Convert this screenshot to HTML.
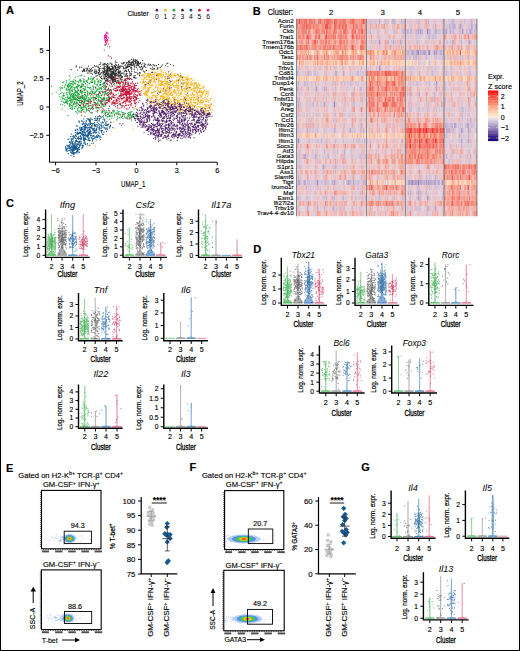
<!DOCTYPE html>
<html><head><meta charset="utf-8"><style>
html,body{margin:0;padding:0;background:#fff;}
svg{display:block;}
text{font-family:"Liberation Sans", sans-serif;stroke:#000;stroke-width:0.14px;}
</style></head><body>
<svg width="520" height="651" viewBox="0 0 520 651">
<rect x="0" y="0" width="520" height="651" fill="#fff"/>
<text x="6.00" y="13.90" font-size="11" text-anchor="start" font-weight="bold" font-style="normal" fill="#000" >A</text>
<text x="252.80" y="14.90" font-size="11" text-anchor="start" font-weight="bold" font-style="normal" fill="#000" >B</text>
<text x="6.00" y="206.90" font-size="11" text-anchor="start" font-weight="bold" font-style="normal" fill="#000" >C</text>
<text x="253.30" y="252.60" font-size="11" text-anchor="start" font-weight="bold" font-style="normal" fill="#000" >D</text>
<text x="6.00" y="471.90" font-size="11" text-anchor="start" font-weight="bold" font-style="normal" fill="#000" >E</text>
<text x="189.60" y="471.20" font-size="11" text-anchor="start" font-weight="bold" font-style="normal" fill="#000" >F</text>
<text x="361.20" y="471.10" font-size="11" text-anchor="start" font-weight="bold" font-style="normal" fill="#000" >G</text>
<g stroke-linecap="round" fill="none">
<path d="M83 97h0M91 97.8h0M103 104.8h0M67.6 97h0M73.8 81.9h0M85.5 83.4h0M78.5 98.3h0M90.5 100.2h0M75.5 90.6h0M77.7 86.7h0M75.1 99.3h0M86.4 109h0M79.4 94.4h0M78.4 93.7h0M100.2 84.4h0M108.3 99.5h0M104.3 103.4h0M109.2 97.6h0M101.5 104h0M81.5 110.5h0M86.6 81.6h0M98.1 86.3h0M79.9 102.3h0M97.3 96.7h0M89.7 88.6h0M71.9 90.1h0M77.4 108.6h0M78.4 107.1h0M88.8 108.7h0M68.8 89.2h0M84.5 96.8h0M103.3 98.9h0M92.8 109.2h0M103.8 85.6h0M100.1 95.8h0M80.2 92.2h0M93.4 97.8h0M72.7 97.8h0M100.6 80.8h0M85 92.8h0M66.7 80.7h0M77.7 85h0M94.9 91.9h0M90.9 79h0M88.1 87.6h0M67.8 86.7h0M84.9 76.2h0M69.6 104.7h0M88.4 110.2h0M87.6 103.5h0M83.8 85.2h0M69.4 93.8h0M105.8 84.8h0M88.7 79.5h0M89.8 105.6h0M71.8 105.7h0M73 80.8h0M105.4 87.8h0M93 93.3h0M95.7 107.4h0M104.7 98.4h0M100.6 97.6h0M82.2 84.3h0M85.1 98.2h0M97.7 105.8h0M68.9 84.5h0M90.9 81.8h0M78.9 97.8h0M94.1 102.3h0M78.6 104.1h0M101 106.5h0M85.5 94.4h0M96.8 95.5h0M89.3 98.1h0M103.1 92.6h0M97.8 107.5h0M95.5 102.6h0M98.4 81.9h0M104 84.9h0M92.9 93.2h0M67.6 103.7h0M84.5 98.7h0M98.4 100.5h0M94.5 82.2h0M106.9 99.5h0M91.4 108.4h0M81.1 97.7h0M71.2 96.6h0M108.2 89.2h0M91.4 91h0M77.2 95.3h0M82 109.3h0M81.9 92.8h0M108.5 96.9h0M76.6 103.7h0M75.7 83.9h0M93.4 97.5h0M79.7 105.4h0M62 100.1h0M70.3 85.2h0M100.5 101.4h0M107.2 100.2h0M105.3 105.8h0M72.6 109h0M71.2 86.4h0M82.9 109.5h0M62.8 95.9h0M88.5 77.9h0M103.4 78.1h0M99.7 97h0M91.3 82.7h0M95.2 99.3h0M79.1 107.7h0M73.6 94.4h0M83.3 78.3h0M68.2 87.3h0M92.6 91.6h0M106.9 102.3h0M91.9 88h0M79.4 101h0M90.3 102.2h0M90.5 109.5h0M60.7 90.1h0M95.2 81h0M76.6 87.4h0M74.9 106.3h0M66.3 92.5h0M98.9 96.6h0M95 87h0M69.8 105.4h0M80.1 75.4h0M84.5 102.4h0M92.9 85.6h0M81.7 103.9h0M97.3 85.2h0M99.3 88.9h0M96.4 98.2h0M66.3 99.3h0M84.1 103.6h0M88.5 100.7h0M93.1 79.4h0M87.9 104.2h0M106.5 98.2h0M96.6 94.7h0M95.3 98.8h0M96.7 103.7h0M79.5 85.3h0M89.1 94.3h0M99.7 101.6h0M80.8 96.7h0M68 90h0M73.6 93.3h0M73.8 104.1h0M76.5 103.8h0M76.4 106.1h0M66.9 101h0M91.3 94.2h0M90.3 99.4h0M73.4 95.8h0M94.4 93.7h0M74.9 88.5h0M81.4 108.6h0M62.4 82.3h0M91.2 76.6h0M100.7 88.2h0M68 101.5h0M80.2 87.7h0M93.7 100.1h0M82 100.9h0M88.3 99.1h0M71.8 87.1h0M74 93.3h0M104.6 102h0M70.8 94h0M70.2 91.8h0M76.7 86.4h0M77.3 113.5h0M80.6 98.3h0M83.5 102.8h0M93.2 98.9h0M76.8 91.3h0M89.1 93.3h0M88.8 97.6h0M98.6 89h0M86.3 105.9h0M103.2 89.8h0M86.6 108h0M75.5 97.1h0M97 105.5h0M70 100h0M105 106.2h0M79.7 111.7h0M72.6 105.2h0M103.9 85.2h0M97.3 96.2h0M71.6 90.5h0M71.1 101.1h0M97.9 101.9h0M93.3 98.4h0M67.6 99.8h0M66.4 82.1h0M74.2 102.6h0M69.4 103.6h0M100.4 88.2h0M83.7 97.7h0M71.2 81.6h0M74.1 89.3h0M105.8 103.7h0M91.5 82.3h0M105.7 92.6h0M100.3 97.5h0M73 100h0M71.7 87.3h0M96.4 90.9h0M103.3 99.6h0M63.7 98.8h0M72.6 106.8h0M73.7 99.5h0M95.3 103.4h0M72 88h0M84.7 100.4h0M84.3 102.2h0M103.1 93h0M84 106.3h0M84.9 99.5h0M81.3 95.1h0M64.2 86.8h0M80.9 100.4h0M98 83.8h0M105.6 86.6h0M70.5 81.3h0M102.8 84.2h0M97.8 102.6h0M101.9 103.3h0M84.9 81h0M84 92.4h0M93.1 86.7h0M103.8 104h0M94.4 97.5h0M81.8 107.3h0M70.5 100.8h0M87 97.6h0M73.2 84.3h0M97.5 79.6h0M101.3 89.4h0M101.3 87h0M91.1 105.5h0M83 86.3h0M80.2 81.9h0M89.2 108.1h0M70.8 85.8h0M74.9 82.9h0M104.9 99.9h0M64.8 103h0M105 93.2h0M96.1 88.9h0M84.2 79.6h0M77.9 100.4h0M95.1 84.1h0M80.4 91.4h0M110.2 93.6h0M81.7 84.9h0M74.9 102.4h0M73.1 96.8h0M99 93.4h0M61.8 97.3h0M82.2 93.5h0M77.4 95.2h0M98.4 97.9h0M86.1 96.6h0M81.6 81.2h0M97.4 110.3h0M75.1 108h0M73 85.3h0M105.3 88.4h0M91.6 98.2h0M62.9 95.5h0M69.4 82.9h0M75.2 80.9h0M88.9 101.4h0M91 93.2h0M98 82h0M81.5 108.7h0M97.6 89.4h0M80.5 86.3h0M96.6 84.9h0M98.2 89.1h0M89.8 93.4h0M99.8 100.2h0M87 84.9h0M73.6 104.5h0M93.2 89.6h0M67.9 90h0M94.9 82.7h0M82.2 91.9h0M80.8 110.8h0M90.6 112.5h0M98.4 94.4h0M79.9 104.5h0M100.8 85.1h0M108 98.2h0M106.4 87.5h0M84.9 102.6h0M71.4 94.4h0M103 92h0M87.7 95.6h0M85.3 86.7h0M80.4 86.4h0M85.9 98.2h0M108.2 97.6h0M82.7 84h0M77.6 88.6h0M96.2 91.3h0M104.3 86.3h0M77.2 88.3h0M90.8 97.8h0M96.5 94.9h0M93.1 95.7h0M72.2 89.7h0M94.8 102.4h0M71.3 99h0M92.3 92.2h0M66.3 94.8h0M85.9 96.1h0M69.4 85.9h0M104 100h0M104.6 92h0M65.6 102.2h0M102.8 86.5h0M92.9 78.8h0M88.7 103h0M108.5 97.6h0M90.9 112.8h0M82.5 95.3h0M69.6 98.3h0M97.8 81.4h0M106.3 110.3h0M78.2 81.6h0M108.8 92.9h0M83.5 80.2h0M70.7 108.6h0M79.7 102.4h0M86.4 80.7h0M65.6 101.2h0M109.1 97.2h0M76.6 112h0M90.4 81.9h0M69.2 79.9h0M78.6 104.6h0M81 91.9h0M103.2 106.4h0M72.3 91.6h0M79.3 80.5h0M84.9 89.6h0M79.3 100.9h0M97 107.8h0M80.1 92.8h0M67.2 102.5h0M66.6 89.8h0M91.8 107.2h0M67.2 85.2h0M95.9 106.8h0M97.7 110.8h0M62.5 88.2h0M72.4 96.9h0M76.9 101.7h0M85.7 89.1h0M109.2 96.2h0M68.2 83.8h0M104.3 91.3h0M70.7 104h0M88.8 79.1h0M82 98.1h0M68.6 87.2h0M69 100.3h0M81.8 93.4h0M83.8 102.2h0M62.5 85h0M80.3 97.8h0M62.8 98.1h0M106.2 100.3h0M70.1 108.2h0M82.7 96.5h0M107.1 94.1h0M74.5 108.4h0M71.4 102.9h0M96 108.2h0M72 99.6h0M84 109.2h0M81.2 91.2h0M78.5 85.8h0M100.7 85.2h0M93.7 92.8h0M102.4 108.1h0M75.6 80.4h0M70.8 93.9h0M74.9 101.7h0M107.7 98.2h0M74.6 87.6h0M71.5 99.3h0M80.4 80.3h0M95.8 88.5h0M104.2 94.8h0M81.5 107.8h0M81.9 96.2h0M72.6 81.8h0M100.6 82.4h0M95.4 98.2h0M85.2 107.1h0M92.5 82.4h0M60.2 99.1h0M90.8 91h0M83.4 81.9h0M65.9 101.7h0M75.4 80.8h0M75.4 106.5h0M84.9 101.8h0M102.2 108.2h0M91.5 101.3h0M84.7 81.3h0M96.9 78.8h0M79.9 79.2h0M81.7 111.8h0M99.4 82.1h0M81.9 83.7h0M80.3 79.7h0M98.4 104.1h0M97.5 112h0M71.8 83.8h0M70.1 90.5h0M79.7 100.7h0M103 101.8h0M84.6 88.9h0M101.2 87.9h0M90.4 87.4h0M90.9 89.4h0M92.9 81.7h0M109.2 90.8h0M102.6 94.8h0M87.9 92.2h0M92.8 106.4h0M86.7 110.7h0M94.8 82.7h0M103.7 98.1h0M91.8 107.3h0M94.6 83.8h0M66.1 89.8h0M67.2 86.4h0M97.4 89.2h0M77.8 108.8h0M99.1 87.5h0M99.2 108.8h0M87.4 94.1h0M63.7 102.6h0M102 101.5h0M94.7 80.5h0M73.5 103.6h0M102.1 99.7h0M101.9 105.1h0M79.8 97.9h0M98.2 99.4h0M87.9 106.4h0M72.1 109.4h0M70.7 87.8h0M72.5 101.3h0M61.8 92.4h0M96.8 107.3h0M107.9 92.6h0M75.1 91.4h0M74.1 101.9h0M80.5 80.2h0M93 106.1h0M104.8 83.3h0M83 107.5h0M104.4 95.8h0M78.1 76.5h0M64.1 93.1h0M90.1 92.5h0M77.5 110.2h0M84 101.1h0M85.3 95h0M88.2 106.4h0M74.4 97h0M69.6 92.5h0M87.5 80h0M87.8 92.1h0M87.5 87.1h0M60.8 88.6h0M73.4 97.3h0M72.1 108.1h0M105 92.8h0M87.2 109.3h0M89.7 93h0M71.1 83.7h0M63.5 82.2h0M92.2 79.9h0M81.2 87.4h0M106.2 93.8h0M83.6 85.4h0M84.4 90.4h0M75.8 87.1h0M80.5 108h0M69.1 98h0M80.5 102.7h0M89 83.2h0M106.3 90.8h0M101 84.5h0M80.3 105.3h0M90.8 95.9h0M72.3 86.7h0M67 90h0M70.5 102h0M70.7 105.9h0M68.3 98.6h0M68.2 98.5h0M76.6 98.7h0M59.8 96.7h0M72.5 97.4h0M90.1 103.6h0M83.3 88.3h0M90.4 78.7h0M91.7 101.3h0M96.6 100.6h0M69.7 97.3h0M99.4 105.1h0M95.3 97.3h0M85.9 107.9h0M65.1 85.2h0M69.1 106.4h0M85.3 89h0M79.5 98.2h0M80.7 87.7h0M72.4 90.8h0M85 86.5h0M101.7 99.2h0M63.5 93.9h0M66.5 88.5h0M101.9 104.5h0M74 79.7h0M72.5 96.6h0M104.2 83.6h0M88.1 99h0M95.8 86.9h0M74.3 89.1h0M64.4 95.6h0M77.4 87.8h0M76.1 91.9h0M74.3 104h0M93.1 86.3h0M68.8 86.4h0M80.7 106.7h0M84.8 105.8h0M86 104.8h0M96.5 98.4h0M84.9 100.4h0M100.5 103.6h0M78.1 85.4h0M74.8 92.8h0M75.6 80.7h0M95.6 104.1h0M92.3 78.2h0M92.8 79.2h0M82.1 101.2h0M69.9 94.3h0M69.4 75.9h0M87 110.1h0M72.9 82.3h0M83.1 98.5h0M74.2 93h0M64.8 87.3h0M103.5 100.1h0M87.5 86.8h0M98.3 91.6h0M82.2 98.1h0M103.4 105.7h0M61.6 87.5h0M101.8 81h0M84.3 82.2h0M77.8 86.5h0M73.7 98.4h0M96.1 111.2h0M95.7 92.6h0M76.9 81.7h0M98 102.2h0M72.9 83.9h0M85.3 99.5h0M96.9 90.7h0M101.4 98.4h0M66.3 93.1h0M91.8 80.7h0M79 100.3h0M69.3 100.1h0M76.9 96h0M83.3 88.9h0M60.6 93.3h0M81.9 108.3h0M69.6 92.7h0M104.1 97.5h0M97.1 79.3h0M69 91.2h0M99.4 105.7h0M101.5 103h0M88.5 79h0M101.4 91.7h0M83.6 84.6h0M74.1 96.8h0M66.1 89.7h0M81.1 99.5h0M92 113.3h0M96.1 95.8h0M66.5 101.8h0M72.2 93.6h0M81.7 102.5h0M73.8 98.8h0M107.1 89.3h0M107.1 95.1h0M100.9 91h0M71.8 94h0M88.4 104.9h0M81.8 86.8h0M86.4 111.1h0M91.9 80.7h0M70.9 83.8h0M77 93.2h0M68 88.1h0M99.9 85.4h0M89.1 87.4h0M89.8 83.8h0M82.9 97.7h0M107.7 92.7h0M90.7 108.7h0M92.3 104.3h0M100.4 80.3h0M75.4 77.3h0M89.1 99.5h0M70.3 83.5h0M72.6 95.4h0M98.8 80.5h0M104.6 98.9h0M93.9 104.9h0M90.2 103.1h0M64.5 102.9h0M86.8 91h0M68.8 84.8h0M82.8 91.2h0M93.7 78.4h0M109.2 97.3h0M92.5 107.7h0M98.7 95.4h0M89.6 111.7h0M66.6 102.9h0M79 94.2h0M84.9 90h0M62.5 98.5h0M76.7 92.6h0M70.6 98.2h0M83 88.6h0M64.8 99.7h0M67.4 103.9h0M87.3 91h0M94.5 93.2h0M75.3 94.3h0M79.6 100.8h0M78.8 90.2h0M73.5 84.2h0M67.9 96.2h0M76 91.1h0M77.8 89.8h0M75.7 95.4h0M83.9 102.1h0M68 92.3h0M62 108.9h0M59.1 94.5h0M63.6 95.3h0M77.6 99.2h0M71 99.8h0M70.4 88.3h0M69.5 89.5h0M89.3 101.1h0M80.9 80.9h0M75.2 99.4h0M61.8 101.7h0M67.3 94.8h0M77.9 94.1h0M75.7 98.2h0M85.2 105.6h0M86.8 95.9h0M59.9 87.2h0M72.1 99.4h0M85.4 92.3h0M70.6 95.6h0M77.6 99.8h0M82.1 93.5h0M56.2 92h0M52.2 93.8h0M97.4 103.6h0M78.9 110.5h0M67.6 97.8h0M80.3 90.2h0M71.4 99.9h0M78 91h0M75 99.7h0M74.4 89.9h0M79.1 94.1h0M77 86.8h0M75.6 92.4h0M64.4 105.8h0M77.2 96.8h0M83 104.8h0M84.2 90.3h0M77.8 90.9h0M74.2 97.8h0M85.6 87.6h0M82.2 97.8h0M67.9 115.4h0M75.2 103.5h0M75.7 97.7h0M83.2 95.5h0M76.2 103.9h0M85 112.4h0M78.6 82.7h0M64.7 98.9h0M68.1 85.1h0M85.4 83.7h0M63.1 96.3h0M85.8 100.8h0M67 100.5h0M68 97.3h0M51.5 86.2h0M79 94h0M79.3 67.8h0M87.2 101.2h0M92.9 91.2h0M83.6 99.4h0M74.5 98.7h0M76.9 100h0M74.7 95.7h0M70.1 92.2h0M77.9 97.4h0M79.3 101.5h0M70.2 89.8h0M62.7 104.3h0M91.8 97.8h0M81.3 89.8h0M77.3 105.2h0M78.8 85.2h0M78.6 95.2h0M83.3 106.9h0M76.7 98.8h0M84.3 89.2h0M74.6 83.6h0M78.4 100.4h0M79.2 98.5h0M70.3 89.5h0M86.8 100h0M73.5 99.6h0M70.3 88.4h0M79.2 94.7h0M78.8 112.1h0M79.8 96.6h0M93 89.8h0M75.3 92h0M75.7 111.5h0M60.8 104.4h0M65.7 84.1h0M75.2 94.7h0M73.9 87.5h0M81.8 86.3h0M81.5 115.4h0M65.9 97.3h0M77.5 84.5h0M76.6 102.4h0M84.1 100.3h0M71.9 94.6h0M69.4 103.8h0M70.6 87.8h0M71.8 107.5h0M63.6 101.8h0M82.8 91.6h0M78.3 85h0M79.7 98.8h0M70.4 96.8h0M76.9 99.6h0M82.3 103.2h0M75.8 99.8h0M83.9 107.4h0M77.6 92.3h0M71.4 94.9h0M62.7 88h0M82.2 110h0M87.9 91.3h0M86.7 98.2h0M72.6 105.1h0M84.2 102.1h0M81.5 102.7h0M74.5 93.6h0M72.1 102.2h0M80.8 102.7h0M74.3 93.8h0M76.8 95.9h0M114.2 111.5h0M131.6 115.8h0M126.1 117.6h0M133.7 113.2h0M118.3 113.8h0M111.1 113.4h0M133.4 116.4h0M107.9 113.9h0M119.3 117.5h0M108.6 110.7h0M129 116.6h0M112.6 110.7h0M117.3 110.6h0M127.9 117h0M121.3 117.4h0M135.7 114.4h0M110 115.7h0M107 116.2h0M102.4 111.3h0M132.7 115.2h0M111.7 115.8h0M123.6 114.1h0M129.7 112.7h0M107.9 116.7h0M127.3 116h0M101.7 112.7h0M123 118.4h0M127.3 116.6h0M118.9 113.7h0M110.4 116.1h0M132.2 117h0M128.5 115.8h0M109.5 116.4h0M113.2 111.9h0M116.9 114h0M119.9 118.1h0M125.5 113.4h0M109.2 116.2h0M104.2 119.2h0M107.6 114.4h0M108.4 113h0M102.1 111.3h0M109.7 112.9h0M102.9 113h0M130.5 115.3h0M114.4 115.6h0M101 110h0M118.1 114.7h0M137.1 118.1h0M130.9 111.7h0M112.6 115.8h0M136.1 115.9h0M103.7 111.3h0M115.4 113.2h0M105.8 111.5h0M123 114h0M130.2 118.6h0M117.8 112.4h0M123.9 112.6h0M120.3 114.3h0M108.5 114.4h0M119.3 114h0M122.4 116.4h0M134.8 114.7h0M130.6 114.1h0M129.9 115.4h0M127 118.3h0M118.1 113.9h0M124.1 115.2h0M119.3 111.5h0M130.7 114.2h0M121.2 116.5h0M130.5 112.7h0M130.9 116.6h0M135.4 114.3h0M116.4 112.8h0M104.9 114.4h0M118.7 111.7h0M121.2 111.9h0M112.9 113.3h0M131.8 115.9h0M103.3 115.5h0M102.4 111.7h0M128.4 112.5h0M102.7 116.5h0M107.3 112h0M131.6 119.1h0M114.5 114.4h0M131.8 111.7h0M121.4 117.4h0M106.3 112.3h0M131.9 117.3h0M124.6 116.6h0M104.5 110.5h0M109.5 115.3h0M130.9 117.8h0M117.8 116.5h0M130.5 113.1h0M124.4 113.8h0M129.7 117.9h0M134.8 116.5h0M129.1 114h0M107 118h0M127.6 115.9h0M127.5 113.6h0M112 115.9h0M105.5 113.6h0M116.8 119.4h0M105 112.6h0M122.4 115.7h0M101.9 88.5h0M119.2 96.4h0M103.3 97.5h0M120 82.8h0M117 83.8h0M101.3 101.8h0M121.1 80.6h0M90.9 100.1h0M107 93.6h0M101.3 94.9h0M120.6 91.3h0M118.4 93h0M119.7 84.5h0M107.3 70.2h0M108.3 86.8h0M102.7 100h0M109.7 119.7h0M116.6 81.6h0M111.8 97.2h0M120.5 104.9h0M108.2 99.9h0M111.5 99.4h0M110.9 89.5h0M114.6 83.4h0M111.9 93.8h0M97.3 84.7h0M108.1 100h0M113.1 89.7h0M106 94.3h0M109.5 99.6h0M109.7 89.5h0M116.7 94.5h0M99.5 91.9h0M111.5 71.3h0M102.1 99.4h0M114.7 85.2h0M119.4 72.5h0M122.9 84.2h0M123.9 85.9h0M107.8 92.9h0M109.9 100.2h0M118.4 86.5h0M110.5 90h0M125.8 89.6h0M120.2 89.6h0M105.3 73.6h0M113.8 94.8h0M113.9 102.8h0M117.8 108.3h0M117 80.9h0M121 79.4h0M110.9 77h0M119.3 104.2h0M101 80.9h0M106.2 70.8h0M110.8 86.9h0M100.5 66.6h0M99.6 91.9h0M99.2 89.2h0M113.2 96.2h0M133.9 109.1h0M137.8 110.7h0M104 75.3h0M131.4 120.8h0M104.9 63.8h0M138.8 98.6h0M112 116.1h0M121.7 105.9h0M134.5 103.5h0M106.9 65h0M118 65.2h0M116.9 120h0M120.7 73.8h0M112.9 102.7h0M110.3 124.5h0M130.9 96.5h0M111.8 118h0M109.8 112.8h0M118.4 65h0M126.9 84.3h0M104.8 45.2h0M105.2 45.5h0M107.8 46h0M104.3 50.2h0" stroke="#1fa83e" stroke-width="1.25"/>
<path d="M109.2 80.5h0M120.3 75.5h0M125.7 75.6h0M107.5 70.2h0M142.9 63.1h0M137.4 73h0M136.1 78.1h0M135.2 75.6h0M128.6 70h0M107.2 65.3h0M134.9 77.1h0M124.5 71.2h0M104.2 66.8h0M103.4 72.6h0M127.2 62.5h0M107.3 80.2h0M117.6 74.9h0M119.4 68.5h0M142.1 69.4h0M105.7 74.5h0M124.3 80.5h0M110.4 68.5h0M130 73.4h0M110.6 78.4h0M115.6 64.7h0M121.6 77.3h0M125.6 79.8h0M108.4 81h0M114.9 80.2h0M136.3 62.7h0M100.6 77.4h0M129.1 64.4h0M108.4 76h0M118.3 69.8h0M112.8 81.9h0M125.7 80.7h0M120.9 73.2h0M144.1 71.6h0M94.8 71h0M131.6 59.3h0M110.3 62.9h0M131.7 69.7h0M125.9 68.7h0M134.1 69.6h0M132.4 65.3h0M130.8 68.1h0M113.6 74.2h0M121.5 63h0M112 79.4h0M133.9 75.8h0M114.2 65.4h0M103.8 76.8h0M131.8 79.4h0M119.7 68.1h0M131 75.6h0M135.8 60.9h0M116.9 62.5h0M131.6 65.3h0M122.6 63.8h0M106.4 76h0M111.3 74.4h0M117.8 78.3h0M109.9 82h0M115.5 81.4h0M116.7 73.4h0M104.8 68.5h0M107.8 71h0M142.7 60.5h0M121.4 76.7h0M142.1 75.6h0M127.8 81.8h0M94.4 72.2h0M89.2 70.4h0M113.7 70.7h0M129 64.3h0M128.8 78.3h0M125.5 70.4h0M107.4 69.3h0M118.7 73.5h0M89.7 68.8h0M131.8 71.3h0M102.3 78.9h0M133.8 60.4h0M121.3 81.7h0M104.8 78.4h0M106.4 64.7h0M127.7 67.3h0M113.1 80.3h0M126.7 67.7h0M103.3 68.5h0M112.6 66h0M95.9 76.1h0M144.3 65.5h0M94.9 69.7h0M115.6 61.2h0M112 72.9h0M135.9 72.4h0M115.2 62.8h0M96.2 70h0M105 79.1h0M112.6 80.2h0M129.5 66.4h0M121.1 82.4h0M134.1 69.5h0M129.5 61.8h0M138 64.4h0M98.9 69.8h0M105.3 81.1h0M115.5 66.3h0M98 66.2h0M129.7 75.9h0M125.8 74.1h0M129.6 71.5h0M118.3 76.3h0M133.8 77.1h0M125.6 64.8h0M92.9 67.3h0M107.5 63.5h0M105 66.4h0M114.2 77.4h0M145.8 67.3h0M126.5 71.6h0M125.3 83.3h0M99.5 71.9h0M128.7 64.2h0M121.9 82h0M119.7 75.2h0M144.6 63.9h0M120.5 71.3h0M92.4 74.1h0M122.8 79.9h0M126.3 67.1h0M139.6 75.7h0M127.8 65.5h0M136.5 67.7h0M124.7 62.7h0M120.6 78.8h0M111.3 70.1h0M124.8 76.2h0M106.6 78.3h0M128.1 71.1h0M91 69.4h0M117.7 69.4h0M98.6 73.5h0M96.6 66h0M111.7 68.4h0M119 66.8h0M107.9 73.2h0M129.9 62.5h0M94.6 65.6h0M141.7 69.9h0M107.9 72h0M125.8 68.5h0M121.6 73.1h0M125.7 82.4h0M131.1 64.5h0M123.4 63.7h0M139.6 75h0M104.3 64.3h0M116.5 83h0M131.3 74.2h0M113.2 67.4h0M130.8 78.6h0M112.9 78.7h0M129.7 79.1h0M134.4 71.9h0M126.9 73.4h0M104.6 74.6h0M107 79.2h0M115.7 67.1h0M142.9 67.8h0M125 78.9h0M132.7 64.8h0M134 61h0M104.3 69.2h0M115.7 77h0M88.2 71.1h0M139.6 72.7h0M109.2 77.6h0M112.5 68.2h0M121.2 75h0M117.6 67.3h0M100.4 64.1h0M105.8 80.7h0M107.5 84.3h0M124.2 68.6h0M107.3 68.4h0M98.7 74.3h0M122.5 73.1h0M94.2 72.2h0M119.3 72.9h0M104.6 70.8h0M140.5 63.2h0M107.8 70.2h0M98.8 67.9h0M134.7 64.2h0M142.9 67.3h0M138.6 61.7h0M115.9 70.8h0M140.5 72.8h0M89.9 71.9h0M95.2 71.4h0M130.3 75.2h0M131.4 73.3h0M113.5 71.6h0M111.1 83.5h0M107.3 68h0M129.7 72h0M127.2 78.4h0M96.4 76h0M131.3 62.3h0M108.1 71.4h0M121.1 79.6h0M120.9 82.6h0M125.7 70.8h0M134.9 78.2h0M133.2 64h0M107.9 74.1h0M103.4 83.1h0M106.5 71.3h0M95.2 66.6h0M103.1 63.9h0M108.1 65.7h0M98 67.1h0M116.1 67.4h0M133.8 77.4h0M124 74.2h0M99.2 69.2h0M143.5 71h0M112.5 68.9h0M111 75h0M92.5 70.3h0M92 70.7h0M116.6 82.7h0M129.9 75.1h0M126.3 70.9h0M142.3 68.5h0M129.7 62.1h0M107.4 72.1h0M112.9 72h0M114.3 76h0M127.1 66.5h0M106.9 67.3h0M120.2 67.2h0M128.4 66.5h0M95.8 73.7h0M100.8 62.6h0M137.8 69.8h0M99.2 64.3h0M89.5 70.9h0M141.1 66.8h0M96.7 73.1h0M116.6 65h0M120.5 75h0M112.9 82.6h0M107.4 75.4h0M97.8 75.3h0M120.4 83.1h0M113.1 69.5h0M144.6 72h0M118.8 73.2h0M108 66.8h0M108.7 68.6h0M118.1 67.9h0M108.8 74.2h0M121.6 66h0M111.2 77.3h0M101.6 76.2h0M98 72.6h0M105.8 71h0M114.3 79.8h0M106.7 80.2h0M122.9 66.5h0M112.4 75.7h0M121.8 76.3h0M109.4 70.9h0M116.8 69.6h0M113.8 73.3h0M106.7 83.4h0M113.1 82.7h0M119.1 77.8h0M108 70.6h0M112.6 72.5h0M104.2 83.1h0M127.4 75.7h0M113.2 71.8h0M105.3 74.9h0M111.8 75.7h0M118.3 82.7h0M111.8 74.1h0M110.4 74.5h0M105.5 80.3h0M115.5 67.2h0M112.1 78.4h0M116.3 70.3h0M116.2 74.5h0M108.1 74.5h0M104.5 71.3h0M103.9 77.3h0M118.7 71h0M113.2 79.6h0M101.9 72.7h0M115.6 75.6h0M109 64.1h0M107.4 77.6h0M108 73.9h0M110.8 77h0M107.7 74.5h0M113.5 68.2h0M114 77.3h0M114.4 69.9h0M107.9 67h0M104.6 63.6h0M114.1 73h0M111.6 84.1h0M112.2 76.3h0M103.4 71.3h0M107.7 73.6h0M104.8 69.8h0M107.3 74h0M103.6 73.6h0M115 73.4h0M119.4 73.2h0M113.1 73.9h0M117.7 75h0M112.1 76h0M106.8 76.6h0M104.2 78.9h0M108 71.9h0M110.3 75.2h0M99.5 70.9h0M116.1 74.5h0M104.3 78.5h0M124 69h0M109.1 67.4h0M107.8 72h0M125.5 67h0M123.9 72.8h0M109.5 70.7h0M115.8 71.2h0M110.5 72.1h0M112.1 74.1h0M110 69.3h0M116 73.5h0M112.1 64.1h0M111.3 69.4h0M105.1 70.7h0M105.7 64.1h0M103.8 76.8h0M110.4 69h0M111.4 63.9h0M121 77.7h0M110.8 74.3h0M107.4 70.6h0M110 70.4h0M115.1 67.6h0M115.1 68.5h0M112.6 78.4h0M123 66.3h0M115.8 79.3h0M111.9 79h0M106.5 72.9h0M126.4 76.2h0M117.9 72.2h0M110.5 76.9h0M112.4 80.3h0M106.9 68.9h0M114.7 66.4h0M115.8 79.3h0M123.6 67.5h0M109.4 76.6h0M109.1 75h0M101.3 72.5h0M115.8 70h0M114.9 73.3h0M109.9 68.7h0M110.6 74.4h0M110.4 75.9h0M115 67.8h0M112.2 77.6h0M115.8 71.6h0M103.3 73.5h0M113.3 78.1h0M111.4 73.1h0M114.2 79h0M118.2 81.6h0M108.8 77.6h0M113.5 79.7h0M109 76.3h0M116.4 69.1h0M112.1 72.1h0M109 69.9h0M103 74.8h0M112.5 73.6h0M111.2 74.4h0M107.8 68.8h0M114.5 74.5h0M115.3 74.8h0M104.2 67.8h0M107.4 81.1h0M115.8 68.1h0M118.3 76.3h0M109 76h0M113.1 73h0M113.8 78.2h0M116.3 65.3h0M108.1 79.1h0M126.1 68.2h0M119.4 66.5h0M120 72h0M119.4 75.7h0M107 68.7h0M104.1 65h0M91.3 68.3h0M112.6 71.4h0M115.3 71h0M116.1 75h0M109.3 67.7h0M99.7 76h0M111.8 64.8h0M106.9 71.3h0M122.1 77.7h0M110.7 76h0M102.3 70.9h0M109.4 66.9h0M119.9 71.3h0M120.3 65.9h0M118 76.6h0M105.2 74.4h0M113.7 76h0M109.3 69h0M105.4 73.8h0M108.1 72.9h0M96.5 71.8h0M100.6 73.7h0M120.6 74.5h0M110.1 77h0M98.8 70.6h0M118.8 70.7h0M99.9 68.4h0M115.2 75.4h0M113.1 77.2h0M112.8 74.1h0M118.6 64.9h0M129.9 74.8h0M126.7 74h0M120.6 75.6h0M115.1 73.7h0M111.1 79.8h0M117.8 80.7h0M102.9 64.9h0M115.6 80.6h0M104.9 68.4h0M106.4 72.5h0M119.1 72.7h0M114.1 66h0M99.9 74.4h0M114.3 70h0M113.7 73.8h0M116.3 70.5h0M112.2 81h0M106.8 71.3h0M108.6 76.5h0M106.3 67.1h0M107.2 66.6h0M113.9 81.4h0M116.4 75.6h0M115.1 71.6h0M102 68.4h0M117.9 66.7h0M123.2 68h0M109.4 69.1h0M104.2 70.9h0M110.7 71.8h0M114.7 73.7h0M120.5 71.2h0M106.2 70h0M111.3 78.2h0M113.1 71.3h0M113.2 67.6h0M109.4 70h0M105.3 75.7h0M106.6 70.1h0M104.7 74.3h0M105 82.3h0M105.4 76.9h0M115.5 77h0M113.1 68.5h0M126.1 74h0M105 78.8h0M111.7 69.9h0M116.3 73.4h0M116.1 73h0M118.8 75h0M109.8 73.2h0M119.1 73.1h0M107.6 73.8h0M115.8 75.2h0M103.6 68.1h0M110.3 76.8h0M113.5 80h0M122.3 76.7h0M113.3 72.4h0M106.6 74h0M105 77h0M101.4 78.4h0M110.9 69.9h0M113 73.7h0M112.5 67.4h0M94.1 77.4h0M112.3 76.3h0M96.7 71.4h0M105.8 73.6h0M118.4 67.9h0M115.2 75.3h0M98.7 72.6h0M112 71.7h0M115.2 78.6h0M116.8 78.3h0M117.9 72.6h0M108.1 67.7h0M99.8 70.3h0M114 72.4h0M111.6 76.7h0M118 72h0M111.3 66.4h0M119.1 72.2h0M95.1 73h0M110.7 76.3h0M112.1 75.1h0M108.4 76.8h0M104.8 72.4h0M113.3 71.6h0M117.7 74.7h0M113.6 73.9h0M115.1 75.6h0M106 72.9h0M110.3 71.6h0M112.5 73.1h0M103.7 71.9h0M138 65.6h0M126.6 62.5h0M135.5 60.7h0M134.6 67.8h0M135.8 61.7h0M135.4 59.6h0M133.6 59.1h0M131.8 59.3h0M131.1 62.9h0M138 64.9h0M141.1 67.2h0M134.3 65.6h0M130.1 64h0M132.1 61.5h0M137.9 62.4h0M135.4 63.2h0M137.7 65.1h0M127.8 64.8h0M144.5 65.8h0M138.4 65.4h0M140.3 62.6h0M131.5 63h0M128.6 61.6h0M138.6 62.4h0M131.2 67.2h0M136.2 62.8h0M131.4 63.5h0M134.4 66.6h0M135.5 61.8h0M133.3 60.7h0M131.8 68.1h0M128.8 62.8h0M137.3 64.6h0M132.9 62.2h0M130.7 65.8h0M133.6 64.8h0M136.6 60.4h0M127.2 65.1h0M137.8 64h0M137.2 60.2h0M132.7 62.7h0M131.9 65.2h0M123.5 62.7h0M138 63.1h0M129.5 64.7h0M128.7 66.1h0M131 67.3h0M135.3 61h0M133.4 63.6h0M136.2 60.5h0M137.4 61.6h0M126.7 63.4h0M130.8 64.1h0M140 63.6h0M140.5 69h0M141.8 64.5h0M139.3 67.3h0M139.1 64h0M139.2 66.5h0M135.2 61.8h0M136.5 65.1h0M128.5 61.2h0M138.9 63.4h0M137.2 63.3h0M128.9 62.3h0M124.9 65.3h0M128.3 69.3h0M130.7 64.4h0M129.9 60.3h0M133.7 62.2h0M173.5 65.5h0M136 66h0M147.8 65h0M148.5 64.1h0M141.6 66.4h0M154.9 65.8h0M152.1 69.2h0M149.2 65h0M167.9 66.6h0M150.5 64.3h0M151 65.4h0M154.1 68.9h0M143.9 66.2h0M160.2 67.4h0M153 64.5h0M157.8 67.3h0M154 65.2h0M165.7 65.5h0M154.1 68.7h0M155 66h0M153.1 69.1h0M154.6 68.8h0M161.3 66.1h0M162.8 64.9h0M170.6 64.5h0M157.8 67.9h0M157.7 68.5h0M166.7 63.8h0M152.6 67.1h0M156.5 65.6h0M158.5 64.4h0M150.7 68.4h0M157.5 68.9h0M137.7 63.7h0M144.8 66.5h0M167.8 63.2h0M154.1 68.7h0M146.4 70.4h0M145.6 64.3h0M140.7 67h0M77.5 70.1h0M86.1 68.5h0M83.7 68.9h0M87.8 68.1h0M81.7 67.1h0M91.1 73.4h0M88.6 66h0M86.1 71.2h0M90.7 69.9h0M81.8 75.2h0M86 68h0M88 72.8h0M84.2 71.3h0M87.1 69.5h0M84.4 70.7h0M71.2 69.7h0M79.8 67.2h0M87.7 69h0M84.4 69.7h0M76.2 65.9h0M93.1 67.4h0M83.8 71.2h0M84.4 69.6h0M76.1 66.9h0M87 70.3h0M91.1 71.6h0M83.4 70.2h0M82.5 71.5h0M82.2 71.1h0M87.9 73.4h0M108.3 55.8h0M111.5 58.2h0" stroke="#2e2e2e" stroke-width="1.25"/>
<path d="M118 86.2h0M108.2 101.4h0M139.8 95.1h0M123.2 91.3h0M130.7 99.4h0M135.8 88.3h0M125.5 80.9h0M132.5 81.6h0M113.3 94.1h0M111.4 98.4h0M118.8 82.2h0M119.7 95.3h0M113.7 103.2h0M129.2 98.5h0M103.8 87.4h0M132 92.1h0M125.4 105.4h0M105.6 91.2h0M122.6 87h0M124.7 85.6h0M117.3 82.5h0M115.8 101.7h0M115.6 90.6h0M109.1 101.8h0M121.6 91.6h0M122.6 90.7h0M134.1 92.2h0M135.6 91.1h0M109.4 93.6h0M111.9 104.5h0M107.7 80.9h0M130.1 87.5h0M134.5 100.7h0M134.4 90.1h0M118.2 80.7h0M136.5 91h0M108.6 100.3h0M127.8 101.1h0M116.1 99.9h0M123.1 82.3h0M133.4 100.6h0M140.9 95.2h0M120 95.6h0M122.3 102.3h0M113.4 82.5h0M132.8 90h0M109.1 102h0M120.3 104.7h0M134 89.5h0M118 80.6h0M109.7 90.9h0M124.7 93.6h0M129.7 85.4h0M119.9 108h0M129 92.4h0M128.6 84.7h0M133.6 83.9h0M139.4 91.7h0M134.6 103.1h0M128.1 97.4h0M109.1 97.9h0M111.5 92.2h0M123.6 83.5h0M120 90.4h0M102.7 91.7h0M123.6 82.1h0M122.4 89.6h0M110.1 97.8h0M124.1 84h0M126.8 95.7h0M112.1 85h0M131.4 98.4h0M140.1 95h0M134.8 86.5h0M123.5 102.3h0M128.4 92.3h0M116.1 94.7h0M137.3 98.8h0M118.9 98.5h0M116.2 100.5h0M110.5 89.7h0M135.8 90.5h0M109.9 98.4h0M115.1 104.2h0M109.2 77.9h0M134.9 86.2h0M116.9 103.2h0M133.7 94.9h0M133.5 98.5h0M138.2 92.5h0M124.1 97.1h0M137.6 95.2h0M120.3 82.9h0M107 102.5h0M108.2 99.6h0M120.3 103.1h0M126.4 93.8h0M135.5 97.8h0M118.7 87.1h0M130.7 94.1h0M127 105.2h0M123.6 87.6h0M117.9 102.9h0M111 97.9h0M109.4 85h0M115.8 97.8h0M130.9 83.7h0M116.4 90.4h0M106.2 81.8h0M136.5 99.3h0M126.8 100.8h0M123.8 101.6h0M114.6 103.7h0M122.1 82h0M120.3 97.2h0M124.4 89h0M110.1 82.6h0M123.8 105.8h0M114.8 88h0M120.1 86.4h0M118.5 83.5h0M132.3 83.2h0M129.4 77.9h0M129.4 101.1h0M136 91.4h0M129.4 100.3h0M126.1 78.6h0M128.9 88.3h0M126.2 80.1h0M112.1 86.3h0M114 100.4h0M125.9 94.4h0M115.8 103.6h0M109.6 97.9h0M135.5 83.3h0M120.6 78.8h0M121.7 107.5h0M135.8 100.2h0M113 94.7h0M129.6 97.6h0M120.6 104.2h0M121.8 89.9h0M121.9 94.8h0M137.5 89.5h0M128.6 94.3h0M126.5 98.1h0M126.1 89h0M122.1 98.6h0M113.8 84.3h0M123.7 95.2h0M120.1 82.6h0M127 97.9h0M126 98.9h0M118 97h0M122.6 85.1h0M111.6 83.1h0M120.6 95.6h0M123.7 91.5h0M122.4 98.4h0M119 78.9h0M123.7 96.8h0M107.2 90.3h0M114.5 81.7h0M106.6 86.4h0M108.6 95.8h0M137.3 95.9h0M124.7 107.2h0M135.8 91.8h0M116.4 87.8h0M121.8 95.1h0M111.3 90.3h0M116.2 86h0M113 93.2h0M131.5 100.5h0M129.8 93.3h0M135.4 96.9h0M105.4 91.3h0M125.8 82.4h0M129 89.7h0M118 100.7h0M111.3 93.2h0M126.6 92.1h0M127.4 94.2h0M111.2 103h0M112.8 97h0M130.2 104.4h0M123.4 86.3h0M136.7 85.4h0M131.4 92.2h0M108.4 89.9h0M131 82.9h0M133.4 97.9h0M128.4 85.5h0M110.2 92.3h0M135.6 96.7h0M130.3 93.9h0M119.6 99.2h0M137.5 83.2h0M135.2 85.3h0M129.6 107.6h0M122.9 93.7h0M136.5 98.3h0M108.7 100.8h0M129.3 91.4h0M110.7 98.2h0M124.2 101.4h0M120.6 78.9h0M121.6 96.2h0M131.4 86.7h0M117 100.8h0M139.8 100.7h0M106.7 100.4h0M110.4 94.4h0M122.1 88.9h0M128.8 101.8h0M110.5 80.9h0M119.3 87h0M104.5 88.9h0M121 86.8h0M114.8 102.6h0M122.1 94.8h0M114 95.8h0M136.5 97.3h0M114.6 97.7h0M109.4 99.3h0M130.3 85.5h0M122.1 82.1h0M127.9 78.2h0M129.5 79.5h0M137.9 91.5h0M114.8 88.2h0M119.5 87.4h0M117.5 89.3h0M128 88h0M124.9 92.5h0M131.6 103.9h0M122 99.8h0M126.5 108.8h0M123.9 97.8h0M112.7 103.2h0M122.3 103h0M134.6 88h0M134.8 97.4h0M131.2 103h0M121.1 82.2h0M128.1 90h0M119.2 81h0M113.6 100.3h0M128.6 105.2h0M111.9 96.2h0M125.2 91.9h0M129.4 96.7h0M108.5 94.5h0M122.8 87.5h0M129 87.7h0M135.3 103.3h0M121.9 90.7h0M120 103.7h0M123.1 90.8h0M126.8 91h0M134.9 87.9h0M117.8 87.1h0M132.9 86.4h0M127.7 94.1h0M117.8 107h0M138.2 88.7h0M134 88.1h0M113.2 101.8h0M108.5 88.5h0M132.7 89.6h0M123.4 92.1h0M125.7 93.7h0M120.6 94.2h0M121.2 93.3h0M123.9 94.5h0M116.1 88.3h0M117.2 98.1h0M117.3 87h0M114.2 78.1h0M132.7 86.1h0M109.3 98.8h0M124.1 100.9h0M114.9 77.4h0M124.5 80.1h0M114.8 95.5h0M117.9 89.2h0M123.1 88.8h0M114.7 102.6h0M139.2 94.2h0M140.1 93.5h0M135.4 106h0M116.8 101h0M125.3 92.5h0M124.1 88.9h0M130.1 87.2h0M126.6 95h0M114.3 90.7h0M116.2 88.2h0M113.1 78.8h0M117.6 90.4h0M130.1 90.2h0M131.7 89.1h0M122.4 95.2h0M129.9 97.1h0M141.7 90.5h0M132.2 89.8h0M127.5 93h0M135.8 91.8h0M119.8 76.4h0M134.4 93.8h0M133.6 91.2h0M122.3 88.3h0M133.6 88.1h0M130.7 99.7h0M119.5 101.4h0M129.5 94.6h0M128.3 98.8h0M126 98.5h0M129.1 96.2h0M125.7 100.7h0M131.5 89.4h0M128.5 91.6h0M130.2 98h0M119.4 96h0M133.3 96h0M127.7 97.7h0M123.6 89.9h0M124.8 86.7h0M129.7 94.8h0M130.1 98.3h0M126.1 93.3h0M122.3 87.2h0M121.1 98.7h0M129.7 87h0M125.9 86.5h0M118.2 98.8h0M129.8 102.2h0M127.6 92.4h0M125 88.8h0M125.6 88.3h0M126.2 94.5h0M125.3 103.5h0M126.4 99.7h0M136.6 90.4h0M134.3 96.3h0M123.1 90.9h0M113.9 88.9h0M129.7 89.1h0M127.7 91.1h0M126 92.2h0M126 91h0M131.1 105.7h0M125 93.1h0M126.4 89.8h0M129.9 93.8h0M134.8 99.7h0M125.4 84.4h0M129.5 98.2h0M131.2 93.7h0M127.8 92.8h0M126.9 94h0M130.5 91.1h0M121.7 95.1h0M124.7 94.3h0M126 83h0M126.9 92.7h0M131.8 96.4h0M129.6 94.9h0M133.9 87.4h0M136.2 102.5h0M129.3 88.8h0M135.2 91.5h0M129.2 93.2h0M129.5 91h0M130.7 94.6h0M126.7 97.6h0M130.7 90.9h0M126.7 97.1h0M121.3 94.8h0M129.1 85.6h0M126 101.9h0M131.7 87.9h0M127.1 91.2h0M125.1 89h0M127.7 91h0M135.9 104h0M129.3 92.2h0M121.4 89.5h0M125.1 94.5h0M136.9 90.9h0M135.5 94.6h0M130 93.1h0M116 88.8h0M127 96.4h0M123.8 91.1h0M122.7 91.7h0M124.5 97.8h0M124 87.5h0M127.6 99.9h0M128.2 92.8h0M131.2 93.5h0M131.9 97.7h0M128.4 83.5h0M129.7 97h0M133.7 89h0M124 94.7h0M128 93.9h0M125.5 92.8h0M127.9 79.4h0M133.2 90.3h0M119.4 83.4h0M127.7 83.3h0M126 86.4h0M125.9 89.9h0M136.6 95h0M134.4 85.2h0M126.6 86.6h0M130.6 101.7h0M128.3 82.9h0M127 98.9h0M135.2 90.6h0M127.6 86.5h0M119.5 90.2h0M134 88.3h0M130.2 94.2h0M125.5 88.6h0M119.7 90.9h0M130.2 97h0M128.5 93.3h0M120.1 85.2h0M124.5 90.1h0M120.8 88.8h0M126.3 93.4h0M127.8 84.9h0M123.3 98.2h0M123 94.2h0M134.9 101.7h0M120.9 92.3h0M125.5 88.1h0M131.9 93.6h0M134.1 85.3h0M116 91.5h0M127.6 100.3h0M125.9 95.6h0M133.7 77.5h0M127 89.4h0M122.2 89.3h0M126.6 105h0M122.8 90.2h0M132.8 107.4h0M83.6 105.2h0M89.3 110.9h0M102.2 103.8h0M105.7 102.9h0M95.1 104.4h0M81.6 101.5h0M105.1 85.7h0M79.9 105.5h0M101 102h0M101.1 100.6h0M107.5 95.3h0M109.6 101.1h0M88.7 106h0M92.1 112.4h0M91.8 94.4h0M77.5 103h0M115.6 106.5h0M95.5 87.6h0M83.4 104.4h0M90.9 101.6h0M95.5 105.3h0M90.1 105.6h0M105.7 101h0M100.9 100.7h0M90.8 103.1h0M93 97.2h0M94 100.2h0M103.8 109.2h0M80.5 90.6h0M88.7 108.3h0M84.5 94.7h0M78 96.7h0M92.9 107.6h0M112.2 102h0M99.5 105.2h0M96.9 104.5h0M80.6 105.3h0M102.9 92.4h0M86.8 103.3h0M99.4 105.3h0M109.4 106.2h0M116.8 99.6h0M87.4 93.5h0M102.8 110h0M88.8 101.9h0M83.9 111.5h0M97.8 107.7h0M87.8 103.5h0M106.9 103.5h0M81.7 97h0M92.9 105.2h0M99 107.7h0M95 94.3h0M105.4 104.4h0M81.6 101.2h0M85 116.3h0M94 102.2h0M104.9 94.3h0M102.2 101.3h0M99.9 93.4h0M100.5 93h0M96.8 104.4h0M101.1 107.5h0M81.1 112.6h0M94.5 102.7h0M105.2 113h0M88.8 102.2h0M97.9 110.4h0M99.6 115.5h0M103.2 98.7h0M90.7 101.3h0M96.1 98.2h0M98.6 107.8h0M93.3 108.4h0M102.6 104.6h0M109.6 110.9h0M85.9 103.8h0M101.4 95.6h0M82.5 101.4h0M87.6 100.9h0M127.6 76.9h0M143.5 106.1h0M125.2 101.8h0M122.9 114.3h0M132.5 91.9h0M137.8 74.3h0M149 116.4h0M124.3 90.6h0M149 73.8h0M122.4 106.1h0M147.9 99.4h0M129.2 118.9h0M140.1 91.8h0M120.6 114.8h0M127.9 108.9h0M109.6 46.8h0" stroke="#c8143c" stroke-width="1.25"/>
<path d="M70.7 152.6h0M94.5 118.6h0M81.6 134.5h0M69.1 146.6h0M77.8 138.1h0M99.6 127h0M90.9 118.2h0M87.5 135.8h0M106.6 131.4h0M82.3 131.3h0M79.5 146.6h0M67 149.6h0M88.9 138.7h0M100 125.8h0M101.6 130.3h0M93.8 129.8h0M77.2 132.4h0M96.3 130.3h0M99.4 118.8h0M94.8 132.4h0M93 123.4h0M69.8 141.7h0M84.7 129.4h0M75.2 145.4h0M104.1 132.1h0M108 125.2h0M77.6 144h0M84.6 135.1h0M104.5 120.7h0M76 152.6h0M99.3 137.9h0M90.9 131.8h0M87.9 119.6h0M82.2 132.3h0M72.6 149.3h0M103.2 119.1h0M98.1 125.4h0M88.5 132.2h0M83.2 135.9h0M92.1 119.4h0M78 133h0M85.9 123.6h0M77.2 146.4h0M83.3 134.7h0M78.9 139h0M105.5 125.4h0M101.4 130.7h0M68.2 146.1h0M76.4 139.9h0M78.4 133.4h0M75.1 144.9h0M102.3 127.1h0M90.8 131.9h0M89.7 127.8h0M72.3 150.7h0M89 118.6h0M100.1 130.3h0M78 150.1h0M97 124.7h0M79.7 138.3h0M107 127.7h0M98.6 132.1h0M102.3 130.7h0M110.5 125h0M89.7 145.4h0M85.4 128.5h0M75.5 142.8h0M72.9 139.2h0M101.6 132.7h0M99.3 129h0M92 135.4h0M75.6 148.6h0M88 140.6h0M82.9 146.8h0M84.6 139.8h0M94.9 120.3h0M91.7 143.3h0M74.4 146.5h0M79.3 142.9h0M87.4 137h0M95.8 118.9h0M93.7 135.5h0M84.8 129h0M95.1 137.7h0M87.1 127.1h0M102.5 134.2h0M81 127.6h0M75.4 141.1h0M81.7 128.4h0M83.6 145.7h0M93.7 128.7h0M66.3 150.9h0M88.1 124h0M88.6 133.7h0M93 130.4h0M103.6 122.8h0M86.4 121h0M85.4 129.8h0M100.3 116.4h0M71.4 138.8h0M83.7 123.4h0M79.9 142.4h0M99.7 124.7h0M98.8 135.8h0M79.9 144.8h0M92.5 139.9h0M90.8 127.7h0M79 122.1h0M71.1 139h0M89.9 122.5h0M73.4 135.8h0M94.9 126.3h0M92.4 140.9h0M83.4 139.5h0M93 132.5h0M85.5 132.6h0M78.6 139.2h0M78.8 138.4h0M80.7 129.2h0M85.5 134.6h0M95.5 131.2h0M91.5 125.8h0M107.7 129.6h0M108.7 124h0M85.2 144.2h0M83 126.3h0M84.9 142.9h0M87.1 118.6h0M75.9 140.3h0M107.6 125.3h0M81.9 148.7h0M69.5 148.1h0M89.9 121.1h0M73.4 137.9h0M77.2 129.9h0M94.7 129.9h0M85.8 124.1h0M98.3 135.9h0M73.9 136.8h0M89 133.2h0M80.7 132.6h0M98.3 135.4h0M89.9 129.2h0M91.5 133.3h0M83.1 135.7h0M96.5 132.2h0M84.7 141h0M76.7 125.7h0M88.6 119.8h0M96.3 137.2h0M76.5 136.2h0M84 132.5h0M80.5 132.7h0M88.3 134.9h0M90.7 119.6h0M97.2 126.7h0M74.1 135.9h0M88.4 127.5h0M100.8 137.2h0M84.5 140.7h0M72 153.2h0M77.8 152.9h0M92 128h0M92 126.4h0M110.9 122.4h0M90.6 123.6h0M96 137.6h0M84.6 123.8h0M82.2 133.2h0M83.2 122.9h0M79.9 146.1h0M83.6 137h0M77.2 134.4h0M91.4 137.9h0M75 137.8h0M89.7 129.9h0M101.3 131.4h0M79.7 145.5h0M101 122.8h0M90.6 122.3h0M97.3 122.2h0M88.2 138h0M92 138.6h0M95.8 133.2h0M82.1 121.4h0M104.9 128.2h0M72.7 151.3h0M95.8 126.1h0M83.8 118.9h0M69.4 142.4h0M81.2 139.5h0M85.9 122.1h0M78.3 148.8h0M93.9 130.1h0M84.3 126.3h0M74.9 148.5h0M99.1 121h0M91.9 125.6h0M81.4 143.1h0M96 120.3h0M86.3 120.9h0M83.9 121.5h0M82.7 124.4h0M80.2 140.9h0M76.1 148.1h0M100.1 136h0M74.3 136.9h0M102.5 121.9h0M80.5 139.1h0M110.4 125.9h0M77 126.3h0M77.1 148h0M96.5 128.2h0M103.8 132.1h0M75 142.1h0M79.5 149.5h0M95 136.7h0M77.9 144.5h0M74.4 146h0M94.8 124h0M88.8 139.5h0M98 118.4h0M79.3 152.4h0M68 139.6h0M76.9 150.3h0M95.5 116.9h0M101.3 117.2h0M105.8 122.3h0M76.1 152.9h0M93.3 133.1h0M77.5 141.7h0M78.9 149.2h0M75.8 147.5h0M75.7 130.2h0M72.3 142.5h0M84.9 142.3h0M87.8 145.1h0M89.4 125h0M80.3 138.6h0M97.2 120.3h0M98.9 128.8h0M91.7 123.5h0M86.9 139.6h0M100.9 128.2h0M94.1 125.7h0M106.5 125.4h0M98 134.5h0M89.4 130.1h0M72 149.7h0M77.1 129h0M90.5 124.4h0M72.2 136.4h0M105 128.2h0M96.2 139.9h0M98.4 123.6h0M87.4 143.7h0M84.1 128.7h0M82.3 145h0M87.3 131.5h0M92.6 129h0M79.5 149h0M93.8 135.8h0M81.8 120.7h0M73.9 144.2h0M72 141.4h0M106.9 124.1h0M89.6 132.3h0M77.1 141h0M83.8 143.2h0M96.8 129.8h0M83 145.6h0M100.3 125.1h0M83.1 131.4h0M73.3 150.9h0M78.7 133.8h0M82.2 123.9h0M77.9 141.7h0M89.1 123.5h0M99.2 133h0M104 127.7h0M79.1 138.8h0M78.9 132.7h0M78.8 144.7h0M106.3 128.8h0M94.8 125.5h0M96.5 135.6h0M101.7 124.1h0M75.9 141.3h0M89.6 121.6h0M75.1 147.3h0M95.9 120.3h0M88.1 130.5h0M106.9 121.3h0M89.4 121.1h0M69.5 146.7h0M92.8 136.9h0M89.5 120.2h0M72 141.1h0M92.7 124.6h0M101.7 125.5h0M89.6 127.1h0M85.7 144.4h0M97.6 136.7h0M105.7 129.5h0M86.8 134.8h0M104.8 121.1h0M93.3 128.4h0M74.1 136.8h0M83.6 145.7h0M73.2 141.1h0M97.5 137.4h0M80.4 135.7h0M83.9 131h0M95.5 125.3h0M77.3 150.4h0M97.5 118.7h0M93.6 132h0M91.2 137.6h0M90.3 120.1h0M86.2 120.7h0M105 124.4h0M103.6 134.6h0M92.9 138.8h0M99.7 136.2h0M88.1 125.5h0M84.1 137.6h0M80.2 136.5h0M82.1 145.7h0M74.7 144h0M80.9 136.7h0M79.3 141.5h0M110.7 122.2h0M91.7 127.5h0M94.6 130.5h0M75.3 130.1h0M103.3 117.1h0M99.6 129.8h0M77.2 143.8h0M73.2 138.8h0M77.8 150.5h0M89.2 134.6h0M90.8 131.1h0M71.8 149.6h0M79.6 128.8h0M75.6 146.5h0M104.7 128.1h0M77.1 146.3h0M110.8 122.1h0M78.5 136.3h0M93.5 138.7h0M74.1 147.8h0M77.4 138.4h0M77 151h0M100.1 118.2h0M76.9 141.2h0M79.1 152.1h0M73.8 149.5h0M72.9 138.5h0M99.3 119.8h0M89.2 140.2h0M96.3 132.5h0M72 139h0M82.1 147.6h0M90.4 120.9h0M84.2 130.2h0M79 120.9h0M82.5 135.1h0M85.5 138.9h0M76.3 140.3h0M75.4 132.6h0M97.2 117.9h0M71.5 140.3h0M91.3 127.5h0M72.3 148.1h0M82.2 128.6h0M103.5 125.9h0M107.7 124.3h0M73.1 154.3h0M90.5 126.9h0M78.8 139.1h0M101.5 126.9h0M100.5 139.7h0M77.2 126.2h0M89.3 137.8h0M109.4 128.1h0M78.2 143.9h0M73.9 148.1h0M81.8 134.6h0M97 136.1h0M107.1 128.2h0M77.1 151.5h0M90.2 140.6h0M98.1 127.7h0M109.5 126.8h0M88.7 119.2h0M68.9 138.9h0M85.7 138.7h0M75.8 138.3h0M105.8 123.2h0M93.4 123.3h0M101 128.4h0M85.2 127h0M68.8 145.7h0M96.9 136.1h0M97.2 119.5h0M99 120.3h0M97.8 116.5h0M102.6 122.6h0M94.5 122.7h0M89.6 119.5h0M79.6 141.8h0M94.6 131.9h0M67 145.2h0M77.6 132.5h0M85.3 136h0M87.1 130.2h0M65.9 150.2h0M85.7 126.7h0M88.2 132.6h0M81.2 137.2h0M73.3 153.6h0M73.4 148.3h0M76.8 149.3h0M75.2 144.1h0M70.9 151.2h0M71.7 146.9h0M79.4 147.1h0M76.8 148.8h0M73 149h0M72.5 144.8h0M76.2 147.9h0M77.8 148.8h0M71.9 141.1h0M72.6 150.4h0M72.1 148.5h0M66.6 149.5h0M72.3 143.8h0M77.5 149.6h0M73 147.5h0M71.8 147.4h0M74.6 147.4h0M74.1 152.5h0M74 150h0M76.6 148h0M74.8 149h0M71.5 146.1h0M82.5 147.6h0M75.4 146.8h0M70.5 142h0M72.9 153.6h0M73.8 145.2h0M75.4 149.5h0M73.6 144h0M72.6 151.7h0M72.9 153.3h0M74.3 147.3h0M73.3 152.4h0M67.7 146.1h0M69.2 148.6h0M75.2 148.3h0M70.4 149.1h0M67.4 151.1h0M71.4 152.9h0M71.2 152.8h0M76.8 149h0M65.8 147.5h0M75 145.7h0M76.6 145.7h0M71.2 155.3h0M73 145.7h0M72.4 151.2h0M69.2 147.6h0M74.2 147.7h0M74.7 144.5h0M77.4 150.3h0M77.9 151.4h0M76.7 147.1h0M75.1 145.6h0M74.7 145h0M76.5 151.7h0M70.5 147h0M71.4 142.8h0M72.7 142.9h0M69.6 144.9h0M73.8 150.3h0M74.9 145.9h0M75.1 152.7h0M68.3 153.7h0M75.5 147.6h0M72.8 146.3h0M73.8 156.5h0M67.2 148.1h0M72.4 143.5h0M73 147.3h0M78.5 147.6h0M76.1 147.1h0M71.1 150.1h0M70.4 148h0M73.4 146.7h0M73.3 154.7h0M70.7 144.8h0M77.6 144.8h0M68.3 145.4h0M74.3 150.4h0M71.5 149.1h0M68.8 150.7h0M74.3 147.3h0M72.5 151.9h0M73.1 146.3h0M76.4 144.2h0M69.9 150.6h0M70.5 143.5h0M68.1 148h0M72.4 144.8h0M73.8 143.8h0M66.8 148h0M65.7 146.6h0M74.6 143.2h0M65.7 148.8h0M74.4 153.8h0M82.1 132h0M78.2 137.7h0M90.4 131h0M85.2 139.6h0M83.9 140.9h0M90.6 132.2h0M81.4 129.7h0M78.7 142.3h0M82.1 129h0M77.9 129.8h0M87.6 134.8h0M71.6 134.2h0M86.7 136.4h0M90.4 135.3h0M96.2 129.4h0M89.8 129h0M81.3 141.8h0M88.8 129.6h0M86.6 124.2h0M80.1 129.1h0M75.5 135.8h0M77.2 132.2h0M90.8 135.9h0M80.2 130.7h0M85.8 126h0M86.5 135.4h0M91 133.6h0M84.6 124.1h0M85.2 137.9h0M84.6 132.2h0M81.5 129.6h0M84.4 125.8h0M87.4 131.5h0M86.4 131.6h0M83.7 126.8h0M94.1 138.3h0M84.9 127.7h0M93.8 135.5h0M83 129.6h0M83.4 139.6h0M79.7 132.4h0M83.7 135.9h0M89.6 133.4h0M85.9 134.8h0M80.2 132.7h0M77.8 134h0M84 133.8h0M80.7 144.9h0M89.5 131.6h0M79.5 132.8h0M82.7 132.9h0M85.8 127.3h0M80.1 133.2h0M74.2 144.7h0M88.4 134.5h0M88.8 133.9h0M83.7 135.2h0M84.6 138.5h0M84 138.8h0M92.8 136.4h0M84.7 126.9h0M81.1 127.5h0M83.4 137.9h0M75.6 134.9h0M75.2 130.7h0M87.5 130.2h0M90.6 133.9h0M82.8 132.9h0M83.4 134.6h0M77.5 132.3h0M80.2 133.5h0M80.1 133.4h0M93.5 143.1h0M82.3 133.5h0M87.7 130.5h0M84.3 130h0M87.8 128.3h0M94.6 128.1h0M84 140.5h0M86.3 121.3h0M87.9 133.4h0M86.8 124.3h0M96 124.9h0M90.7 127h0M78 137.5h0M80.7 143.7h0M91.6 135.5h0M81.6 131h0M86.4 135h0M81.8 133.4h0M85.2 138.3h0M80.6 132.9h0M88.6 136h0M70.4 136.6h0M81.5 138.6h0M82.1 127.7h0M99.4 128.1h0M76.9 133.4h0M88.4 135.7h0M85 127.6h0M94.7 124.4h0M85.5 125.3h0M85.3 133.1h0M86.5 127.8h0M79.7 122.1h0M79.7 127.3h0M82 127.6h0M85.4 133.2h0M88.1 137.8h0M81.7 137.8h0M87.3 125.1h0M91.2 128.2h0M83.6 140.2h0M81.6 138.2h0M80.9 130.2h0M90 131.6h0M89.6 140.8h0M87.6 136.1h0M81 129.9h0M84.9 135.7h0M108.8 108.7h0M96.5 120.6h0M81.9 86h0M134.9 96.1h0M139 73.7h0M87.5 82.2h0M112.8 127.6h0M138.5 102h0M122.7 112.6h0M110.1 126.7h0M104.6 119.5h0M93.5 87.9h0M111.2 91.3h0M99.4 92.2h0M95.6 73h0M101.1 101.8h0M144.1 132.4h0M148.6 90.9h0M105.6 89.6h0M100.3 84.4h0" stroke="#135891" stroke-width="1.25"/>
<path d="M199.7 92.9h0M184.3 99.8h0M159.7 75h0M199.6 90.7h0M187.8 106.7h0M175.1 108h0M180.2 102.7h0M157.7 93.8h0M149 84.5h0M158.3 94.3h0M142.9 83h0M188.4 100.2h0M179.9 100.9h0M177.5 102.4h0M182.7 83.7h0M200.3 95.1h0M147.3 92.4h0M202.6 91.5h0M180.4 108h0M176.4 93.5h0M183 78h0M185.1 96.7h0M180 95.1h0M150.4 74.6h0M192.9 88.7h0M148.5 74.9h0M147.3 92.6h0M178.4 74.4h0M208.5 107.9h0M200.6 88.4h0M187.8 84.3h0M169.3 82.5h0M176 81.1h0M153 95.7h0M182.5 77.5h0M147.6 95.4h0M202 104h0M177.7 102.3h0M192.4 94.1h0M199.9 88.9h0M197 85.6h0M197.5 87.3h0M145 92.9h0M159.9 84.8h0M186.3 82.2h0M166.2 90.9h0M163.2 84.4h0M192.3 92.7h0M150.7 99.6h0M174.7 97.7h0M198.3 101.7h0M204.8 90.4h0M197.3 98.6h0M196.5 85h0M148.1 81.7h0M182.9 90.5h0M182.8 80.8h0M195 102.5h0M155.3 102.8h0M163.7 94.3h0M147.9 91.2h0M146.8 75.7h0M142.6 74.5h0M194.7 94.7h0M143.3 81.4h0M166.2 91.7h0M161.5 82.6h0M155.5 83.7h0M181.7 79.4h0M149.5 84.6h0M180.4 77.1h0M178.2 93.4h0M166.4 87.9h0M163.7 102.8h0M189.9 98.7h0M151.6 92.8h0M208.4 102.6h0M174.3 91.8h0M165.8 94h0M154.8 81.9h0M177.9 101.4h0M198.9 100.9h0M159.1 73.6h0M184.9 89.1h0M197.9 94.4h0M199.7 102.5h0M183 77.6h0M185.7 102h0M173.4 75.7h0M196.8 96.6h0M165.4 94.8h0M150 80.7h0M211.2 98.4h0M170.2 104h0M179.4 101.1h0M144.6 82.3h0M169.2 97.7h0M152.3 95.1h0M152.1 98.4h0M186.1 77.1h0M191.4 102.4h0M192.6 93.1h0M185 91.4h0M186.4 102.3h0M160.5 91.2h0M169.2 92.9h0M186 91.6h0M149.9 79.7h0M163.8 93.2h0M152.7 72h0M147.6 88.2h0M171.7 104.8h0M181.8 105.7h0M171.4 101h0M144.7 88.9h0M144.3 78.8h0M196.9 99.2h0M166.1 82.8h0M209 106.6h0M164.6 76.7h0M170.6 76.4h0M191.5 99.3h0M207.4 96.5h0M208.1 95.5h0M169.5 94.1h0M146.3 94.3h0M181.5 86.7h0M187.2 77.9h0M186.9 98.7h0M163.6 100.5h0M195.4 87.9h0M145.7 77.1h0M207.6 104.8h0M185 89.7h0M196 87.8h0M198.8 98.5h0M194.8 88.7h0M175.6 104.5h0M202.6 107.4h0M142.8 82.9h0M144.3 84.6h0M173.4 100.1h0M171.1 92.7h0M169.8 80.2h0M186.1 94.7h0M187 98.7h0M186.5 83.8h0M169.7 70.9h0M168.6 95.9h0M145.9 91.8h0M191.2 78.5h0M200.9 100.4h0M168.3 78.6h0M164.8 87.3h0M177.4 100.2h0M156.7 69.4h0M193.4 96.8h0M160.7 92.5h0M190.1 103.5h0M206.6 111.1h0M169.2 76.1h0M194.5 97.6h0M174.5 90.5h0M153 74.6h0M148.2 91.2h0M204.1 85.5h0M165.2 76.6h0M182.2 91.2h0M149.4 77.7h0M190.6 101.9h0M181.4 89.4h0M163.2 85.4h0M171.1 85.6h0M170.7 100.2h0M165.2 96.5h0M176.1 91.2h0M161.1 83.3h0M169.5 89.2h0M152.2 97.6h0M196.7 83.5h0M146.5 94h0M194.9 105.8h0M160.4 92.3h0M167.2 79.7h0M203.6 87h0M192.2 83.8h0M160 92h0M157.9 75.9h0M180.1 91.2h0M150.5 83.1h0M160 100.1h0M191.9 83.8h0M143.6 82.6h0M168.2 76.5h0M157.5 87.5h0M200.8 102.4h0M156.4 76h0M186.5 79.3h0M160.2 96.2h0M186.3 77.9h0M155.3 78.9h0M167.9 97.9h0M174.8 85.7h0M180 99h0M178.7 96h0M178.6 83h0M204.9 108.2h0M166.5 84.2h0M170 103.1h0M197.4 99.7h0M143.3 79.7h0M175 93h0M153.1 89.4h0M174.1 83.9h0M205.7 108.7h0M171.2 77.5h0M189.7 90.6h0M155.6 86.7h0M183.8 96h0M162.4 96.8h0M152 85.8h0M164 99.1h0M146.2 95.9h0M184.8 90h0M143.7 87.5h0M169.3 102.2h0M166.1 81.4h0M145.6 73.5h0M197.5 100.4h0M150.2 87.9h0M190.1 94.4h0M202.8 98.4h0M178.2 81.5h0M188.9 83.3h0M161.4 95.9h0M210.9 106.1h0M158.1 78.9h0M201 88.8h0M189.4 80h0M175.5 75.5h0M165.2 97.2h0M148.5 88.6h0M198.2 88.1h0M156.4 74h0M161.9 71.9h0M193.8 91.1h0M194.8 84h0M183.2 99.7h0M157.8 73.9h0M207.9 111h0M201.1 110.1h0M194 100.6h0M166 90.3h0M158.5 84.6h0M197.2 93.6h0M190.8 100.3h0M198.6 101.2h0M147 97.5h0M160.2 97.3h0M151 85.8h0M169.2 98.8h0M153 85.6h0M205.7 97.4h0M182.7 83h0M155.9 97.2h0M153.8 79.1h0M184.8 105.9h0M206 105.2h0M208.9 93h0M164.5 83.8h0M178.1 100.6h0M161.6 71.4h0M160.6 90.1h0M154.5 81.2h0M167.6 86.6h0M145.1 84.4h0M186.2 83.7h0M180.7 75.9h0M161.5 74.5h0M204 91h0M184.4 80.5h0M174 81.3h0M181.9 76.3h0M164.5 86.2h0M194.5 84.6h0M202.5 93.9h0M148.3 76.8h0M146.3 92.4h0M203.4 101.8h0M186 77.7h0M171.5 104.8h0M167.8 88.5h0M182.8 84.6h0M184.3 87.9h0M202.3 92.8h0M163 90.9h0M144.5 77.6h0M155.6 72.7h0M170.4 104.3h0M168.3 83.1h0M198.9 85.7h0M190.5 84.6h0M160.8 81.5h0M179.1 85.2h0M167.4 86h0M157.4 90h0M195.4 88h0M195.2 91.6h0M144.4 78.8h0M207.5 93.2h0M208.8 104.9h0M175.8 76.7h0M173.5 85.6h0M164.3 100h0M146.1 84.7h0M160 99.3h0M172.6 84.5h0M160.2 73.9h0M147.5 95.8h0M188.5 82.5h0M162 83.3h0M144.6 85.7h0M174.1 103.4h0M144.1 77.5h0M198.9 91.6h0M193.7 102.7h0M198.5 110.9h0M187 98.8h0M162.2 78.1h0M193.1 83.5h0M182.7 79.9h0M187.2 103.4h0M196 102.1h0M161.1 88h0M207.5 100.9h0M148.5 82.7h0M162.5 76.5h0M188.1 104h0M209.6 105.2h0M180.2 82.1h0M180 93.8h0M142 75.8h0M151.3 77.6h0M180.5 81.1h0M189.7 97.5h0M182.2 98.8h0M193.6 90.5h0M188 91.6h0M164.1 96.9h0M144.3 93.7h0M187.5 84h0M200.7 96.4h0M144.4 77.7h0M147 101h0M160.1 88h0M196.3 99.7h0M186.4 107.3h0M174.9 87.2h0M186.8 97.9h0M147.7 75.6h0M192.5 104.9h0M166.3 94.3h0M151.9 98.8h0M166.8 81.7h0M202.9 93.4h0M193 94.4h0M167.6 98.3h0M199.9 104.1h0M183.4 85.9h0M166.3 89.1h0M148.8 88.6h0M161 85.4h0M158 101.2h0M187.6 87h0M162.6 82.4h0M185.5 88h0M193.5 87.2h0M160.2 76.6h0M170.3 94.4h0M178 77.2h0M155.7 102.5h0M197.1 108.6h0M151.2 97.6h0M199.8 88.4h0M149.2 79.9h0M168.3 82.9h0M169.8 84.4h0M187.1 96.5h0M159.9 103.3h0M194.4 102.5h0M148.4 76.6h0M197.2 95.5h0M179.7 107.8h0M193 104.9h0M149.6 74.9h0M148.2 90.5h0M170 98h0M208.7 105.9h0M178.8 88.7h0M185.8 85.7h0M204.8 99.5h0M186.2 86.2h0M185.5 105.4h0M191.4 82.2h0M156 88.1h0M176.7 99.5h0M163.2 81.8h0M172.6 95.7h0M176.4 81.7h0M182.2 76.5h0M143.6 82h0M173.4 91.5h0M188.1 104.8h0M157.7 89.5h0M192 92.3h0M175.2 75.6h0M186.3 84.5h0M189.7 97.3h0M171.4 91.1h0M200.2 107.8h0M167.5 81.3h0M168.2 100.4h0M202.1 102.5h0M161.2 80.2h0M198.7 95.9h0M199.9 91.3h0M207.2 108.3h0M166.1 83.8h0M206.9 91.3h0M158.5 86h0M170.7 103.9h0M158.8 74.1h0M182.8 99.4h0M160.6 69.5h0M190.5 101.6h0M172.2 93.9h0M161.4 77.5h0M176.7 86h0M179.8 103.3h0M162.9 96.5h0M181.1 94.3h0M154.5 79.9h0M171.6 92.8h0M180.1 93.7h0M195.2 97.2h0M173.4 86.4h0M147.8 89.7h0M167.3 86.6h0M195.7 82.9h0M191.1 108h0M198.9 84.2h0M164 97.9h0M167.3 78.9h0M155.3 95.5h0M165.3 103.9h0M185.2 101.4h0M187.9 89.6h0M178.9 75h0M203.4 91.9h0M144.5 75.8h0M177 103.5h0M140.9 77h0M205.4 104.9h0M174 90.7h0M208.8 102.7h0M199.5 92.3h0M169.9 104.6h0M175.4 99.8h0M149.3 82.4h0M156.4 97h0M177.9 75.4h0M196.6 82.9h0M158.5 80.3h0M186.3 77.9h0M192.2 106h0M178.3 104.8h0M163.7 88.1h0M177.4 97h0M202.8 95.1h0M192 95.2h0M198.6 95.8h0M162.9 98.4h0M206.5 98.9h0M192.4 92.5h0M194.4 83.5h0M193 90.2h0M191.2 81.6h0M187.9 95.5h0M181.9 92.8h0M172.6 97.5h0M174.8 102h0M154 76.3h0M206.1 91.3h0M197.8 103.2h0M166.6 83.9h0M164.4 93.1h0M157.6 95.6h0M187.6 90h0M163.4 89.1h0M177.8 101h0M149.7 97.9h0M156.5 73.6h0M177.1 88.1h0M196.4 106.8h0M200.9 92.7h0M154.4 90.7h0M193.6 98.5h0M202.4 88.1h0M186.6 95.3h0M173.5 103.8h0M169.9 80.6h0M148.4 81.9h0M151.7 91.8h0M191.2 85.5h0M187.2 86h0M167.8 95.1h0M152 72.9h0M158.7 90.3h0M171.9 75.7h0M167.2 96.9h0M183.9 101.7h0M171.1 74.9h0M149.5 90h0M155.1 96.7h0M196.2 102.7h0M168.1 89.6h0M155.4 91.3h0M172 73.6h0M147.5 79.5h0M160.1 80.9h0M191.6 89.6h0M163.9 97.1h0M191.8 79.3h0M159.4 91.8h0M158.8 92.2h0M214 101h0M165 92.8h0M201.4 91h0M171.8 72.6h0M200 90.6h0M160.3 76.2h0M145.5 84.5h0M164.6 103h0M165 83.9h0M191.2 98.4h0M168.1 95.8h0M162.4 98.5h0M198.1 106.7h0M165.2 92.7h0M210.7 100.1h0M177.5 89.5h0M165.1 72.4h0M151 75.6h0M206.6 99.3h0M145.2 86.8h0M160.6 74.1h0M165.3 83.8h0M151.9 96h0M178.7 98.2h0M155.2 72.2h0M150.9 82.4h0M166.4 82.7h0M156.1 97.2h0M202.8 87.9h0M196.8 92.2h0M206 106h0M175.3 97.1h0M199.7 85.1h0M199.6 106.5h0M176.7 83.3h0M163.1 103h0M187.3 80.5h0M197.5 87.8h0M174.1 97.6h0M159.7 84.5h0M181.3 99.4h0M156.6 85.6h0M158 74.6h0M185.7 82.7h0M157.1 97.3h0M163.8 96.2h0M194.4 83.4h0M187 88.5h0M182.5 80.1h0M158 76.7h0M203 107.6h0M174.2 89.4h0M185.9 92.2h0M173.9 96.9h0M180.7 107.5h0M193.9 95.3h0M206.4 94.2h0M146.2 94.8h0M188.3 106h0M143.8 77.8h0M160.5 98.7h0M190.1 98.8h0M188.6 85.1h0M198.3 100.3h0M190.9 85.6h0M201.2 95.2h0M177.4 105.2h0M166.2 89.4h0M154.9 75.7h0M183.6 100.6h0M208.8 100.7h0M156.3 97.7h0M180.6 73.5h0M156.7 74h0M187.2 100.1h0M161.7 82.2h0M167.3 99.8h0M191.4 89.7h0M189.6 107h0M146.6 84.1h0M180.7 75.6h0M184.3 102.4h0M166.4 84.3h0M166.9 88.3h0M184.7 101.3h0M178.7 102.7h0M192.2 97.3h0M153.9 78.6h0M143.9 74.9h0M171.8 101.8h0M203.4 109.5h0M195 97.8h0M154.8 77.7h0M195.6 91.3h0M145.8 90.6h0M168.8 99.5h0M180.8 84.3h0M175.9 100.2h0M173.5 106.1h0M187 87.4h0M196.3 86.7h0M207.1 106.3h0M176.7 85.1h0M167.3 105.1h0M203.7 107.4h0M143.9 86.8h0M197.1 85h0M144.7 77.5h0M162 75.9h0M205 106.1h0M162.9 81.4h0M146.6 82.5h0M151.9 97.5h0M170.2 81.5h0M201.7 100.1h0M158.2 103.9h0M151.5 86.2h0M167.3 105.3h0M173.3 92.4h0M151.8 81.9h0M172.6 83.3h0M203.1 100.8h0M187.8 81.7h0M151.8 69.5h0M177.8 77.2h0M158.2 78.4h0M155.2 96.5h0M161.8 90.1h0M188.1 75.7h0M156.5 98.1h0M164.1 81.3h0M198.1 87.5h0M184.8 94h0M144.9 94.8h0M145.8 87.8h0M157.4 70.9h0M197.7 86.3h0M170.5 85.5h0M161.2 81.4h0M180 80.6h0M202.4 108.6h0M144.4 78.6h0M180.6 99.5h0M172.1 84.8h0M159.9 102.8h0M173.2 86.2h0M149 87.5h0M156.9 74.6h0M165.2 78.8h0M194.4 95.3h0M159.2 78.2h0M163.5 74.6h0M166 73.4h0M212.2 109.3h0M196.4 92.5h0M164.6 99.5h0M206.6 93.6h0M191.3 97.2h0M187.2 78.2h0M148.7 83.4h0M169.5 97.9h0M179.5 76.4h0M177.4 85.4h0M173.9 101h0M162.5 104.3h0M159.8 88.1h0M144.4 86.9h0M194.7 90.7h0M159.2 94.2h0M144.2 94.8h0M168.6 84.3h0M151.2 78.2h0M173 77.2h0M161.2 84.9h0M180.8 94.2h0M168 94.3h0M152.5 84h0M176.2 80.2h0M190.3 82.9h0M178.2 92.1h0M149.9 85.3h0M202.4 88.2h0M163.7 102.4h0M188.2 103.4h0M188.5 79.5h0M154.7 72.6h0M178.8 79.6h0M147.4 73.7h0M145.8 84.6h0M210.1 106.9h0M165.6 82.8h0M158.6 75.2h0M172.8 95.5h0M205.2 95.3h0M179.7 102.6h0M169.8 91.1h0M193.7 108.9h0M191.3 104.1h0M175.9 99.6h0M205.7 100.8h0M142.9 74.8h0M143 89h0M200.8 100.3h0M175.8 87.3h0M186.6 107.7h0M167.4 87.1h0M164.8 85.9h0M166.9 92.8h0M159.7 99.7h0M146 93.4h0M187.7 84.6h0M164 93.3h0M182.1 99.1h0M153.5 91.9h0M161.2 75h0M153.9 97.1h0M160.3 98.8h0M172.8 94.8h0M165.8 76.8h0M203.9 86.3h0M179.5 78.4h0M163 94.2h0M153.8 81.8h0M193.4 99.6h0M185.3 79.6h0M191 106.1h0M194.6 107h0M183.5 80h0M144.3 73.2h0M175.6 92.3h0M153.2 81.6h0M191.2 95.3h0M188.6 105.1h0M162 82.6h0M194.4 85.5h0M177 80.3h0M158.2 100.1h0M150.2 82.4h0M202.9 94.5h0M147.4 76.3h0M154.8 81.3h0M195.7 103.1h0M151.5 92.6h0M168.4 92.1h0M150.2 73.6h0M147.1 94.6h0M196.7 93.2h0M154.2 80.3h0M206.6 99.8h0M147.8 75h0M163 91.5h0M182.9 76.4h0M178.1 87.3h0M182 90.5h0M205.9 101.4h0M169.9 90.5h0M158.2 84.3h0M188.6 96.1h0M171.5 104.4h0M179.9 94.1h0M202 102.4h0M151.7 79.4h0M160.5 85.5h0M178.4 82.3h0M186.2 100.6h0M167.8 83.2h0M197 108.8h0M206 93.7h0M205.8 112.5h0M145.9 85.7h0M201.2 97.3h0M181.2 77.6h0M162.5 96.1h0M194.3 85.8h0M158.7 81.3h0M154.1 95.3h0M165.5 92.3h0M171.9 78.5h0M185.6 99.5h0M168.2 87.5h0M202.8 102.5h0M167.9 98.5h0M177.3 74.4h0M200.9 102.9h0M188.4 102.8h0M179.1 90.2h0M168.9 89.9h0M163.2 89.6h0M177.7 105.6h0M170.2 83.7h0M151.9 74.8h0M190.1 105.9h0M142.7 81.9h0M151.8 76.5h0M181 93.6h0M174.2 75.4h0M187.3 79.7h0M154.1 78.1h0M158.5 104.1h0M167.3 92.8h0M161.2 85.6h0M195.1 87.7h0M177.1 89.3h0M151.3 79.6h0M202.2 100.8h0M178.7 93.3h0M183.5 84.2h0M168.4 98.6h0M200.2 102h0M184.3 77.3h0M149.5 90.2h0M204.2 97.4h0M182.3 101.6h0M161 73.3h0M145.9 73.8h0M159 80.5h0M177.2 89h0M157.5 99.2h0M198.9 91.8h0M179 102.3h0M172.6 80.3h0M171 89.1h0M160.1 85.1h0M178.7 106.5h0M160 83.9h0M162.4 99.9h0M177.8 90.5h0M187.9 79.3h0M164.2 97.7h0M167 74.6h0M203.8 107.5h0M180.4 86.8h0M169.7 86h0M172.8 95h0M149.3 96.8h0M166.9 94.1h0M154.8 81.1h0M190.8 104.6h0M195.2 83h0M197.2 104.5h0M205.2 109.9h0M167.1 82.4h0M186.9 95.1h0M210.2 98.8h0M177.5 80.1h0M189.3 88.3h0M144.9 92.8h0M202.9 87.4h0M169.2 87.2h0M180.5 103.8h0M185.5 106.2h0M185.9 97.9h0M173.7 102.8h0M201.6 91.9h0M175.2 89.8h0M183.8 97.1h0M177.4 101.8h0M188.6 87.2h0M143.7 88.6h0M168.9 75.2h0M193.9 88.7h0M195.3 103h0M208.3 92.9h0M195.3 99h0M191 88.2h0M161.7 95.5h0M208.9 112h0M172 81.6h0M204.7 104.4h0M188.9 88.4h0M141.8 86.8h0M192.7 80.6h0M152.4 92.9h0M156.2 74.6h0M168.6 103.4h0M193.2 102.2h0M156.9 95.2h0M147 77.6h0M145 77.5h0M174.1 98.7h0M198.9 100.1h0M197.5 89.7h0M184.4 104.3h0M141.6 79.2h0M158.3 77.1h0M154.1 73.7h0M151.2 93.3h0M144 93.1h0M175.4 99.6h0M165.6 77.9h0M164.7 81h0M162.8 91.4h0M159.3 79.1h0M158 88.2h0M185.9 98h0M153 101.7h0M206.2 93.1h0M178.1 85.8h0M193.4 105.2h0M156.4 78.6h0M159 92.2h0M176.3 95.3h0M196.5 85.9h0M193.2 102.7h0M171.5 92.7h0M168.9 85h0M147.7 89.8h0M189.7 78.2h0M163.4 104.1h0M201 99h0M153.6 95.3h0M174.9 82.6h0M146.4 79.4h0M151.1 85h0M210.9 110.6h0M189.9 103.4h0M163.7 102.2h0M190.8 100.8h0M167.3 90.7h0M149.2 87.7h0M174.1 98.6h0M187.6 105.7h0M163.6 90.2h0M198.6 87.8h0M207 108h0M157.1 75.3h0M168.2 99.8h0M177.6 101.1h0M199.6 90.4h0M197.4 104.4h0M170.9 74.4h0M175.8 106.2h0M193.8 78.5h0M179.9 79.8h0M140.9 90.9h0M174.8 73.7h0M167.4 101.3h0M214 105.5h0M169.6 75.4h0M154.3 100.2h0M148.2 74.3h0M196 88.5h0M187 99.3h0M203.4 101h0M178.6 81h0M172.8 83.7h0M161.9 84.7h0M182.8 109.1h0M182.6 104.4h0M178.1 95.5h0M189.2 87.1h0M178.3 86.7h0M189.9 87.1h0M177.1 87.3h0M196.6 91.1h0M158 87.7h0M167.7 84.8h0M163.8 100.8h0M204.8 108h0M183.1 106.8h0M180.2 93.6h0M192.3 106h0M205.8 92.5h0M161 70.3h0M164.8 100.8h0M186.5 109.1h0M166 74.1h0M141.9 92.2h0M181.2 96.2h0M181.8 86.2h0M149.6 87.7h0M182 86.7h0M195.9 107h0M175.3 102h0M192.6 85h0M145.2 81.6h0M181 92.5h0M165.1 79.6h0M168.9 73.9h0M148.2 88.3h0M194.1 86.1h0M162.3 84.5h0M157.9 73.3h0M170.1 88.8h0M151.5 80.6h0M200.3 84.9h0M157.4 90.1h0M148.7 93.1h0M166.4 98.6h0M174 100.3h0M164.4 86.1h0M198.4 92.5h0M165.9 81h0M161.1 96.7h0M188 78.2h0M170.9 95.5h0M161.5 83.4h0M157 74.8h0M170.2 90.9h0M159.5 75h0M187.1 82.9h0M161.1 70.2h0M188.9 100.8h0M150.5 87.6h0M158.7 100.3h0M200.5 100.9h0M171.4 95.5h0M152.9 93.1h0M163.4 72.6h0M187.7 81.1h0M152.4 71.3h0M154.5 92.1h0M201 106.6h0M158.8 91.8h0M189.8 106.1h0M201.4 96.8h0M174.8 97.6h0M167.8 76.1h0M195.3 105.4h0M190.8 99.5h0M149.4 76.2h0M140.3 82.4h0M187.7 106h0M185.2 98.7h0M174.6 103.5h0M181.5 88.3h0M165 89.6h0M176.4 84.6h0M145.5 81.5h0M153.1 77.4h0M210.6 109.3h0M197.9 97.2h0M181.2 75.6h0M157.1 95.4h0M145.2 87.3h0M155.2 96h0M146.6 91.2h0M188.1 90h0M158.4 82.7h0M183.3 104.4h0M143.5 80h0M192.5 107.9h0M191.1 90.2h0M209.6 107.6h0M179.3 79.2h0M152.5 78h0M180.3 94.1h0M208.1 90.6h0M211.4 112.4h0M182.6 90.2h0M183.4 88.9h0M174.7 81.5h0M194.3 82.1h0M171 102h0M198.5 83h0M149.5 77.7h0M191.1 84.4h0M166.7 73.8h0M170.4 93.5h0M155.6 87.3h0M178.4 75.2h0M175.3 85.5h0M163.6 75.5h0M173.6 98.7h0M173.9 74.3h0M167.4 106.9h0M152.3 102.1h0M149.2 103.7h0M200.4 114.2h0M180.6 109.4h0M162.5 105.7h0M151.2 100.9h0M209.2 116.6h0M197.8 109.6h0M195.3 113.2h0M173.3 107.1h0M159.9 107.4h0M170.3 109.7h0M189.2 110h0M187.1 103.6h0M154 100.1h0M202 110.7h0M184.8 107.9h0M183.3 110.3h0M188.2 114.9h0M182.2 110.9h0M208.3 113.6h0M161.3 108.9h0M191.4 110.6h0M186.5 112.1h0M209.8 115h0M190.3 106.6h0M161.5 108.1h0M171 111.5h0M204.6 112.6h0M152.6 106.1h0M196.2 113h0M179.9 108.5h0M149.4 103h0M199.9 114.7h0M159.1 104.1h0M167.9 105.8h0M180 111h0M167.6 109h0M201.1 116.2h0M209 112.8h0M206.1 110.6h0M178.4 111.2h0M197.2 108.6h0M167.4 106h0M177.2 108.2h0M179.8 112.9h0M174.7 108.3h0M159.4 102.9h0M204.8 113.3h0M188.7 113.6h0M169.5 103.3h0M166.6 103.9h0M154.4 107h0M177.2 108.9h0M168.4 104.9h0M204.5 112.9h0M154.5 104.9h0M160.3 103.2h0M188.7 109.3h0M164.9 109.7h0M168.8 107.9h0M207.2 116.3h0M161.7 105.9h0M157.2 103.9h0M168.2 107.8h0M171.7 105.7h0M178.7 109.7h0M193.1 110.7h0M156.2 104.4h0M159 104.9h0M205.4 111.4h0M190.6 114h0M153.5 101.2h0M184.6 110.4h0M200.5 109.8h0M162.4 108.1h0M178.2 108.3h0M197.7 112.6h0M164.7 107.5h0M192.5 112.1h0M173.2 108.4h0M184.6 110.7h0M186.9 111.1h0M151.5 103.2h0M189.3 110.1h0M197.8 111.6h0M159 103.9h0M152 103.1h0M180.5 112.1h0M81.9 114.8h0M113.7 121.8h0M76.5 137.9h0M136 108.3h0M127.8 116.4h0M90.1 119.1h0M89.7 73.1h0M95.4 146h0M114.2 128.2h0M103.7 77.5h0M99.5 79h0M120.1 101.7h0M83 85.7h0M90.1 82h0M144.3 122.9h0M93.4 125.2h0M135.2 107.8h0M145.4 70.8h0M70.4 77.9h0M110.6 124.4h0M74.4 143.9h0M133.2 129h0M87.4 145.2h0M107 134.7h0M121.2 82.3h0M107.5 40.2h0M107.2 42.3h0M110.3 40.3h0" stroke="#f6b31b" stroke-width="1.25"/>
<path d="M194 137.7h0M151.5 133h0M155.2 117h0M201.5 126h0M194.2 125.4h0M194.5 119.5h0M168.8 136h0M156.3 120.2h0M155.3 133.1h0M152.6 124.6h0M166.8 118.1h0M171.3 140h0M175.7 111.3h0M180 133.3h0M149.9 125.9h0M179.4 117.7h0M172.8 134.3h0M169.7 121.1h0M203.3 124.3h0M172.5 104.2h0M169.7 109.2h0M152.9 129h0M133.2 116.4h0M146.3 110.7h0M161.1 135.7h0M195.6 113.1h0M152.8 113.6h0M171.1 114.6h0M181.8 119.8h0M190 137.4h0M140.6 116.5h0M175.8 133h0M171.7 112.1h0M199.7 120.6h0M159.2 124.7h0M179.3 123.1h0M165 128.9h0M158.6 115.7h0M195.3 129.4h0M161 125.4h0M179.8 123.2h0M179.6 135.6h0M181.2 112.7h0M185.3 137.8h0M141.6 107.1h0M168.8 126.3h0M164.5 107.8h0M208.6 114.7h0M149.9 107.2h0M184.9 119.9h0M158.6 130h0M199.5 113h0M183.8 137h0M198.2 112.7h0M206.7 116.1h0M203.2 117.1h0M177.8 113h0M150 111.9h0M205.1 114h0M177 128.6h0M147.3 117.1h0M199 129.7h0M182.1 119.2h0M180.1 113.6h0M162.1 111.2h0M166 113.7h0M134.4 118.8h0M201.4 114.7h0M171.3 112h0M175.5 135.4h0M157.6 128.9h0M190.1 128.4h0M161.1 112.9h0M181.9 113.4h0M166.7 127.6h0M172.2 111.7h0M199 119.1h0M157.6 129.8h0M177.5 137.5h0M185.4 115.5h0M161.7 111.1h0M172.7 107.3h0M194.7 129.4h0M205.2 115.8h0M165.8 131.1h0M183.1 106.9h0M194.2 117.4h0M174.3 124.7h0M188.9 136.3h0M152.4 130.1h0M147.2 107.6h0M161.7 119.7h0M148.8 131.7h0M157.5 123.6h0M177.2 140.4h0M154 133.1h0M207 124.5h0M165.5 115h0M172.4 111.8h0M176.4 125.1h0M200.9 130.1h0M189.5 133.3h0M177.9 137.5h0M164.3 112.2h0M198.3 117.3h0M166.5 109h0M202.1 123.3h0M167.7 132h0M173.4 120.3h0M152.9 132.9h0M187.7 131h0M186.9 113.7h0M179.6 117.8h0M160.2 134.6h0M165.3 115.3h0M149.2 117.3h0M202.5 112.2h0M196.1 130.8h0M179.3 120.6h0M170.8 116.9h0M181.3 114.8h0M185 130.1h0M159 120.7h0M171.4 127.5h0M163.6 114.3h0M191.8 111.9h0M203.2 125.8h0M195.1 117h0M200.4 130.7h0M172.9 126.9h0M202.4 112.9h0M136.9 122.3h0M153.7 124.8h0M153.1 130.9h0M147.3 109.6h0M177.4 125.5h0M146.9 119.3h0M185.9 132h0M158.8 107.3h0M205.9 117.4h0M175.8 118.3h0M194.3 120.8h0M183.4 134.4h0M180.8 127h0M145 113.1h0M177.8 128.9h0M136.6 116.1h0M195.5 124.3h0M201 124.7h0M135.4 120.3h0M159.5 125.7h0M157.3 123.3h0M140.9 125.1h0M180.9 128.5h0M156.3 130.5h0M202.3 126.3h0M196.4 128.9h0M140.3 118.6h0M176.2 136.5h0M180.9 122.6h0M178 134.3h0M185.5 124.2h0M179.5 135.5h0M195.9 132.4h0M159.3 108h0M188.3 120.3h0M197.5 122.3h0M202.5 125.3h0M144.7 122.2h0M183.4 131.3h0M150.7 109h0M176.6 115.5h0M162.7 130.6h0M151 106.1h0M168.6 127.1h0M181.9 109.7h0M143.7 122.5h0M182.2 133h0M197 121.3h0M161.4 134.9h0M174.1 106.7h0M148.8 126.8h0M153.5 133.6h0M159.4 112.7h0M167.8 128.5h0M141 112h0M192.7 109.4h0M177.5 116.9h0M157.1 113h0M190.3 113.5h0M141.5 119.7h0M142.7 121.1h0M146.2 130.3h0M204 123.8h0M154.3 134.3h0M156.6 110.5h0M195 127.7h0M181 109.2h0M168.9 123.3h0M162 134h0M185 120.6h0M139.3 122.1h0M197.9 122.9h0M185.3 131.5h0M161.9 106.1h0M174.6 119h0M194.4 123.8h0M148.9 124.6h0M153.7 131.4h0M175.6 134.8h0M190.4 108.9h0M142.2 108.8h0M193.9 114.9h0M181.4 115.9h0M187.8 132.4h0M208.2 114.5h0M196.7 131.5h0M165.1 125.9h0M183 126h0M192.3 112.7h0M189.7 106.3h0M164.9 108.1h0M162.4 131.7h0M168.3 111.6h0M137.2 115.3h0M198.9 122.7h0M172.7 108.8h0M162.7 120.6h0M177 115.6h0M161.7 125.5h0M197.9 119.3h0M162.8 132.5h0M144.3 120h0M144.8 117.2h0M194.3 115.3h0M203.5 112.6h0M139.8 113.6h0M141.6 108.1h0M146.2 126.5h0M179.8 110.2h0M167.2 105.1h0M191.8 109.3h0M147.5 114h0M153.1 125.1h0M189.7 135.9h0M173 119.3h0M161.9 131.7h0M158.5 125.5h0M188.1 130.5h0M166.7 114.5h0M203 128.4h0M204.1 130.4h0M151.2 106.5h0M163.3 132.6h0M150.6 105.4h0M141.3 117.3h0M170.7 133.1h0M148.5 129.6h0M199.8 117.4h0M170.5 107h0M147.4 116.2h0M184.3 126.5h0M156.1 105.4h0M173.7 133h0M156.2 108h0M172.4 108.7h0M182.3 116.4h0M172.1 106h0M163.4 133.4h0M147.8 111.6h0M142.1 114.5h0M207.5 113.3h0M151.5 105.7h0M174 117h0M168.4 134.2h0M203.7 118.2h0M157.5 118.2h0M179.5 106.7h0M149.9 106.6h0M170.6 117.6h0M199.6 114.4h0M191.6 116.1h0M192.5 131.6h0M188.6 125.9h0M200.5 110.5h0M184.7 129.4h0M190.7 129.5h0M156.8 123.3h0M146.6 112.3h0M188.7 108.2h0M142.7 118.7h0M203.5 113.5h0M179.3 134.7h0M157.1 118.3h0M202.6 129.4h0M173.9 124h0M139.7 110.3h0M209.5 114.4h0M177.6 137.9h0M152.4 110.8h0M194.7 124.7h0M190 135.1h0M182.9 131.5h0M167.6 129.5h0M164.3 116.5h0M195.4 126.2h0M160 107.9h0M185.4 133.1h0M148.3 108h0M190.7 125h0M163.5 128.8h0M189.6 134.5h0M173.5 113.7h0M176.6 132.7h0M205 121.6h0M168.4 124.5h0M181.9 124.4h0M176.7 111.2h0M140.2 115h0M147.8 118.2h0M201.3 131.7h0M148.5 128.4h0M168.8 113.8h0M187.9 110.7h0M187.9 131.8h0M174.9 136.6h0M170.5 115.7h0M196.2 115.8h0M165.3 114.8h0M174.5 135.1h0M162.9 111.9h0M165 122.3h0M167.5 132.6h0M190.9 124h0M169.2 131.9h0M160.1 106.9h0M161.8 116.8h0M168.3 127.5h0M187.5 124.2h0M164 136.9h0M197.5 126.3h0M180 124.3h0M176.2 132.6h0M185.9 112.2h0M184.6 124.1h0M177.6 129h0M166.3 128.7h0M149.3 107h0M154.1 129.7h0M154.7 134.8h0M165.3 125.9h0M159.5 133.9h0M168.2 106.9h0M163.2 112.8h0M178.6 134.2h0M207.7 124.2h0M200.1 116.2h0M158.4 131.6h0M153.9 126.1h0M172.7 113.1h0M186 131.8h0M158.6 121.4h0M170.5 130h0M149.1 118.1h0M165.1 103.7h0M197.7 120.3h0M169.3 131.7h0M194.5 110.6h0M167.6 131.9h0M162.5 128.3h0M175.9 112.5h0M147.5 111.5h0M155.2 108.4h0M185.3 117.9h0M192.9 117.4h0M137.3 113.1h0M189.4 135.4h0M195.5 130.7h0M166.9 120.5h0M185.6 126.1h0M184 130.8h0M162.6 124.4h0M184.1 129.4h0M151.8 130.5h0M168.2 130.4h0M174 138h0M179.8 117.6h0M147.9 117.1h0M208.3 113.4h0M155.8 136h0M156.6 135.8h0M154.3 117.5h0M137.5 116.4h0M164.3 107.6h0M189.1 130.4h0M145.4 124.5h0M157.9 120.5h0M192.8 131.9h0M171.4 136.2h0M183.3 113.5h0M178.2 121.6h0M191.5 123.4h0M159 132.2h0M153.1 123.8h0M166.6 131.7h0M172.1 106.9h0M167.5 105.5h0M182.3 117h0M140.8 116.5h0M154.2 109.5h0M147.6 116.9h0M171.9 130.3h0M169.3 118.7h0M145.7 115.2h0M153.5 113.6h0M191.5 114.7h0M146.1 118.8h0M181 120.9h0M163.8 120.8h0M165.9 128.8h0M196.5 131h0M206 126.1h0M203.3 112.4h0M185.2 124.1h0M137.7 119.4h0M185.8 113.1h0M180.1 117.9h0M191.5 113.8h0M149.6 120.9h0M201.9 122.7h0M144.1 117.8h0M157.3 104.5h0M133 114.3h0M202.1 126.2h0M182.3 124.2h0M182.2 128.9h0M185.5 109.7h0M176.5 116.5h0M179.6 121.8h0M161.2 131.8h0M171.6 112.3h0M187.1 108.3h0M186.3 124.9h0M165.1 108.1h0M199.1 120.6h0M190.6 133.3h0M158.1 130.9h0M147.2 119.8h0M156.2 112.3h0M166.3 122.5h0M153.2 111h0M185.4 134.5h0M165.1 132.9h0M193.7 115.8h0M193.6 119.1h0M184.9 130.1h0M148.5 116.9h0M153 134.6h0M208 113.8h0M154.4 111.4h0M186.7 109.7h0M141.3 127.2h0M196.1 122.2h0M174.9 110.3h0M176.9 135.1h0M197.8 129.4h0M155 111.2h0M177.3 115.7h0M156.9 131.9h0M181.4 107.4h0M167.8 118.3h0M154.5 127.8h0M181.3 132.1h0M188 128.5h0M163.8 111.6h0M187.1 125.6h0M185.6 115.9h0M165.8 124.1h0M206.4 115.1h0M189.6 118.6h0M150.4 132h0M188.4 132.7h0M154.3 135h0M167.3 121.7h0M168.2 105.3h0M158.9 105h0M150.9 134.2h0M151.9 116.3h0M171.8 109.4h0M149.3 127h0M205.4 129h0M154.2 105.7h0M177 127.8h0M140.5 118.3h0M203.5 113.6h0M170.2 140.3h0M196.7 120.9h0M137 109.4h0M178.6 137.2h0M199.4 122.9h0M172.2 137.6h0M162.5 121.6h0M191 109.2h0M137.9 126.2h0M153.5 113.8h0M194.8 113.4h0M166.7 115.1h0M167.5 113h0M155.5 130.9h0M165 121.5h0M145.7 114.7h0M177.4 126.3h0M206.4 121.1h0M176.7 131.6h0M184.3 123.8h0M157.7 136h0M178.1 122.3h0M191 133.8h0M179 135.6h0M195.2 130.5h0M174.1 115h0M146.9 121.1h0M178 106.5h0M169.2 129.3h0M145.2 127.4h0M180.3 134.2h0M143.7 106h0M174.7 124.7h0M190.8 131.5h0M164 107.2h0M151.9 102.1h0M160.9 115h0M172.7 116h0M176.5 108.3h0M143.3 112.2h0M151.7 117.1h0M147.2 128.8h0M200.2 128.4h0M202.8 124.3h0M141.5 121.5h0M159.9 113h0M149.1 106h0M170.1 109.3h0M147.1 121.9h0M171.1 126.2h0M171.3 132.6h0M188.9 134.2h0M166 112.9h0M159.4 130h0M210 116.2h0M191.9 115h0M142.2 109.7h0M196.1 123.4h0M193 129.8h0M145.1 114.7h0M167.5 110.2h0M183.8 107.6h0M170.9 128.7h0M145.4 114.7h0M145.2 122.4h0M152.2 116h0M149.1 124.6h0M146.4 110.9h0M169.6 132.5h0M160.6 115.5h0M177.4 119h0M154 116.2h0M160.6 114h0M192.7 115h0M154.2 109.1h0M165.5 137.5h0M190.8 111.3h0M164.6 113.2h0M199.5 120.7h0M156.4 109.6h0M186.7 114.6h0M151.7 126.3h0M141.6 122.4h0M164.3 118.4h0M179.9 128.2h0M146.1 115.5h0M189.3 111.7h0M167.9 124.5h0M140.8 120.9h0M142.7 123.2h0M203.1 119h0M140.2 113.1h0M159 111.4h0M177.6 109.4h0M175.8 106.4h0M168.7 115.4h0M178 134.9h0M190 127h0M185.3 110.4h0M195.3 127.5h0M163.8 102.2h0M193.3 126.2h0M208.7 113.5h0M153.1 107.8h0M205.4 120.5h0M203.6 127.7h0M162.5 110h0M207.3 117.8h0M166.3 125.1h0M164.1 130.3h0M188.6 136.8h0M168.9 111.4h0M167.3 109.9h0M163.6 117.9h0M166 116.7h0M137.8 116.2h0M189.8 117h0M177.9 120.9h0M183.4 125h0M194.9 116.4h0M153.6 102.7h0M151.3 127.4h0M154.1 108.9h0M158 132.3h0M192.7 113.7h0M161.7 116.3h0M157.9 121.6h0M182.6 133.3h0M149.5 118.7h0M140.7 121.7h0M187.5 121.2h0M155.1 112.4h0M179.3 135.7h0M162.1 112.7h0M178.1 135.7h0M151.3 106.2h0M159.6 129.5h0M179.7 117.2h0M143.7 121.8h0M187.2 117.9h0M207.4 115.6h0M147 104.1h0M152.5 107.9h0M149.2 128h0M153.1 107.2h0M179.1 112.5h0M206.6 117.7h0M173.9 125.7h0M179.7 118.9h0M190 123.3h0M159.2 128.9h0M176.5 118.3h0M138.4 120.3h0M136.1 115.8h0M205.5 119.6h0M166.7 104.1h0M148.4 112.6h0M189.2 133.3h0M151.3 132.8h0M201.1 125.2h0M182.3 132.7h0M140.9 122h0M157.4 126h0M149.1 116.6h0M203.1 119.9h0M158.3 121.6h0M158.1 118.4h0M139.3 119h0M192.3 111.1h0M184 133.2h0M173.7 134.3h0M181.5 121.4h0M153.8 115.4h0M175.8 133.6h0M194.7 129.3h0M182.2 138.4h0M175.3 129h0M201.7 121.2h0M142.6 110.1h0M187.5 134.4h0M195.7 110h0M193.1 127.6h0M165.7 110.1h0M147.8 130.5h0M198 125.7h0M152.1 130.3h0M202.1 119.6h0M164.5 135.3h0M157.1 109h0M170.6 113.1h0M168.1 135.3h0M187 122.9h0M172.4 129h0M202.4 127.7h0M158.6 105.6h0M154.7 107.1h0M169.3 106.9h0M134.6 118.2h0M179 133.8h0M137.1 118h0M172.1 109.9h0M172.3 135.3h0M165.5 135.5h0M143.7 124.2h0M146.6 125.8h0M166.2 121.2h0M196.4 111.2h0M181.7 136.1h0M191.9 122.9h0M149.6 115.4h0M198.2 130.6h0M187.4 129.1h0M148.5 110.8h0M169.8 120.4h0M207.1 114.6h0M175.7 108.7h0M165.6 114.6h0M183 128.7h0M153.8 114.1h0M173 122.4h0M160.7 108h0M173.4 136.2h0M153.9 108.9h0M183.9 128.8h0M201.7 112.9h0M170.7 133.1h0M169.2 124.7h0M198.2 127.2h0M153.2 108.8h0M192.6 114.7h0M155.6 135.8h0M188.8 127.1h0M157.3 130.5h0M179.6 121h0M194.4 114.9h0M173.8 109.4h0M161.9 126.5h0M160.2 106.8h0M153.4 129.1h0M181.6 119.2h0M139.5 124.2h0M184 121.9h0M201.7 116h0M144.2 112.6h0M206.8 115.8h0M150 126.1h0M202.4 124.3h0M181.8 130.9h0M174.2 130.1h0M148.7 127.4h0M172.4 128.4h0M153.5 114.1h0M144.6 122.8h0M194.9 112.2h0M204.6 126.6h0M142.7 127.1h0M155.7 119.1h0M147.6 128.6h0M177.6 125h0M165.5 105.5h0M168.8 111.9h0M184 119.5h0M155.3 125.9h0M165 107.3h0M169.7 125.4h0M203.5 125.1h0M152 128.5h0M156.7 120.4h0M203 115.2h0M162.9 108.5h0M171.9 115.9h0M202.1 119.6h0M139.6 121.8h0M142.9 127.3h0M153.4 110.1h0M205.3 123.5h0M145.4 109.5h0M150.9 129h0M170.8 109.4h0M177.7 110.1h0M155.7 132.1h0M141.1 121.1h0M195.2 112.3h0M194.6 129.1h0M179.6 129.2h0M174.9 106.2h0M181.9 129.4h0M166.3 120.6h0M199 113h0M162.6 120.7h0M143.8 109.1h0M176 106.8h0M192.3 129h0M190.4 130.7h0M153.4 111.1h0M212 116.3h0M189.5 132.8h0M163.7 117.1h0M164.3 117.7h0M145 122.7h0M184.2 123.7h0M187.9 127.8h0M198.6 118.6h0M168.8 132.3h0M168.5 125.7h0M155.2 133.5h0M204.5 114.5h0M158.6 120.1h0M185.7 112.7h0M166.1 107.9h0M179.7 119.2h0M169.5 130.1h0M176.1 125.9h0M146.5 122.6h0M160.1 113.8h0M153.5 120.2h0M177.8 128.3h0M159.9 104.7h0M179.4 127.4h0M161.4 126.8h0M183.7 117.9h0M153.4 109.7h0M192.9 126.7h0M154.3 130.1h0M200.5 130.9h0M138.8 116.6h0M140.7 124.9h0M189.8 109.1h0M167.6 136.5h0M156.9 124.1h0M174 128.4h0M187.1 110.7h0M180.3 130.7h0M169.4 117.9h0M193 132.6h0M198 127.6h0M179.3 120.6h0M201.7 117.2h0M193.1 120.3h0M198.8 113.9h0M188.3 126.9h0M147.9 119.8h0M154.2 107.3h0M158.8 119.7h0M182.7 135.6h0M133.7 117.2h0M149.8 119.8h0M159.6 120.9h0M175.4 112.4h0M171.6 123.2h0M190.7 130.1h0M183.1 128.2h0M157.3 128h0M198.2 111.3h0M177.9 114.2h0M136.4 112.4h0M166.9 116.6h0M160.2 117.3h0M179 114.1h0M165.2 126.1h0M179.7 113.9h0M200.3 119.2h0M186.1 136.5h0M171 124.1h0M197.3 125.6h0M169.2 127.2h0M157 126.2h0M143.8 105.1h0M197.1 122.4h0M155.8 132.8h0M172.4 106.8h0M195.3 110.2h0M198.3 129.3h0M157.5 122.4h0M143.6 115.8h0M201.3 132.5h0M169 113.7h0M142.8 117h0M170.4 118.6h0M151.7 125.9h0M162.4 131h0M182.2 120.4h0M200.7 124.9h0M194.6 114.6h0M143.8 125.5h0M169.4 132.9h0M170.7 120.7h0M140.4 122.9h0M171.4 121.6h0M201.9 124.6h0M163.2 108.3h0M154.1 112.1h0M176.8 110.3h0M159 122.9h0M205.6 128.1h0M149.9 111.2h0M137.8 113.8h0M190.4 109.6h0M156.1 126.7h0M201.7 122.5h0M200.4 113.5h0M207.1 113.8h0M190.2 110.6h0M186.7 135.3h0M189.2 123h0M161.1 120.8h0M190.2 108.8h0M139.7 120.6h0M163.2 118.8h0M177.8 120.4h0M173.3 129h0M155.3 120.3h0M160.4 127.9h0M158.5 110.9h0M143.6 125.1h0M202.4 123.5h0M147.4 129.9h0M179.2 122.4h0M184.1 115.9h0M188.5 111.8h0M174 134.9h0M171.9 123.5h0M188.3 136.9h0M183.8 125.9h0M181 127.9h0M152.1 129.7h0M203.6 131.4h0M174 118.6h0M206.9 115.6h0M147.6 121.3h0M165.6 136.2h0M174.9 136.4h0M190.6 137.9h0M189.1 134h0M159.4 132.7h0M187.2 110.7h0M192.9 130.5h0M148 129.4h0M168.9 123.9h0M172.7 125.2h0M181.6 129.4h0M185.2 127.3h0M162.7 110.9h0M188.4 124.3h0M168.6 124.2h0M164 126.2h0M160.1 114.5h0M170.7 109.4h0M154.5 124.9h0M151.1 110.7h0M166.7 111.1h0M155.1 130.8h0M197.9 117.1h0M162.4 111.9h0M180.4 108.7h0M200.8 125.5h0M161.5 128.7h0M177.5 117.4h0M166.8 119h0M183.1 127.2h0M208.4 113.4h0M143.2 117.5h0M207 123h0M182 112.5h0M181 135.5h0M188.8 136.6h0M155.6 120.2h0M174.6 134h0M147.8 126.7h0M136.3 115.8h0M193.6 116.4h0M157 135.2h0M183.5 112.4h0M177.7 122.7h0M179 135.3h0M166.4 133.2h0M150.9 107.8h0M189.5 114.1h0M169.4 120.3h0M188.7 128.2h0M161.3 104.3h0M176.2 131.3h0M180.7 138h0M200.1 111.8h0M191.9 120.6h0M154.6 110.8h0M163.5 111.1h0M156.6 126.5h0M169.6 128.6h0M174.2 114h0M188.1 137.2h0M183.9 120.6h0M182.2 121.3h0M162.4 118.2h0M184.5 118h0M159.8 114.6h0M182.1 131.4h0M168.7 120.8h0M175.3 112.1h0M173.5 136h0M151.3 126.8h0M163 108.6h0M138.4 118.4h0M184.8 120.7h0M181.4 106h0M142.8 124.9h0M202.8 115.4h0M141.8 110.6h0M161.5 115.5h0M171.2 107.6h0M157.2 118.4h0M152.9 128.8h0M186.6 133.4h0M161.7 114.8h0M142.9 126.2h0M175.7 126.4h0M165.2 132.4h0M157 108.3h0M190.1 135.1h0M142.7 124.9h0M156.6 107.6h0M196 128.1h0M182 125.3h0M200.3 122.1h0M181.9 135.9h0M180.5 131.5h0M204.4 113.1h0M160.5 126.8h0M185.9 129.1h0M167.2 110.3h0M195.2 133.5h0M151 125.5h0M184.6 113.2h0M184.2 119.6h0M168 109.4h0M145.4 116.7h0M193.1 119.3h0M149.1 115.7h0M168.9 107.5h0M151.2 108.6h0M193.5 129.9h0M204.3 125h0M198.2 131.6h0M182.5 123.2h0M147.4 108h0M196.7 111.8h0M187.2 122.5h0M187.8 125.8h0M196.4 127.1h0M157.7 124.3h0M183.8 116.2h0M174.3 125.9h0M160.3 104.6h0M158 117.9h0M170.2 110.4h0M161.9 126.6h0M165.6 130h0M185.4 132.3h0M184.4 111.1h0M147.3 116.2h0M170.6 123.8h0M161.9 133.8h0M205.8 122.3h0M139.5 110.2h0M192.1 126.3h0M199.8 123.2h0M171.6 104.7h0M194.1 117.5h0M168.9 138.1h0M161.1 123.6h0M172.2 113.9h0M150 130h0M157.2 120.4h0M157.9 136.2h0M159.2 103.6h0M151.8 109.8h0M208.4 116.3h0M196.4 116.9h0M167.5 109.6h0M146.9 125.4h0M159.6 107.4h0M166.6 121.8h0M203.3 110.5h0M174.8 131.1h0M189.6 111.7h0M143 113.8h0M173.7 111.1h0M146 126.3h0M133.6 114.4h0M205.9 117.6h0M159.8 116.2h0M148.1 115h0M140.6 113h0M182.2 116.8h0M168.3 127.4h0M188 127h0M153.4 115.8h0M171.1 107.8h0M175.2 135.3h0M168.2 104.7h0M185.2 111.4h0M141.8 110.5h0M171.2 112.8h0M150.4 133.8h0M140.2 107.5h0M150.3 107h0M205.4 126.1h0M188.6 129.7h0M198.9 125.4h0M184.6 119.7h0M157.4 119.7h0M161.3 110.5h0M154.3 119.1h0M165.4 127.3h0M192.2 124.3h0M155.1 112.4h0M170.2 108.2h0M184.3 136.1h0M182.4 120.8h0M189.7 127.1h0M141.1 124.9h0M148.1 134.6h0M155.7 131.3h0M153.6 127.3h0M154.2 102.5h0M195.9 132.2h0M206.1 127.3h0M159.2 131.8h0M159.5 123.8h0M180.2 109.8h0M160.5 124.1h0M147.2 120.2h0M143.8 112.2h0M181.1 135.7h0M159.2 110.9h0M191.9 134.8h0M185.7 119.2h0M165.3 127.8h0M183.3 115.7h0M185.7 119h0M166.7 125.1h0M147.4 109.2h0M167.7 132.4h0M188.6 111h0M173.9 108.7h0M138.6 118.8h0M151.5 129h0M137.5 122.4h0M146.4 115.9h0M147.3 130.4h0M164.8 113.7h0M157.3 128h0M161.8 129.7h0M141.2 121.8h0M174.5 114.4h0M165.1 121.8h0M174.4 108.3h0M197.3 114.6h0M195.7 114h0M135.5 118.7h0M200.5 110.5h0M155.4 109.8h0M183.7 128.5h0M198.5 126.3h0M195.8 114.5h0M198.7 122.2h0M170.3 112.6h0M199.5 133.8h0M168.6 116.9h0M153 124.1h0M172.3 137.1h0M159.1 113.6h0M198.7 120.7h0M144.6 125.9h0M146.4 113.1h0M165.7 127.8h0M169.3 129.9h0M206.1 125.9h0M207.3 119.9h0M185.1 134.9h0M155.3 124.6h0M162.9 123.7h0M154.6 113h0M157.4 128.3h0M158.2 133.6h0M190.1 128.4h0M153.1 113.2h0M199.2 117.7h0M180.2 110h0M174.5 111.7h0M148.9 112h0M193.9 127.1h0M170.9 122.3h0M161.7 111.9h0M158.6 134.9h0M163.2 120.7h0M167.7 135.9h0M151.5 123.4h0M163.2 105.4h0M159 107h0M163.4 113.5h0M183.1 128.6h0M168.8 124.9h0M150.7 127.5h0M173.8 112.3h0M156.7 134.1h0M166 137.3h0M161.7 136.2h0M155.3 139.6h0M157.9 137.3h0M153.5 138.3h0M163.7 137.3h0M158.9 136.1h0M166.8 137h0M159 140.5h0M158.7 135.6h0M155.2 137.4h0M168.7 138.3h0M158.7 139.2h0M166.4 136.8h0M167 139.2h0M162.1 134.4h0M160.8 140.1h0M158.5 141.4h0M160.2 136.4h0M162.8 138.4h0M164 137.6h0M166.4 137.1h0M160.5 136.1h0M155.8 138.3h0M169.9 108.7h0M210.4 114h0M167 103.6h0M173.4 108.2h0M195.1 113.3h0M174.1 106.6h0M156.7 103.2h0M161.1 102.3h0M180 106.9h0M171.1 105.5h0M183.9 110.1h0M162.4 101.5h0M209.6 108.1h0M168.4 103.5h0M171.1 105.9h0M186.5 103.3h0M201 109.7h0M202.2 108.6h0M182 104.5h0M201.8 110.6h0M189.2 110.7h0M168.9 101.7h0M178.1 106.7h0M168 104.1h0M197.5 111h0M184.4 107.3h0M180.6 105.3h0M168.6 106.5h0M194.1 109.9h0M163.9 101.5h0M166.9 99.9h0M147.3 99.4h0M154 102.5h0M167.9 106.2h0M167.8 103.2h0M174.3 104.7h0M188.7 104.1h0M164.1 102.8h0M157.8 103h0M187 106.5h0M192.8 108.5h0M205.3 108.8h0M179 104.4h0M150.8 102.1h0M168.7 101.2h0M190.6 108.4h0M172.6 107.9h0M156.1 101.2h0M208.1 110.3h0M201.2 108.4h0M163.5 100.9h0M155.1 101h0M177.6 103.3h0M162.8 103.1h0M179.5 105.2h0M194.2 106.5h0M165.2 104h0M170.9 107.1h0M186.6 109.4h0M181 106.1h0M147.9 100.9h0M168.1 102.2h0M155.5 101.7h0M202 111.7h0M176.7 107.6h0M197.7 112.5h0M164.1 100.4h0M150.8 104.9h0M203.9 111.4h0M203.5 113.9h0M183.7 107.1h0M155.3 104.9h0M151.3 101.5h0M189.7 105.8h0M180.8 107.3h0M168.9 103.5h0M183.8 107h0M150.4 102.5h0M160.3 104.8h0M209.5 112.9h0M175.6 107.8h0M175 102.2h0M209.8 114.1h0M175.7 103.9h0M150 101.5h0M190 107.3h0M179.6 103.9h0M163.4 105.5h0M180.4 104.3h0M165.6 102.8h0M155.9 99.4h0M165.1 90.8h0M157.4 93.1h0M190.5 107.4h0M211.1 104.1h0M145.3 84.7h0M152.8 72.5h0M163.4 88.3h0M178.3 80.2h0M184 82.9h0M148 83.4h0M165.8 99.5h0M184.4 103.1h0M156.8 75.3h0M181.7 83h0M169.4 88.1h0M182.2 77.5h0M151.7 72.3h0M160 92.2h0M171.2 87.7h0M167.9 78.4h0M169.8 80.7h0M169.6 78.1h0M168.4 71.8h0M198.7 97.6h0M174.5 99.8h0M181.6 87h0M180.7 75.8h0M170.3 74h0M211.2 104h0M156.5 79.6h0M167.9 76.8h0M184.5 97.9h0M187.4 93.1h0M186.5 88.8h0M150.1 80.9h0M185.4 99.7h0M170.9 81.8h0M188.9 107.6h0M189.8 87.5h0M142.6 103.9h0M97.9 94.4h0M121.5 125h0M142.9 103.1h0M128.5 114.5h0M104.9 105h0M113.4 97.5h0M144.4 110.5h0M113.9 110.4h0M117.5 105.3h0M146.1 102.3h0M98.9 116.5h0M98.8 100.1h0M105.6 115.7h0M125.8 118.1h0M119.9 123.7h0M113.9 105.6h0M146.9 100.4h0M122.9 123.6h0M136.9 114.5h0M127.7 118.8h0M117.7 118.1h0M111.6 112.5h0M122.1 105.3h0M95.6 98.7h0" stroke="#54266e" stroke-width="1.25"/>
<path d="M105 37.1h0M106.4 40.6h0M106.2 35.6h0M106.4 36h0M105.7 39.3h0M108.5 43.9h0M105.1 44.6h0M104.9 37h0M105.7 41.7h0M105.9 40.8h0M105.9 37.8h0M105.7 37.7h0M105.7 44h0M107.8 41.2h0M108.6 37.9h0M105.6 36.1h0M104.9 37.4h0M106.6 35.5h0M106.5 38.6h0M105.7 35.1h0M106.5 37.8h0M105.5 34h0M107.8 40.5h0M105.9 36.2h0M107 36.8h0M106.6 32.2h0M106.5 40.5h0M107.4 39.5h0M107.1 39.1h0M106.4 37.5h0M104.6 35.5h0M106.6 33h0M107.4 40.5h0M105.2 40.5h0M106 42.5h0M105.7 41.3h0M105.1 35.2h0M104.3 38.7h0M105.2 42h0M104.8 40.1h0M106.9 36.2h0M106.2 44.2h0M105.9 40.9h0M107.1 39.1h0M104.5 36.8h0M106.5 43.5h0M107 33.5h0M108 33h0M110.2 56.5h0" stroke="#e8138f" stroke-width="1.25"/>
</g>
<g stroke="#000" stroke-width="1" fill="none">
<path d="M49.5 26V162.2H216.9"/>
<path d="M46.3 50.40H49.5"/>
<path d="M46.3 78.70H49.5"/>
<path d="M46.3 107.00H49.5"/>
<path d="M46.3 135.30H49.5"/>
<path d="M55.58 162.2V165.3"/>
<path d="M95.99 162.2V165.3"/>
<path d="M136.40 162.2V165.3"/>
<path d="M176.81 162.2V165.3"/>
<path d="M217.22 162.2V165.3"/>
</g>
<text x="43.60" y="53.00" font-size="7.2" text-anchor="end" font-weight="normal" font-style="normal" fill="#000" >5</text>
<text x="43.60" y="81.30" font-size="7.2" text-anchor="end" font-weight="normal" font-style="normal" fill="#000" >2.5</text>
<text x="43.60" y="109.60" font-size="7.2" text-anchor="end" font-weight="normal" font-style="normal" fill="#000" >0</text>
<text x="43.60" y="137.90" font-size="7.2" text-anchor="end" font-weight="normal" font-style="normal" fill="#000" >−2.5</text>
<text x="55.58" y="173.40" font-size="7.2" text-anchor="middle" font-weight="normal" font-style="normal" fill="#000" >−6</text>
<text x="95.99" y="173.40" font-size="7.2" text-anchor="middle" font-weight="normal" font-style="normal" fill="#000" >−3</text>
<text x="136.40" y="173.40" font-size="7.2" text-anchor="middle" font-weight="normal" font-style="normal" fill="#000" >0</text>
<text x="176.81" y="173.40" font-size="7.2" text-anchor="middle" font-weight="normal" font-style="normal" fill="#000" >3</text>
<text x="217.22" y="173.40" font-size="7.2" text-anchor="middle" font-weight="normal" font-style="normal" fill="#000" >6</text>
<text transform="translate(133.20,186.70) scale(0.68,1)" font-size="9" text-anchor="middle" font-weight="normal" font-style="normal" fill="#000" >UMAP_1</text>
<text transform="translate(23.10,93.60) rotate(-90) scale(0.68,1)" font-size="9" text-anchor="middle" font-weight="normal" font-style="normal" fill="#000" >UMAP_2</text>
<text x="127.50" y="15.90" font-size="6.7" text-anchor="start" font-weight="normal" font-style="normal" fill="#000" >Cluster</text>
<circle cx="156.90" cy="10.2" r="1.35" fill="#54266e"/>
<text x="156.90" y="19.20" font-size="6.8" text-anchor="middle" font-weight="normal" font-style="normal" fill="#000" style="stroke:none">0</text>
<circle cx="165.42" cy="10.2" r="1.35" fill="#f6b31b"/>
<text x="165.42" y="19.20" font-size="6.8" text-anchor="middle" font-weight="normal" font-style="normal" fill="#000" style="stroke:none">1</text>
<circle cx="173.94" cy="10.2" r="1.35" fill="#1fa83e"/>
<text x="173.94" y="19.20" font-size="6.8" text-anchor="middle" font-weight="normal" font-style="normal" fill="#000" style="stroke:none">2</text>
<circle cx="182.46" cy="10.2" r="1.35" fill="#2e2e2e"/>
<text x="182.46" y="19.20" font-size="6.8" text-anchor="middle" font-weight="normal" font-style="normal" fill="#000" style="stroke:none">3</text>
<circle cx="190.98" cy="10.2" r="1.35" fill="#135891"/>
<text x="190.98" y="19.20" font-size="6.8" text-anchor="middle" font-weight="normal" font-style="normal" fill="#000" style="stroke:none">4</text>
<circle cx="199.50" cy="10.2" r="1.35" fill="#c8143c"/>
<text x="199.50" y="19.20" font-size="6.8" text-anchor="middle" font-weight="normal" font-style="normal" fill="#000" style="stroke:none">5</text>
<circle cx="208.02" cy="10.2" r="1.35" fill="#e8138f"/>
<text x="208.02" y="19.20" font-size="6.8" text-anchor="middle" font-weight="normal" font-style="normal" fill="#000" style="stroke:none">6</text>
<g transform="translate(296.8,18.7) scale(1.1242,5.2)" fill="none" stroke-width="1.02">
<path stroke="#f28070" d="M0.5 0v1M22.5 0v1M40.5 0v1M58.5 0v1M4.5 1v1M7.5 1v1M10.5 1v1M11.5 1v1M19.5 1v1M21.5 1v1M36.5 1v1M41.5 1v1M55.5 1v1M10.5 2v1M23.5 2v1M28.5 2v1M32.5 2v1M35.5 2v1M54.5 2v1M2.5 3v1M16.5 3v1M17.5 3v1M25.5 3v1M31.5 3v1M36.5 3v1M5.5 4v1M13.5 4v1M23.5 4v1M25.5 4v1M30.5 4v1M58.5 4v1M60.5 4v1M0.5 5v1M6.5 5v1M7.5 5v1M11.5 5v1M15.5 5v1M24.5 5v1M25.5 5v1M38.5 5v1M39.5 5v1M43.5 5v1M48.5 5v1M52.5 5v1M11.5 7v1M37.5 7v1M9.5 24v1M43.5 24v1M4.5 29v1M30.5 29v1M30.5 35v1"/>
<path stroke="#f38876" d="M1.5 0v1M14.5 0v1M52.5 0v1M57.5 0v1M15.5 1v1M16.5 1v1M18.5 1v1M22.5 1v1M42.5 1v1M46.5 1v1M54.5 1v1M14.5 2v1M16.5 2v1M18.5 2v1M19.5 2v1M20.5 2v1M30.5 2v1M34.5 2v1M45.5 2v1M50.5 2v1M33.5 3v1M40.5 3v1M52.5 3v1M57.5 3v1M0.5 4v1M8.5 4v1M18.5 4v1M34.5 4v1M42.5 4v1M57.5 4v1M28.5 5v1M33.5 5v1M36.5 5v1M42.5 5v1M54.5 5v1M61.5 5v1M2.5 7v1M27.5 7v1M28.5 7v1M55.5 7v1M4.5 13v1M57.5 17v1M27.5 29v1M60.5 29v1M43.5 30v1M33.5 33v1M10.5 35v1M25.5 35v1M29.5 35v1M10.5 37v1"/>
<path stroke="#f0413a" d="M2.5 0v1M26.5 3v1"/>
<path stroke="#f38f7d" d="M3.5 0v1M23.5 0v1M25.5 0v1M17.5 1v1M20.5 1v1M39.5 1v1M51.5 1v1M60.5 1v1M61.5 1v1M46.5 2v1M48.5 2v1M1.5 3v1M22.5 3v1M27.5 3v1M44.5 3v1M58.5 3v1M29.5 4v1M33.5 4v1M36.5 4v1M41.5 4v1M45.5 4v1M48.5 4v1M1.5 5v1M2.5 5v1M35.5 5v1M60.5 5v1M7.5 7v1M50.5 7v1M57.5 7v1M59.5 7v1M27.5 19v1M37.5 19v1M27.5 24v1M33.5 24v1M5.5 35v1M57.5 35v1M5.5 37v1M26.5 37v1"/>
<path stroke="#f05046" d="M4.5 0v1M13.5 0v1M19.5 0v1M38.5 0v1M12.5 1v1M44.5 1v1M9.5 3v1M38.5 3v1M49.5 3v1M60.5 3v1M21.5 4v1M28.5 4v1"/>
<path stroke="#f16457" d="M5.5 0v1M33.5 0v1M35.5 0v1M45.5 0v1M55.5 0v1M14.5 1v1M30.5 1v1M37.5 1v1M38.5 1v1M43.5 1v1M50.5 1v1M6.5 2v1M26.5 2v1M43.5 2v1M58.5 2v1M5.5 3v1M19.5 3v1M20.5 3v1M28.5 3v1M30.5 3v1M44.5 4v1M30.5 5v1M18.5 7v1M38.5 7v1"/>
<path stroke="#f27262" d="M6.5 0v1M7.5 0v1M24.5 0v1M34.5 0v1M41.5 0v1M43.5 0v1M48.5 0v1M0.5 1v1M35.5 1v1M52.5 1v1M7.5 2v1M11.5 2v1M29.5 2v1M33.5 2v1M38.5 2v1M44.5 2v1M49.5 2v1M51.5 2v1M52.5 2v1M57.5 2v1M60.5 2v1M8.5 3v1M10.5 3v1M12.5 3v1M29.5 3v1M34.5 3v1M37.5 3v1M10.5 4v1M53.5 4v1M59.5 4v1M5.5 5v1M13.5 5v1M21.5 5v1M23.5 5v1M27.5 5v1M37.5 5v1M58.5 5v1M15.5 7v1"/>
<path stroke="#f0574c" d="M8.5 0v1M12.5 0v1M15.5 0v1M30.5 0v1M5.5 1v1M25.5 1v1M26.5 1v1M27.5 1v1M29.5 1v1M40.5 1v1M53.5 1v1M5.5 2v1M55.5 2v1M6.5 3v1M3.5 5v1M29.5 5v1M49.5 5v1M44.5 7v1"/>
<path stroke="#f39684" d="M9.5 0v1M44.5 0v1M54.5 0v1M47.5 1v1M48.5 1v1M56.5 1v1M1.5 2v1M2.5 2v1M15.5 2v1M21.5 2v1M31.5 2v1M56.5 2v1M4.5 3v1M13.5 3v1M21.5 3v1M24.5 3v1M41.5 3v1M45.5 3v1M48.5 3v1M51.5 3v1M54.5 3v1M59.5 3v1M20.5 4v1M24.5 4v1M40.5 4v1M49.5 4v1M54.5 4v1M17.5 5v1M22.5 5v1M34.5 5v1M40.5 5v1M3.5 7v1M13.5 7v1M16.5 7v1M20.5 7v1M22.5 7v1M26.5 7v1M33.5 7v1M41.5 7v1M42.5 7v1M58.5 7v1M37.5 15v1M14.5 19v1M26.5 24v1M48.5 24v1M51.5 24v1M39.5 29v1M52.5 29v1M21.5 33v1M30.5 33v1M58.5 33v1M35.5 35v1M39.5 37v1M53.5 37v1"/>
<path stroke="#f1a296" d="M10.5 0v1M32.5 0v1M46.5 0v1M56.5 0v1M1.5 1v1M49.5 1v1M12.5 2v1M0.5 3v1M15.5 3v1M18.5 3v1M61.5 3v1M7.5 4v1M17.5 4v1M32.5 4v1M47.5 4v1M51.5 4v1M56.5 4v1M12.5 5v1M26.5 5v1M31.5 5v1M46.5 5v1M51.5 5v1M8.5 7v1M17.5 7v1M19.5 7v1M35.5 7v1M48.5 7v1M49.5 7v1M51.5 7v1M52.5 7v1M5.5 9v1M47.5 9v1M16.5 12v1M36.5 12v1M10.5 13v1M19.5 14v1M51.5 14v1M60.5 14v1M2.5 15v1M16.5 15v1M43.5 15v1M48.5 15v1M50.5 15v1M4.5 17v1M23.5 18v1M27.5 18v1M40.5 18v1M30.5 19v1M32.5 19v1M49.5 19v1M30.5 20v1M49.5 20v1M0.5 24v1M3.5 24v1M20.5 24v1M50.5 24v1M13.5 25v1M5.5 26v1M8.5 27v1M40.5 27v1M43.5 27v1M16.5 28v1M47.5 28v1M8.5 29v1M12.5 29v1M29.5 29v1M32.5 29v1M36.5 29v1M42.5 29v1M49.5 29v1M50.5 29v1M51.5 29v1M59.5 29v1M39.5 30v1M60.5 30v1M4.5 32v1M8.5 32v1M51.5 32v1M60.5 32v1M27.5 33v1M45.5 33v1M60.5 33v1M21.5 35v1M27.5 35v1M29.5 36v1M53.5 36v1M9.5 37v1M18.5 37v1M19.5 37v1M30.5 37v1M38.5 37v1M44.5 37v1M47.5 37v1M49.5 37v1M50.5 37v1"/>
<path stroke="#f15e51" d="M11.5 0v1M29.5 0v1M47.5 0v1M60.5 0v1M8.5 1v1M23.5 1v1M43.5 3v1M15.5 4v1M16.5 4v1M39.5 4v1M32.5 5v1M56.5 5v1"/>
<path stroke="#f29c8d" d="M16.5 0v1M2.5 1v1M24.5 1v1M31.5 1v1M45.5 1v1M58.5 1v1M0.5 2v1M3.5 2v1M59.5 2v1M42.5 3v1M56.5 3v1M2.5 4v1M3.5 4v1M9.5 4v1M37.5 4v1M43.5 4v1M50.5 4v1M41.5 5v1M45.5 5v1M47.5 5v1M6.5 7v1M21.5 7v1M30.5 7v1M43.5 7v1M26.5 13v1M51.5 13v1M28.5 14v1M32.5 14v1M53.5 14v1M12.5 15v1M23.5 15v1M50.5 17v1M51.5 17v1M26.5 19v1M35.5 19v1M5.5 20v1M6.5 24v1M8.5 24v1M30.5 24v1M32.5 24v1M60.5 24v1M9.5 27v1M34.5 27v1M36.5 27v1M52.5 27v1M7.5 29v1M13.5 29v1M16.5 29v1M43.5 29v1M54.5 29v1M58.5 29v1M61.5 30v1M25.5 33v1M34.5 33v1M35.5 33v1M38.5 33v1M30.5 34v1M6.5 35v1M15.5 35v1M39.5 35v1M51.5 35v1M2.5 37v1M20.5 37v1M43.5 37v1"/>
<path stroke="#efaea7" d="M17.5 0v1M25.5 2v1M7.5 3v1M11.5 4v1M27.5 4v1M52.5 4v1M53.5 5v1M1.5 7v1M4.5 7v1M53.5 7v1M4.5 9v1M15.5 9v1M22.5 9v1M26.5 9v1M29.5 9v1M30.5 9v1M38.5 9v1M40.5 9v1M34.5 12v1M31.5 13v1M13.5 14v1M16.5 14v1M21.5 14v1M34.5 14v1M37.5 14v1M39.5 14v1M55.5 14v1M20.5 15v1M33.5 15v1M45.5 15v1M19.5 17v1M22.5 17v1M49.5 17v1M56.5 17v1M58.5 17v1M60.5 17v1M37.5 18v1M38.5 18v1M39.5 18v1M52.5 18v1M5.5 19v1M22.5 19v1M51.5 19v1M52.5 19v1M6.5 20v1M11.5 20v1M22.5 20v1M28.5 20v1M33.5 20v1M56.5 20v1M41.5 21v1M4.5 24v1M17.5 24v1M37.5 24v1M39.5 24v1M3.5 25v1M28.5 25v1M4.5 26v1M38.5 26v1M40.5 26v1M25.5 27v1M49.5 27v1M51.5 28v1M54.5 28v1M23.5 29v1M24.5 29v1M26.5 29v1M28.5 29v1M34.5 29v1M16.5 30v1M42.5 30v1M19.5 32v1M27.5 32v1M37.5 32v1M48.5 32v1M50.5 32v1M4.5 33v1M36.5 33v1M41.5 33v1M42.5 33v1M43.5 33v1M54.5 33v1M26.5 34v1M44.5 34v1M16.5 35v1M37.5 35v1M38.5 35v1M43.5 35v1M44.5 35v1M50.5 35v1M61.5 35v1M38.5 36v1M39.5 36v1M24.5 37v1M29.5 37v1M35.5 37v1M46.5 37v1M52.5 37v1"/>
<path stroke="#ecb8b7" d="M18.5 0v1M9.5 2v1M23.5 3v1M55.5 4v1M55.5 5v1M14.5 7v1M24.5 9v1M33.5 9v1M41.5 9v1M53.5 9v1M40.5 12v1M3.5 13v1M40.5 13v1M55.5 13v1M24.5 14v1M26.5 14v1M33.5 14v1M35.5 14v1M43.5 14v1M52.5 14v1M19.5 15v1M32.5 15v1M39.5 15v1M8.5 16v1M17.5 16v1M23.5 16v1M37.5 16v1M46.5 16v1M48.5 16v1M21.5 17v1M24.5 17v1M4.5 18v1M9.5 18v1M29.5 18v1M49.5 18v1M3.5 19v1M19.5 19v1M21.5 19v1M42.5 19v1M47.5 19v1M50.5 19v1M57.5 19v1M61.5 19v1M0.5 20v1M1.5 20v1M7.5 20v1M25.5 20v1M36.5 20v1M44.5 20v1M48.5 20v1M51.5 20v1M21.5 21v1M23.5 21v1M28.5 23v1M14.5 24v1M19.5 24v1M44.5 24v1M45.5 24v1M49.5 24v1M57.5 24v1M58.5 24v1M2.5 25v1M30.5 25v1M58.5 25v1M60.5 25v1M59.5 26v1M10.5 27v1M14.5 27v1M19.5 27v1M20.5 27v1M21.5 27v1M23.5 27v1M26.5 27v1M32.5 27v1M35.5 27v1M44.5 27v1M60.5 27v1M0.5 28v1M12.5 28v1M17.5 28v1M37.5 28v1M53.5 28v1M57.5 28v1M19.5 29v1M38.5 29v1M40.5 29v1M44.5 29v1M53.5 29v1M6.5 30v1M37.5 30v1M49.5 30v1M23.5 32v1M53.5 32v1M11.5 33v1M16.5 33v1M44.5 33v1M49.5 33v1M32.5 34v1M35.5 34v1M47.5 35v1M52.5 35v1M53.5 35v1M56.5 35v1M61.5 36v1M27.5 37v1M31.5 37v1M51.5 37v1M54.5 37v1M56.5 37v1M57.5 37v1"/>
<path stroke="#f26b5c" d="M20.5 0v1M21.5 0v1M26.5 0v1M27.5 0v1M37.5 0v1M39.5 0v1M49.5 0v1M50.5 0v1M28.5 1v1M33.5 1v1M34.5 1v1M4.5 2v1M17.5 2v1M22.5 2v1M24.5 2v1M39.5 2v1M42.5 2v1M32.5 3v1M39.5 3v1M55.5 3v1M14.5 4v1M4.5 5v1M8.5 5v1M20.5 5v1M5.5 7v1M12.5 7v1M24.5 7v1M39.5 7v1M54.5 7v1M56.5 7v1"/>
<path stroke="#f04840" d="M28.5 0v1M59.5 0v1M6.5 1v1M53.5 3v1M38.5 4v1"/>
<path stroke="#f27969" d="M31.5 0v1M36.5 0v1M42.5 0v1M51.5 0v1M53.5 0v1M61.5 0v1M3.5 1v1M9.5 1v1M13.5 1v1M57.5 1v1M8.5 2v1M27.5 2v1M37.5 2v1M41.5 2v1M61.5 2v1M3.5 3v1M11.5 3v1M50.5 3v1M4.5 4v1M22.5 4v1M26.5 4v1M61.5 4v1M9.5 5v1M14.5 5v1M16.5 5v1M44.5 5v1M50.5 5v1M57.5 5v1M59.5 5v1M0.5 7v1M9.5 7v1M36.5 7v1M40.5 7v1M45.5 7v1M47.5 7v1M38.5 30v1"/>
<path stroke="#f0a89e" d="M32.5 1v1M59.5 1v1M13.5 2v1M36.5 2v1M40.5 2v1M53.5 2v1M47.5 3v1M6.5 4v1M12.5 4v1M31.5 4v1M35.5 4v1M46.5 4v1M10.5 5v1M18.5 5v1M19.5 5v1M23.5 7v1M29.5 7v1M31.5 7v1M32.5 7v1M2.5 9v1M27.5 9v1M46.5 9v1M54.5 9v1M38.5 13v1M7.5 14v1M48.5 14v1M50.5 14v1M56.5 14v1M15.5 15v1M28.5 15v1M51.5 15v1M53.5 15v1M2.5 17v1M37.5 17v1M28.5 19v1M55.5 19v1M60.5 19v1M8.5 20v1M10.5 20v1M23.5 20v1M27.5 20v1M38.5 20v1M12.5 21v1M29.5 23v1M10.5 24v1M29.5 24v1M36.5 24v1M42.5 24v1M52.5 24v1M55.5 24v1M10.5 25v1M39.5 26v1M12.5 27v1M29.5 27v1M30.5 27v1M41.5 27v1M2.5 28v1M44.5 28v1M50.5 28v1M9.5 29v1M15.5 29v1M46.5 29v1M48.5 29v1M55.5 29v1M9.5 30v1M12.5 30v1M20.5 30v1M25.5 30v1M26.5 30v1M50.5 30v1M59.5 30v1M28.5 32v1M32.5 32v1M58.5 32v1M20.5 33v1M37.5 33v1M48.5 34v1M2.5 35v1M3.5 35v1M11.5 35v1M12.5 35v1M18.5 35v1M26.5 35v1M32.5 35v1M40.5 35v1M42.5 35v1M58.5 35v1M60.5 35v1M21.5 36v1M37.5 36v1M21.5 37v1M37.5 37v1M40.5 37v1"/>
<path stroke="#eeb4b0" d="M47.5 2v1M14.5 3v1M35.5 3v1M46.5 3v1M1.5 4v1M19.5 4v1M10.5 7v1M25.5 7v1M34.5 7v1M16.5 9v1M9.5 10v1M24.5 10v1M29.5 10v1M36.5 10v1M8.5 13v1M30.5 13v1M2.5 14v1M23.5 14v1M38.5 14v1M42.5 14v1M44.5 14v1M8.5 15v1M26.5 15v1M40.5 15v1M42.5 15v1M54.5 15v1M56.5 15v1M57.5 15v1M43.5 16v1M12.5 17v1M33.5 17v1M36.5 17v1M46.5 17v1M12.5 18v1M19.5 18v1M28.5 18v1M31.5 18v1M47.5 18v1M57.5 18v1M10.5 19v1M12.5 19v1M13.5 19v1M23.5 19v1M38.5 19v1M40.5 19v1M13.5 20v1M14.5 20v1M15.5 20v1M34.5 20v1M39.5 20v1M38.5 23v1M22.5 24v1M35.5 24v1M41.5 24v1M46.5 24v1M56.5 24v1M7.5 25v1M16.5 25v1M22.5 25v1M8.5 26v1M42.5 27v1M48.5 27v1M57.5 27v1M24.5 28v1M32.5 28v1M3.5 29v1M5.5 29v1M17.5 29v1M45.5 29v1M57.5 29v1M4.5 30v1M10.5 30v1M24.5 30v1M27.5 30v1M36.5 30v1M0.5 32v1M38.5 32v1M46.5 32v1M49.5 32v1M5.5 33v1M15.5 33v1M22.5 33v1M24.5 33v1M29.5 33v1M39.5 33v1M40.5 33v1M48.5 33v1M38.5 34v1M49.5 34v1M4.5 35v1M8.5 35v1M9.5 35v1M14.5 35v1M20.5 35v1M23.5 35v1M34.5 35v1M55.5 35v1M59.5 35v1M19.5 36v1M49.5 36v1M7.5 37v1M13.5 37v1M33.5 37v1M55.5 37v1"/>
<path stroke="#faad8c" d="M0.5 6v1M5.5 6v1M8.5 6v1M12.5 6v1M17.5 6v1M37.5 6v1M49.5 6v1M61.5 6v1M23.5 8v1M26.5 8v1M32.5 8v1M38.5 8v1M45.5 8v1M58.5 8v1M8.5 11v1M17.5 11v1M20.5 11v1M29.5 11v1M37.5 11v1M48.5 11v1M57.5 11v1M40.5 22v1"/>
<path stroke="#fbc1a2" d="M1.5 6v1M28.5 6v1M33.5 6v1M38.5 6v1M42.5 6v1M44.5 6v1M51.5 6v1M58.5 6v1M59.5 6v1M3.5 8v1M6.5 8v1M20.5 8v1M25.5 8v1M31.5 8v1M37.5 8v1M53.5 8v1M56.5 8v1M21.5 11v1M24.5 11v1M30.5 11v1M36.5 11v1M43.5 11v1M52.5 11v1M8.5 22v1M51.5 22v1"/>
<path stroke="#fbc8a9" d="M2.5 6v1M22.5 6v1M54.5 6v1M9.5 8v1M10.5 8v1M24.5 8v1M28.5 8v1M33.5 8v1M46.5 8v1M48.5 8v1M57.5 8v1M10.5 11v1M34.5 11v1M38.5 11v1M56.5 11v1M2.5 22v1M7.5 22v1M10.5 22v1M32.5 22v1M57.5 22v1"/>
<path stroke="#f99f80" d="M3.5 6v1M23.5 6v1M57.5 6v1M22.5 8v1M27.5 8v1M58.5 11v1"/>
<path stroke="#f9987a" d="M4.5 6v1M10.5 6v1M18.5 6v1M5.5 8v1M21.5 8v1M55.5 8v1M59.5 8v1M6.5 11v1M49.5 11v1"/>
<path stroke="#f89074" d="M6.5 6v1M30.5 6v1M35.5 6v1M50.5 6v1M18.5 8v1M39.5 8v1M43.5 8v1M16.5 22v1"/>
<path stroke="#faa686" d="M7.5 6v1M19.5 6v1M34.5 6v1M41.5 6v1M4.5 8v1M12.5 8v1M16.5 8v1M29.5 8v1M23.5 11v1M26.5 11v1M32.5 11v1M35.5 11v1"/>
<path stroke="#fcd5b7" d="M9.5 6v1M21.5 6v1M17.5 8v1M36.5 8v1M41.5 8v1M54.5 8v1M61.5 8v1M3.5 11v1M5.5 11v1M9.5 11v1M13.5 11v1M22.5 11v1M28.5 11v1M33.5 11v1M40.5 11v1M51.5 11v1M60.5 11v1M5.5 22v1M18.5 22v1M19.5 22v1M20.5 22v1M28.5 22v1M29.5 22v1M34.5 22v1M38.5 22v1M48.5 22v1M61.5 22v1"/>
<path stroke="#fcdabe" d="M11.5 6v1M13.5 6v1M29.5 6v1M39.5 6v1M55.5 6v1M47.5 8v1M52.5 8v1M0.5 11v1M7.5 11v1M11.5 11v1M16.5 11v1M61.5 11v1M12.5 22v1M14.5 22v1M37.5 22v1M43.5 31v1"/>
<path stroke="#fbdfc6" d="M14.5 6v1M31.5 6v1M47.5 6v1M1.5 8v1M60.5 8v1M50.5 22v1M58.5 22v1M60.5 22v1"/>
<path stroke="#fab494" d="M15.5 6v1M27.5 6v1M32.5 6v1M45.5 6v1M19.5 8v1M34.5 8v1M35.5 8v1M44.5 8v1M50.5 8v1M19.5 11v1M27.5 11v1M44.5 11v1M47.5 11v1M50.5 11v1M55.5 11v1M9.5 22v1M53.5 22v1M54.5 22v1M59.5 22v1"/>
<path stroke="#e4c6ce" d="M16.5 6v1M10.5 9v1M17.5 9v1M31.5 9v1M44.5 9v1M48.5 9v1M49.5 9v1M58.5 9v1M23.5 10v1M32.5 10v1M48.5 10v1M50.5 10v1M31.5 11v1M45.5 11v1M2.5 12v1M10.5 12v1M14.5 12v1M28.5 12v1M29.5 12v1M49.5 12v1M50.5 12v1M61.5 12v1M7.5 13v1M11.5 13v1M19.5 13v1M29.5 13v1M33.5 13v1M36.5 13v1M48.5 13v1M52.5 13v1M5.5 14v1M8.5 14v1M36.5 15v1M55.5 15v1M40.5 16v1M41.5 16v1M44.5 16v1M59.5 16v1M7.5 17v1M10.5 17v1M11.5 17v1M13.5 17v1M15.5 17v1M18.5 17v1M25.5 17v1M35.5 17v1M39.5 17v1M40.5 17v1M52.5 17v1M61.5 17v1M10.5 18v1M15.5 18v1M50.5 18v1M54.5 18v1M61.5 18v1M4.5 19v1M7.5 19v1M16.5 19v1M18.5 19v1M20.5 19v1M24.5 19v1M58.5 19v1M50.5 20v1M2.5 21v1M40.5 21v1M44.5 21v1M1.5 22v1M23.5 22v1M24.5 22v1M33.5 22v1M55.5 22v1M8.5 23v1M9.5 23v1M30.5 23v1M2.5 24v1M28.5 24v1M61.5 24v1M9.5 25v1M12.5 25v1M23.5 25v1M25.5 25v1M34.5 25v1M38.5 25v1M44.5 25v1M50.5 25v1M56.5 25v1M12.5 26v1M31.5 26v1M32.5 26v1M37.5 26v1M52.5 26v1M1.5 27v1M11.5 27v1M5.5 28v1M7.5 28v1M10.5 28v1M27.5 28v1M28.5 28v1M30.5 28v1M42.5 28v1M46.5 28v1M14.5 29v1M35.5 29v1M5.5 30v1M8.5 30v1M14.5 30v1M19.5 30v1M21.5 30v1M32.5 30v1M34.5 30v1M47.5 30v1M48.5 30v1M12.5 31v1M14.5 31v1M30.5 31v1M40.5 31v1M56.5 31v1M9.5 32v1M24.5 32v1M26.5 32v1M29.5 32v1M30.5 32v1M36.5 32v1M40.5 32v1M47.5 32v1M7.5 33v1M18.5 33v1M23.5 33v1M28.5 34v1M0.5 35v1M17.5 35v1M45.5 35v1M48.5 35v1M2.5 36v1M7.5 36v1M8.5 36v1M25.5 36v1M30.5 36v1M43.5 36v1M47.5 36v1M50.5 36v1M58.5 36v1M60.5 36v1M11.5 37v1M23.5 37v1M58.5 37v1M59.5 37v1"/>
<path stroke="#fbba9b" d="M20.5 6v1M24.5 6v1M25.5 6v1M48.5 6v1M53.5 6v1M56.5 6v1M60.5 6v1M14.5 8v1M15.5 8v1M30.5 8v1M42.5 8v1M49.5 8v1M2.5 11v1M4.5 11v1M14.5 11v1M18.5 11v1M25.5 11v1M41.5 11v1M46.5 11v1M4.5 22v1M11.5 22v1M13.5 22v1M22.5 22v1M30.5 22v1M49.5 22v1M56.5 22v1"/>
<path stroke="#f8896e" d="M26.5 6v1M36.5 6v1M43.5 6v1M52.5 6v1M2.5 8v1M40.5 8v1"/>
<path stroke="#f77a62" d="M40.5 6v1"/>
<path stroke="#fcceb0" d="M46.5 6v1M7.5 8v1M11.5 8v1M13.5 8v1M1.5 11v1M12.5 11v1M15.5 11v1M39.5 11v1M42.5 11v1M53.5 11v1M6.5 22v1M25.5 22v1M26.5 22v1M35.5 22v1M42.5 22v1M43.5 22v1M45.5 22v1M46.5 22v1M52.5 22v1"/>
<path stroke="#e7c1c6" d="M46.5 7v1M8.5 8v1M3.5 9v1M8.5 9v1M12.5 9v1M14.5 9v1M37.5 9v1M43.5 9v1M50.5 9v1M51.5 9v1M52.5 9v1M33.5 10v1M44.5 10v1M54.5 11v1M5.5 12v1M8.5 12v1M33.5 12v1M2.5 13v1M9.5 13v1M15.5 13v1M23.5 13v1M35.5 13v1M43.5 13v1M44.5 13v1M45.5 13v1M60.5 13v1M11.5 14v1M29.5 14v1M36.5 14v1M45.5 14v1M5.5 15v1M9.5 15v1M10.5 15v1M11.5 15v1M38.5 15v1M46.5 15v1M47.5 15v1M4.5 16v1M10.5 16v1M11.5 16v1M19.5 16v1M30.5 16v1M39.5 16v1M54.5 16v1M57.5 16v1M0.5 17v1M16.5 17v1M23.5 17v1M26.5 17v1M30.5 17v1M32.5 17v1M38.5 17v1M13.5 18v1M22.5 18v1M26.5 18v1M30.5 18v1M32.5 18v1M35.5 18v1M2.5 19v1M29.5 19v1M36.5 19v1M41.5 19v1M21.5 20v1M24.5 20v1M26.5 20v1M29.5 20v1M37.5 20v1M43.5 20v1M59.5 20v1M4.5 21v1M10.5 21v1M32.5 21v1M38.5 21v1M50.5 21v1M55.5 21v1M58.5 21v1M60.5 21v1M0.5 22v1M3.5 22v1M17.5 22v1M21.5 22v1M41.5 22v1M44.5 22v1M32.5 23v1M51.5 23v1M16.5 24v1M24.5 24v1M54.5 24v1M59.5 24v1M19.5 25v1M35.5 25v1M53.5 25v1M19.5 26v1M44.5 26v1M47.5 26v1M6.5 27v1M7.5 27v1M28.5 27v1M50.5 27v1M54.5 27v1M8.5 28v1M11.5 28v1M20.5 28v1M26.5 28v1M49.5 28v1M60.5 28v1M0.5 29v1M1.5 29v1M10.5 29v1M20.5 29v1M37.5 29v1M47.5 29v1M61.5 29v1M28.5 30v1M30.5 30v1M31.5 30v1M35.5 30v1M40.5 30v1M41.5 30v1M53.5 30v1M58.5 30v1M3.5 32v1M16.5 32v1M34.5 32v1M44.5 32v1M56.5 32v1M57.5 32v1M59.5 32v1M0.5 33v1M3.5 33v1M6.5 33v1M8.5 33v1M14.5 33v1M26.5 33v1M57.5 33v1M2.5 34v1M6.5 34v1M15.5 34v1M18.5 34v1M19.5 34v1M37.5 34v1M55.5 34v1M56.5 34v1M22.5 35v1M49.5 35v1M0.5 36v1M17.5 36v1M46.5 36v1M1.5 37v1M4.5 37v1M8.5 37v1M12.5 37v1M25.5 37v1M28.5 37v1M32.5 37v1M48.5 37v1M61.5 37v1"/>
<path stroke="#e2cad5" d="M60.5 7v1M0.5 8v1M6.5 9v1M11.5 9v1M18.5 9v1M23.5 9v1M45.5 9v1M59.5 9v1M13.5 10v1M19.5 10v1M30.5 10v1M39.5 10v1M43.5 10v1M46.5 10v1M55.5 10v1M57.5 10v1M17.5 12v1M18.5 12v1M21.5 12v1M23.5 12v1M26.5 12v1M41.5 12v1M56.5 12v1M20.5 13v1M37.5 13v1M41.5 13v1M42.5 13v1M58.5 13v1M15.5 14v1M17.5 14v1M47.5 14v1M4.5 15v1M7.5 15v1M13.5 15v1M17.5 15v1M24.5 15v1M27.5 15v1M35.5 15v1M41.5 15v1M52.5 15v1M16.5 16v1M20.5 16v1M36.5 16v1M38.5 16v1M47.5 16v1M52.5 16v1M56.5 16v1M60.5 16v1M17.5 17v1M20.5 17v1M29.5 17v1M34.5 17v1M54.5 17v1M59.5 17v1M16.5 18v1M53.5 18v1M56.5 18v1M60.5 18v1M1.5 19v1M6.5 19v1M9.5 19v1M15.5 19v1M31.5 19v1M53.5 19v1M54.5 19v1M59.5 19v1M4.5 20v1M17.5 20v1M31.5 20v1M32.5 20v1M60.5 20v1M61.5 20v1M20.5 21v1M35.5 21v1M39.5 22v1M47.5 22v1M4.5 23v1M7.5 23v1M33.5 23v1M35.5 23v1M42.5 23v1M49.5 23v1M61.5 23v1M13.5 24v1M40.5 24v1M53.5 24v1M0.5 25v1M4.5 25v1M6.5 25v1M11.5 25v1M37.5 25v1M46.5 25v1M11.5 26v1M26.5 26v1M30.5 26v1M35.5 26v1M50.5 26v1M5.5 27v1M15.5 27v1M24.5 27v1M47.5 27v1M51.5 27v1M58.5 27v1M13.5 28v1M15.5 28v1M40.5 28v1M52.5 28v1M6.5 29v1M18.5 29v1M11.5 30v1M29.5 30v1M52.5 30v1M17.5 32v1M25.5 32v1M31.5 32v1M39.5 32v1M41.5 32v1M43.5 32v1M1.5 33v1M10.5 33v1M19.5 33v1M47.5 33v1M50.5 33v1M51.5 33v1M13.5 34v1M17.5 34v1M34.5 34v1M50.5 34v1M53.5 34v1M1.5 35v1M19.5 35v1M3.5 36v1M5.5 36v1M11.5 36v1M13.5 36v1M23.5 36v1M34.5 36v1M44.5 36v1M45.5 36v1M59.5 36v1M0.5 37v1M6.5 37v1M41.5 37v1M45.5 37v1M60.5 37v1"/>
<path stroke="#e9bdbf" d="M61.5 7v1M9.5 9v1M13.5 9v1M19.5 9v1M20.5 9v1M21.5 9v1M32.5 9v1M35.5 9v1M56.5 9v1M61.5 9v1M6.5 10v1M26.5 10v1M31.5 10v1M42.5 10v1M45.5 10v1M60.5 10v1M15.5 12v1M24.5 12v1M30.5 12v1M35.5 12v1M38.5 12v1M53.5 12v1M59.5 12v1M16.5 13v1M39.5 13v1M59.5 13v1M6.5 14v1M9.5 14v1M12.5 14v1M20.5 14v1M30.5 14v1M41.5 14v1M54.5 14v1M57.5 14v1M59.5 14v1M6.5 15v1M18.5 15v1M22.5 15v1M31.5 15v1M49.5 15v1M60.5 15v1M5.5 16v1M25.5 16v1M42.5 16v1M3.5 17v1M6.5 17v1M8.5 17v1M27.5 17v1M41.5 17v1M42.5 17v1M44.5 17v1M53.5 17v1M0.5 18v1M8.5 18v1M25.5 18v1M55.5 18v1M59.5 18v1M8.5 19v1M17.5 19v1M25.5 19v1M43.5 19v1M44.5 19v1M48.5 19v1M3.5 20v1M16.5 20v1M18.5 20v1M19.5 20v1M41.5 20v1M52.5 20v1M58.5 20v1M6.5 21v1M13.5 21v1M37.5 21v1M43.5 21v1M48.5 21v1M10.5 23v1M16.5 23v1M25.5 23v1M11.5 24v1M12.5 24v1M15.5 24v1M18.5 24v1M23.5 24v1M25.5 24v1M31.5 24v1M38.5 24v1M47.5 24v1M8.5 25v1M29.5 25v1M39.5 25v1M57.5 25v1M49.5 26v1M57.5 26v1M13.5 27v1M17.5 27v1M22.5 27v1M31.5 27v1M39.5 27v1M46.5 27v1M56.5 27v1M59.5 27v1M6.5 28v1M36.5 28v1M43.5 28v1M48.5 28v1M58.5 28v1M59.5 28v1M25.5 29v1M41.5 29v1M56.5 29v1M17.5 30v1M33.5 30v1M2.5 32v1M5.5 32v1M6.5 32v1M42.5 32v1M45.5 32v1M9.5 33v1M28.5 33v1M46.5 33v1M55.5 33v1M20.5 34v1M46.5 34v1M58.5 34v1M13.5 35v1M28.5 35v1M31.5 35v1M36.5 35v1M46.5 35v1M54.5 35v1M15.5 36v1M16.5 36v1M28.5 36v1M48.5 36v1M16.5 37v1M17.5 37v1M22.5 37v1M42.5 37v1"/>
<path stroke="#d9c4d4" d="M51.5 8v1M36.5 9v1M39.5 9v1M55.5 9v1M60.5 9v1M2.5 10v1M11.5 10v1M14.5 10v1M17.5 10v1M25.5 10v1M27.5 10v1M49.5 10v1M59.5 11v1M0.5 12v1M3.5 12v1M20.5 12v1M25.5 12v1M44.5 12v1M45.5 12v1M46.5 12v1M58.5 12v1M18.5 13v1M27.5 13v1M32.5 13v1M49.5 13v1M1.5 14v1M14.5 14v1M18.5 14v1M22.5 14v1M40.5 14v1M29.5 15v1M34.5 15v1M2.5 16v1M6.5 16v1M34.5 16v1M35.5 16v1M9.5 17v1M43.5 17v1M2.5 18v1M41.5 18v1M44.5 18v1M48.5 18v1M51.5 18v1M33.5 19v1M46.5 19v1M20.5 20v1M45.5 20v1M47.5 20v1M54.5 20v1M55.5 20v1M15.5 21v1M19.5 21v1M26.5 21v1M29.5 21v1M36.5 21v1M49.5 21v1M61.5 21v1M15.5 22v1M27.5 22v1M31.5 22v1M36.5 22v1M2.5 23v1M13.5 23v1M14.5 23v1M24.5 23v1M37.5 23v1M40.5 23v1M46.5 23v1M59.5 23v1M5.5 24v1M34.5 24v1M5.5 25v1M18.5 25v1M21.5 25v1M27.5 25v1M31.5 25v1M33.5 25v1M40.5 25v1M43.5 25v1M52.5 25v1M0.5 26v1M1.5 26v1M10.5 26v1M18.5 26v1M22.5 26v1M25.5 26v1M34.5 26v1M36.5 26v1M58.5 26v1M45.5 27v1M53.5 27v1M55.5 27v1M9.5 28v1M19.5 28v1M22.5 28v1M61.5 28v1M2.5 29v1M31.5 29v1M33.5 29v1M0.5 30v1M2.5 30v1M3.5 30v1M13.5 30v1M18.5 30v1M44.5 30v1M54.5 30v1M23.5 31v1M37.5 31v1M39.5 31v1M49.5 31v1M57.5 31v1M58.5 31v1M10.5 32v1M13.5 32v1M20.5 32v1M21.5 32v1M35.5 32v1M55.5 32v1M13.5 33v1M17.5 33v1M53.5 33v1M61.5 33v1M5.5 34v1M10.5 34v1M21.5 34v1M39.5 34v1M43.5 34v1M47.5 34v1M33.5 35v1M52.5 36v1M54.5 36v1M3.5 37v1M34.5 37v1"/>
<path stroke="#dec7d5" d="M0.5 9v1M1.5 9v1M28.5 9v1M42.5 9v1M3.5 10v1M20.5 10v1M22.5 10v1M37.5 10v1M38.5 10v1M40.5 10v1M51.5 10v1M52.5 10v1M4.5 12v1M11.5 12v1M27.5 12v1M37.5 12v1M51.5 12v1M55.5 12v1M57.5 12v1M12.5 13v1M21.5 13v1M47.5 13v1M50.5 13v1M53.5 13v1M54.5 13v1M0.5 14v1M10.5 14v1M25.5 14v1M46.5 14v1M61.5 14v1M3.5 15v1M25.5 15v1M59.5 15v1M0.5 16v1M7.5 16v1M9.5 16v1M15.5 16v1M26.5 16v1M27.5 16v1M29.5 16v1M58.5 16v1M5.5 17v1M28.5 17v1M31.5 17v1M45.5 17v1M47.5 17v1M7.5 18v1M18.5 18v1M21.5 18v1M36.5 18v1M42.5 18v1M43.5 18v1M58.5 18v1M0.5 19v1M39.5 19v1M45.5 19v1M2.5 20v1M35.5 20v1M53.5 20v1M1.5 21v1M7.5 21v1M17.5 21v1M22.5 21v1M25.5 21v1M27.5 21v1M39.5 21v1M42.5 21v1M53.5 21v1M15.5 23v1M17.5 23v1M20.5 23v1M31.5 23v1M39.5 23v1M43.5 23v1M44.5 23v1M48.5 23v1M57.5 23v1M1.5 24v1M7.5 24v1M21.5 24v1M1.5 25v1M15.5 25v1M17.5 25v1M20.5 25v1M26.5 25v1M41.5 25v1M45.5 25v1M49.5 25v1M51.5 25v1M55.5 25v1M61.5 25v1M14.5 26v1M15.5 26v1M21.5 26v1M24.5 26v1M29.5 26v1M33.5 26v1M43.5 26v1M46.5 26v1M0.5 27v1M3.5 27v1M27.5 27v1M33.5 27v1M37.5 27v1M38.5 27v1M18.5 28v1M21.5 28v1M39.5 28v1M55.5 28v1M56.5 28v1M11.5 29v1M7.5 30v1M22.5 30v1M45.5 30v1M55.5 30v1M8.5 31v1M29.5 31v1M38.5 31v1M42.5 31v1M53.5 31v1M1.5 32v1M11.5 32v1M14.5 32v1M15.5 32v1M22.5 32v1M33.5 32v1M52.5 32v1M31.5 33v1M32.5 33v1M59.5 33v1M4.5 34v1M7.5 34v1M12.5 34v1M29.5 34v1M42.5 34v1M51.5 34v1M24.5 35v1M41.5 35v1M4.5 36v1M6.5 36v1M12.5 36v1M20.5 36v1M22.5 36v1M26.5 36v1M27.5 36v1M51.5 36v1M57.5 36v1M14.5 37v1M15.5 37v1M36.5 37v1"/>
<path stroke="#d5c0d4" d="M7.5 9v1M25.5 9v1M34.5 9v1M4.5 10v1M7.5 10v1M8.5 10v1M18.5 10v1M21.5 10v1M28.5 10v1M58.5 10v1M59.5 10v1M12.5 12v1M43.5 12v1M6.5 13v1M25.5 13v1M61.5 13v1M3.5 14v1M27.5 14v1M31.5 14v1M58.5 14v1M30.5 15v1M61.5 15v1M22.5 16v1M32.5 16v1M50.5 16v1M53.5 16v1M48.5 17v1M55.5 17v1M3.5 18v1M11.5 18v1M24.5 18v1M33.5 18v1M45.5 18v1M9.5 20v1M40.5 20v1M46.5 20v1M16.5 21v1M28.5 21v1M31.5 21v1M46.5 21v1M52.5 21v1M54.5 21v1M3.5 23v1M5.5 23v1M12.5 23v1M23.5 23v1M36.5 23v1M47.5 23v1M52.5 23v1M53.5 23v1M47.5 25v1M3.5 26v1M9.5 26v1M45.5 26v1M51.5 26v1M54.5 26v1M4.5 27v1M18.5 27v1M61.5 27v1M1.5 28v1M14.5 28v1M25.5 28v1M33.5 28v1M22.5 29v1M15.5 30v1M51.5 30v1M56.5 30v1M0.5 31v1M20.5 31v1M35.5 31v1M7.5 32v1M61.5 32v1M2.5 33v1M9.5 34v1M11.5 34v1M14.5 34v1M16.5 34v1M25.5 34v1M36.5 34v1M45.5 34v1M57.5 34v1M60.5 34v1M7.5 35v1M1.5 36v1M10.5 36v1M14.5 36v1M33.5 36v1M40.5 36v1M41.5 36v1M55.5 36v1M56.5 36v1"/>
<path stroke="#ccbad3" d="M57.5 9v1M56.5 10v1M9.5 12v1M32.5 12v1M1.5 13v1M13.5 13v1M14.5 15v1M58.5 15v1M13.5 16v1M18.5 16v1M34.5 18v1M46.5 18v1M11.5 19v1M56.5 19v1M0.5 21v1M11.5 21v1M18.5 21v1M30.5 21v1M0.5 23v1M19.5 23v1M27.5 23v1M34.5 23v1M48.5 25v1M59.5 25v1M2.5 26v1M17.5 26v1M23.5 26v1M41.5 26v1M48.5 26v1M53.5 26v1M55.5 26v1M60.5 26v1M61.5 26v1M29.5 28v1M31.5 28v1M35.5 28v1M41.5 28v1M45.5 28v1M46.5 30v1M57.5 30v1M4.5 31v1M9.5 31v1M15.5 31v1M19.5 31v1M24.5 31v1M26.5 31v1M36.5 31v1M41.5 31v1M51.5 31v1M52.5 33v1M0.5 34v1M1.5 34v1M3.5 34v1M8.5 34v1M22.5 34v1M24.5 34v1M59.5 34v1M35.5 36v1"/>
<path stroke="#c2afcf" d="M0.5 10v1M10.5 10v1M34.5 10v1M35.5 10v1M47.5 10v1M1.5 12v1M54.5 12v1M51.5 16v1M6.5 18v1M9.5 21v1M33.5 21v1M56.5 21v1M24.5 25v1M36.5 25v1M42.5 25v1M22.5 31v1M28.5 31v1M60.5 31v1M54.5 32v1M56.5 33v1M31.5 34v1M33.5 34v1M41.5 34v1M9.5 36v1"/>
<path stroke="#d0bdd3" d="M1.5 10v1M16.5 10v1M19.5 12v1M22.5 12v1M42.5 12v1M47.5 12v1M48.5 12v1M60.5 12v1M5.5 13v1M14.5 13v1M28.5 13v1M46.5 13v1M57.5 13v1M4.5 14v1M0.5 15v1M1.5 15v1M21.5 15v1M44.5 15v1M12.5 16v1M28.5 16v1M31.5 16v1M49.5 16v1M55.5 16v1M61.5 16v1M1.5 17v1M14.5 17v1M1.5 18v1M5.5 18v1M17.5 18v1M20.5 18v1M34.5 19v1M42.5 20v1M3.5 21v1M5.5 21v1M8.5 21v1M24.5 21v1M34.5 21v1M45.5 21v1M57.5 21v1M6.5 23v1M18.5 23v1M26.5 23v1M41.5 23v1M45.5 23v1M50.5 23v1M55.5 23v1M56.5 23v1M58.5 23v1M14.5 25v1M32.5 25v1M54.5 25v1M20.5 26v1M2.5 27v1M16.5 27v1M4.5 28v1M21.5 29v1M23.5 30v1M3.5 31v1M5.5 31v1M10.5 31v1M11.5 31v1M16.5 31v1M17.5 31v1M27.5 31v1M34.5 31v1M48.5 31v1M55.5 31v1M18.5 32v1M12.5 33v1M27.5 34v1M40.5 34v1M36.5 36v1M42.5 36v1"/>
<path stroke="#c7b4d1" d="M5.5 10v1M15.5 10v1M53.5 10v1M6.5 12v1M7.5 12v1M13.5 12v1M31.5 12v1M39.5 12v1M52.5 12v1M22.5 13v1M34.5 13v1M49.5 14v1M3.5 16v1M21.5 16v1M45.5 16v1M14.5 18v1M57.5 20v1M51.5 21v1M11.5 23v1M21.5 23v1M22.5 23v1M13.5 26v1M27.5 26v1M28.5 26v1M42.5 26v1M56.5 26v1M3.5 28v1M34.5 28v1M38.5 28v1M1.5 30v1M21.5 31v1M25.5 31v1M32.5 31v1M52.5 31v1M12.5 32v1M23.5 34v1M54.5 34v1M18.5 36v1M31.5 36v1"/>
<path stroke="#bca9cc" d="M12.5 10v1M41.5 10v1M0.5 13v1M56.5 13v1M1.5 16v1M14.5 21v1M59.5 21v1M54.5 23v1M16.5 26v1M1.5 31v1M13.5 31v1M44.5 31v1M47.5 31v1M52.5 34v1M24.5 36v1M32.5 36v1"/>
<path stroke="#b29ec8" d="M54.5 10v1M24.5 16v1M2.5 31v1M31.5 31v1M33.5 31v1M45.5 31v1M46.5 31v1M54.5 31v1M61.5 34v1"/>
<path stroke="#b7a4ca" d="M61.5 10v1M24.5 13v1M14.5 16v1M12.5 20v1M60.5 23v1M6.5 31v1M7.5 31v1M50.5 31v1M59.5 31v1"/>
<path stroke="#ac97c5" d="M17.5 13v1M47.5 21v1M6.5 26v1"/>
<path stroke="#9a83bb" d="M33.5 16v1"/>
<path stroke="#a08abe" d="M1.5 23v1M23.5 28v1M18.5 31v1"/>
<path stroke="#a690c2" d="M7.5 26v1M61.5 31v1"/>
</g>
<g transform="translate(366.5,18.7) scale(1.1441,5.2)" fill="none" stroke-width="1.02">
<path stroke="#e7c1c6" d="M0.5 0v1M5.5 0v1M2.5 1v1M9.5 1v1M17.5 1v1M15.5 2v1M20.5 2v1M27.5 2v1M3.5 3v1M15.5 3v1M22.5 4v1M15.5 5v1M17.5 5v1M2.5 7v1M7.5 7v1M12.5 7v1M13.5 7v1M14.5 7v1M11.5 8v1M10.5 9v1M14.5 9v1M18.5 9v1M0.5 18v1M12.5 19v1M22.5 19v1M24.5 19v1M2.5 20v1M10.5 20v1M5.5 22v1M21.5 22v1M24.5 22v1M5.5 23v1M9.5 23v1M10.5 23v1M20.5 23v1M21.5 23v1M32.5 23v1M0.5 24v1M2.5 24v1M7.5 24v1M9.5 24v1M23.5 24v1M31.5 24v1M4.5 25v1M5.5 25v1M10.5 25v1M12.5 25v1M25.5 25v1M32.5 26v1M7.5 27v1M13.5 28v1M15.5 28v1M21.5 28v1M26.5 28v1M12.5 29v1M14.5 29v1M18.5 29v1M25.5 29v1M28.5 29v1M14.5 30v1M25.5 30v1M16.5 31v1M19.5 31v1M16.5 33v1M23.5 34v1M28.5 34v1M4.5 36v1M5.5 36v1M7.5 36v1M10.5 36v1M22.5 36v1M28.5 36v1M29.5 36v1M1.5 37v1M10.5 37v1M17.5 37v1M19.5 37v1M29.5 37v1M32.5 37v1"/>
<path stroke="#ccbad3" d="M1.5 0v1M25.5 0v1M32.5 0v1M1.5 2v1M21.5 2v1M24.5 2v1M31.5 2v1M32.5 2v1M12.5 5v1M1.5 9v1M12.5 34v1"/>
<path stroke="#d9c4d4" d="M2.5 0v1M18.5 0v1M21.5 0v1M0.5 1v1M25.5 1v1M19.5 2v1M12.5 3v1M25.5 3v1M30.5 3v1M24.5 4v1M1.5 5v1M8.5 5v1M13.5 5v1M22.5 5v1M32.5 5v1M10.5 7v1M0.5 9v1M21.5 9v1M24.5 9v1M2.5 19v1M12.5 20v1M15.5 20v1M30.5 20v1M15.5 21v1M12.5 24v1M17.5 25v1M24.5 25v1M0.5 26v1M9.5 26v1M12.5 26v1M8.5 27v1M8.5 30v1M19.5 30v1M4.5 33v1M9.5 34v1M30.5 34v1M32.5 36v1M3.5 37v1M11.5 37v1M13.5 37v1M18.5 37v1"/>
<path stroke="#d5c0d4" d="M3.5 0v1M7.5 0v1M8.5 0v1M12.5 0v1M17.5 0v1M31.5 0v1M11.5 1v1M0.5 2v1M6.5 2v1M10.5 2v1M25.5 2v1M30.5 2v1M11.5 3v1M31.5 4v1M3.5 5v1M29.5 9v1M0.5 19v1M24.5 20v1M29.5 20v1M31.5 20v1M1.5 21v1M10.5 21v1M14.5 23v1M33.5 25v1M2.5 34v1M7.5 34v1M8.5 34v1M19.5 34v1M29.5 34v1M24.5 36v1"/>
<path stroke="#d0bdd3" d="M4.5 0v1M15.5 0v1M5.5 2v1M7.5 2v1M12.5 2v1M23.5 2v1M13.5 3v1M5.5 4v1M7.5 4v1M8.5 4v1M10.5 4v1M30.5 4v1M23.5 5v1M33.5 9v1M14.5 20v1M21.5 20v1M8.5 23v1M25.5 23v1M30.5 23v1M33.5 24v1M30.5 25v1M12.5 27v1M18.5 31v1M10.5 34v1"/>
<path stroke="#c2afcf" d="M6.5 0v1M23.5 0v1M12.5 4v1M18.5 4v1M19.5 4v1M21.5 4v1"/>
<path stroke="#e9bdbf" d="M9.5 0v1M27.5 0v1M1.5 1v1M20.5 1v1M23.5 1v1M24.5 1v1M29.5 1v1M8.5 2v1M18.5 2v1M2.5 3v1M7.5 3v1M14.5 3v1M18.5 3v1M22.5 3v1M31.5 3v1M2.5 4v1M9.5 4v1M13.5 4v1M15.5 4v1M26.5 4v1M7.5 5v1M27.5 5v1M13.5 9v1M17.5 9v1M25.5 9v1M11.5 13v1M11.5 16v1M4.5 18v1M11.5 18v1M1.5 19v1M6.5 19v1M7.5 19v1M8.5 19v1M10.5 19v1M19.5 19v1M25.5 19v1M32.5 19v1M33.5 19v1M16.5 20v1M25.5 20v1M14.5 21v1M26.5 21v1M2.5 23v1M13.5 23v1M18.5 23v1M28.5 23v1M5.5 24v1M15.5 24v1M19.5 24v1M22.5 24v1M25.5 24v1M30.5 24v1M1.5 25v1M6.5 25v1M19.5 25v1M6.5 26v1M20.5 26v1M25.5 26v1M22.5 28v1M27.5 28v1M33.5 28v1M0.5 30v1M6.5 30v1M10.5 30v1M12.5 30v1M16.5 30v1M21.5 30v1M26.5 30v1M29.5 30v1M1.5 32v1M18.5 33v1M25.5 33v1M15.5 34v1M26.5 36v1M30.5 36v1M28.5 37v1"/>
<path stroke="#dec7d5" d="M10.5 0v1M14.5 0v1M26.5 0v1M12.5 1v1M16.5 1v1M2.5 2v1M11.5 2v1M14.5 2v1M17.5 2v1M29.5 2v1M1.5 3v1M21.5 3v1M0.5 4v1M20.5 4v1M2.5 5v1M4.5 5v1M24.5 5v1M18.5 7v1M7.5 8v1M4.5 9v1M6.5 9v1M15.5 9v1M30.5 9v1M3.5 20v1M4.5 20v1M11.5 20v1M0.5 21v1M8.5 21v1M21.5 21v1M11.5 22v1M16.5 23v1M29.5 23v1M1.5 24v1M9.5 25v1M15.5 25v1M23.5 25v1M31.5 25v1M32.5 25v1M28.5 26v1M3.5 28v1M4.5 28v1M25.5 28v1M5.5 30v1M11.5 30v1M1.5 31v1M33.5 31v1M0.5 36v1M12.5 36v1M15.5 36v1M16.5 36v1M9.5 37v1"/>
<path stroke="#b7a4ca" d="M11.5 0v1M22.5 0v1M33.5 0v1M33.5 2v1M8.5 9v1"/>
<path stroke="#e4c6ce" d="M13.5 0v1M29.5 0v1M19.5 1v1M13.5 2v1M0.5 3v1M5.5 3v1M8.5 3v1M9.5 3v1M16.5 3v1M26.5 3v1M33.5 3v1M28.5 4v1M29.5 5v1M33.5 5v1M9.5 9v1M16.5 9v1M23.5 9v1M8.5 18v1M22.5 18v1M11.5 19v1M6.5 21v1M25.5 21v1M1.5 23v1M7.5 23v1M19.5 23v1M24.5 23v1M33.5 23v1M8.5 24v1M13.5 24v1M28.5 24v1M7.5 25v1M13.5 26v1M26.5 27v1M5.5 28v1M20.5 28v1M23.5 28v1M3.5 29v1M27.5 29v1M7.5 30v1M4.5 31v1M8.5 31v1M11.5 31v1M8.5 33v1M6.5 34v1M21.5 34v1M27.5 34v1M1.5 36v1M2.5 36v1M17.5 36v1M25.5 36v1M27.5 36v1M15.5 37v1M31.5 37v1"/>
<path stroke="#c7b4d1" d="M16.5 0v1M24.5 0v1M30.5 0v1M3.5 2v1M4.5 4v1M25.5 4v1M12.5 9v1M19.5 9v1M31.5 19v1M19.5 20v1M0.5 23v1M3.5 23v1M8.5 25v1M25.5 31v1M11.5 34v1M22.5 34v1M31.5 34v1"/>
<path stroke="#f0a89e" d="M19.5 0v1M14.5 1v1M22.5 1v1M6.5 5v1M30.5 5v1M5.5 7v1M19.5 7v1M22.5 7v1M25.5 7v1M29.5 10v1M8.5 13v1M28.5 15v1M8.5 16v1M0.5 17v1M4.5 17v1M12.5 18v1M18.5 18v1M29.5 18v1M16.5 19v1M20.5 19v1M6.5 20v1M9.5 20v1M18.5 20v1M9.5 21v1M18.5 21v1M31.5 21v1M6.5 23v1M12.5 23v1M18.5 24v1M2.5 26v1M3.5 26v1M4.5 26v1M7.5 26v1M8.5 26v1M24.5 26v1M16.5 27v1M25.5 27v1M6.5 28v1M29.5 28v1M30.5 28v1M31.5 28v1M15.5 29v1M17.5 29v1M22.5 29v1M30.5 30v1M32.5 30v1M6.5 32v1M30.5 32v1M32.5 32v1M7.5 33v1M17.5 33v1M5.5 34v1M13.5 36v1M18.5 36v1M4.5 37v1M14.5 37v1M16.5 37v1M26.5 37v1M27.5 37v1"/>
<path stroke="#e2cad5" d="M20.5 0v1M21.5 1v1M30.5 1v1M4.5 2v1M22.5 2v1M17.5 3v1M28.5 3v1M29.5 3v1M1.5 4v1M3.5 4v1M32.5 4v1M0.5 5v1M10.5 5v1M1.5 7v1M11.5 7v1M2.5 9v1M7.5 9v1M22.5 9v1M32.5 9v1M0.5 15v1M25.5 18v1M7.5 20v1M3.5 21v1M12.5 21v1M20.5 21v1M28.5 21v1M4.5 23v1M11.5 23v1M4.5 24v1M6.5 24v1M0.5 25v1M3.5 25v1M11.5 25v1M18.5 25v1M20.5 25v1M18.5 26v1M20.5 27v1M0.5 28v1M8.5 28v1M12.5 28v1M20.5 29v1M31.5 30v1M12.5 31v1M15.5 31v1M1.5 33v1M0.5 34v1M3.5 34v1M17.5 34v1M20.5 34v1M25.5 34v1M6.5 36v1M8.5 36v1M11.5 36v1M14.5 36v1M33.5 36v1M8.5 37v1M33.5 37v1"/>
<path stroke="#ecb8b7" d="M28.5 0v1M4.5 1v1M5.5 1v1M7.5 1v1M31.5 1v1M28.5 2v1M6.5 3v1M19.5 3v1M23.5 3v1M27.5 3v1M14.5 4v1M33.5 4v1M5.5 5v1M9.5 5v1M14.5 5v1M19.5 5v1M25.5 5v1M31.5 5v1M0.5 7v1M9.5 7v1M17.5 7v1M23.5 7v1M3.5 9v1M20.5 9v1M27.5 9v1M31.5 9v1M1.5 17v1M14.5 17v1M19.5 17v1M1.5 18v1M2.5 18v1M5.5 18v1M17.5 18v1M14.5 19v1M17.5 19v1M18.5 19v1M21.5 19v1M29.5 19v1M30.5 19v1M0.5 20v1M8.5 20v1M13.5 20v1M22.5 20v1M23.5 20v1M26.5 20v1M27.5 20v1M33.5 20v1M7.5 21v1M19.5 21v1M23.5 21v1M24.5 21v1M30.5 21v1M23.5 23v1M26.5 23v1M11.5 24v1M16.5 24v1M21.5 24v1M27.5 24v1M32.5 24v1M13.5 25v1M14.5 25v1M26.5 25v1M11.5 26v1M15.5 26v1M3.5 27v1M6.5 27v1M27.5 27v1M1.5 28v1M7.5 28v1M9.5 28v1M10.5 28v1M14.5 28v1M24.5 28v1M22.5 30v1M8.5 32v1M0.5 33v1M2.5 33v1M9.5 33v1M15.5 33v1M23.5 33v1M27.5 33v1M29.5 33v1M4.5 34v1M14.5 34v1M16.5 34v1M32.5 35v1M33.5 35v1M19.5 36v1M24.5 37v1M30.5 37v1"/>
<path stroke="#efaea7" d="M3.5 1v1M6.5 1v1M16.5 2v1M10.5 3v1M32.5 3v1M6.5 4v1M16.5 7v1M28.5 7v1M1.5 12v1M18.5 14v1M19.5 14v1M23.5 14v1M21.5 15v1M33.5 16v1M12.5 17v1M17.5 17v1M3.5 18v1M19.5 18v1M21.5 18v1M23.5 18v1M31.5 18v1M23.5 19v1M28.5 19v1M5.5 20v1M4.5 21v1M11.5 21v1M16.5 21v1M22.5 21v1M29.5 21v1M32.5 21v1M15.5 23v1M27.5 23v1M26.5 24v1M29.5 24v1M16.5 25v1M21.5 25v1M22.5 25v1M28.5 25v1M23.5 26v1M26.5 26v1M29.5 26v1M1.5 27v1M21.5 27v1M32.5 27v1M17.5 28v1M32.5 28v1M0.5 29v1M1.5 29v1M32.5 29v1M15.5 30v1M17.5 30v1M3.5 33v1M12.5 33v1M22.5 33v1M18.5 34v1M24.5 34v1M26.5 34v1M32.5 34v1M31.5 35v1M20.5 36v1M6.5 37v1M7.5 37v1"/>
<path stroke="#f38f7d" d="M8.5 1v1M33.5 1v1M20.5 3v1M28.5 5v1M3.5 7v1M27.5 7v1M2.5 10v1M11.5 12v1M13.5 12v1M15.5 12v1M27.5 12v1M28.5 12v1M29.5 12v1M0.5 13v1M12.5 14v1M13.5 14v1M20.5 14v1M21.5 14v1M27.5 14v1M7.5 15v1M10.5 15v1M11.5 15v1M17.5 15v1M24.5 15v1M19.5 16v1M11.5 17v1M18.5 17v1M21.5 17v1M24.5 17v1M25.5 17v1M14.5 18v1M20.5 18v1M3.5 19v1M5.5 19v1M13.5 19v1M27.5 19v1M3.5 24v1M14.5 24v1M30.5 26v1M4.5 27v1M10.5 27v1M31.5 27v1M21.5 29v1M33.5 29v1M15.5 32v1M16.5 32v1M18.5 32v1M23.5 32v1M28.5 32v1M11.5 33v1M13.5 33v1M33.5 33v1M2.5 35v1M26.5 35v1"/>
<path stroke="#eeb4b0" d="M10.5 1v1M18.5 1v1M26.5 1v1M32.5 1v1M9.5 2v1M24.5 3v1M17.5 4v1M11.5 5v1M18.5 5v1M8.5 7v1M21.5 7v1M31.5 7v1M33.5 7v1M5.5 9v1M26.5 9v1M21.5 13v1M8.5 15v1M14.5 15v1M25.5 15v1M32.5 15v1M23.5 17v1M9.5 18v1M16.5 18v1M33.5 18v1M1.5 20v1M17.5 20v1M28.5 20v1M32.5 20v1M2.5 21v1M13.5 21v1M22.5 23v1M20.5 24v1M24.5 24v1M2.5 25v1M5.5 26v1M14.5 26v1M17.5 26v1M19.5 26v1M0.5 27v1M2.5 27v1M5.5 27v1M13.5 27v1M19.5 27v1M2.5 28v1M18.5 28v1M1.5 30v1M3.5 30v1M4.5 30v1M9.5 30v1M13.5 30v1M20.5 30v1M33.5 30v1M12.5 32v1M24.5 32v1M29.5 32v1M10.5 33v1M28.5 33v1M1.5 34v1M13.5 34v1M33.5 34v1M24.5 35v1M25.5 35v1M9.5 36v1M21.5 36v1M0.5 37v1M5.5 37v1M25.5 37v1"/>
<path stroke="#f39684" d="M13.5 1v1M20.5 7v1M10.5 12v1M14.5 12v1M30.5 12v1M31.5 12v1M1.5 13v1M7.5 13v1M12.5 13v1M23.5 13v1M24.5 13v1M10.5 14v1M15.5 14v1M16.5 14v1M28.5 14v1M1.5 15v1M3.5 15v1M26.5 15v1M1.5 16v1M13.5 16v1M30.5 16v1M10.5 17v1M33.5 17v1M15.5 18v1M26.5 19v1M31.5 26v1M11.5 27v1M18.5 27v1M6.5 29v1M16.5 29v1M23.5 29v1M31.5 29v1M3.5 32v1M10.5 32v1M25.5 32v1M31.5 32v1M26.5 33v1M30.5 33v1M3.5 35v1M6.5 35v1M8.5 35v1M9.5 35v1M16.5 35v1M18.5 35v1M21.5 37v1M22.5 37v1"/>
<path stroke="#f38876" d="M15.5 1v1M6.5 7v1M8.5 10v1M25.5 10v1M30.5 10v1M33.5 10v1M2.5 12v1M4.5 12v1M6.5 12v1M25.5 12v1M32.5 12v1M6.5 13v1M18.5 13v1M28.5 13v1M30.5 13v1M0.5 14v1M2.5 14v1M3.5 14v1M7.5 14v1M4.5 15v1M9.5 15v1M13.5 15v1M18.5 15v1M33.5 15v1M3.5 16v1M31.5 16v1M13.5 17v1M15.5 17v1M10.5 18v1M27.5 18v1M30.5 18v1M15.5 19v1M27.5 25v1M17.5 27v1M19.5 29v1M33.5 32v1M6.5 33v1M14.5 33v1M10.5 35v1M19.5 35v1M20.5 35v1M23.5 37v1"/>
<path stroke="#f28070" d="M27.5 1v1M4.5 10v1M10.5 10v1M11.5 10v1M15.5 10v1M23.5 10v1M7.5 12v1M12.5 12v1M20.5 12v1M4.5 13v1M15.5 13v1M19.5 13v1M33.5 13v1M5.5 14v1M24.5 14v1M30.5 14v1M31.5 14v1M6.5 15v1M12.5 15v1M30.5 15v1M31.5 15v1M0.5 16v1M28.5 16v1M22.5 17v1M24.5 18v1M28.5 27v1M2.5 29v1M4.5 29v1M5.5 29v1M27.5 30v1M20.5 32v1M22.5 32v1M27.5 32v1M4.5 35v1M21.5 35v1"/>
<path stroke="#f1a296" d="M28.5 1v1M20.5 5v1M21.5 5v1M26.5 5v1M4.5 7v1M15.5 7v1M24.5 7v1M26.5 7v1M30.5 7v1M28.5 9v1M32.5 10v1M0.5 12v1M8.5 12v1M16.5 12v1M26.5 12v1M33.5 12v1M7.5 16v1M12.5 16v1M20.5 16v1M32.5 16v1M8.5 17v1M30.5 17v1M7.5 18v1M26.5 18v1M32.5 18v1M5.5 21v1M27.5 21v1M33.5 21v1M10.5 24v1M1.5 26v1M10.5 26v1M16.5 26v1M21.5 26v1M22.5 26v1M33.5 26v1M9.5 27v1M24.5 27v1M29.5 27v1M11.5 28v1M16.5 28v1M19.5 28v1M8.5 29v1M10.5 29v1M26.5 29v1M29.5 29v1M18.5 30v1M23.5 30v1M28.5 30v1M9.5 32v1M13.5 32v1M20.5 33v1M21.5 33v1M24.5 33v1M32.5 33v1M1.5 35v1M7.5 35v1M13.5 35v1M28.5 35v1M30.5 35v1M3.5 36v1M23.5 36v1M31.5 36v1M2.5 37v1M12.5 37v1M20.5 37v1"/>
<path stroke="#f29c8d" d="M26.5 2v1M4.5 3v1M16.5 4v1M27.5 4v1M16.5 5v1M29.5 7v1M32.5 7v1M12.5 10v1M9.5 13v1M29.5 13v1M8.5 14v1M25.5 14v1M15.5 15v1M10.5 16v1M27.5 16v1M7.5 17v1M26.5 17v1M29.5 17v1M13.5 18v1M9.5 19v1M20.5 20v1M17.5 21v1M17.5 23v1M31.5 23v1M17.5 24v1M29.5 25v1M14.5 27v1M15.5 27v1M22.5 27v1M23.5 27v1M30.5 27v1M33.5 27v1M28.5 28v1M9.5 29v1M11.5 29v1M24.5 29v1M2.5 30v1M24.5 30v1M7.5 32v1M11.5 32v1M19.5 32v1M19.5 33v1M0.5 35v1M11.5 35v1M12.5 35v1M14.5 35v1M15.5 35v1M23.5 35v1M29.5 35v1"/>
<path stroke="#ac97c5" d="M11.5 4v1M29.5 4v1"/>
<path stroke="#bca9cc" d="M23.5 4v1"/>
<path stroke="#faa686" d="M0.5 6v1M1.5 6v1M2.5 6v1M4.5 6v1M1.5 11v1M25.5 11v1M29.5 11v1M7.5 22v1M5.5 31v1"/>
<path stroke="#f78268" d="M3.5 6v1M17.5 6v1M25.5 6v1M6.5 8v1M4.5 11v1M9.5 11v1M24.5 11v1M31.5 11v1"/>
<path stroke="#f9987a" d="M5.5 6v1M6.5 6v1M24.5 6v1M27.5 6v1M29.5 6v1M9.5 8v1M10.5 11v1M11.5 11v1M32.5 11v1M3.5 31v1M9.5 31v1"/>
<path stroke="#fbba9b" d="M7.5 6v1M21.5 6v1M23.5 6v1M26.5 6v1M28.5 6v1M32.5 6v1M4.5 8v1M16.5 8v1M22.5 8v1M22.5 11v1M2.5 22v1M15.5 22v1M18.5 22v1M20.5 22v1M22.5 22v1M27.5 22v1M33.5 22v1M30.5 31v1"/>
<path stroke="#fbdfc6" d="M8.5 6v1M30.5 6v1M33.5 8v1M29.5 31v1"/>
<path stroke="#faad8c" d="M9.5 6v1M18.5 6v1M33.5 6v1M15.5 8v1M18.5 8v1M19.5 8v1M26.5 8v1M6.5 22v1M14.5 31v1"/>
<path stroke="#fab494" d="M10.5 6v1M13.5 6v1M16.5 6v1M3.5 8v1M5.5 8v1M12.5 8v1M20.5 8v1M0.5 11v1M14.5 11v1M16.5 11v1M9.5 22v1M12.5 22v1M17.5 22v1M28.5 22v1M13.5 31v1M22.5 31v1"/>
<path stroke="#fbc8a9" d="M11.5 6v1M20.5 6v1M0.5 8v1M1.5 8v1M23.5 8v1M30.5 8v1M3.5 11v1M19.5 11v1M3.5 22v1M4.5 22v1M13.5 22v1M26.5 22v1M7.5 31v1"/>
<path stroke="#fbc1a2" d="M12.5 6v1M2.5 8v1M14.5 8v1M25.5 8v1M20.5 11v1M23.5 11v1M2.5 31v1M6.5 31v1M21.5 31v1M24.5 31v1M28.5 31v1"/>
<path stroke="#f89074" d="M14.5 6v1M15.5 6v1M31.5 6v1M13.5 11v1"/>
<path stroke="#fcd5b7" d="M19.5 6v1M10.5 8v1M21.5 8v1M31.5 8v1M8.5 11v1M19.5 22v1M25.5 22v1M30.5 22v1M10.5 31v1M23.5 31v1M26.5 31v1M27.5 31v1M31.5 31v1M32.5 31v1"/>
<path stroke="#f99f80" d="M22.5 6v1M28.5 8v1M7.5 11v1M12.5 11v1M15.5 11v1M18.5 11v1M26.5 11v1"/>
<path stroke="#fcdabe" d="M8.5 8v1M0.5 22v1M8.5 22v1M10.5 22v1M14.5 22v1M16.5 22v1M0.5 31v1M17.5 31v1M20.5 31v1"/>
<path stroke="#f8896e" d="M13.5 8v1M17.5 11v1M21.5 11v1M27.5 11v1M33.5 11v1"/>
<path stroke="#fcceb0" d="M17.5 8v1M24.5 8v1M27.5 8v1M29.5 8v1M32.5 8v1M1.5 22v1M23.5 22v1M29.5 22v1M31.5 22v1M32.5 22v1"/>
<path stroke="#a08abe" d="M11.5 9v1"/>
<path stroke="#f27969" d="M0.5 10v1M1.5 10v1M22.5 10v1M5.5 12v1M18.5 12v1M21.5 12v1M14.5 13v1M1.5 14v1M11.5 14v1M22.5 14v1M26.5 14v1M2.5 16v1M4.5 16v1M21.5 16v1M23.5 16v1M25.5 16v1M6.5 17v1M31.5 17v1M28.5 18v1M4.5 19v1M27.5 26v1M7.5 29v1M0.5 32v1M14.5 32v1M21.5 32v1M5.5 33v1M31.5 33v1"/>
<path stroke="#f26b5c" d="M3.5 10v1M6.5 10v1M18.5 10v1M19.5 10v1M20.5 10v1M21.5 10v1M9.5 12v1M10.5 13v1M16.5 13v1M31.5 13v1M32.5 13v1M5.5 15v1M19.5 15v1M5.5 16v1M18.5 16v1M24.5 16v1M2.5 17v1M3.5 17v1"/>
<path stroke="#f27262" d="M5.5 10v1M14.5 10v1M24.5 10v1M28.5 10v1M31.5 10v1M23.5 12v1M2.5 13v1M13.5 13v1M22.5 13v1M25.5 13v1M27.5 13v1M4.5 14v1M14.5 14v1M17.5 14v1M23.5 15v1M9.5 16v1M26.5 16v1M29.5 16v1M5.5 17v1M16.5 17v1M20.5 17v1M6.5 18v1M13.5 29v1M30.5 29v1M5.5 32v1M5.5 35v1M17.5 35v1M27.5 35v1"/>
<path stroke="#f0574c" d="M7.5 10v1M16.5 10v1M27.5 15v1M29.5 15v1M22.5 16v1M28.5 17v1M32.5 17v1M17.5 32v1M26.5 32v1"/>
<path stroke="#f15e51" d="M9.5 10v1M17.5 10v1M17.5 12v1M17.5 13v1M22.5 15v1M17.5 16v1M9.5 17v1M4.5 32v1"/>
<path stroke="#f05046" d="M13.5 10v1M5.5 13v1M32.5 14v1M6.5 16v1"/>
<path stroke="#f0413a" d="M26.5 10v1M9.5 14v1M20.5 15v1"/>
<path stroke="#f16457" d="M27.5 10v1M3.5 12v1M19.5 12v1M22.5 12v1M24.5 12v1M3.5 13v1M20.5 13v1M26.5 13v1M6.5 14v1M33.5 14v1M2.5 15v1M16.5 15v1M14.5 16v1M15.5 16v1M16.5 16v1M27.5 17v1M2.5 32v1M22.5 35v1"/>
<path stroke="#f77a62" d="M2.5 11v1M30.5 11v1"/>
<path stroke="#f7735c" d="M5.5 11v1"/>
<path stroke="#f66b56" d="M6.5 11v1M28.5 11v1"/>
<path stroke="#f04840" d="M29.5 14v1"/>
</g>
<g transform="translate(405.4,18.7) scale(1.1353,5.2)" fill="none" stroke-width="1.02">
<path stroke="#ecb8b7" d="M0.5 0v1M13.5 0v1M24.5 0v1M6.5 1v1M19.5 1v1M25.5 1v1M6.5 3v1M6.5 4v1M8.5 4v1M4.5 5v1M9.5 5v1M13.5 5v1M24.5 5v1M25.5 5v1M29.5 5v1M30.5 5v1M32.5 5v1M4.5 7v1M2.5 9v1M32.5 9v1M32.5 10v1M3.5 12v1M30.5 12v1M2.5 13v1M12.5 13v1M14.5 13v1M29.5 13v1M30.5 13v1M6.5 14v1M22.5 14v1M7.5 15v1M21.5 15v1M26.5 15v1M27.5 15v1M28.5 15v1M29.5 15v1M22.5 17v1M3.5 18v1M13.5 18v1M16.5 18v1M17.5 18v1M25.5 18v1M5.5 19v1M14.5 19v1M23.5 19v1M13.5 27v1M5.5 28v1M7.5 28v1M16.5 28v1M31.5 28v1M33.5 28v1M3.5 29v1M4.5 29v1M16.5 29v1M0.5 30v1M15.5 30v1M12.5 32v1M5.5 33v1M7.5 33v1M12.5 34v1M24.5 34v1M0.5 35v1M5.5 35v1M12.5 35v1M18.5 35v1M23.5 35v1M27.5 35v1M27.5 36v1M31.5 36v1M7.5 37v1M10.5 37v1M14.5 37v1M21.5 37v1M23.5 37v1M24.5 37v1M25.5 37v1"/>
<path stroke="#d5c0d4" d="M1.5 0v1M10.5 0v1M13.5 1v1M27.5 1v1M0.5 2v1M24.5 2v1M28.5 2v1M30.5 2v1M31.5 2v1M22.5 3v1M27.5 3v1M17.5 4v1M18.5 4v1M29.5 4v1M32.5 4v1M3.5 6v1M1.5 7v1M2.5 7v1M10.5 7v1M15.5 7v1M21.5 7v1M33.5 7v1M26.5 8v1M31.5 8v1M0.5 9v1M10.5 9v1M26.5 9v1M1.5 10v1M6.5 10v1M8.5 10v1M10.5 10v1M13.5 10v1M0.5 12v1M2.5 12v1M4.5 12v1M6.5 12v1M5.5 13v1M14.5 15v1M33.5 15v1M16.5 17v1M20.5 17v1M31.5 17v1M14.5 18v1M15.5 28v1M22.5 29v1M27.5 31v1M9.5 32v1M25.5 32v1M28.5 32v1M23.5 33v1M32.5 33v1M8.5 34v1M1.5 36v1M2.5 36v1M4.5 36v1M6.5 36v1M9.5 36v1M10.5 36v1M11.5 36v1M12.5 36v1M16.5 36v1M21.5 36v1M23.5 36v1M25.5 36v1M6.5 37v1"/>
<path stroke="#ccbad3" d="M2.5 0v1M12.5 0v1M22.5 0v1M7.5 2v1M17.5 2v1M2.5 3v1M26.5 3v1M0.5 4v1M9.5 4v1M8.5 6v1M14.5 6v1M23.5 6v1M26.5 6v1M3.5 7v1M11.5 7v1M25.5 7v1M27.5 7v1M20.5 9v1M23.5 9v1M5.5 10v1M24.5 10v1M10.5 12v1M25.5 12v1M20.5 15v1M5.5 16v1M9.5 16v1M18.5 16v1M3.5 17v1M5.5 17v1M7.5 17v1M12.5 17v1M19.5 17v1M21.5 17v1M25.5 17v1M19.5 31v1M31.5 31v1M10.5 32v1M11.5 32v1M29.5 32v1M6.5 33v1M0.5 34v1M13.5 36v1"/>
<path stroke="#e2cad5" d="M3.5 0v1M6.5 0v1M19.5 0v1M27.5 0v1M1.5 1v1M7.5 1v1M9.5 1v1M22.5 1v1M31.5 1v1M3.5 2v1M3.5 3v1M29.5 3v1M31.5 3v1M33.5 3v1M13.5 4v1M14.5 4v1M27.5 4v1M33.5 4v1M21.5 5v1M22.5 6v1M5.5 7v1M19.5 7v1M22.5 7v1M23.5 7v1M25.5 8v1M27.5 8v1M11.5 9v1M18.5 9v1M31.5 9v1M9.5 10v1M11.5 10v1M21.5 10v1M22.5 10v1M30.5 10v1M20.5 11v1M19.5 12v1M23.5 12v1M26.5 12v1M9.5 13v1M2.5 14v1M14.5 14v1M28.5 14v1M29.5 14v1M6.5 15v1M9.5 15v1M19.5 15v1M11.5 16v1M19.5 16v1M21.5 16v1M25.5 16v1M5.5 18v1M8.5 18v1M22.5 18v1M30.5 18v1M32.5 19v1M9.5 28v1M10.5 28v1M13.5 28v1M22.5 28v1M24.5 28v1M8.5 29v1M17.5 29v1M7.5 30v1M20.5 30v1M24.5 30v1M1.5 31v1M1.5 32v1M13.5 32v1M2.5 34v1M14.5 34v1M27.5 34v1M31.5 34v1M7.5 35v1M10.5 35v1M8.5 37v1M13.5 37v1M20.5 37v1M30.5 37v1"/>
<path stroke="#e4c6ce" d="M4.5 0v1M26.5 0v1M29.5 0v1M30.5 0v1M2.5 1v1M23.5 1v1M33.5 1v1M18.5 2v1M14.5 3v1M17.5 3v1M5.5 4v1M26.5 4v1M28.5 4v1M6.5 5v1M11.5 5v1M18.5 5v1M6.5 7v1M0.5 8v1M13.5 8v1M15.5 8v1M17.5 8v1M20.5 8v1M29.5 8v1M12.5 9v1M14.5 9v1M27.5 9v1M0.5 10v1M16.5 10v1M18.5 10v1M26.5 10v1M24.5 12v1M32.5 12v1M6.5 13v1M8.5 13v1M11.5 13v1M13.5 13v1M19.5 13v1M21.5 13v1M16.5 14v1M23.5 14v1M24.5 14v1M33.5 14v1M32.5 15v1M13.5 16v1M16.5 16v1M17.5 16v1M0.5 17v1M8.5 17v1M13.5 17v1M17.5 17v1M18.5 17v1M26.5 17v1M15.5 18v1M32.5 18v1M25.5 19v1M12.5 28v1M32.5 28v1M9.5 29v1M25.5 29v1M32.5 29v1M6.5 30v1M10.5 30v1M11.5 30v1M19.5 30v1M31.5 32v1M1.5 33v1M19.5 33v1M29.5 33v1M5.5 34v1M18.5 34v1M22.5 34v1M15.5 35v1M3.5 36v1M15.5 36v1M9.5 37v1"/>
<path stroke="#d0bdd3" d="M5.5 0v1M11.5 0v1M16.5 0v1M25.5 0v1M11.5 1v1M15.5 1v1M6.5 2v1M10.5 2v1M25.5 2v1M32.5 2v1M1.5 3v1M9.5 3v1M10.5 3v1M13.5 3v1M15.5 3v1M18.5 3v1M25.5 3v1M7.5 4v1M0.5 6v1M18.5 6v1M32.5 6v1M13.5 7v1M17.5 7v1M29.5 7v1M6.5 8v1M9.5 8v1M11.5 8v1M16.5 8v1M1.5 9v1M5.5 9v1M24.5 9v1M29.5 9v1M15.5 10v1M16.5 12v1M26.5 13v1M10.5 14v1M11.5 14v1M15.5 14v1M0.5 15v1M3.5 15v1M7.5 16v1M4.5 17v1M9.5 17v1M11.5 17v1M27.5 17v1M5.5 29v1M1.5 30v1M9.5 30v1M17.5 31v1M14.5 32v1M30.5 32v1M9.5 33v1M10.5 33v1M20.5 33v1M3.5 34v1M6.5 34v1M23.5 34v1M1.5 35v1M0.5 36v1M5.5 36v1M29.5 36v1M19.5 37v1M22.5 37v1"/>
<path stroke="#e7c1c6" d="M7.5 0v1M8.5 0v1M14.5 0v1M15.5 0v1M28.5 0v1M29.5 1v1M30.5 1v1M2.5 4v1M3.5 4v1M15.5 4v1M19.5 4v1M20.5 4v1M14.5 5v1M23.5 5v1M26.5 7v1M12.5 8v1M14.5 8v1M32.5 8v1M15.5 9v1M16.5 9v1M3.5 10v1M14.5 10v1M17.5 10v1M5.5 12v1M8.5 12v1M12.5 12v1M23.5 13v1M25.5 13v1M33.5 13v1M7.5 14v1M32.5 14v1M2.5 15v1M5.5 15v1M8.5 15v1M10.5 15v1M11.5 15v1M16.5 15v1M1.5 16v1M6.5 16v1M14.5 16v1M23.5 16v1M14.5 17v1M23.5 17v1M28.5 17v1M33.5 17v1M6.5 18v1M9.5 18v1M21.5 18v1M23.5 18v1M28.5 18v1M31.5 18v1M1.5 19v1M22.5 19v1M1.5 28v1M4.5 28v1M8.5 28v1M14.5 28v1M17.5 28v1M23.5 28v1M25.5 28v1M26.5 28v1M1.5 29v1M6.5 29v1M15.5 29v1M23.5 29v1M4.5 30v1M29.5 30v1M7.5 32v1M17.5 32v1M18.5 32v1M24.5 32v1M0.5 33v1M30.5 33v1M7.5 34v1M16.5 34v1M25.5 34v1M28.5 34v1M33.5 34v1M11.5 35v1M25.5 35v1M28.5 36v1M1.5 37v1M2.5 37v1M5.5 37v1M12.5 37v1M17.5 37v1M27.5 37v1M31.5 37v1"/>
<path stroke="#efaea7" d="M9.5 0v1M0.5 1v1M32.5 1v1M22.5 5v1M26.5 5v1M31.5 5v1M14.5 7v1M0.5 13v1M3.5 13v1M32.5 13v1M10.5 18v1M11.5 18v1M33.5 18v1M10.5 19v1M27.5 19v1M29.5 19v1M31.5 19v1M25.5 25v1M30.5 28v1M0.5 29v1M30.5 29v1M33.5 29v1M12.5 30v1M31.5 30v1M12.5 33v1M21.5 34v1M16.5 35v1M19.5 35v1M26.5 35v1M22.5 36v1M0.5 37v1M3.5 37v1M26.5 37v1"/>
<path stroke="#f0a89e" d="M17.5 0v1M8.5 1v1M18.5 1v1M8.5 2v1M24.5 4v1M0.5 5v1M3.5 5v1M12.5 5v1M12.5 10v1M10.5 13v1M4.5 14v1M30.5 14v1M15.5 15v1M18.5 15v1M20.5 16v1M19.5 18v1M15.5 19v1M20.5 19v1M3.5 20v1M14.5 20v1M20.5 20v1M22.5 20v1M29.5 20v1M29.5 24v1M11.5 25v1M13.5 25v1M27.5 27v1M14.5 29v1M21.5 29v1M27.5 29v1M30.5 30v1M28.5 35v1M33.5 37v1"/>
<path stroke="#f29c8d" d="M18.5 0v1M19.5 5v1M1.5 13v1M12.5 14v1M18.5 14v1M22.5 15v1M17.5 19v1M18.5 19v1M19.5 19v1M21.5 19v1M26.5 19v1M9.5 20v1M11.5 23v1M5.5 24v1M9.5 25v1M10.5 25v1M24.5 25v1M29.5 25v1M7.5 26v1M9.5 26v1M12.5 26v1M22.5 26v1M26.5 26v1M31.5 26v1M16.5 27v1M20.5 27v1M24.5 27v1M19.5 28v1M28.5 29v1M3.5 35v1M13.5 35v1M17.5 35v1M33.5 35v1M28.5 37v1"/>
<path stroke="#b7a4ca" d="M20.5 0v1M9.5 2v1M15.5 2v1M21.5 3v1M1.5 6v1M7.5 6v1M29.5 6v1M21.5 12v1M24.5 31v1M26.5 31v1M11.5 33v1M26.5 36v1"/>
<path stroke="#dec7d5" d="M21.5 0v1M5.5 3v1M11.5 3v1M12.5 3v1M16.5 3v1M4.5 4v1M31.5 4v1M17.5 5v1M19.5 6v1M24.5 7v1M22.5 8v1M8.5 9v1M25.5 9v1M30.5 9v1M2.5 10v1M20.5 10v1M25.5 10v1M27.5 10v1M1.5 12v1M11.5 12v1M14.5 12v1M29.5 12v1M33.5 12v1M16.5 13v1M18.5 13v1M24.5 13v1M13.5 14v1M20.5 14v1M27.5 14v1M12.5 15v1M12.5 16v1M15.5 16v1M1.5 17v1M6.5 17v1M12.5 18v1M0.5 28v1M2.5 28v1M3.5 30v1M17.5 30v1M22.5 30v1M23.5 30v1M32.5 30v1M0.5 32v1M4.5 32v1M15.5 32v1M32.5 32v1M3.5 33v1M8.5 33v1M16.5 33v1M21.5 33v1M22.5 33v1M25.5 33v1M26.5 33v1M27.5 33v1M28.5 33v1M31.5 33v1M1.5 34v1M20.5 35v1M22.5 35v1M14.5 36v1M30.5 36v1M32.5 36v1M11.5 37v1"/>
<path stroke="#d9c4d4" d="M23.5 0v1M31.5 0v1M32.5 0v1M3.5 1v1M5.5 1v1M12.5 2v1M16.5 2v1M23.5 2v1M0.5 3v1M4.5 3v1M7.5 3v1M19.5 3v1M28.5 3v1M32.5 3v1M11.5 4v1M22.5 4v1M23.5 4v1M2.5 5v1M4.5 6v1M12.5 6v1M24.5 6v1M28.5 6v1M20.5 7v1M28.5 7v1M31.5 7v1M3.5 9v1M4.5 9v1M6.5 9v1M13.5 9v1M17.5 9v1M28.5 9v1M33.5 9v1M29.5 10v1M31.5 10v1M15.5 12v1M18.5 12v1M20.5 12v1M22.5 12v1M28.5 12v1M28.5 13v1M31.5 13v1M0.5 14v1M21.5 14v1M26.5 14v1M0.5 16v1M10.5 17v1M29.5 17v1M30.5 17v1M32.5 17v1M0.5 18v1M27.5 18v1M11.5 28v1M26.5 29v1M5.5 30v1M27.5 30v1M28.5 30v1M30.5 31v1M33.5 31v1M2.5 32v1M3.5 32v1M5.5 32v1M20.5 32v1M22.5 32v1M23.5 32v1M26.5 32v1M27.5 32v1M33.5 32v1M14.5 33v1M15.5 33v1M9.5 34v1M10.5 34v1M15.5 34v1M26.5 34v1M30.5 34v1M6.5 35v1M7.5 36v1M17.5 36v1M18.5 37v1"/>
<path stroke="#c2afcf" d="M33.5 0v1M1.5 2v1M2.5 2v1M4.5 2v1M27.5 2v1M33.5 2v1M23.5 3v1M21.5 8v1M22.5 9v1M9.5 12v1M25.5 14v1M31.5 14v1M15.5 17v1M26.5 30v1M0.5 31v1M10.5 31v1M12.5 31v1M28.5 31v1M21.5 32v1M4.5 33v1M13.5 33v1M33.5 33v1M20.5 34v1M32.5 34v1"/>
<path stroke="#e9bdbf" d="M4.5 1v1M10.5 1v1M14.5 1v1M16.5 1v1M17.5 1v1M20.5 1v1M21.5 1v1M28.5 1v1M1.5 4v1M12.5 4v1M16.5 4v1M21.5 4v1M25.5 4v1M1.5 5v1M20.5 5v1M12.5 7v1M16.5 7v1M9.5 9v1M19.5 9v1M4.5 10v1M19.5 10v1M33.5 10v1M17.5 12v1M7.5 13v1M15.5 13v1M9.5 14v1M1.5 15v1M4.5 15v1M17.5 15v1M4.5 16v1M10.5 16v1M24.5 16v1M26.5 16v1M27.5 16v1M30.5 16v1M33.5 16v1M18.5 18v1M26.5 18v1M29.5 18v1M6.5 19v1M7.5 19v1M8.5 19v1M12.5 19v1M3.5 28v1M6.5 28v1M18.5 28v1M27.5 28v1M2.5 29v1M7.5 29v1M10.5 29v1M13.5 29v1M18.5 29v1M19.5 29v1M20.5 29v1M31.5 29v1M16.5 30v1M25.5 30v1M6.5 32v1M8.5 32v1M17.5 34v1M9.5 35v1M32.5 35v1M18.5 36v1M33.5 36v1M16.5 37v1M29.5 37v1M32.5 37v1"/>
<path stroke="#eeb4b0" d="M12.5 1v1M8.5 3v1M30.5 3v1M5.5 5v1M7.5 5v1M16.5 5v1M21.5 9v1M7.5 10v1M28.5 10v1M13.5 12v1M31.5 12v1M17.5 13v1M20.5 13v1M22.5 13v1M8.5 14v1M17.5 14v1M19.5 14v1M24.5 15v1M31.5 15v1M2.5 16v1M3.5 16v1M8.5 16v1M29.5 16v1M2.5 17v1M24.5 17v1M2.5 18v1M4.5 18v1M20.5 18v1M24.5 18v1M4.5 19v1M16.5 19v1M10.5 20v1M21.5 20v1M29.5 26v1M32.5 26v1M30.5 27v1M28.5 28v1M29.5 28v1M29.5 29v1M2.5 30v1M14.5 30v1M16.5 32v1M19.5 32v1M17.5 33v1M24.5 33v1M4.5 34v1M29.5 34v1M21.5 35v1M24.5 35v1M24.5 36v1M15.5 37v1"/>
<path stroke="#c7b4d1" d="M24.5 1v1M5.5 2v1M20.5 2v1M22.5 2v1M20.5 3v1M10.5 4v1M0.5 7v1M8.5 7v1M18.5 7v1M30.5 7v1M32.5 7v1M7.5 9v1M7.5 12v1M5.5 14v1M22.5 16v1M31.5 16v1M32.5 16v1M9.5 19v1M21.5 28v1M11.5 29v1M13.5 30v1M18.5 30v1M15.5 31v1M18.5 33v1M19.5 36v1"/>
<path stroke="#f1a296" d="M26.5 1v1M10.5 5v1M15.5 5v1M4.5 13v1M3.5 14v1M30.5 15v1M28.5 16v1M7.5 18v1M13.5 19v1M30.5 19v1M33.5 19v1M13.5 20v1M19.5 20v1M25.5 20v1M32.5 20v1M3.5 25v1M31.5 25v1M18.5 26v1M7.5 27v1M26.5 27v1M28.5 27v1M29.5 27v1M32.5 27v1M24.5 29v1M8.5 30v1M33.5 30v1M2.5 35v1M14.5 35v1M29.5 35v1M8.5 36v1"/>
<path stroke="#b29ec8" d="M11.5 2v1M21.5 2v1M2.5 6v1M17.5 6v1M33.5 6v1M7.5 7v1M9.5 7v1M23.5 10v1M13.5 31v1M14.5 31v1M21.5 31v1M23.5 31v1M25.5 31v1M11.5 34v1"/>
<path stroke="#a08abe" d="M13.5 2v1M25.5 6v1M9.5 31v1"/>
<path stroke="#bca9cc" d="M14.5 2v1M26.5 2v1M29.5 2v1M24.5 3v1M5.5 6v1M30.5 6v1M1.5 14v1M25.5 15v1M21.5 30v1M4.5 31v1M7.5 31v1M2.5 33v1M13.5 34v1M20.5 36v1"/>
<path stroke="#9a83bb" d="M19.5 2v1M11.5 6v1M16.5 6v1M8.5 31v1M29.5 31v1M32.5 31v1"/>
<path stroke="#f28070" d="M30.5 4v1M2.5 20v1M8.5 20v1M23.5 20v1M33.5 20v1M29.5 21v1M6.5 23v1M9.5 24v1M25.5 24v1M1.5 25v1M17.5 25v1M21.5 25v1M26.5 25v1M0.5 26v1M4.5 26v1M16.5 26v1M33.5 26v1M6.5 27v1M9.5 27v1M12.5 27v1"/>
<path stroke="#f38f7d" d="M8.5 5v1M33.5 5v1M27.5 13v1M23.5 15v1M24.5 19v1M28.5 19v1M0.5 20v1M4.5 20v1M5.5 20v1M11.5 20v1M5.5 23v1M25.5 23v1M29.5 23v1M4.5 25v1M5.5 25v1M23.5 25v1M33.5 25v1M5.5 26v1M6.5 26v1M21.5 26v1M0.5 27v1M1.5 27v1M5.5 27v1M19.5 27v1M21.5 27v1M25.5 27v1M31.5 27v1M12.5 29v1M30.5 35v1M4.5 37v1"/>
<path stroke="#f39684" d="M27.5 5v1M28.5 5v1M13.5 15v1M0.5 19v1M11.5 19v1M6.5 20v1M15.5 20v1M16.5 23v1M2.5 24v1M10.5 24v1M18.5 25v1M2.5 26v1M10.5 26v1M28.5 26v1M3.5 27v1M8.5 27v1M11.5 27v1M18.5 27v1"/>
<path stroke="#a690c2" d="M6.5 6v1M10.5 6v1M13.5 6v1M15.5 6v1M20.5 6v1M27.5 6v1M2.5 31v1M16.5 31v1M18.5 31v1M20.5 31v1M22.5 31v1"/>
<path stroke="#ac97c5" d="M9.5 6v1M31.5 6v1M27.5 12v1M3.5 31v1M5.5 31v1M19.5 34v1"/>
<path stroke="#8971b2" d="M21.5 6v1M6.5 31v1"/>
<path stroke="#fbdfc6" d="M1.5 8v1M4.5 8v1M19.5 8v1"/>
<path stroke="#fbc8a9" d="M2.5 8v1M23.5 8v1M30.5 8v1M3.5 11v1M9.5 11v1M15.5 11v1"/>
<path stroke="#fcd5b7" d="M3.5 8v1M5.5 8v1M7.5 8v1M18.5 8v1M27.5 11v1M31.5 11v1"/>
<path stroke="#fab494" d="M8.5 8v1M12.5 11v1M21.5 11v1M24.5 11v1"/>
<path stroke="#fcdabe" d="M10.5 8v1M33.5 8v1M11.5 11v1M18.5 11v1"/>
<path stroke="#fbc1a2" d="M24.5 8v1M10.5 11v1M23.5 11v1M25.5 11v1M29.5 11v1"/>
<path stroke="#fcceb0" d="M28.5 8v1M5.5 11v1M19.5 11v1"/>
<path stroke="#f78268" d="M0.5 11v1M11.5 22v1M15.5 22v1M24.5 22v1M25.5 22v1M26.5 22v1"/>
<path stroke="#faa686" d="M1.5 11v1M8.5 11v1M14.5 11v1M6.5 22v1M9.5 22v1M18.5 22v1M21.5 22v1"/>
<path stroke="#f9987a" d="M2.5 11v1M4.5 11v1M14.5 22v1M29.5 22v1M33.5 22v1"/>
<path stroke="#fbba9b" d="M6.5 11v1M7.5 11v1M17.5 11v1M22.5 11v1M28.5 11v1M32.5 11v1"/>
<path stroke="#f99f80" d="M13.5 11v1M4.5 22v1M28.5 22v1"/>
<path stroke="#f89074" d="M16.5 11v1M26.5 11v1M0.5 22v1M10.5 22v1M27.5 22v1"/>
<path stroke="#f8896e" d="M30.5 11v1M19.5 22v1M23.5 22v1M32.5 22v1"/>
<path stroke="#faad8c" d="M33.5 11v1M20.5 22v1"/>
<path stroke="#f38876" d="M1.5 18v1M2.5 19v1M3.5 19v1M18.5 20v1M24.5 20v1M26.5 20v1M27.5 20v1M28.5 23v1M11.5 24v1M26.5 24v1M28.5 24v1M31.5 24v1M32.5 24v1M2.5 25v1M14.5 25v1M20.5 25v1M22.5 25v1M27.5 25v1M28.5 25v1M1.5 26v1M25.5 26v1M27.5 26v1M4.5 27v1M15.5 27v1M23.5 27v1M20.5 28v1M4.5 35v1M8.5 35v1"/>
<path stroke="#f27969" d="M1.5 20v1M7.5 20v1M0.5 23v1M7.5 23v1M9.5 23v1M22.5 23v1M32.5 23v1M14.5 24v1M17.5 24v1M18.5 24v1M16.5 25v1M32.5 25v1M13.5 26v1M15.5 26v1M17.5 26v1M20.5 26v1M23.5 26v1M2.5 27v1M17.5 27v1M31.5 35v1"/>
<path stroke="#f26b5c" d="M12.5 20v1M6.5 21v1M10.5 23v1M15.5 23v1M6.5 24v1M7.5 25v1M19.5 26v1M30.5 26v1"/>
<path stroke="#f16457" d="M16.5 20v1M28.5 20v1M10.5 21v1M11.5 21v1M19.5 21v1M3.5 23v1M13.5 23v1M14.5 23v1M19.5 23v1M23.5 23v1M19.5 24v1M22.5 24v1M33.5 24v1M0.5 25v1M10.5 27v1"/>
<path stroke="#f15e51" d="M17.5 20v1M0.5 21v1M3.5 21v1M9.5 21v1M14.5 21v1M20.5 21v1M21.5 23v1M31.5 23v1M7.5 24v1M15.5 24v1M8.5 25v1M11.5 26v1M24.5 26v1M22.5 27v1"/>
<path stroke="#f0574c" d="M30.5 20v1M5.5 21v1M7.5 21v1M21.5 21v1M27.5 21v1M32.5 21v1M1.5 23v1M17.5 23v1M1.5 24v1M13.5 24v1M16.5 24v1M30.5 24v1"/>
<path stroke="#f27262" d="M31.5 20v1M25.5 21v1M26.5 21v1M2.5 23v1M20.5 23v1M3.5 24v1M20.5 24v1M23.5 24v1M27.5 24v1M6.5 25v1M12.5 25v1M15.5 25v1M19.5 25v1M3.5 26v1M14.5 27v1M33.5 27v1"/>
<path stroke="#f0322f" d="M1.5 21v1M4.5 21v1M13.5 21v1M17.5 21v1M8.5 23v1M4.5 24v1"/>
<path stroke="#f04840" d="M2.5 21v1M4.5 23v1M12.5 23v1M30.5 23v1M8.5 24v1M12.5 24v1M21.5 24v1"/>
<path stroke="#f02a29" d="M8.5 21v1"/>
<path stroke="#f03a35" d="M12.5 21v1M23.5 21v1M24.5 21v1M33.5 21v1M24.5 23v1M26.5 23v1M8.5 26v1"/>
<path stroke="#f0413a" d="M15.5 21v1M16.5 21v1M22.5 21v1M28.5 21v1M18.5 23v1M33.5 23v1M24.5 24v1"/>
<path stroke="#f02323" d="M18.5 21v1"/>
<path stroke="#f05046" d="M30.5 21v1M31.5 21v1M27.5 23v1M0.5 24v1M30.5 25v1M14.5 26v1"/>
<path stroke="#f66b56" d="M1.5 22v1M7.5 22v1M31.5 22v1"/>
<path stroke="#f77a62" d="M2.5 22v1M17.5 22v1"/>
<path stroke="#f7382e" d="M3.5 22v1"/>
<path stroke="#f66350" d="M5.5 22v1M8.5 22v1"/>
<path stroke="#f55444" d="M12.5 22v1"/>
<path stroke="#f7735c" d="M13.5 22v1"/>
<path stroke="#f54b3d" d="M16.5 22v1"/>
<path stroke="#f65c4a" d="M22.5 22v1M30.5 22v1"/>
<path stroke="#947cb8" d="M11.5 31v1"/>
</g>
<g transform="translate(444.0,18.7) scale(1.1379,5.2)" fill="none" stroke-width="1.02">
<path stroke="#e2cad5" d="M0.5 0v1M3.5 0v1M6.5 0v1M10.5 0v1M0.5 1v1M1.5 1v1M5.5 3v1M12.5 3v1M14.5 3v1M16.5 3v1M1.5 4v1M11.5 4v1M16.5 4v1M3.5 5v1M11.5 5v1M28.5 5v1M7.5 7v1M3.5 9v1M16.5 9v1M20.5 9v1M26.5 9v1M0.5 10v1M10.5 10v1M12.5 10v1M13.5 10v1M28.5 10v1M6.5 12v1M7.5 12v1M7.5 13v1M15.5 13v1M19.5 13v1M7.5 14v1M9.5 14v1M10.5 14v1M12.5 14v1M22.5 14v1M8.5 15v1M27.5 15v1M13.5 16v1M14.5 16v1M12.5 17v1M27.5 17v1M12.5 18v1M19.5 18v1M23.5 18v1M14.5 19v1M0.5 20v1M13.5 20v1M27.5 20v1M14.5 21v1M19.5 21v1M26.5 21v1M3.5 22v1M4.5 22v1M14.5 22v1M18.5 22v1M28.5 22v1M6.5 23v1M24.5 23v1M27.5 23v1M22.5 24v1M28.5 24v1M5.5 25v1M22.5 26v1M20.5 27v1"/>
<path stroke="#e4c6ce" d="M1.5 0v1M2.5 0v1M21.5 0v1M27.5 0v1M18.5 1v1M26.5 1v1M4.5 2v1M3.5 3v1M13.5 4v1M17.5 4v1M14.5 5v1M16.5 5v1M18.5 5v1M15.5 7v1M22.5 7v1M1.5 9v1M4.5 9v1M17.5 9v1M7.5 10v1M15.5 10v1M3.5 12v1M9.5 12v1M23.5 12v1M25.5 12v1M2.5 13v1M14.5 13v1M17.5 13v1M26.5 13v1M5.5 14v1M8.5 14v1M15.5 14v1M9.5 15v1M4.5 16v1M5.5 16v1M25.5 16v1M5.5 17v1M6.5 17v1M7.5 17v1M8.5 18v1M17.5 18v1M7.5 19v1M8.5 19v1M22.5 19v1M1.5 21v1M24.5 21v1M1.5 22v1M1.5 23v1M12.5 23v1M14.5 24v1M19.5 24v1M0.5 25v1M2.5 25v1M24.5 25v1M3.5 26v1M8.5 26v1M0.5 27v1M2.5 27v1M15.5 27v1M25.5 27v1M23.5 37v1"/>
<path stroke="#c2afcf" d="M4.5 0v1M7.5 0v1M28.5 0v1M4.5 1v1M5.5 1v1M22.5 2v1M7.5 4v1M15.5 4v1M26.5 4v1M9.5 7v1M16.5 7v1M2.5 10v1M23.5 14v1M1.5 15v1M28.5 15v1M2.5 17v1M16.5 18v1M16.5 19v1M26.5 19v1M7.5 20v1M12.5 20v1M8.5 21v1M15.5 24v1M27.5 25v1"/>
<path stroke="#ccbad3" d="M5.5 0v1M9.5 0v1M11.5 0v1M17.5 0v1M18.5 0v1M23.5 0v1M3.5 1v1M7.5 1v1M15.5 1v1M25.5 1v1M10.5 2v1M18.5 4v1M24.5 4v1M0.5 7v1M6.5 9v1M23.5 9v1M3.5 10v1M1.5 12v1M5.5 13v1M23.5 13v1M8.5 16v1M0.5 17v1M13.5 17v1M15.5 17v1M16.5 17v1M17.5 17v1M23.5 17v1M0.5 18v1M3.5 19v1M5.5 19v1M6.5 20v1M14.5 20v1M13.5 21v1M18.5 21v1M22.5 21v1M23.5 21v1M9.5 22v1M4.5 23v1M10.5 23v1M13.5 23v1M16.5 23v1M16.5 24v1M18.5 24v1M23.5 27v1"/>
<path stroke="#c7b4d1" d="M8.5 0v1M2.5 1v1M16.5 1v1M19.5 2v1M20.5 2v1M26.5 2v1M27.5 2v1M5.5 4v1M2.5 9v1M23.5 10v1M1.5 13v1M23.5 15v1M22.5 16v1M4.5 17v1M18.5 18v1M20.5 19v1M16.5 20v1M5.5 21v1M9.5 21v1M28.5 21v1M17.5 22v1M21.5 22v1M25.5 22v1M19.5 23v1M2.5 24v1M5.5 26v1M18.5 26v1"/>
<path stroke="#e9bdbf" d="M12.5 0v1M25.5 0v1M17.5 1v1M7.5 3v1M12.5 4v1M17.5 5v1M25.5 5v1M6.5 7v1M17.5 7v1M24.5 7v1M26.5 7v1M22.5 9v1M25.5 9v1M6.5 10v1M19.5 10v1M25.5 10v1M19.5 12v1M22.5 12v1M28.5 12v1M16.5 13v1M25.5 13v1M11.5 14v1M16.5 14v1M27.5 14v1M4.5 15v1M5.5 15v1M17.5 15v1M1.5 16v1M10.5 16v1M18.5 16v1M23.5 16v1M9.5 17v1M24.5 17v1M2.5 18v1M13.5 18v1M26.5 18v1M4.5 24v1M8.5 24v1M4.5 25v1M19.5 26v1M26.5 26v1M10.5 27v1M27.5 27v1M19.5 33v1M22.5 36v1M8.5 37v1"/>
<path stroke="#dec7d5" d="M13.5 0v1M20.5 0v1M22.5 0v1M20.5 1v1M6.5 2v1M21.5 2v1M25.5 2v1M11.5 3v1M23.5 3v1M4.5 4v1M6.5 4v1M19.5 4v1M20.5 4v1M27.5 4v1M0.5 5v1M8.5 5v1M23.5 5v1M20.5 7v1M9.5 9v1M12.5 9v1M19.5 9v1M16.5 10v1M21.5 10v1M24.5 10v1M0.5 12v1M2.5 12v1M13.5 12v1M15.5 12v1M4.5 13v1M28.5 13v1M3.5 14v1M4.5 14v1M19.5 14v1M2.5 15v1M14.5 15v1M20.5 15v1M24.5 15v1M2.5 16v1M6.5 16v1M20.5 16v1M24.5 16v1M1.5 17v1M14.5 17v1M20.5 17v1M5.5 18v1M10.5 18v1M24.5 18v1M0.5 19v1M6.5 19v1M17.5 19v1M4.5 20v1M8.5 20v1M11.5 20v1M12.5 21v1M7.5 22v1M20.5 22v1M23.5 22v1M8.5 23v1M7.5 24v1M12.5 24v1M13.5 24v1M21.5 24v1M25.5 24v1M19.5 25v1M20.5 25v1M21.5 25v1M23.5 25v1M0.5 26v1M7.5 26v1M10.5 26v1M11.5 26v1M15.5 26v1M1.5 27v1M6.5 27v1"/>
<path stroke="#e7c1c6" d="M14.5 0v1M17.5 2v1M2.5 3v1M5.5 5v1M1.5 7v1M4.5 7v1M8.5 8v1M7.5 9v1M14.5 9v1M15.5 9v1M24.5 9v1M17.5 10v1M18.5 10v1M13.5 11v1M10.5 12v1M17.5 12v1M21.5 12v1M26.5 12v1M6.5 13v1M9.5 13v1M24.5 13v1M0.5 14v1M13.5 14v1M18.5 14v1M21.5 14v1M15.5 15v1M16.5 15v1M19.5 15v1M17.5 16v1M8.5 17v1M25.5 17v1M26.5 17v1M1.5 18v1M6.5 18v1M7.5 18v1M11.5 18v1M21.5 18v1M27.5 18v1M4.5 19v1M10.5 19v1M19.5 19v1M8.5 22v1M12.5 22v1M24.5 22v1M7.5 23v1M0.5 24v1M13.5 25v1M18.5 25v1M28.5 25v1M4.5 26v1M12.5 26v1M21.5 26v1M24.5 26v1M13.5 27v1M16.5 27v1M24.5 27v1M15.5 32v1M16.5 32v1M23.5 32v1M23.5 33v1M1.5 36v1M5.5 36v1M0.5 37v1M15.5 37v1"/>
<path stroke="#d0bdd3" d="M15.5 0v1M26.5 0v1M10.5 1v1M19.5 1v1M3.5 2v1M7.5 2v1M11.5 2v1M13.5 2v1M14.5 2v1M28.5 2v1M2.5 4v1M3.5 4v1M23.5 4v1M2.5 7v1M13.5 7v1M19.5 7v1M25.5 7v1M1.5 10v1M5.5 10v1M14.5 10v1M22.5 10v1M27.5 10v1M5.5 12v1M3.5 13v1M11.5 13v1M11.5 15v1M3.5 17v1M14.5 18v1M22.5 18v1M25.5 18v1M11.5 19v1M18.5 19v1M24.5 19v1M18.5 20v1M19.5 20v1M23.5 20v1M24.5 20v1M26.5 20v1M7.5 21v1M10.5 21v1M20.5 21v1M25.5 21v1M27.5 21v1M5.5 22v1M15.5 22v1M0.5 23v1M2.5 23v1M11.5 23v1M18.5 23v1M20.5 23v1M7.5 25v1M22.5 25v1M16.5 26v1M17.5 27v1M26.5 27v1"/>
<path stroke="#d9c4d4" d="M16.5 0v1M11.5 1v1M22.5 1v1M0.5 2v1M9.5 2v1M15.5 2v1M14.5 4v1M25.5 4v1M14.5 7v1M8.5 9v1M8.5 10v1M11.5 12v1M14.5 12v1M24.5 12v1M0.5 13v1M13.5 15v1M15.5 16v1M16.5 16v1M28.5 16v1M18.5 17v1M19.5 17v1M22.5 17v1M15.5 19v1M21.5 19v1M15.5 20v1M17.5 20v1M22.5 20v1M11.5 21v1M10.5 22v1M16.5 22v1M26.5 22v1M5.5 23v1M9.5 23v1M14.5 23v1M17.5 23v1M26.5 23v1M1.5 24v1M20.5 24v1M23.5 24v1M24.5 24v1M27.5 24v1M12.5 25v1M1.5 26v1M9.5 26v1M13.5 26v1M25.5 26v1M18.5 27v1M21.5 27v1M22.5 27v1"/>
<path stroke="#d5c0d4" d="M19.5 0v1M6.5 1v1M21.5 1v1M23.5 1v1M18.5 2v1M28.5 4v1M23.5 7v1M5.5 9v1M13.5 9v1M21.5 9v1M4.5 10v1M26.5 10v1M16.5 12v1M13.5 13v1M10.5 15v1M25.5 15v1M19.5 16v1M10.5 17v1M28.5 17v1M9.5 18v1M1.5 19v1M2.5 19v1M27.5 19v1M28.5 20v1M17.5 21v1M19.5 22v1M22.5 22v1M3.5 23v1M3.5 24v1M6.5 24v1M9.5 24v1M17.5 24v1M6.5 25v1M10.5 25v1M25.5 25v1M17.5 26v1M27.5 26v1M3.5 27v1M4.5 27v1M5.5 27v1M24.5 37v1"/>
<path stroke="#ac97c5" d="M24.5 0v1M9.5 1v1M5.5 2v1M23.5 2v1"/>
<path stroke="#bca9cc" d="M8.5 1v1M13.5 1v1M27.5 1v1M1.5 2v1M2.5 2v1M8.5 2v1M2.5 20v1M5.5 20v1M25.5 20v1M3.5 21v1M16.5 21v1M21.5 21v1M2.5 22v1M13.5 22v1M21.5 23v1M23.5 23v1M23.5 26v1"/>
<path stroke="#ecb8b7" d="M12.5 1v1M12.5 2v1M6.5 3v1M22.5 3v1M0.5 4v1M2.5 5v1M24.5 5v1M12.5 7v1M27.5 7v1M0.5 9v1M10.5 9v1M27.5 9v1M28.5 9v1M9.5 10v1M8.5 12v1M12.5 12v1M18.5 12v1M20.5 13v1M1.5 14v1M2.5 14v1M20.5 14v1M28.5 14v1M0.5 15v1M6.5 15v1M7.5 15v1M18.5 15v1M26.5 15v1M3.5 16v1M11.5 16v1M11.5 17v1M21.5 17v1M3.5 18v1M20.5 18v1M28.5 18v1M6.5 21v1M22.5 23v1M25.5 23v1M28.5 23v1M26.5 24v1M1.5 25v1M17.5 25v1M6.5 26v1M8.5 27v1M14.5 27v1M19.5 29v1M13.5 30v1M22.5 32v1M26.5 33v1M2.5 34v1M2.5 36v1M16.5 36v1M23.5 36v1M10.5 37v1M22.5 37v1"/>
<path stroke="#b7a4ca" d="M14.5 1v1M8.5 4v1M23.5 19v1M1.5 20v1M10.5 20v1M20.5 20v1M21.5 20v1M0.5 21v1M0.5 22v1M15.5 23v1"/>
<path stroke="#a08abe" d="M24.5 1v1"/>
<path stroke="#b29ec8" d="M28.5 1v1M24.5 2v1M22.5 4v1M3.5 20v1M2.5 26v1"/>
<path stroke="#9a83bb" d="M16.5 2v1M9.5 20v1"/>
<path stroke="#f1a296" d="M0.5 3v1M10.5 5v1M26.5 5v1M5.5 7v1M10.5 7v1M21.5 7v1M11.5 10v1M4.5 12v1M27.5 12v1M21.5 13v1M22.5 13v1M24.5 14v1M0.5 16v1M5.5 24v1M8.5 25v1M15.5 25v1M26.5 25v1M11.5 27v1M15.5 30v1M20.5 30v1M10.5 32v1M9.5 33v1M12.5 33v1M10.5 34v1M16.5 34v1M28.5 34v1M14.5 35v1M3.5 36v1M6.5 36v1M19.5 36v1M20.5 36v1M25.5 36v1M2.5 37v1M18.5 37v1"/>
<path stroke="#f38876" d="M1.5 3v1M27.5 3v1M12.5 5v1M5.5 28v1M7.5 28v1M8.5 28v1M23.5 28v1M25.5 28v1M0.5 29v1M27.5 29v1M28.5 29v1M2.5 30v1M3.5 30v1M6.5 30v1M24.5 30v1M26.5 30v1M0.5 32v1M4.5 32v1M7.5 32v1M20.5 32v1M25.5 32v1M28.5 32v1M7.5 33v1M1.5 34v1M4.5 34v1M8.5 34v1M27.5 34v1M0.5 35v1M2.5 35v1M4.5 35v1M23.5 35v1M26.5 35v1M4.5 36v1M10.5 36v1M5.5 37v1"/>
<path stroke="#eeb4b0" d="M4.5 3v1M17.5 3v1M20.5 3v1M10.5 4v1M9.5 5v1M19.5 5v1M20.5 5v1M22.5 5v1M8.5 7v1M18.5 7v1M11.5 9v1M20.5 10v1M18.5 13v1M14.5 14v1M25.5 14v1M22.5 15v1M7.5 16v1M12.5 16v1M21.5 16v1M26.5 16v1M15.5 18v1M9.5 19v1M12.5 19v1M25.5 19v1M10.5 24v1M11.5 24v1M3.5 25v1M14.5 25v1M14.5 26v1M7.5 27v1M9.5 27v1M28.5 27v1M2.5 32v1M17.5 32v1M0.5 33v1M6.5 33v1M16.5 33v1M21.5 34v1M9.5 36v1M27.5 36v1M28.5 36v1M3.5 37v1M4.5 37v1M17.5 37v1M21.5 37v1"/>
<path stroke="#efaea7" d="M8.5 3v1M19.5 3v1M1.5 5v1M6.5 5v1M13.5 5v1M21.5 5v1M27.5 5v1M10.5 13v1M17.5 14v1M3.5 15v1M28.5 19v1M9.5 25v1M16.5 25v1M12.5 27v1M15.5 28v1M28.5 28v1M5.5 29v1M23.5 29v1M10.5 30v1M25.5 30v1M19.5 32v1M14.5 33v1M14.5 34v1M23.5 34v1M17.5 35v1M7.5 36v1M11.5 36v1M14.5 36v1M18.5 36v1M6.5 37v1M9.5 37v1M12.5 37v1M13.5 37v1"/>
<path stroke="#f29c8d" d="M9.5 3v1M10.5 3v1M13.5 3v1M26.5 3v1M9.5 4v1M4.5 5v1M7.5 5v1M15.5 5v1M27.5 13v1M9.5 16v1M27.5 16v1M11.5 25v1M28.5 26v1M13.5 28v1M8.5 29v1M8.5 30v1M23.5 30v1M3.5 32v1M5.5 32v1M1.5 33v1M5.5 33v1M25.5 33v1M5.5 34v1M15.5 34v1M24.5 34v1M25.5 34v1M22.5 35v1M0.5 36v1M12.5 36v1M13.5 36v1M26.5 36v1M1.5 37v1M19.5 37v1M20.5 37v1M25.5 37v1"/>
<path stroke="#f0a89e" d="M15.5 3v1M24.5 3v1M21.5 4v1M3.5 7v1M11.5 7v1M28.5 7v1M18.5 9v1M8.5 13v1M12.5 13v1M6.5 14v1M12.5 15v1M13.5 19v1M20.5 26v1M19.5 27v1M1.5 30v1M1.5 32v1M27.5 32v1M2.5 33v1M3.5 33v1M15.5 33v1M22.5 33v1M19.5 34v1M1.5 35v1M5.5 35v1M8.5 36v1M15.5 36v1M21.5 36v1M24.5 36v1M11.5 37v1M14.5 37v1"/>
<path stroke="#f27262" d="M18.5 3v1M9.5 28v1M10.5 28v1M16.5 28v1M9.5 29v1M14.5 30v1M28.5 33v1M7.5 34v1M3.5 35v1M12.5 35v1M19.5 35v1M21.5 35v1M17.5 36v1"/>
<path stroke="#f28070" d="M21.5 3v1M26.5 14v1M21.5 28v1M1.5 29v1M11.5 29v1M13.5 29v1M24.5 29v1M9.5 30v1M12.5 30v1M17.5 30v1M21.5 30v1M9.5 32v1M12.5 32v1M14.5 32v1M8.5 33v1M3.5 34v1M18.5 34v1M6.5 35v1M10.5 35v1M26.5 37v1M28.5 37v1"/>
<path stroke="#f39684" d="M25.5 3v1M28.5 3v1M20.5 12v1M21.5 15v1M4.5 18v1M6.5 28v1M15.5 29v1M20.5 29v1M21.5 29v1M28.5 30v1M8.5 32v1M24.5 32v1M10.5 33v1M18.5 33v1M20.5 33v1M21.5 33v1M24.5 33v1M6.5 34v1M8.5 35v1M27.5 35v1"/>
<path stroke="#fbc1a2" d="M0.5 6v1M16.5 6v1M19.5 6v1M25.5 6v1M4.5 8v1M13.5 8v1M15.5 8v1M19.5 8v1M9.5 11v1M14.5 11v1M18.5 11v1M11.5 22v1M0.5 31v1M19.5 31v1M21.5 31v1M27.5 31v1"/>
<path stroke="#fcceb0" d="M1.5 6v1M18.5 8v1M0.5 11v1M19.5 11v1M2.5 31v1M5.5 31v1M13.5 31v1"/>
<path stroke="#fbba9b" d="M2.5 6v1M21.5 6v1M22.5 6v1M24.5 6v1M20.5 8v1M21.5 8v1M26.5 8v1M28.5 8v1M4.5 11v1M10.5 11v1M16.5 11v1M20.5 11v1M1.5 31v1M9.5 31v1M20.5 31v1M22.5 31v1"/>
<path stroke="#f9987a" d="M3.5 6v1M27.5 6v1M27.5 8v1"/>
<path stroke="#fab494" d="M4.5 6v1M10.5 6v1M11.5 6v1M12.5 6v1M5.5 8v1M10.5 8v1M16.5 8v1M22.5 8v1M7.5 11v1M21.5 11v1"/>
<path stroke="#f99f80" d="M5.5 6v1M8.5 6v1M9.5 8v1M25.5 8v1M3.5 11v1M22.5 11v1M26.5 11v1M26.5 31v1"/>
<path stroke="#fcd5b7" d="M6.5 6v1M3.5 8v1M24.5 8v1M11.5 11v1M23.5 11v1M11.5 31v1"/>
<path stroke="#faad8c" d="M7.5 6v1M18.5 6v1M20.5 6v1M26.5 6v1M0.5 8v1M2.5 8v1M11.5 8v1M6.5 11v1M8.5 11v1M12.5 11v1M15.5 11v1M7.5 31v1M17.5 31v1M25.5 31v1"/>
<path stroke="#fbc8a9" d="M9.5 6v1M13.5 6v1M17.5 6v1M7.5 8v1M1.5 11v1M4.5 31v1M6.5 31v1M10.5 31v1M15.5 31v1M16.5 31v1"/>
<path stroke="#f55444" d="M14.5 6v1"/>
<path stroke="#fbdfc6" d="M15.5 6v1M1.5 8v1M5.5 11v1M17.5 11v1M25.5 11v1M28.5 11v1M27.5 22v1M23.5 31v1"/>
<path stroke="#fcdabe" d="M23.5 6v1M23.5 8v1M2.5 11v1M6.5 22v1M3.5 31v1M14.5 31v1M18.5 31v1"/>
<path stroke="#faa686" d="M28.5 6v1M6.5 8v1M12.5 8v1M17.5 8v1M24.5 11v1M27.5 11v1M8.5 31v1M28.5 31v1"/>
<path stroke="#f89074" d="M14.5 8v1M12.5 31v1M24.5 31v1"/>
<path stroke="#a690c2" d="M2.5 21v1M4.5 21v1M15.5 21v1"/>
<path stroke="#f05046" d="M0.5 28v1"/>
<path stroke="#f15e51" d="M1.5 28v1M12.5 28v1M17.5 28v1M24.5 28v1M4.5 29v1M0.5 30v1M21.5 32v1"/>
<path stroke="#f16457" d="M2.5 28v1M18.5 28v1M26.5 28v1M18.5 29v1M13.5 34v1M7.5 35v1M25.5 35v1"/>
<path stroke="#f27969" d="M3.5 28v1M4.5 28v1M2.5 29v1M7.5 29v1M4.5 30v1M19.5 30v1M6.5 32v1M11.5 32v1M4.5 33v1M11.5 33v1M13.5 33v1M9.5 34v1M12.5 34v1M17.5 34v1M22.5 34v1M15.5 35v1"/>
<path stroke="#f0574c" d="M11.5 28v1M10.5 29v1M26.5 29v1M22.5 30v1M18.5 35v1M28.5 35v1"/>
<path stroke="#f38f7d" d="M14.5 28v1M19.5 28v1M20.5 28v1M3.5 29v1M12.5 29v1M14.5 29v1M22.5 29v1M5.5 30v1M16.5 30v1M18.5 30v1M27.5 30v1M13.5 32v1M17.5 33v1M27.5 33v1M0.5 34v1M20.5 34v1M26.5 34v1M9.5 35v1M13.5 35v1M16.5 35v1M7.5 37v1M16.5 37v1M27.5 37v1"/>
<path stroke="#f26b5c" d="M22.5 28v1M6.5 29v1M16.5 29v1M17.5 29v1M25.5 29v1M7.5 30v1M11.5 30v1M18.5 32v1M26.5 32v1M11.5 34v1M11.5 35v1M20.5 35v1M24.5 35v1"/>
<path stroke="#f04840" d="M27.5 28v1"/>
</g>
<g stroke="#7a7a7a" stroke-width="0.9">
<path d="M296.5 18.7V216.3"/>
<path d="M366.5 18.7V216.3"/>
<path d="M405.4 18.7V216.3"/>
<path d="M444.0 18.7V216.3"/>
<path d="M477.0 18.7V216.3"/>
</g>
<text x="293.60" y="23.05" font-size="6.2" text-anchor="end" font-weight="normal" font-style="normal" fill="#000" >Actn2</text>
<text x="293.60" y="28.25" font-size="6.2" text-anchor="end" font-weight="normal" font-style="normal" fill="#000" >Furin</text>
<text x="293.60" y="33.45" font-size="6.2" text-anchor="end" font-weight="normal" font-style="normal" fill="#000" >Ckb</text>
<text x="293.60" y="38.65" font-size="6.2" text-anchor="end" font-weight="normal" font-style="normal" fill="#000" >Trat1</text>
<text x="293.60" y="43.85" font-size="6.2" text-anchor="end" font-weight="normal" font-style="normal" fill="#000" >Tmem176a</text>
<text x="293.60" y="49.05" font-size="6.2" text-anchor="end" font-weight="normal" font-style="normal" fill="#000" >Tmem176b</text>
<text x="293.60" y="54.25" font-size="6.2" text-anchor="end" font-weight="normal" font-style="normal" fill="#000" >Odc1</text>
<text x="293.60" y="59.45" font-size="6.2" text-anchor="end" font-weight="normal" font-style="normal" fill="#000" >Tesc</text>
<text x="293.60" y="64.65" font-size="6.2" text-anchor="end" font-weight="normal" font-style="normal" fill="#000" >Icos</text>
<text x="293.60" y="69.85" font-size="6.2" text-anchor="end" font-weight="normal" font-style="normal" fill="#000" >Trbv1</text>
<text x="293.60" y="75.05" font-size="6.2" text-anchor="end" font-weight="normal" font-style="normal" fill="#000" >Cd81</text>
<text x="293.60" y="80.25" font-size="6.2" text-anchor="end" font-weight="normal" font-style="normal" fill="#000" >Tnfrsf4</text>
<text x="293.60" y="85.45" font-size="6.2" text-anchor="end" font-weight="normal" font-style="normal" fill="#000" >Dusp14</text>
<text x="293.60" y="90.65" font-size="6.2" text-anchor="end" font-weight="normal" font-style="normal" fill="#000" >Penk</text>
<text x="293.60" y="95.85" font-size="6.2" text-anchor="end" font-weight="normal" font-style="normal" fill="#000" >Ccr8</text>
<text x="293.60" y="101.05" font-size="6.2" text-anchor="end" font-weight="normal" font-style="normal" fill="#000" >Tnfsf11</text>
<text x="293.60" y="106.25" font-size="6.2" text-anchor="end" font-weight="normal" font-style="normal" fill="#000" >Nrgn</text>
<text x="293.60" y="111.45" font-size="6.2" text-anchor="end" font-weight="normal" font-style="normal" fill="#000" >Areg</text>
<text x="293.60" y="116.65" font-size="6.2" text-anchor="end" font-weight="normal" font-style="normal" fill="#000" >Csf2</text>
<text x="293.60" y="121.85" font-size="6.2" text-anchor="end" font-weight="normal" font-style="normal" fill="#000" >Ccl1</text>
<text x="293.60" y="127.05" font-size="6.2" text-anchor="end" font-weight="normal" font-style="normal" fill="#000" >Trbv26</text>
<text x="293.60" y="132.25" font-size="6.2" text-anchor="end" font-weight="normal" font-style="normal" fill="#000" >Ifitm2</text>
<text x="293.60" y="137.45" font-size="6.2" text-anchor="end" font-weight="normal" font-style="normal" fill="#000" >Ifitm3</text>
<text x="293.60" y="142.65" font-size="6.2" text-anchor="end" font-weight="normal" font-style="normal" fill="#000" >Ifitm1</text>
<text x="293.60" y="147.85" font-size="6.2" text-anchor="end" font-weight="normal" font-style="normal" fill="#000" >Socs2</text>
<text x="293.60" y="153.05" font-size="6.2" text-anchor="end" font-weight="normal" font-style="normal" fill="#000" >Atf3</text>
<text x="293.60" y="158.25" font-size="6.2" text-anchor="end" font-weight="normal" font-style="normal" fill="#000" >Gata3</text>
<text x="293.60" y="163.45" font-size="6.2" text-anchor="end" font-weight="normal" font-style="normal" fill="#000" >Hilpda</text>
<text x="293.60" y="168.65" font-size="6.2" text-anchor="end" font-weight="normal" font-style="normal" fill="#000" >S1pr1</text>
<text x="293.60" y="173.85" font-size="6.2" text-anchor="end" font-weight="normal" font-style="normal" fill="#000" >Ass1</text>
<text x="293.60" y="179.05" font-size="6.2" text-anchor="end" font-weight="normal" font-style="normal" fill="#000" >Slamf6</text>
<text x="293.60" y="184.25" font-size="6.2" text-anchor="end" font-weight="normal" font-style="normal" fill="#000" >Tigit</text>
<text x="293.60" y="189.45" font-size="6.2" text-anchor="end" font-weight="normal" font-style="normal" fill="#000" >Izumo1r</text>
<text x="293.60" y="194.65" font-size="6.2" text-anchor="end" font-weight="normal" font-style="normal" fill="#000" >Maf</text>
<text x="293.60" y="199.85" font-size="6.2" text-anchor="end" font-weight="normal" font-style="normal" fill="#000" >Esm1</text>
<text x="293.60" y="205.05" font-size="6.2" text-anchor="end" font-weight="normal" font-style="normal" fill="#000" >Ifi27l2a</text>
<text x="293.60" y="210.25" font-size="6.2" text-anchor="end" font-weight="normal" font-style="normal" fill="#000" >Trbv19</text>
<text x="293.60" y="215.45" font-size="6.2" text-anchor="end" font-weight="normal" font-style="normal" fill="#000" >Trav4-4-dv10</text>
<text transform="translate(267.70,15.30) scale(0.89,1)" font-size="8.3" text-anchor="start" font-weight="normal" font-style="normal" fill="#000" >Cluster:</text>
<text x="331.20" y="15.30" font-size="7.8" text-anchor="middle" font-weight="normal" font-style="normal" fill="#000" >2</text>
<text x="382.70" y="15.30" font-size="7.8" text-anchor="middle" font-weight="normal" font-style="normal" fill="#000" >3</text>
<text x="419.80" y="15.30" font-size="7.8" text-anchor="middle" font-weight="normal" font-style="normal" fill="#000" >4</text>
<text x="457.90" y="15.30" font-size="7.8" text-anchor="middle" font-weight="normal" font-style="normal" fill="#000" >5</text>
<text x="488.00" y="79.10" font-size="7" text-anchor="start" font-weight="normal" font-style="normal" fill="#000" >Expr.</text>
<text x="488.00" y="88.60" font-size="7.2" text-anchor="start" font-weight="normal" font-style="normal" fill="#000" >Z score</text>
<rect x="488" y="90.40" width="10.3" height="2.82" fill="#f91815"/>
<rect x="488" y="92.92" width="10.3" height="2.82" fill="#f7352b"/>
<rect x="488" y="95.44" width="10.3" height="2.82" fill="#f55142"/>
<rect x="488" y="97.96" width="10.3" height="2.82" fill="#f66753"/>
<rect x="488" y="100.48" width="10.3" height="2.82" fill="#f77d64"/>
<rect x="488" y="103.00" width="10.3" height="2.82" fill="#f89275"/>
<rect x="488" y="105.52" width="10.3" height="2.82" fill="#faa786"/>
<rect x="488" y="108.04" width="10.3" height="2.82" fill="#fbba9a"/>
<rect x="488" y="110.56" width="10.3" height="2.82" fill="#fccdae"/>
<rect x="488" y="113.08" width="10.3" height="2.82" fill="#fbdec3"/>
<rect x="488" y="115.60" width="10.3" height="2.82" fill="#faecd8"/>
<rect x="488" y="118.12" width="10.3" height="2.82" fill="#e0d7e2"/>
<rect x="488" y="120.64" width="10.3" height="2.82" fill="#cbc1d9"/>
<rect x="488" y="123.16" width="10.3" height="2.82" fill="#b6a9ce"/>
<rect x="488" y="125.68" width="10.3" height="2.82" fill="#a191c1"/>
<rect x="488" y="128.20" width="10.3" height="2.82" fill="#8a76b4"/>
<rect x="488" y="130.72" width="10.3" height="2.82" fill="#715aa5"/>
<rect x="488" y="133.24" width="10.3" height="2.82" fill="#563d96"/>
<rect x="488" y="135.76" width="10.3" height="2.82" fill="#381f88"/>
<rect x="488" y="138.28" width="10.3" height="2.82" fill="#190a7b"/>
<path d="M488 96.61h2M496.3 96.61h2" stroke="#fff" stroke-width="0.5"/>
<text x="500.80" y="99.11" font-size="7" text-anchor="start" font-weight="normal" font-style="normal" fill="#000" >2</text>
<path d="M488 106.96h2M496.3 106.96h2" stroke="#fff" stroke-width="0.5"/>
<text x="500.80" y="109.46" font-size="7" text-anchor="start" font-weight="normal" font-style="normal" fill="#000" >1</text>
<path d="M488 117.31h2M496.3 117.31h2" stroke="#fff" stroke-width="0.5"/>
<text x="500.80" y="119.81" font-size="7" text-anchor="start" font-weight="normal" font-style="normal" fill="#000" >0</text>
<path d="M488 127.66h2M496.3 127.66h2" stroke="#fff" stroke-width="0.5"/>
<text x="500.80" y="130.16" font-size="7" text-anchor="start" font-weight="normal" font-style="normal" fill="#000" >−1</text>
<path d="M488 138.01h2M496.3 138.01h2" stroke="#fff" stroke-width="0.5"/>
<text x="500.80" y="140.51" font-size="7" text-anchor="start" font-weight="normal" font-style="normal" fill="#000" >−2</text>
<path d="M46.8 255.3 47.3 254.5 48.5 253.6 49.8 252.8 50.7 252.0 51.2 251.1 51.1 250.3 51.1 249.5 51.0 248.6 50.9 247.8 50.8 246.9 50.8 246.1 50.7 245.3 50.6 244.4 50.6 243.6 50.6 242.8 50.6 241.9 50.6 241.1 50.6 240.3 50.7 239.4 50.8 238.6 50.9 237.8 51.0 236.9 51.1 236.1 51.2 235.2 51.2 234.4 51.3 233.6 51.4 232.7 51.4 231.9 51.4 231.1 51.5 230.2 51.5 229.4 51.5 228.6 51.5 227.7 51.5 226.9 51.5 226.1 51.5 225.2 51.5 224.4 51.5 223.6 51.5 222.7 51.5 221.9 51.5 221.0 51.5 220.2 51.5 219.4 51.5 218.5 51.5 217.7 51.5 216.9 51.5 216.0 51.5 215.2 51.5 214.4 51.5 214.4 51.5 215.2 51.5 216.0 51.5 216.9 51.5 217.7 51.5 218.5 51.5 219.4 51.5 220.2 51.5 221.0 51.5 221.9 51.5 222.7 51.5 223.6 51.5 224.4 51.5 225.2 51.5 226.1 51.5 226.9 51.5 227.7 51.5 228.6 51.5 229.4 51.5 230.2 51.6 231.1 51.6 231.9 51.6 232.7 51.7 233.6 51.8 234.4 51.8 235.2 51.9 236.1 52.0 236.9 52.1 237.8 52.2 238.6 52.3 239.4 52.4 240.3 52.4 241.1 52.4 241.9 52.4 242.8 52.4 243.6 52.4 244.4 52.3 245.3 52.2 246.1 52.2 246.9 52.1 247.8 52.0 248.6 51.9 249.5 51.9 250.3 51.8 251.1 52.3 252.0 53.2 252.8 54.5 253.6 55.7 254.5 56.2 255.3Z" fill="#86cf92" stroke="#5cbf6a" stroke-width="0.45"/>
<path d="M46.80 255.30H56.20" stroke="#5cbf6a" stroke-width="0.8"/>
<path d="M50.5 245.8h0M55.7 242.6h0M49.9 242.3h0M47.6 239.9h0M51.6 244.3h0M48.0 251.9h0M48.5 240.8h0M48.4 235.2h0M55.5 248.8h0M50.1 251.2h0M50.0 241.0h0M54.7 248.2h0M47.6 242.0h0M52.9 241.2h0M50.5 246.0h0M55.6 247.8h0M50.1 242.3h0M48.1 245.9h0M51.3 241.1h0M50.7 241.5h0M52.2 238.3h0M49.5 240.3h0M49.9 240.1h0M55.6 251.9h0M55.5 246.0h0M54.5 232.6h0M54.5 240.7h0M50.9 246.0h0M55.4 244.3h0M48.1 234.6h0M51.2 240.1h0M51.1 241.7h0M48.0 244.0h0M54.6 243.4h0M50.7 234.1h0M50.3 248.6h0M49.1 241.3h0M53.0 251.7h0M51.4 236.8h0M55.5 240.6h0M52.7 239.8h0M54.9 247.7h0M50.8 247.1h0M50.8 240.5h0M47.5 242.7h0M47.7 241.6h0M48.8 244.4h0M50.7 244.5h0M52.4 245.6h0M53.1 248.5h0M49.1 245.4h0M53.6 251.7h0M52.5 239.7h0M50.8 242.5h0M49.9 239.5h0M47.8 242.9h0M49.4 252.6h0M49.3 239.4h0M49.6 237.6h0M49.2 247.9h0M48.1 248.8h0M49.1 236.6h0M48.9 246.0h0M50.9 242.9h0M51.5 248.1h0M47.4 241.8h0M48.0 244.9h0M48.1 236.5h0M53.5 241.3h0M49.1 254.0h0M47.9 248.7h0M53.1 241.6h0M48.1 241.9h0M49.7 249.4h0M52.3 243.3h0M53.6 238.4h0M55.5 240.6h0M47.4 248.3h0M54.9 240.8h0M51.8 238.1h0M48.8 245.5h0M53.8 249.0h0M55.0 237.8h0M52.3 239.0h0M49.4 244.2h0M52.7 245.7h0M50.2 238.8h0M48.3 241.4h0M55.6 238.5h0M53.4 243.0h0M50.9 247.5h0M51.9 244.4h0M54.1 238.9h0M55.1 242.8h0M50.1 245.4h0M53.2 245.1h0M47.8 237.1h0M54.8 239.6h0M51.3 241.1h0M47.8 245.0h0M50.6 251.5h0M51.7 240.7h0M52.0 252.8h0M49.1 237.7h0M51.0 236.1h0M50.9 239.0h0M48.1 245.2h0M53.1 240.8h0M53.3 245.8h0M47.7 246.7h0M54.9 244.0h0M48.6 241.0h0M54.8 229.8h0M51.1 241.5h0M50.4 240.4h0M55.5 247.8h0M50.7 241.3h0M55.5 238.8h0M52.6 238.6h0M52.2 241.0h0M55.4 245.9h0M53.5 234.7h0M53.0 240.5h0M54.9 234.6h0M50.4 239.8h0M48.5 236.9h0M47.5 249.7h0M55.4 246.4h0M55.1 240.8h0M48.4 238.9h0M54.6 246.2h0M48.9 250.4h0M53.2 236.0h0M53.8 246.7h0M54.2 237.8h0M50.7 233.4h0M52.6 244.5h0M54.2 247.5h0M51.8 243.3h0M54.3 237.6h0M54.1 249.1h0M51.0 241.2h0M48.1 248.0h0M48.7 249.1h0M48.1 248.2h0M55.5 244.2h0M48.8 248.8h0M54.4 242.4h0M51.8 248.1h0M49.6 247.8h0M53.8 250.0h0M51.2 240.6h0M53.0 246.4h0M54.0 242.7h0M54.3 239.5h0M53.5 242.3h0M48.1 243.8h0M51.6 245.2h0M49.2 248.3h0M49.0 240.2h0M52.2 243.1h0M47.6 251.6h0M52.8 246.2h0M55.7 237.4h0M53.1 241.0h0M51.3 241.4h0M52.6 238.4h0M52.4 250.9h0M51.7 244.7h0M55.2 244.8h0M48.4 243.2h0M50.6 239.2h0M55.0 244.4h0M53.4 249.0h0M50.5 245.0h0M51.1 245.4h0M54.8 232.6h0M49.8 237.9h0M48.9 237.3h0M50.2 235.2h0M51.7 241.6h0M52.5 238.0h0M48.1 239.3h0M52.2 240.7h0M55.2 247.4h0M48.3 234.0h0M53.2 241.9h0M55.4 243.0h0M50.8 238.8h0M53.6 240.5h0M48.1 237.0h0M49.8 245.2h0M55.0 252.6h0M52.5 249.3h0M50.4 242.9h0M48.7 240.5h0M47.9 234.4h0M47.8 245.3h0M49.5 242.2h0M49.6 246.8h0M51.6 240.2h0M47.7 237.2h0M48.7 237.7h0M47.9 245.6h0M49.9 247.3h0M55.4 247.1h0M54.4 241.5h0M55.1 250.2h0M52.0 235.9h0M49.5 238.3h0M50.3 238.3h0M50.4 244.8h0M51.0 240.7h0M50.8 234.8h0M53.3 241.6h0M48.2 238.3h0M53.6 240.5h0M51.3 234.4h0M55.4 243.8h0M48.8 254.2h0M53.3 240.3h0M47.4 244.5h0M55.6 249.1h0M52.1 245.1h0M54.6 246.4h0M50.5 241.1h0M54.0 240.2h0M52.9 247.2h0M55.4 247.1h0M54.9 237.7h0M55.8 247.6h0M51.5 239.1h0M49.6 244.0h0M47.3 247.2h0M48.3 241.4h0M55.3 244.0h0M53.7 254.9h0M47.3 242.9h0M54.8 249.0h0M52.4 247.5h0M52.8 254.9h0M51.0 236.8h0M52.5 242.2h0M48.8 246.5h0M49.9 240.3h0M48.0 242.4h0M54.5 244.2h0M51.5 246.6h0M49.8 243.7h0M50.5 241.3h0M55.7 239.0h0M49.6 244.4h0M55.8 242.7h0M52.4 240.1h0M55.1 238.8h0M48.6 240.6h0M53.3 244.7h0M52.9 241.6h0M52.7 242.8h0M52.6 237.3h0M53.9 246.6h0M52.4 240.1h0M52.5 241.6h0M51.3 243.4h0M55.4 241.4h0M55.7 245.1h0M53.1 248.5h0M53.9 235.0h0M52.3 237.2h0M49.5 243.2h0M51.0 235.6h0M48.5 238.3h0M49.7 246.2h0M48.3 240.1h0M53.4 242.6h0M50.9 244.9h0M49.7 244.0h0M54.7 241.4h0M52.1 239.9h0M50.3 241.4h0" stroke="#34a846" stroke-width="1.2" stroke-linecap="round" fill="none" opacity="0.65"/>
<path d="M57.4 255.3 57.5 254.5 57.7 253.8 58.0 253.0 58.4 252.2 58.8 251.5 59.3 250.7 59.8 250.0 60.3 249.2 60.7 248.4 61.0 247.7 61.3 246.9 61.5 246.1 61.7 245.4 61.6 244.6 61.5 243.9 61.5 243.1 61.4 242.3 61.3 241.6 61.3 240.8 61.2 240.0 61.2 239.3 61.2 238.5 61.2 237.8 61.2 237.0 61.2 236.2 61.2 235.5 61.2 234.7 61.3 233.9 61.3 233.2 61.4 232.4 61.5 231.7 61.5 230.9 61.6 230.1 61.7 229.4 61.7 228.6 61.8 227.8 61.8 227.1 61.9 226.3 61.9 225.5 62.0 224.8 62.0 224.0 62.0 223.3 62.0 222.5 62.0 221.7 62.0 221.0 62.0 220.2 62.0 219.4 62.1 218.7 62.1 217.9 62.1 217.9 62.1 218.7 62.2 219.4 62.2 220.2 62.2 221.0 62.2 221.7 62.2 222.5 62.2 223.3 62.2 224.0 62.2 224.8 62.3 225.5 62.3 226.3 62.4 227.1 62.4 227.8 62.5 228.6 62.5 229.4 62.6 230.1 62.7 230.9 62.7 231.7 62.8 232.4 62.9 233.2 62.9 233.9 63.0 234.7 63.0 235.5 63.0 236.2 63.0 237.0 63.0 237.8 63.0 238.5 63.0 239.3 63.0 240.0 62.9 240.8 62.9 241.6 62.8 242.3 62.7 243.1 62.7 243.9 62.6 244.6 62.5 245.4 62.7 246.1 62.9 246.9 63.2 247.7 63.5 248.4 63.9 249.2 64.4 250.0 64.9 250.7 65.4 251.5 65.8 252.2 66.2 253.0 66.5 253.8 66.7 254.5 66.8 255.3Z" fill="#ababab" stroke="#959595" stroke-width="0.45"/>
<path d="M57.40 255.30H66.80" stroke="#959595" stroke-width="0.8"/>
<path d="M59.4 239.3h0M64.8 232.0h0M57.8 220.6h0M64.8 227.0h0M64.5 234.5h0M59.1 246.1h0M64.6 252.2h0M63.0 239.6h0M64.0 232.8h0M60.4 239.0h0M62.5 234.1h0M65.9 232.9h0M65.7 230.5h0M59.5 228.0h0M65.5 233.9h0M61.3 238.6h0M64.7 237.9h0M60.5 241.3h0M57.9 218.4h0M65.5 230.3h0M61.0 231.4h0M64.3 244.7h0M65.2 244.0h0M66.4 234.8h0M62.0 232.2h0M66.3 232.0h0M63.2 226.9h0M58.5 232.5h0M66.2 237.5h0M65.3 236.9h0M64.8 231.2h0M64.0 228.6h0M64.3 227.6h0M60.2 232.0h0M61.4 222.7h0M63.5 239.2h0M64.9 233.8h0M59.0 240.9h0M63.4 237.7h0M59.6 225.0h0M66.1 243.8h0M65.4 236.9h0M64.6 237.4h0M66.1 235.1h0M58.8 232.3h0M63.9 241.3h0M59.6 239.7h0M58.7 240.5h0M63.4 243.0h0M66.3 237.2h0M61.6 240.3h0M65.9 239.7h0M64.7 243.0h0M65.8 245.1h0M62.4 244.1h0M58.4 244.1h0M63.0 242.7h0M59.7 245.5h0M58.4 243.7h0M59.9 226.1h0M65.7 244.4h0M64.4 233.1h0M64.5 218.8h0M64.7 228.8h0M59.9 232.8h0M58.6 238.4h0M63.6 223.2h0M62.9 237.0h0M64.6 235.8h0M61.8 247.0h0M58.5 235.0h0M64.5 233.4h0M59.1 247.4h0M59.9 235.0h0M63.7 233.7h0M66.3 234.5h0M63.4 244.5h0M62.8 239.2h0M62.7 228.5h0M60.6 232.4h0M63.8 244.8h0M59.9 234.9h0M62.5 248.1h0M60.2 233.1h0M59.2 228.7h0M61.5 222.4h0M61.0 239.7h0M62.0 237.0h0M62.8 237.5h0M60.4 242.2h0M59.4 242.4h0M62.4 233.5h0M60.5 240.5h0M59.4 237.4h0M59.3 240.1h0M65.7 240.5h0M63.6 243.2h0M64.2 239.6h0M63.9 230.7h0M58.5 228.3h0M65.6 224.4h0M59.8 246.9h0M65.2 244.6h0M58.9 231.6h0M64.1 233.1h0M61.6 241.1h0M65.0 232.7h0M64.4 236.4h0M61.4 246.2h0M59.7 233.8h0M59.4 235.3h0M65.7 236.5h0M63.1 234.9h0M61.5 247.2h0M63.4 231.3h0M59.7 236.5h0M60.8 228.5h0M58.2 235.1h0M66.1 234.8h0M66.1 241.4h0M62.0 244.4h0M63.8 234.6h0M64.3 242.7h0M63.0 234.4h0M64.8 237.7h0M59.2 250.1h0M58.7 234.4h0M58.2 231.3h0M62.5 242.1h0M61.0 243.1h0M65.8 235.5h0M62.8 240.1h0M65.1 237.4h0M66.0 244.8h0M65.2 240.5h0M61.7 239.4h0M62.9 239.7h0M58.1 228.8h0M59.7 241.9h0M65.9 247.2h0M60.5 244.4h0M60.6 242.7h0M65.8 234.3h0M58.4 228.5h0M59.1 236.8h0M66.2 230.4h0M57.9 242.0h0M60.7 231.6h0M64.6 237.5h0M64.9 237.5h0M63.9 240.3h0M61.8 238.2h0M60.1 230.7h0M61.3 239.5h0M65.3 234.4h0M63.6 238.6h0M62.2 239.7h0M64.7 237.1h0M60.9 249.8h0M62.6 235.6h0M60.4 235.1h0M58.6 245.0h0M61.8 238.4h0M59.4 236.3h0M64.3 244.0h0M60.7 236.9h0M59.2 232.4h0M60.5 232.5h0M60.1 236.5h0M63.9 226.8h0M62.6 231.2h0M59.4 240.8h0M62.3 236.4h0M64.3 227.1h0M59.1 233.4h0M62.0 237.9h0M62.0 231.6h0M58.9 236.0h0M63.1 240.8h0M65.4 240.7h0M60.6 239.2h0M58.2 249.0h0M65.7 239.4h0M63.2 242.6h0M61.8 239.3h0M64.7 239.5h0M62.7 234.8h0M58.1 237.7h0M63.8 238.8h0M59.1 236.6h0M60.3 235.4h0M63.0 240.7h0M64.4 240.5h0M64.0 237.7h0M58.3 235.3h0M58.5 234.7h0M63.0 247.3h0M66.4 241.5h0M59.1 239.8h0M58.6 247.3h0M64.1 237.7h0M60.0 232.1h0M66.3 243.1h0M61.3 241.3h0M58.5 230.7h0M59.3 240.6h0M64.1 239.3h0M60.2 236.8h0M59.5 238.1h0M64.4 234.2h0M58.8 235.2h0M62.1 245.0h0M66.0 233.1h0M61.7 236.1h0M61.0 228.5h0M60.6 233.6h0M63.7 240.6h0M60.2 230.3h0M65.8 239.0h0M63.8 240.1h0M65.4 237.4h0M63.2 237.6h0M64.8 240.0h0M64.9 236.9h0M61.8 241.6h0M59.8 241.8h0M66.2 226.2h0M62.9 245.9h0M65.6 230.3h0M61.6 235.8h0M65.3 245.1h0M63.0 241.8h0M66.2 248.8h0M63.3 241.9h0M59.5 230.2h0M59.3 253.7h0M59.5 233.8h0M58.3 237.4h0M66.0 244.9h0M62.7 241.0h0" stroke="#4a4a4a" stroke-width="1.2" stroke-linecap="round" fill="none" opacity="0.65"/>
<path d="M68.0 255.3 72.4 254.5 72.7 253.7 72.7 252.8 72.7 252.0 72.6 251.2 72.6 250.4 72.6 249.6 72.5 248.8 72.5 247.9 72.5 247.1 72.4 246.3 72.4 245.5 72.3 244.7 72.3 243.9 72.2 243.0 72.2 242.2 72.2 241.4 72.1 240.6 72.1 239.8 72.1 239.0 72.2 238.1 72.2 237.3 72.3 236.5 72.3 235.7 72.4 234.9 72.4 234.0 72.5 233.2 72.5 232.4 72.6 231.6 72.6 230.8 72.6 230.0 72.7 229.1 72.7 228.3 72.7 227.5 72.7 226.7 72.7 225.9 72.7 225.1 72.7 224.2 72.7 223.4 72.7 222.6 72.7 221.8 72.7 221.0 72.7 220.2 72.7 219.3 72.7 218.5 72.7 217.7 72.7 216.9 72.7 216.1 72.7 215.2 72.7 215.2 72.7 216.1 72.7 216.9 72.7 217.7 72.7 218.5 72.7 219.3 72.7 220.2 72.7 221.0 72.7 221.8 72.7 222.6 72.7 223.4 72.7 224.2 72.7 225.1 72.7 225.9 72.7 226.7 72.7 227.5 72.7 228.3 72.7 229.1 72.8 230.0 72.8 230.8 72.8 231.6 72.9 232.4 72.9 233.2 73.0 234.0 73.0 234.9 73.1 235.7 73.1 236.5 73.2 237.3 73.2 238.1 73.3 239.0 73.3 239.8 73.3 240.6 73.2 241.4 73.2 242.2 73.2 243.0 73.1 243.9 73.1 244.7 73.0 245.5 73.0 246.3 72.9 247.1 72.9 247.9 72.9 248.8 72.8 249.6 72.8 250.4 72.8 251.2 72.7 252.0 72.7 252.8 72.7 253.7 73.0 254.5 77.4 255.3Z" fill="#8aaed5" stroke="#4a86c0" stroke-width="0.45"/>
<path d="M68.00 255.30H77.40" stroke="#4a86c0" stroke-width="0.8"/>
<path d="M72.1 246.3h0M71.9 234.5h0M71.3 238.5h0M76.6 241.7h0M74.3 238.1h0M73.6 233.4h0M75.6 237.3h0M71.6 236.2h0M72.2 237.5h0M72.7 241.6h0M73.8 244.3h0M74.6 232.9h0M74.8 251.4h0M76.6 243.9h0M76.5 239.8h0M71.2 244.0h0M73.6 241.5h0M76.1 241.1h0M72.3 240.1h0M71.9 238.3h0M69.6 234.9h0M72.6 232.2h0M73.2 238.5h0M70.4 240.1h0M69.5 239.7h0M74.2 243.4h0M71.7 243.0h0M73.1 240.6h0M72.0 237.8h0M72.6 236.3h0M69.3 243.6h0M76.1 238.8h0M74.7 239.5h0M69.1 232.3h0M76.5 236.3h0M73.1 236.1h0M74.9 245.9h0M75.3 245.6h0M70.0 241.0h0M70.0 238.3h0M71.9 247.3h0M70.1 239.2h0M71.2 239.0h0M68.9 238.6h0M72.5 234.2h0M73.4 247.3h0M73.2 245.6h0M73.1 238.7h0M74.7 243.0h0M75.5 238.9h0M75.8 237.7h0M75.9 248.9h0M75.2 232.9h0M74.7 233.7h0M70.5 247.6h0M72.3 243.4h0M71.0 237.0h0M71.5 242.8h0M73.5 238.9h0M72.6 244.9h0M72.0 235.3h0M70.2 246.7h0M70.2 241.7h0M69.6 240.0h0M69.6 247.2h0M68.8 239.9h0M69.3 240.0h0M68.4 238.0h0M72.4 247.6h0M73.0 235.1h0M69.3 244.7h0M76.3 244.5h0M69.7 243.3h0M76.1 238.2h0M76.8 242.3h0M75.7 242.1h0M71.5 238.8h0M75.1 242.1h0M72.9 243.6h0M76.1 244.1h0M76.8 242.5h0M72.4 240.3h0M71.9 235.8h0M69.6 240.7h0M75.0 236.4h0M70.3 237.6h0M70.2 234.5h0M74.6 239.9h0M74.3 242.6h0M76.4 250.3h0M75.5 241.9h0M74.0 239.0h0M75.7 238.2h0M70.1 247.9h0M73.7 244.4h0" stroke="#1c5d99" stroke-width="1.2" stroke-linecap="round" fill="none" opacity="0.65"/>
<path d="M78.6 255.3 83.0 254.5 83.3 253.6 83.3 252.8 83.2 252.0 83.2 251.1 83.2 250.3 83.1 249.5 83.1 248.6 83.0 247.8 82.9 246.9 82.8 246.1 82.8 245.3 82.8 244.4 82.7 243.6 82.7 242.8 82.8 241.9 82.8 241.1 82.8 240.3 82.9 239.4 82.9 238.6 83.0 237.8 83.0 236.9 83.1 236.1 83.1 235.2 83.2 234.4 83.2 233.6 83.2 232.7 83.3 231.9 83.3 231.1 83.3 230.2 83.3 229.4 83.3 228.6 83.3 227.7 83.3 226.9 83.3 226.1 83.3 225.2 83.3 224.4 83.3 223.6 83.3 222.7 83.3 221.9 83.3 221.0 83.3 220.2 83.3 219.4 83.3 218.5 83.3 217.7 83.3 216.9 83.3 216.0 83.3 215.2 83.3 214.4 83.3 214.4 83.3 215.2 83.3 216.0 83.3 216.9 83.3 217.7 83.3 218.5 83.3 219.4 83.3 220.2 83.3 221.0 83.3 221.9 83.3 222.7 83.3 223.6 83.3 224.4 83.3 225.2 83.3 226.1 83.3 226.9 83.3 227.7 83.3 228.6 83.3 229.4 83.3 230.2 83.3 231.1 83.3 231.9 83.4 232.7 83.4 233.6 83.4 234.4 83.5 235.2 83.5 236.1 83.6 236.9 83.6 237.8 83.7 238.6 83.7 239.4 83.8 240.3 83.8 241.1 83.8 241.9 83.9 242.8 83.9 243.6 83.8 244.4 83.8 245.3 83.8 246.1 83.7 246.9 83.6 247.8 83.5 248.6 83.5 249.5 83.4 250.3 83.4 251.1 83.4 252.0 83.3 252.8 83.3 253.6 83.6 254.5 88.0 255.3Z" fill="#ee9cb0" stroke="#e06a85" stroke-width="0.45"/>
<path d="M78.60 255.30H88.00" stroke="#e06a85" stroke-width="0.8"/>
<path d="M85.5 237.7h0M86.9 244.3h0M83.4 247.6h0M82.6 241.5h0M80.2 246.3h0M83.5 246.0h0M83.9 242.8h0M81.7 239.5h0M87.0 239.7h0M81.9 242.5h0M81.9 245.6h0M80.4 244.9h0M85.5 245.2h0M85.0 242.5h0M81.9 244.9h0M84.0 246.8h0M82.1 241.2h0M81.8 245.7h0M81.0 248.3h0M81.9 238.9h0M79.2 239.6h0M82.5 248.9h0M85.0 244.0h0M87.4 246.4h0M84.1 239.2h0M80.6 244.2h0M85.8 241.6h0M79.8 248.0h0M81.8 242.0h0M81.8 234.0h0M86.0 237.9h0M86.0 238.8h0M79.7 237.9h0M84.3 244.1h0M84.3 241.2h0M85.3 242.2h0M84.7 244.6h0M82.4 243.2h0M86.2 237.6h0M83.9 239.4h0M83.2 243.6h0M82.8 239.7h0M85.0 235.2h0M83.5 245.4h0M82.3 243.9h0M83.5 245.2h0M79.6 236.8h0M86.9 245.1h0M86.0 244.1h0M81.5 248.0h0M82.3 244.1h0M85.3 241.7h0M82.4 245.7h0M86.4 246.0h0M86.8 245.9h0M85.1 238.2h0M80.0 237.6h0M84.1 231.6h0M83.3 248.2h0M84.6 240.4h0M83.1 248.7h0M82.4 244.7h0M82.7 245.4h0M83.9 244.5h0M84.8 249.4h0M85.6 236.8h0M86.2 241.3h0M82.7 243.3h0M83.0 243.9h0M81.8 245.1h0M82.9 237.7h0M80.4 241.9h0M82.1 245.0h0M87.2 238.3h0M84.6 238.9h0M85.9 238.6h0M79.2 244.1h0M82.5 242.1h0M87.2 243.4h0M83.8 236.5h0M83.3 237.5h0M86.4 236.4h0M83.0 241.2h0M79.9 241.5h0M87.0 240.3h0M80.0 248.3h0M81.5 239.5h0M84.8 243.9h0M81.9 241.5h0M86.5 245.0h0M85.1 241.8h0M79.6 237.4h0M87.6 241.3h0M81.8 247.9h0M83.2 244.5h0M86.4 242.1h0M85.7 241.2h0M84.6 243.7h0M81.4 244.7h0M81.2 240.4h0" stroke="#cf2750" stroke-width="1.2" stroke-linecap="round" fill="none" opacity="0.65"/>
<path d="M45.6 209.4V257.4H89.8" stroke="#000" stroke-width="1.4" fill="none"/>
<path d="M42.50 255.30H45.6M42.50 246.40H45.6M42.50 237.50H45.6M42.50 228.60H45.6M42.50 219.70H45.6M51.50 257.4V260.60M62.10 257.4V260.60M72.70 257.4V260.60M83.30 257.4V260.60" stroke="#000" stroke-width="1" fill="none"/>
<text x="40.30" y="257.70" font-size="6.7" text-anchor="end" font-weight="normal" font-style="normal" fill="#000" >0</text>
<text x="40.30" y="248.80" font-size="6.7" text-anchor="end" font-weight="normal" font-style="normal" fill="#000" >1</text>
<text x="40.30" y="239.90" font-size="6.7" text-anchor="end" font-weight="normal" font-style="normal" fill="#000" >2</text>
<text x="40.30" y="231.00" font-size="6.7" text-anchor="end" font-weight="normal" font-style="normal" fill="#000" >3</text>
<text x="40.30" y="222.10" font-size="6.7" text-anchor="end" font-weight="normal" font-style="normal" fill="#000" >4</text>
<text x="51.50" y="268.55" font-size="7.1" text-anchor="middle" font-weight="normal" font-style="normal" fill="#000" >2</text>
<text x="62.10" y="268.55" font-size="7.1" text-anchor="middle" font-weight="normal" font-style="normal" fill="#000" >3</text>
<text x="72.70" y="268.55" font-size="7.1" text-anchor="middle" font-weight="normal" font-style="normal" fill="#000" >4</text>
<text x="83.30" y="268.55" font-size="7.1" text-anchor="middle" font-weight="normal" font-style="normal" fill="#000" >5</text>
<text transform="translate(67.40,276.80) scale(0.73,1)" font-size="8.6" text-anchor="middle" font-weight="normal" font-style="normal" fill="#000" style="stroke-width:0.3px">Cluster</text>
<text x="67.40" y="207.81" font-size="9.3" text-anchor="middle" font-weight="normal" font-style="italic" fill="#000" style="stroke:none">Ifng</text>
<text transform="translate(27.52,234.30) rotate(-90)" font-size="7.4" text-anchor="middle" textLength="45.2" lengthAdjust="spacingAndGlyphs" style="stroke-width:0.2px">Log. norm. expr.</text>
<path d="M124.7 255.2 128.3 254.6 129.4 254.1 129.4 253.5 129.4 252.9 129.3 252.4 129.3 251.8 129.3 251.2 129.3 250.7 129.3 250.1 129.3 249.5 129.3 249.0 129.2 248.4 129.2 247.8 129.2 247.3 129.2 246.7 129.2 246.1 129.2 245.6 129.2 245.0 129.2 244.5 129.3 243.9 129.3 243.3 129.3 242.8 129.3 242.2 129.3 241.6 129.3 241.1 129.3 240.5 129.4 239.9 129.4 239.4 129.4 238.8 129.4 238.2 129.4 237.7 129.4 237.1 129.4 236.5 129.4 236.0 129.4 235.4 129.4 234.8 129.4 234.3 129.4 233.7 129.4 233.1 129.4 232.6 129.4 232.0 129.4 231.4 129.4 230.9 129.4 230.3 129.4 229.7 129.4 229.2 129.4 228.6 129.4 228.0 129.4 227.5 129.4 227.5 129.4 228.0 129.4 228.6 129.4 229.2 129.4 229.7 129.4 230.3 129.4 230.9 129.4 231.4 129.4 232.0 129.4 232.6 129.4 233.1 129.4 233.7 129.4 234.3 129.4 234.8 129.4 235.4 129.4 236.0 129.4 236.5 129.4 237.1 129.4 237.7 129.4 238.2 129.4 238.8 129.4 239.4 129.4 239.9 129.5 240.5 129.5 241.1 129.5 241.6 129.5 242.2 129.5 242.8 129.5 243.3 129.5 243.9 129.6 244.5 129.6 245.0 129.6 245.6 129.6 246.1 129.6 246.7 129.6 247.3 129.6 247.8 129.6 248.4 129.5 249.0 129.5 249.5 129.5 250.1 129.5 250.7 129.5 251.2 129.5 251.8 129.5 252.4 129.4 252.9 129.4 253.5 129.4 254.1 130.5 254.6 134.1 255.2Z" fill="#86cf92" stroke="#5cbf6a" stroke-width="0.45"/>
<path d="M124.70 255.20H134.10" stroke="#5cbf6a" stroke-width="0.8"/>
<path d="M132.4 249.4h0M129.2 246.6h0M128.3 247.4h0M127.1 249.0h0M128.2 251.1h0M128.0 234.3h0M126.8 245.4h0M125.7 233.1h0M127.2 246.7h0M132.7 245.5h0M132.5 247.3h0M129.0 247.7h0M130.9 248.3h0M125.6 243.7h0M131.1 244.4h0M125.2 245.6h0M127.3 254.8h0M127.8 229.7h0M128.5 245.1h0M125.9 243.8h0M131.6 239.3h0M127.7 241.7h0" stroke="#34a846" stroke-width="1.2" stroke-linecap="round" fill="none" opacity="0.65"/>
<path d="M135.3 255.2 135.6 254.4 136.2 253.5 137.1 252.7 138.1 251.8 138.8 251.0 139.4 250.2 139.7 249.3 139.7 248.5 139.7 247.6 139.6 246.8 139.5 246.0 139.5 245.1 139.4 244.3 139.4 243.4 139.4 242.6 139.3 241.8 139.3 240.9 139.3 240.1 139.3 239.2 139.3 238.4 139.3 237.6 139.3 236.7 139.4 235.9 139.4 235.0 139.4 234.2 139.4 233.4 139.4 232.5 139.4 231.7 139.4 230.8 139.4 230.0 139.4 229.2 139.5 228.3 139.5 227.5 139.6 226.6 139.6 225.8 139.6 225.0 139.7 224.1 139.7 223.3 139.8 222.4 139.8 221.6 139.8 220.8 139.9 219.9 139.9 219.1 139.9 218.2 139.9 217.4 139.9 216.6 139.9 215.7 139.9 214.9 139.9 214.0 140.1 214.0 140.1 214.9 140.1 215.7 140.1 216.6 140.1 217.4 140.1 218.2 140.1 219.1 140.1 219.9 140.2 220.8 140.2 221.6 140.2 222.4 140.3 223.3 140.3 224.1 140.4 225.0 140.4 225.8 140.4 226.6 140.5 227.5 140.5 228.3 140.6 229.2 140.6 230.0 140.6 230.8 140.6 231.7 140.6 232.5 140.6 233.4 140.6 234.2 140.6 235.0 140.6 235.9 140.7 236.7 140.7 237.6 140.7 238.4 140.7 239.2 140.7 240.1 140.7 240.9 140.7 241.8 140.6 242.6 140.6 243.4 140.6 244.3 140.5 245.1 140.5 246.0 140.4 246.8 140.3 247.6 140.3 248.5 140.3 249.3 140.6 250.2 141.2 251.0 141.9 251.8 142.9 252.7 143.8 253.5 144.4 254.4 144.7 255.2Z" fill="#ababab" stroke="#959595" stroke-width="0.45"/>
<path d="M135.30 255.20H144.70" stroke="#959595" stroke-width="0.8"/>
<path d="M142.6 240.4h0M137.1 239.3h0M135.9 237.3h0M141.5 239.6h0M140.0 245.8h0M139.4 232.3h0M137.4 232.8h0M144.0 230.5h0M139.4 237.0h0M142.8 241.0h0M142.2 231.6h0M140.4 233.2h0M142.7 237.3h0M138.9 225.1h0M135.8 227.6h0M137.9 248.1h0M143.8 237.1h0M140.6 238.2h0M142.1 223.5h0M143.9 244.0h0M137.8 238.3h0M136.0 234.8h0M141.0 218.4h0M140.9 248.0h0M143.2 246.1h0M140.6 245.3h0M137.3 249.9h0M142.7 247.7h0M139.0 241.7h0M136.9 242.6h0M138.5 236.7h0M137.7 240.9h0M142.2 248.9h0M142.0 231.3h0M139.1 230.3h0M139.5 244.6h0M137.4 223.7h0M139.3 243.2h0M136.8 232.9h0M143.5 245.1h0M137.5 241.2h0M140.2 232.0h0M143.8 234.4h0M138.4 226.4h0M143.0 232.2h0M140.7 239.6h0M136.8 222.5h0M139.9 241.7h0M139.7 242.7h0M141.2 231.4h0M143.1 237.1h0M137.6 240.2h0M141.3 235.0h0M144.2 246.4h0M143.1 228.8h0M140.6 238.5h0M139.3 238.7h0M141.5 231.1h0M139.9 250.1h0M142.1 230.0h0M137.3 234.1h0M143.4 231.8h0M139.4 226.0h0M136.6 237.7h0M139.2 233.5h0M137.5 222.6h0M143.4 231.4h0M137.4 239.2h0M140.6 245.5h0M137.8 237.4h0M137.2 227.1h0M139.4 233.5h0M142.9 229.4h0M140.9 228.2h0M141.0 237.7h0M144.1 252.3h0M136.3 245.9h0M141.5 224.5h0M136.6 243.1h0M138.6 228.6h0M140.6 229.9h0M142.3 240.2h0M141.8 247.0h0M135.8 224.4h0M140.0 236.2h0M141.6 225.0h0M139.2 237.3h0M138.6 244.7h0M141.0 236.6h0M141.1 234.6h0M143.9 235.5h0M138.4 225.5h0M136.1 232.5h0M143.4 240.0h0M139.4 242.5h0M136.3 243.8h0M139.2 225.0h0M138.1 235.6h0M142.6 225.6h0M142.2 230.6h0M136.8 227.9h0M137.2 228.0h0M141.3 242.0h0M136.8 244.6h0M142.5 241.7h0M139.0 242.9h0M142.1 237.4h0M136.6 241.8h0M140.3 238.4h0M142.8 220.2h0M142.7 238.9h0M143.7 230.0h0M138.9 245.5h0M138.2 245.1h0M144.0 215.0h0M140.7 225.1h0M143.1 232.4h0M139.1 239.4h0M138.3 243.8h0M136.6 239.6h0M140.2 217.6h0M137.8 241.9h0M143.5 243.7h0M144.0 239.0h0M141.9 236.4h0M142.7 236.0h0M140.7 238.2h0M137.2 241.8h0M137.3 238.9h0M140.9 214.0h0M142.3 228.9h0M142.1 248.7h0M139.0 222.5h0M141.9 223.8h0M142.9 229.2h0M139.1 232.0h0M143.7 218.0h0M137.4 247.8h0M143.1 236.0h0M136.7 242.2h0M143.4 223.4h0M136.0 243.1h0M135.7 228.4h0M144.2 247.1h0M137.8 223.4h0M141.0 238.1h0M137.9 243.7h0M139.8 243.8h0M137.0 240.5h0M140.3 237.5h0M139.7 234.5h0M138.5 245.3h0M142.1 222.2h0M141.1 231.4h0M136.9 241.4h0M138.0 228.4h0M143.6 225.0h0M136.1 231.6h0M140.5 247.4h0M142.7 235.3h0M143.0 238.2h0M136.6 247.6h0M139.8 234.6h0M139.4 243.3h0M138.4 241.2h0M139.8 231.5h0M137.8 251.7h0M137.0 230.0h0M137.7 244.3h0M143.8 224.3h0M142.2 239.6h0M139.9 246.6h0M142.7 214.0h0M136.0 214.0h0M142.4 254.1h0M141.1 230.3h0M139.5 254.8h0M142.7 232.4h0M140.1 239.5h0M143.6 235.4h0M144.2 236.6h0M144.2 239.8h0M143.5 246.0h0M136.8 233.7h0M138.4 229.8h0M136.0 238.7h0M137.3 223.8h0M139.2 241.9h0M137.9 228.7h0M140.3 225.1h0M135.9 245.9h0M144.2 230.8h0M140.8 241.1h0M142.9 239.7h0M138.9 214.0h0M141.3 229.8h0M138.9 235.1h0M136.5 245.5h0M138.0 232.3h0M139.2 238.7h0M136.0 236.4h0M142.5 236.7h0M142.0 215.0h0M140.7 229.1h0M139.5 232.8h0M139.2 230.6h0M141.2 243.8h0M143.7 229.2h0M136.8 234.6h0M143.4 243.4h0M143.9 227.8h0M143.8 254.8h0M137.9 237.0h0M138.7 240.3h0M143.3 245.4h0M137.3 240.0h0M141.9 236.7h0M141.5 229.0h0M138.7 226.9h0M141.1 230.1h0M138.4 223.6h0M143.0 253.7h0M136.3 248.4h0M141.7 233.2h0M143.7 244.7h0M139.7 235.9h0M136.6 230.1h0M139.7 221.6h0M139.6 229.1h0M140.7 230.5h0" stroke="#4a4a4a" stroke-width="1.2" stroke-linecap="round" fill="none" opacity="0.65"/>
<path d="M145.7 255.2 145.8 254.5 146.2 253.7 146.7 253.0 147.3 252.3 148.0 251.5 148.6 250.8 149.1 250.0 149.5 249.3 149.9 248.6 150.1 247.8 150.0 247.1 150.0 246.4 149.9 245.6 149.8 244.9 149.8 244.1 149.7 243.4 149.7 242.7 149.7 241.9 149.7 241.2 149.7 240.5 149.7 239.7 149.7 239.0 149.7 238.2 149.7 237.5 149.8 236.8 149.8 236.0 149.8 235.3 149.8 234.6 149.8 233.8 149.8 233.1 149.8 232.3 149.8 231.6 149.8 230.9 149.9 230.1 149.9 229.4 150.0 228.7 150.1 227.9 150.1 227.2 150.2 226.5 150.2 225.7 150.3 225.0 150.3 224.2 150.3 223.5 150.3 222.8 150.3 222.0 150.3 221.3 150.3 220.6 150.4 219.8 150.4 219.1 150.4 219.1 150.4 219.8 150.5 220.6 150.5 221.3 150.5 222.0 150.5 222.8 150.5 223.5 150.5 224.2 150.5 225.0 150.6 225.7 150.6 226.5 150.7 227.2 150.7 227.9 150.8 228.7 150.9 229.4 150.9 230.1 151.0 230.9 151.0 231.6 151.0 232.3 151.0 233.1 151.0 233.8 151.0 234.6 151.0 235.3 151.0 236.0 151.0 236.8 151.1 237.5 151.1 238.2 151.1 239.0 151.1 239.7 151.1 240.5 151.1 241.2 151.1 241.9 151.1 242.7 151.1 243.4 151.0 244.1 151.0 244.9 150.9 245.6 150.8 246.4 150.8 247.1 150.7 247.8 150.9 248.6 151.3 249.3 151.7 250.0 152.2 250.8 152.8 251.5 153.5 252.3 154.1 253.0 154.6 253.7 155.0 254.5 155.1 255.2Z" fill="#8aaed5" stroke="#4a86c0" stroke-width="0.45"/>
<path d="M145.70 255.20H155.10" stroke="#4a86c0" stroke-width="0.8"/>
<path d="M149.6 231.5h0M149.1 241.4h0M149.5 239.4h0M152.6 238.8h0M149.9 237.7h0M149.6 233.5h0M147.4 232.7h0M147.0 241.5h0M154.4 237.2h0M148.7 235.6h0M147.7 237.4h0M147.7 247.9h0M147.2 245.5h0M146.1 242.5h0M154.2 240.5h0M151.8 232.9h0M146.3 243.9h0M146.2 221.6h0M147.9 245.7h0M149.4 237.5h0M154.4 237.8h0M148.4 245.2h0M153.9 231.4h0M150.1 235.4h0M147.6 241.3h0M152.9 240.0h0M150.9 245.6h0M151.1 230.8h0M153.4 237.0h0M147.2 242.8h0M154.6 231.8h0M151.6 250.6h0M150.6 234.9h0M150.7 233.9h0M146.2 237.7h0M154.6 234.7h0M148.8 231.0h0M149.3 230.7h0M152.3 242.3h0M149.5 231.4h0M150.9 240.6h0M150.6 241.1h0M148.4 234.7h0M149.5 241.1h0M148.7 232.7h0M152.3 233.4h0M150.6 232.8h0M151.1 243.6h0M147.1 235.8h0M153.6 231.6h0M151.3 230.6h0M150.8 224.7h0M151.1 229.9h0M146.9 246.3h0M154.5 238.2h0M152.9 236.5h0M151.6 246.3h0M146.4 241.0h0M150.8 245.9h0M153.1 240.5h0M153.6 227.4h0M151.6 237.3h0M152.5 244.6h0M151.9 247.9h0M153.9 241.5h0M148.4 222.6h0M151.8 240.8h0M150.3 239.8h0M146.4 219.1h0M152.8 234.2h0M146.5 240.8h0M150.7 238.1h0M151.9 245.2h0M150.3 231.0h0M146.8 237.8h0M151.7 246.4h0M154.7 246.4h0M153.3 242.6h0M146.9 245.0h0M151.0 235.9h0M148.0 251.8h0M148.2 228.7h0M149.9 230.8h0M151.2 252.2h0M150.8 245.6h0M150.9 237.0h0M146.2 233.2h0M154.3 230.9h0M151.1 237.7h0M150.3 236.7h0M153.4 244.9h0M146.7 234.2h0M151.3 243.2h0M152.3 239.7h0M148.5 242.3h0M148.2 236.3h0M150.4 226.9h0M146.1 233.7h0M153.0 244.6h0M146.4 229.7h0M148.4 230.4h0M153.8 246.1h0M147.6 241.6h0M148.6 230.8h0M152.9 241.5h0M151.7 239.7h0M153.1 229.6h0M153.1 231.4h0M146.8 228.5h0M147.1 243.2h0M152.5 225.1h0M148.9 253.0h0M149.9 235.0h0M150.7 235.5h0M153.9 242.7h0M149.1 247.4h0M148.4 238.1h0M150.7 232.9h0M151.7 243.3h0M151.7 234.9h0M150.6 235.2h0M149.8 240.2h0M153.7 242.4h0M153.9 228.4h0M151.2 243.9h0M147.7 230.8h0M153.4 243.1h0M151.3 238.8h0M146.3 237.2h0M154.3 228.6h0M153.9 240.6h0M153.8 231.9h0M149.1 241.4h0M148.8 227.9h0M146.9 243.4h0M154.4 230.0h0M149.8 229.7h0M149.3 245.3h0M153.4 229.3h0M151.3 243.1h0M151.0 242.3h0M149.4 244.6h0M146.2 243.3h0M147.1 239.1h0M151.3 232.3h0M153.9 223.6h0M147.5 236.2h0M149.7 246.1h0M152.4 232.1h0M153.2 247.9h0M153.3 234.0h0M149.6 242.5h0M146.7 242.2h0M146.5 246.8h0M147.3 231.3h0M149.2 236.1h0M152.5 238.2h0M151.0 249.8h0M149.6 242.2h0M147.9 242.9h0M148.0 229.9h0M154.7 227.6h0M148.4 231.2h0M151.4 227.1h0M152.5 229.4h0M153.2 240.2h0M153.6 236.5h0M148.0 248.9h0M147.3 233.2h0M151.1 233.1h0M154.0 246.3h0M149.1 231.6h0M146.7 239.2h0M148.3 250.8h0M147.0 238.5h0M153.8 232.2h0M153.4 241.4h0M153.9 237.2h0M151.2 234.6h0M149.3 240.8h0" stroke="#1c5d99" stroke-width="1.2" stroke-linecap="round" fill="none" opacity="0.65"/>
<path d="M156.1 255.2 157.3 254.9 159.3 254.7 160.5 254.4 160.8 254.2 160.8 253.9 160.8 253.7 160.8 253.4 160.8 253.1 160.8 252.9 160.8 252.6 160.8 252.4 160.8 252.1 160.8 251.9 160.8 251.6 160.8 251.3 160.8 251.1 160.8 250.8 160.8 250.6 160.8 250.3 160.8 250.1 160.8 249.8 160.8 249.5 160.8 249.3 160.8 249.0 160.8 248.8 160.8 248.5 160.8 248.3 160.8 248.0 160.7 247.7 160.7 247.5 160.7 247.2 160.7 247.0 160.7 246.7 160.7 246.5 160.7 246.2 160.7 245.9 160.7 245.7 160.7 245.4 160.7 245.2 160.7 244.9 160.7 244.7 160.6 244.4 160.6 244.1 160.6 243.9 160.6 243.6 160.6 243.4 160.6 243.1 160.6 242.9 160.6 242.6 161.0 242.6 161.0 242.9 161.0 243.1 161.0 243.4 161.0 243.6 161.0 243.9 161.0 244.1 161.0 244.4 160.9 244.7 160.9 244.9 160.9 245.2 160.9 245.4 160.9 245.7 160.9 245.9 160.9 246.2 160.9 246.5 160.9 246.7 160.9 247.0 160.9 247.2 160.9 247.5 160.9 247.7 160.8 248.0 160.8 248.3 160.8 248.5 160.8 248.8 160.8 249.0 160.8 249.3 160.8 249.5 160.8 249.8 160.8 250.1 160.8 250.3 160.8 250.6 160.8 250.8 160.8 251.1 160.8 251.3 160.8 251.6 160.8 251.9 160.8 252.1 160.8 252.4 160.8 252.6 160.8 252.9 160.8 253.1 160.8 253.4 160.8 253.7 160.8 253.9 160.8 254.2 161.1 254.4 162.3 254.7 164.3 254.9 165.5 255.2Z" fill="#ee9cb0" stroke="#e06a85" stroke-width="0.45"/>
<path d="M156.10 255.20H165.50" stroke="#e06a85" stroke-width="0.8"/>
<path d="M162.7 242.6h0M157.8 244.3h0M165.0 243.0h0M162.5 246.8h0" stroke="#cf2750" stroke-width="1.2" stroke-linecap="round" fill="none" opacity="0.65"/>
<path d="M123.0 209.4V257.4H167.0" stroke="#000" stroke-width="1.4" fill="none"/>
<path d="M119.90 255.20H123.0M119.90 246.80H123.0M119.90 238.40H123.0M119.90 230.00H123.0M119.90 221.60H123.0M119.90 213.20H123.0M129.40 257.4V260.60M140.00 257.4V260.60M150.40 257.4V260.60M160.80 257.4V260.60" stroke="#000" stroke-width="1" fill="none"/>
<text x="117.70" y="257.60" font-size="6.7" text-anchor="end" font-weight="normal" font-style="normal" fill="#000" >0</text>
<text x="117.70" y="249.20" font-size="6.7" text-anchor="end" font-weight="normal" font-style="normal" fill="#000" >1</text>
<text x="117.70" y="240.80" font-size="6.7" text-anchor="end" font-weight="normal" font-style="normal" fill="#000" >2</text>
<text x="117.70" y="232.40" font-size="6.7" text-anchor="end" font-weight="normal" font-style="normal" fill="#000" >3</text>
<text x="117.70" y="224.00" font-size="6.7" text-anchor="end" font-weight="normal" font-style="normal" fill="#000" >4</text>
<text x="117.70" y="215.60" font-size="6.7" text-anchor="end" font-weight="normal" font-style="normal" fill="#000" >5</text>
<text x="129.40" y="268.55" font-size="7.1" text-anchor="middle" font-weight="normal" font-style="normal" fill="#000" >2</text>
<text x="140.00" y="268.55" font-size="7.1" text-anchor="middle" font-weight="normal" font-style="normal" fill="#000" >3</text>
<text x="150.40" y="268.55" font-size="7.1" text-anchor="middle" font-weight="normal" font-style="normal" fill="#000" >4</text>
<text x="160.80" y="268.55" font-size="7.1" text-anchor="middle" font-weight="normal" font-style="normal" fill="#000" >5</text>
<text transform="translate(145.10,276.80) scale(0.73,1)" font-size="8.6" text-anchor="middle" font-weight="normal" font-style="normal" fill="#000" style="stroke-width:0.3px">Cluster</text>
<text x="145.10" y="207.81" font-size="9.3" text-anchor="middle" font-weight="normal" font-style="italic" fill="#000" style="stroke:none">Csf2</text>
<text transform="translate(106.92,234.30) rotate(-90)" font-size="7.4" text-anchor="middle" textLength="45.2" lengthAdjust="spacingAndGlyphs" style="stroke-width:0.2px">Log. norm. expr.</text>
<path d="M200.9 255.4 204.7 254.6 205.5 253.7 205.5 252.9 205.5 252.0 205.5 251.2 205.5 250.4 205.5 249.5 205.4 248.7 205.4 247.9 205.4 247.0 205.4 246.2 205.4 245.3 205.4 244.5 205.3 243.7 205.3 242.8 205.3 242.0 205.3 241.2 205.3 240.3 205.3 239.5 205.3 238.6 205.3 237.8 205.3 237.0 205.3 236.1 205.3 235.3 205.3 234.5 205.3 233.6 205.3 232.8 205.3 231.9 205.3 231.1 205.4 230.3 205.4 229.4 205.4 228.6 205.4 227.8 205.4 226.9 205.4 226.1 205.5 225.2 205.5 224.4 205.5 223.6 205.5 222.7 205.5 221.9 205.5 221.1 205.6 220.2 205.6 219.4 205.6 218.5 205.6 217.7 205.6 216.9 205.6 216.0 205.6 215.2 205.6 214.4 205.6 214.4 205.6 215.2 205.6 216.0 205.6 216.9 205.6 217.7 205.6 218.5 205.6 219.4 205.6 220.2 205.7 221.1 205.7 221.9 205.7 222.7 205.7 223.6 205.7 224.4 205.7 225.2 205.8 226.1 205.8 226.9 205.8 227.8 205.8 228.6 205.8 229.4 205.8 230.3 205.9 231.1 205.9 231.9 205.9 232.8 205.9 233.6 205.9 234.5 205.9 235.3 205.9 236.1 205.9 237.0 205.9 237.8 205.9 238.6 205.9 239.5 205.9 240.3 205.9 241.2 205.9 242.0 205.9 242.8 205.9 243.7 205.8 244.5 205.8 245.3 205.8 246.2 205.8 247.0 205.8 247.9 205.8 248.7 205.7 249.5 205.7 250.4 205.7 251.2 205.7 252.0 205.7 252.9 205.7 253.7 206.5 254.6 210.3 255.4Z" fill="#86cf92" stroke="#5cbf6a" stroke-width="0.45"/>
<path d="M200.90 255.40H210.30" stroke="#5cbf6a" stroke-width="0.8"/>
<path d="M208.1 241.6h0M206.5 254.8h0M207.0 236.1h0M205.4 241.6h0M205.1 236.4h0M201.5 233.5h0M208.7 244.6h0M202.9 222.2h0M206.6 238.3h0M206.6 254.2h0M203.0 227.1h0M201.4 238.3h0M207.9 249.9h0M208.4 230.3h0M207.8 237.1h0M204.0 233.0h0M206.9 250.2h0M202.1 242.0h0M207.7 239.1h0M209.2 244.5h0M203.9 235.6h0M207.7 232.0h0M201.6 231.1h0M206.1 227.7h0M206.6 236.3h0M207.9 241.1h0M204.7 242.0h0M206.9 243.1h0M204.7 239.2h0M207.4 225.4h0M206.1 241.9h0M205.1 221.0h0M205.9 240.4h0M203.1 242.8h0M204.5 239.3h0M207.1 245.7h0M204.9 250.0h0M202.3 247.0h0M209.2 227.2h0M204.5 226.2h0M203.6 254.8h0M209.9 228.2h0M206.3 237.3h0M207.8 236.4h0M206.8 228.7h0M209.7 227.9h0M203.6 227.3h0M209.3 234.3h0M204.7 247.6h0M204.1 227.2h0M205.6 252.6h0M209.0 231.3h0M208.7 243.6h0M209.6 251.2h0M209.0 232.8h0M204.7 238.0h0M205.1 246.3h0M203.5 233.2h0M207.4 242.3h0M203.9 232.8h0M205.2 247.0h0M204.3 232.8h0M208.0 231.6h0M201.9 247.0h0M202.7 224.1h0M206.3 249.8h0M207.9 231.7h0M201.7 243.5h0M204.8 242.0h0M206.6 246.5h0M204.2 237.8h0M207.7 238.6h0M208.8 243.7h0M203.1 232.7h0M208.0 231.5h0M202.7 238.4h0M204.6 232.2h0M206.4 248.5h0M204.5 234.0h0M203.1 235.2h0M202.9 214.4h0M202.3 244.6h0M204.6 232.6h0M201.6 241.0h0M206.0 226.7h0" stroke="#34a846" stroke-width="1.2" stroke-linecap="round" fill="none" opacity="0.65"/>
<path d="M211.3 255.4 214.7 254.7 216.0 254.0 216.0 253.2 216.0 252.5 216.0 251.8 216.0 251.1 216.0 250.4 216.0 249.6 215.9 248.9 215.9 248.2 215.9 247.5 215.9 246.7 215.9 246.0 215.9 245.3 215.9 244.6 215.9 243.9 215.9 243.1 215.9 242.4 215.9 241.7 215.9 241.0 215.9 240.3 215.9 239.5 215.9 238.8 215.9 238.1 215.9 237.4 215.9 236.6 215.9 235.9 216.0 235.2 216.0 234.5 216.0 233.8 216.0 233.0 216.0 232.3 216.0 231.6 216.0 230.9 216.0 230.2 216.0 229.4 216.0 228.7 216.0 228.0 216.0 227.3 216.0 226.6 216.0 225.8 215.9 225.1 215.9 224.4 215.9 223.7 215.9 222.9 215.8 222.2 215.8 221.5 215.8 220.8 215.8 220.1 216.2 220.1 216.2 220.8 216.2 221.5 216.2 222.2 216.1 222.9 216.1 223.7 216.1 224.4 216.1 225.1 216.0 225.8 216.0 226.6 216.0 227.3 216.0 228.0 216.0 228.7 216.0 229.4 216.0 230.2 216.0 230.9 216.0 231.6 216.0 232.3 216.0 233.0 216.0 233.8 216.0 234.5 216.0 235.2 216.1 235.9 216.1 236.6 216.1 237.4 216.1 238.1 216.1 238.8 216.1 239.5 216.1 240.3 216.1 241.0 216.1 241.7 216.1 242.4 216.1 243.1 216.1 243.9 216.1 244.6 216.1 245.3 216.1 246.0 216.1 246.7 216.1 247.5 216.1 248.2 216.1 248.9 216.0 249.6 216.0 250.4 216.0 251.1 216.0 251.8 216.0 252.5 216.0 253.2 216.0 254.0 217.3 254.7 220.7 255.4Z" fill="#ababab" stroke="#959595" stroke-width="0.45"/>
<path d="M211.30 255.40H220.70" stroke="#959595" stroke-width="0.8"/>
<path d="M212.6 221.2h0M216.4 222.3h0M212.4 237.2h0M212.4 242.9h0M212.5 247.4h0" stroke="#4a4a4a" stroke-width="1.2" stroke-linecap="round" fill="none" opacity="0.65"/>
<path d="M221.70 255.40H231.10" stroke="#4a86c0" stroke-width="0.8"/>
<path d="M232.3 255.4 233.4 255.1 235.3 254.7 236.5 254.4 236.9 254.1 237.0 253.8 237.0 253.4 237.0 253.1 237.0 252.8 237.0 252.5 237.0 252.1 237.0 251.8 237.0 251.5 237.0 251.2 237.0 250.8 237.0 250.5 237.0 250.2 237.0 249.9 237.0 249.5 237.0 249.2 237.0 248.9 237.0 248.6 237.0 248.2 237.0 247.9 237.0 247.6 237.0 247.3 237.0 246.9 237.0 246.6 237.0 246.3 237.0 246.0 237.0 245.6 237.0 245.3 237.0 245.0 237.0 244.7 237.0 244.3 237.0 244.0 237.0 243.7 237.0 243.3 237.0 243.0 237.0 242.7 237.0 242.4 237.0 242.0 237.0 241.7 237.0 241.4 237.0 241.1 237.0 240.7 237.0 240.4 237.0 240.1 237.0 239.8 237.0 239.4 237.0 239.4 237.0 239.8 237.0 240.1 237.0 240.4 237.0 240.7 237.0 241.1 237.0 241.4 237.0 241.7 237.0 242.0 237.0 242.4 237.0 242.7 237.0 243.0 237.0 243.3 237.0 243.7 237.0 244.0 237.0 244.3 237.0 244.7 237.0 245.0 237.0 245.3 237.0 245.6 237.0 246.0 237.0 246.3 237.0 246.6 237.0 246.9 237.0 247.3 237.0 247.6 237.0 247.9 237.0 248.2 237.0 248.6 237.0 248.9 237.0 249.2 237.0 249.5 237.0 249.9 237.0 250.2 237.0 250.5 237.0 250.8 237.0 251.2 237.0 251.5 237.0 251.8 237.0 252.1 237.0 252.5 237.0 252.8 237.0 253.1 237.0 253.4 237.0 253.8 237.1 254.1 237.5 254.4 238.7 254.7 240.6 255.1 241.7 255.4Z" fill="#ee9cb0" stroke="#e06a85" stroke-width="0.45"/>
<path d="M232.30 255.40H241.70" stroke="#e06a85" stroke-width="0.8"/>
<path d="M198.5 209.4V257.4H242.3" stroke="#000" stroke-width="1.4" fill="none"/>
<path d="M195.40 255.40H198.5M195.40 244.00H198.5M195.40 232.60H198.5M195.40 221.20H198.5M205.60 257.4V260.60M216.00 257.4V260.60M226.40 257.4V260.60M237.00 257.4V260.60" stroke="#000" stroke-width="1" fill="none"/>
<text x="193.20" y="257.80" font-size="6.7" text-anchor="end" font-weight="normal" font-style="normal" fill="#000" >0</text>
<text x="193.20" y="246.40" font-size="6.7" text-anchor="end" font-weight="normal" font-style="normal" fill="#000" >1</text>
<text x="193.20" y="235.00" font-size="6.7" text-anchor="end" font-weight="normal" font-style="normal" fill="#000" >2</text>
<text x="193.20" y="223.60" font-size="6.7" text-anchor="end" font-weight="normal" font-style="normal" fill="#000" >3</text>
<text x="205.60" y="268.55" font-size="7.1" text-anchor="middle" font-weight="normal" font-style="normal" fill="#000" >2</text>
<text x="216.00" y="268.55" font-size="7.1" text-anchor="middle" font-weight="normal" font-style="normal" fill="#000" >3</text>
<text x="226.40" y="268.55" font-size="7.1" text-anchor="middle" font-weight="normal" font-style="normal" fill="#000" >4</text>
<text x="237.00" y="268.55" font-size="7.1" text-anchor="middle" font-weight="normal" font-style="normal" fill="#000" >5</text>
<text transform="translate(221.30,276.80) scale(0.73,1)" font-size="8.6" text-anchor="middle" font-weight="normal" font-style="normal" fill="#000" style="stroke-width:0.3px">Cluster</text>
<text x="221.30" y="207.81" font-size="9.3" text-anchor="middle" font-weight="normal" font-style="italic" fill="#000" style="stroke:none">Il17a</text>
<text transform="translate(181.32,234.30) rotate(-90)" font-size="7.4" text-anchor="middle" textLength="45.2" lengthAdjust="spacingAndGlyphs" style="stroke-width:0.2px">Log. norm. expr.</text>
<path d="M79.9 339.0 83.6 338.2 84.5 337.4 84.5 336.5 84.5 335.7 84.5 334.9 84.4 334.1 84.4 333.2 84.4 332.4 84.4 331.6 84.4 330.8 84.3 330.0 84.3 329.1 84.3 328.3 84.3 327.5 84.3 326.7 84.3 325.9 84.3 325.0 84.3 324.2 84.3 323.4 84.3 322.6 84.3 321.8 84.4 320.9 84.4 320.1 84.4 319.3 84.4 318.5 84.5 317.6 84.5 316.8 84.5 316.0 84.5 315.2 84.5 314.4 84.6 313.5 84.6 312.7 84.6 311.9 84.6 311.1 84.6 310.2 84.6 309.4 84.6 308.6 84.6 307.8 84.6 307.0 84.6 306.1 84.6 305.3 84.6 304.5 84.6 303.7 84.6 302.9 84.6 302.0 84.6 301.2 84.6 300.4 84.6 299.6 84.6 298.8 84.6 298.8 84.6 299.6 84.6 300.4 84.6 301.2 84.6 302.0 84.6 302.9 84.6 303.7 84.6 304.5 84.6 305.3 84.6 306.1 84.6 307.0 84.6 307.8 84.6 308.6 84.6 309.4 84.6 310.2 84.6 311.1 84.6 311.9 84.6 312.7 84.6 313.5 84.7 314.4 84.7 315.2 84.7 316.0 84.7 316.8 84.7 317.6 84.8 318.5 84.8 319.3 84.8 320.1 84.8 320.9 84.9 321.8 84.9 322.6 84.9 323.4 84.9 324.2 84.9 325.0 84.9 325.9 84.9 326.7 84.9 327.5 84.9 328.3 84.9 329.1 84.9 330.0 84.8 330.8 84.8 331.6 84.8 332.4 84.8 333.2 84.8 334.1 84.7 334.9 84.7 335.7 84.7 336.5 84.7 337.4 85.6 338.2 89.3 339.0Z" fill="#86cf92" stroke="#5cbf6a" stroke-width="0.45"/>
<path d="M79.90 339.00H89.30" stroke="#5cbf6a" stroke-width="0.8"/>
<path d="M81.2 329.7h0M84.9 317.0h0M85.0 332.7h0M87.4 324.4h0M84.1 324.7h0M88.5 318.1h0M83.6 313.7h0M84.8 313.9h0M84.0 320.5h0M80.6 321.1h0M88.3 320.9h0M87.0 321.4h0M85.7 331.3h0M84.6 336.1h0M82.7 331.2h0M84.3 332.3h0M87.0 323.2h0M81.4 322.2h0M86.9 327.7h0M85.0 329.9h0M86.6 322.4h0M83.3 320.8h0M85.7 324.3h0M81.2 321.5h0M84.9 331.1h0M84.1 330.3h0M83.0 319.3h0M87.4 329.6h0M81.8 318.8h0M85.7 313.3h0M81.7 325.3h0M87.4 320.6h0M80.4 324.3h0M80.8 324.9h0M88.9 327.3h0M88.5 320.8h0M87.1 324.6h0M85.7 324.9h0M82.7 335.8h0M84.0 327.7h0M88.5 327.6h0M81.7 328.6h0M80.9 332.2h0M81.4 327.9h0M86.3 318.3h0M83.9 326.2h0M87.6 334.1h0M83.6 333.9h0M84.7 325.4h0M83.5 323.1h0M85.7 324.6h0M87.4 323.1h0M81.2 327.7h0M84.5 322.3h0M84.5 324.1h0M81.2 335.2h0M82.7 319.1h0M86.1 322.8h0M84.3 333.0h0M84.1 325.6h0M84.3 325.2h0M88.7 330.9h0M85.5 328.6h0M81.7 320.9h0M82.9 328.7h0M86.3 326.0h0M86.1 327.5h0M82.7 329.2h0M84.4 327.3h0M87.1 323.5h0M81.5 325.4h0M88.1 330.3h0M88.3 321.5h0M87.9 327.7h0M84.5 333.1h0M88.1 323.9h0M87.1 319.8h0M85.5 326.1h0M87.5 320.3h0M80.6 321.4h0M87.0 326.6h0M85.5 321.8h0M86.4 328.7h0M84.5 324.3h0M82.2 332.1h0M84.8 326.1h0M81.9 325.0h0M83.0 320.5h0M85.5 326.8h0M84.7 326.8h0M81.2 313.3h0M82.5 326.6h0M81.5 324.3h0M88.7 325.4h0M82.8 334.7h0M85.5 327.5h0M86.1 321.8h0M86.4 319.2h0M83.7 326.3h0M87.1 321.3h0M86.3 332.2h0M87.8 327.6h0M80.6 323.4h0M88.2 328.2h0M83.9 327.6h0M82.6 330.3h0M85.2 319.0h0M81.8 325.5h0M86.8 325.1h0M83.6 321.9h0M80.6 330.1h0M82.4 321.5h0M82.9 333.6h0M85.8 328.6h0M84.6 321.6h0M85.0 336.6h0M88.8 334.5h0M82.7 327.5h0M80.6 321.6h0M81.0 322.6h0M81.0 322.7h0M84.0 330.3h0M84.0 327.8h0M80.9 326.6h0M80.4 322.6h0M86.3 325.4h0M87.1 328.5h0M81.5 330.4h0M85.0 324.1h0M88.2 325.6h0M81.9 330.4h0M87.3 325.0h0M88.8 328.1h0M87.4 317.6h0M80.5 331.5h0M88.2 329.4h0M82.9 326.4h0M85.6 333.1h0M83.6 331.7h0M81.1 333.3h0M84.5 330.4h0M80.5 328.4h0M81.2 315.4h0M86.5 319.2h0M83.4 333.6h0M87.5 331.1h0M84.1 320.3h0M83.9 328.9h0M84.5 324.3h0M81.7 325.8h0M85.8 318.5h0M82.0 317.7h0M84.5 320.7h0M83.5 325.6h0M82.2 324.9h0M86.2 324.9h0M86.3 325.9h0M83.7 334.9h0M88.3 329.4h0M82.2 334.0h0M81.1 326.0h0M88.7 323.4h0M84.1 323.2h0M88.0 331.5h0M86.1 321.6h0M81.0 333.1h0M87.6 324.6h0M88.3 326.9h0M86.2 327.0h0M81.6 322.1h0M87.3 321.1h0M81.3 330.0h0M86.0 326.7h0M82.7 326.4h0M87.6 323.3h0M81.8 335.2h0M87.8 333.4h0M86.1 314.4h0M80.8 322.4h0M87.2 326.0h0M84.6 326.6h0M87.6 326.5h0M88.9 331.8h0M81.6 328.0h0M82.3 326.9h0M87.4 329.2h0M85.3 329.7h0M81.3 329.4h0M83.5 311.3h0M85.3 322.1h0M88.8 332.2h0M84.6 328.6h0M88.9 325.1h0M85.7 329.4h0M88.5 323.3h0M87.7 315.9h0M86.1 338.1h0M86.2 320.7h0M86.6 326.1h0M88.9 333.2h0M82.9 330.1h0M81.2 338.4h0M84.1 333.0h0M84.4 317.8h0M81.0 332.1h0M88.0 337.2h0M81.9 324.5h0M87.5 319.4h0M81.0 318.5h0M81.7 333.9h0" stroke="#34a846" stroke-width="1.2" stroke-linecap="round" fill="none" opacity="0.65"/>
<path d="M90.5 339.0 94.3 338.2 95.1 337.3 95.1 336.5 95.1 335.6 95.1 334.8 95.1 333.9 95.1 333.1 95.1 332.2 95.0 331.4 95.0 330.6 95.0 329.7 95.0 328.9 95.0 328.0 95.0 327.2 95.0 326.3 94.9 325.5 94.9 324.6 94.9 323.8 94.9 322.9 94.9 322.1 94.9 321.3 94.9 320.4 94.9 319.6 94.9 318.7 95.0 317.9 95.0 317.0 95.0 316.2 95.0 315.3 95.0 314.5 95.1 313.7 95.1 312.8 95.1 312.0 95.1 311.1 95.1 310.3 95.1 309.4 95.2 308.6 95.2 307.7 95.2 306.9 95.2 306.0 95.2 305.2 95.2 304.4 95.2 303.5 95.2 302.7 95.2 301.8 95.2 301.0 95.2 300.1 95.2 299.3 95.2 298.4 95.2 297.6 95.2 297.6 95.2 298.4 95.2 299.3 95.2 300.1 95.2 301.0 95.2 301.8 95.2 302.7 95.2 303.5 95.2 304.4 95.2 305.2 95.2 306.0 95.2 306.9 95.2 307.7 95.2 308.6 95.3 309.4 95.3 310.3 95.3 311.1 95.3 312.0 95.3 312.8 95.3 313.7 95.4 314.5 95.4 315.3 95.4 316.2 95.4 317.0 95.4 317.9 95.5 318.7 95.5 319.6 95.5 320.4 95.5 321.3 95.5 322.1 95.5 322.9 95.5 323.8 95.5 324.6 95.5 325.5 95.4 326.3 95.4 327.2 95.4 328.0 95.4 328.9 95.4 329.7 95.4 330.6 95.4 331.4 95.3 332.2 95.3 333.1 95.3 333.9 95.3 334.8 95.3 335.6 95.3 336.5 95.3 337.3 96.1 338.2 99.9 339.0Z" fill="#ababab" stroke="#959595" stroke-width="0.45"/>
<path d="M90.50 339.00H99.90" stroke="#959595" stroke-width="0.8"/>
<path d="M91.4 325.3h0M96.9 325.2h0M96.6 320.8h0M99.1 319.0h0M99.5 313.1h0M96.2 315.9h0M92.0 310.3h0M95.0 320.9h0M99.0 336.9h0M92.0 322.5h0M91.4 331.9h0M91.9 323.4h0M96.3 322.0h0M96.4 324.0h0M97.1 310.8h0M93.2 329.0h0M91.4 329.0h0M94.1 320.4h0M95.1 320.3h0M92.2 317.5h0M96.9 323.4h0M96.4 321.6h0M94.0 318.2h0M91.3 321.6h0M98.3 320.8h0M93.5 327.5h0M96.1 338.4h0M95.2 325.6h0M92.3 319.4h0M98.1 331.0h0M93.1 328.4h0M97.5 314.7h0M97.5 318.5h0M97.2 320.7h0M96.7 325.0h0M96.9 327.4h0M97.3 322.8h0M96.6 335.7h0M92.6 327.5h0M99.3 311.6h0M98.8 318.6h0M97.4 330.9h0M97.7 320.7h0M98.2 318.5h0M93.1 327.3h0M97.7 320.7h0M95.9 333.1h0M93.6 327.3h0M97.7 328.0h0M91.5 314.3h0M92.2 325.4h0M97.0 327.7h0M95.6 328.4h0M96.2 324.1h0M98.6 311.9h0M99.0 319.5h0M97.2 324.7h0M91.7 324.1h0M96.8 315.4h0M93.9 336.9h0M94.7 338.4h0M98.9 326.6h0M96.2 329.8h0M91.5 325.7h0M97.7 321.7h0M97.3 335.7h0M97.2 317.6h0M92.6 324.8h0M98.0 333.8h0M98.0 322.8h0M97.3 326.9h0M98.8 319.2h0M97.8 336.5h0M98.9 333.3h0M98.3 308.4h0M94.1 329.4h0M92.3 321.9h0M97.0 315.5h0M95.3 312.2h0M96.2 316.2h0M95.9 329.0h0M99.0 320.6h0M95.7 319.8h0M99.5 314.7h0M93.0 317.4h0M99.2 328.9h0M96.5 331.0h0M97.9 313.5h0M92.8 332.5h0M98.8 319.8h0M95.1 319.0h0M94.2 332.5h0M96.4 326.1h0M92.0 330.5h0M93.8 313.7h0M91.4 330.6h0M94.9 320.1h0M91.4 325.6h0M91.7 315.4h0M99.3 320.1h0M95.5 318.7h0M95.1 322.7h0M94.7 313.4h0M94.3 327.8h0M96.5 317.1h0M98.7 321.0h0M96.7 322.5h0M91.7 323.3h0M91.7 337.5h0M93.9 317.2h0M94.8 320.0h0M93.5 312.0h0M91.7 320.9h0M95.4 328.9h0M97.3 317.9h0M97.5 331.4h0M99.2 329.2h0M94.9 321.5h0M94.2 332.7h0M96.3 314.5h0" stroke="#4a4a4a" stroke-width="1.2" stroke-linecap="round" fill="none" opacity="0.65"/>
<path d="M101.1 339.0 104.1 338.3 105.7 337.7 105.8 337.0 105.8 336.4 105.8 335.7 105.7 335.1 105.7 334.4 105.7 333.7 105.7 333.1 105.7 332.4 105.7 331.8 105.7 331.1 105.7 330.5 105.6 329.8 105.6 329.1 105.6 328.5 105.6 327.8 105.6 327.2 105.6 326.5 105.5 325.9 105.5 325.2 105.5 324.5 105.5 323.9 105.5 323.2 105.5 322.6 105.5 321.9 105.5 321.3 105.5 320.6 105.5 319.9 105.6 319.3 105.6 318.6 105.6 318.0 105.6 317.3 105.6 316.7 105.6 316.0 105.6 315.3 105.7 314.7 105.7 314.0 105.7 313.4 105.7 312.7 105.7 312.1 105.7 311.4 105.7 310.7 105.7 310.1 105.8 309.4 105.8 308.8 105.8 308.1 105.8 307.5 105.8 306.8 105.8 306.8 105.8 307.5 105.8 308.1 105.8 308.8 105.8 309.4 105.9 310.1 105.9 310.7 105.9 311.4 105.9 312.1 105.9 312.7 105.9 313.4 105.9 314.0 105.9 314.7 106.0 315.3 106.0 316.0 106.0 316.7 106.0 317.3 106.0 318.0 106.0 318.6 106.0 319.3 106.1 319.9 106.1 320.6 106.1 321.3 106.1 321.9 106.1 322.6 106.1 323.2 106.1 323.9 106.1 324.5 106.1 325.2 106.1 325.9 106.0 326.5 106.0 327.2 106.0 327.8 106.0 328.5 106.0 329.1 106.0 329.8 105.9 330.5 105.9 331.1 105.9 331.8 105.9 332.4 105.9 333.1 105.9 333.7 105.9 334.4 105.9 335.1 105.8 335.7 105.8 336.4 105.8 337.0 105.9 337.7 107.5 338.3 110.5 339.0Z" fill="#8aaed5" stroke="#4a86c0" stroke-width="0.45"/>
<path d="M101.10 339.00H110.50" stroke="#4a86c0" stroke-width="0.8"/>
<path d="M107.3 306.8h0M104.5 318.1h0M101.9 324.5h0M107.8 317.2h0M104.4 323.2h0M102.2 324.6h0M103.7 329.4h0M106.7 310.9h0M103.9 318.9h0M105.9 323.9h0M103.1 330.2h0M104.6 326.3h0M108.4 338.4h0M109.7 312.2h0M109.3 328.8h0M102.9 321.6h0M104.1 319.8h0M109.1 318.0h0M106.0 323.2h0M102.1 326.1h0M103.2 315.6h0M108.4 312.7h0M108.4 328.1h0M106.5 319.7h0M102.0 319.3h0M103.8 325.7h0M108.3 319.6h0M110.0 320.0h0M105.8 327.4h0M105.2 322.7h0M101.9 323.6h0M103.9 324.4h0M109.1 319.4h0M108.3 318.4h0M103.5 312.7h0M107.6 334.6h0M101.7 328.2h0M108.1 324.8h0M106.5 321.2h0M106.2 316.8h0M106.7 334.1h0M104.1 322.1h0M107.8 334.4h0M107.4 314.6h0M102.0 321.8h0M108.8 325.5h0M103.6 328.0h0M106.7 326.2h0M105.7 322.9h0M103.4 323.1h0M109.0 327.9h0M102.1 324.8h0M109.0 315.9h0M102.7 316.4h0M107.1 325.6h0M102.7 328.4h0M102.0 326.9h0M102.9 313.2h0M107.2 314.0h0M104.0 328.2h0M105.8 323.2h0M108.1 317.1h0M103.6 323.0h0M102.4 323.3h0M102.0 332.3h0M104.0 321.6h0M108.8 316.7h0M103.5 324.4h0M109.1 329.1h0M102.5 319.8h0M101.8 318.1h0M103.7 326.4h0M104.4 331.9h0M109.2 321.5h0M108.9 329.3h0M102.7 317.9h0M106.3 319.8h0M104.4 324.4h0M109.3 321.8h0M101.8 329.8h0" stroke="#1c5d99" stroke-width="1.2" stroke-linecap="round" fill="none" opacity="0.65"/>
<path d="M111.8 339.0 114.9 338.3 116.4 337.6 116.4 337.0 116.4 336.3 116.4 335.6 116.4 334.9 116.4 334.2 116.4 333.6 116.4 332.9 116.4 332.2 116.4 331.5 116.4 330.8 116.4 330.2 116.4 329.5 116.3 328.8 116.3 328.1 116.3 327.4 116.3 326.7 116.3 326.1 116.3 325.4 116.3 324.7 116.2 324.0 116.2 323.3 116.2 322.7 116.2 322.0 116.2 321.3 116.2 320.6 116.2 319.9 116.2 319.3 116.2 318.6 116.3 317.9 116.3 317.2 116.3 316.5 116.3 315.9 116.3 315.2 116.4 314.5 116.4 313.8 116.4 313.1 116.4 312.5 116.4 311.8 116.4 311.1 116.4 310.4 116.4 309.7 116.4 309.1 116.5 308.4 116.5 307.7 116.5 307.0 116.5 306.3 116.5 305.6 116.5 305.6 116.5 306.3 116.5 307.0 116.5 307.7 116.5 308.4 116.6 309.1 116.6 309.7 116.6 310.4 116.6 311.1 116.6 311.8 116.6 312.5 116.6 313.1 116.6 313.8 116.6 314.5 116.7 315.2 116.7 315.9 116.7 316.5 116.7 317.2 116.7 317.9 116.8 318.6 116.8 319.3 116.8 319.9 116.8 320.6 116.8 321.3 116.8 322.0 116.8 322.7 116.8 323.3 116.8 324.0 116.7 324.7 116.7 325.4 116.7 326.1 116.7 326.7 116.7 327.4 116.7 328.1 116.7 328.8 116.6 329.5 116.6 330.2 116.6 330.8 116.6 331.5 116.6 332.2 116.6 332.9 116.6 333.6 116.6 334.2 116.6 334.9 116.6 335.6 116.6 336.3 116.6 337.0 116.6 337.6 118.1 338.3 121.2 339.0Z" fill="#ee9cb0" stroke="#e06a85" stroke-width="0.45"/>
<path d="M111.80 339.00H121.20" stroke="#e06a85" stroke-width="0.8"/>
<path d="M112.5 316.3h0M119.7 316.7h0M119.0 306.8h0M113.0 318.8h0M115.0 321.7h0M113.7 319.0h0M117.5 323.9h0M117.7 318.2h0M116.7 323.8h0M115.0 313.5h0M114.4 324.1h0M114.9 330.3h0M118.0 326.7h0M117.2 308.9h0M117.6 314.6h0M119.4 330.4h0M116.6 322.7h0M112.3 323.7h0M113.4 306.7h0M118.7 320.9h0M114.7 321.9h0M120.3 320.3h0M112.6 334.0h0M116.8 323.7h0M119.5 325.1h0M114.6 325.0h0M113.6 332.8h0M117.8 318.5h0M112.4 318.3h0M116.7 324.5h0M113.0 318.9h0M115.3 316.6h0M119.5 317.6h0M116.0 323.5h0M113.2 336.4h0M116.9 336.4h0M113.6 323.0h0M113.7 329.7h0M116.2 319.5h0M115.1 331.1h0M115.4 322.5h0M118.7 314.8h0M119.1 323.1h0M117.8 335.0h0M114.5 329.1h0M114.7 317.2h0M118.6 323.8h0M116.2 337.3h0M119.6 320.0h0M119.2 329.4h0M116.5 314.9h0M114.3 317.3h0M117.6 314.0h0M113.4 322.2h0M112.6 323.9h0M112.7 331.5h0M115.1 331.2h0M117.6 319.8h0M116.9 325.0h0M119.3 323.0h0" stroke="#cf2750" stroke-width="1.2" stroke-linecap="round" fill="none" opacity="0.65"/>
<path d="M78.5 293.0V340.8H122.7" stroke="#000" stroke-width="1.4" fill="none"/>
<path d="M75.40 339.00H78.5M75.40 327.50H78.5M75.40 316.00H78.5M75.40 304.50H78.5M84.60 340.8V344.00M95.20 340.8V344.00M105.80 340.8V344.00M116.50 340.8V344.00" stroke="#000" stroke-width="1" fill="none"/>
<text x="73.20" y="341.40" font-size="6.7" text-anchor="end" font-weight="normal" font-style="normal" fill="#000" >0</text>
<text x="73.20" y="329.90" font-size="6.7" text-anchor="end" font-weight="normal" font-style="normal" fill="#000" >1</text>
<text x="73.20" y="318.40" font-size="6.7" text-anchor="end" font-weight="normal" font-style="normal" fill="#000" >2</text>
<text x="73.20" y="306.90" font-size="6.7" text-anchor="end" font-weight="normal" font-style="normal" fill="#000" >3</text>
<text x="84.60" y="352.15" font-size="7.1" text-anchor="middle" font-weight="normal" font-style="normal" fill="#000" >2</text>
<text x="95.20" y="352.15" font-size="7.1" text-anchor="middle" font-weight="normal" font-style="normal" fill="#000" >3</text>
<text x="105.80" y="352.15" font-size="7.1" text-anchor="middle" font-weight="normal" font-style="normal" fill="#000" >4</text>
<text x="116.50" y="352.15" font-size="7.1" text-anchor="middle" font-weight="normal" font-style="normal" fill="#000" >5</text>
<text transform="translate(100.55,361.80) scale(0.73,1)" font-size="8.6" text-anchor="middle" font-weight="normal" font-style="normal" fill="#000" style="stroke-width:0.3px">Cluster</text>
<text x="100.55" y="292.81" font-size="9.3" text-anchor="middle" font-weight="normal" font-style="italic" fill="#000" style="stroke:none">Tnf</text>
<text transform="translate(62.12,317.80) rotate(-90)" font-size="7.4" text-anchor="middle" textLength="45.2" lengthAdjust="spacingAndGlyphs" style="stroke-width:0.2px">Log. norm. expr.</text>
<path d="M165.30 338.30H174.70" stroke="#5cbf6a" stroke-width="0.8"/>
<path d="M175.9 338.3 176.9 338.0 178.8 337.6 180.0 337.3 180.5 336.9 180.6 336.6 180.6 336.2 180.6 335.9 180.6 335.5 180.6 335.2 180.6 334.8 180.6 334.5 180.6 334.1 180.6 333.8 180.6 333.4 180.6 333.1 180.6 332.7 180.6 332.4 180.6 332.0 180.6 331.7 180.6 331.3 180.6 331.0 180.6 330.6 180.6 330.3 180.6 329.9 180.6 329.6 180.6 329.2 180.6 328.9 180.6 328.5 180.6 328.2 180.6 327.8 180.6 327.5 180.6 327.1 180.6 326.8 180.6 326.4 180.6 326.1 180.6 325.7 180.6 325.4 180.6 325.0 180.6 324.7 180.6 324.3 180.6 324.0 180.6 323.6 180.6 323.3 180.6 322.9 180.6 322.6 180.6 322.2 180.6 321.9 180.6 321.5 180.6 321.2 180.6 321.2 180.6 321.5 180.6 321.9 180.6 322.2 180.6 322.6 180.6 322.9 180.6 323.3 180.6 323.6 180.6 324.0 180.6 324.3 180.6 324.7 180.6 325.0 180.6 325.4 180.6 325.7 180.6 326.1 180.6 326.4 180.6 326.8 180.6 327.1 180.6 327.5 180.6 327.8 180.6 328.2 180.6 328.5 180.6 328.9 180.6 329.2 180.6 329.6 180.6 329.9 180.6 330.3 180.6 330.6 180.6 331.0 180.6 331.3 180.6 331.7 180.6 332.0 180.6 332.4 180.6 332.7 180.6 333.1 180.6 333.4 180.6 333.8 180.6 334.1 180.6 334.5 180.6 334.8 180.6 335.2 180.6 335.5 180.6 335.9 180.6 336.2 180.6 336.6 180.7 336.9 181.2 337.3 182.4 337.6 184.3 338.0 185.3 338.3Z" fill="#ababab" stroke="#959595" stroke-width="0.45"/>
<path d="M175.90 338.30H185.30" stroke="#959595" stroke-width="0.8"/>
<path d="M186.5 338.3 190.0 337.5 191.2 336.6 191.2 335.8 191.2 335.0 191.2 334.2 191.2 333.3 191.2 332.5 191.2 331.7 191.2 330.8 191.2 330.0 191.2 329.2 191.1 328.3 191.1 327.5 191.1 326.7 191.1 325.9 191.1 325.0 191.1 324.2 191.1 323.4 191.1 322.5 191.1 321.7 191.1 320.9 191.1 320.1 191.1 319.2 191.1 318.4 191.1 317.6 191.1 316.7 191.1 315.9 191.1 315.1 191.1 314.2 191.1 313.4 191.1 312.6 191.1 311.8 191.1 310.9 191.1 310.1 191.1 309.3 191.2 308.4 191.2 307.6 191.2 306.8 191.2 306.0 191.2 305.1 191.2 304.3 191.2 303.5 191.2 302.6 191.2 301.8 191.1 301.0 191.1 300.1 191.0 299.3 191.0 298.5 191.0 297.7 191.4 297.7 191.4 298.5 191.4 299.3 191.3 300.1 191.3 301.0 191.2 301.8 191.2 302.6 191.2 303.5 191.2 304.3 191.2 305.1 191.2 306.0 191.2 306.8 191.2 307.6 191.2 308.4 191.3 309.3 191.3 310.1 191.3 310.9 191.3 311.8 191.3 312.6 191.3 313.4 191.3 314.2 191.3 315.1 191.3 315.9 191.3 316.7 191.3 317.6 191.3 318.4 191.3 319.2 191.3 320.1 191.3 320.9 191.3 321.7 191.3 322.5 191.3 323.4 191.3 324.2 191.3 325.0 191.3 325.9 191.3 326.7 191.3 327.5 191.3 328.3 191.2 329.2 191.2 330.0 191.2 330.8 191.2 331.7 191.2 332.5 191.2 333.3 191.2 334.2 191.2 335.0 191.2 335.8 191.2 336.6 192.4 337.5 195.9 338.3Z" fill="#8aaed5" stroke="#4a86c0" stroke-width="0.45"/>
<path d="M186.50 338.30H195.90" stroke="#4a86c0" stroke-width="0.8"/>
<path d="M195.0 297.7h0M192.3 311.6h0M189.7 318.6h0M188.1 326.2h0" stroke="#1c5d99" stroke-width="1.2" stroke-linecap="round" fill="none" opacity="0.65"/>
<path d="M197.00 338.30H206.40" stroke="#e06a85" stroke-width="0.8"/>
<path d="M163.8 293.0V340.8H208.0" stroke="#000" stroke-width="1.4" fill="none"/>
<path d="M160.70 338.30H163.8M160.70 325.60H163.8M160.70 312.90H163.8M160.70 300.20H163.8M170.00 340.8V344.00M180.60 340.8V344.00M191.20 340.8V344.00M201.70 340.8V344.00" stroke="#000" stroke-width="1" fill="none"/>
<text x="158.50" y="340.70" font-size="6.7" text-anchor="end" font-weight="normal" font-style="normal" fill="#000" >0</text>
<text x="158.50" y="328.00" font-size="6.7" text-anchor="end" font-weight="normal" font-style="normal" fill="#000" >1</text>
<text x="158.50" y="315.30" font-size="6.7" text-anchor="end" font-weight="normal" font-style="normal" fill="#000" >2</text>
<text x="158.50" y="302.60" font-size="6.7" text-anchor="end" font-weight="normal" font-style="normal" fill="#000" >3</text>
<text x="170.00" y="352.15" font-size="7.1" text-anchor="middle" font-weight="normal" font-style="normal" fill="#000" >2</text>
<text x="180.60" y="352.15" font-size="7.1" text-anchor="middle" font-weight="normal" font-style="normal" fill="#000" >3</text>
<text x="191.20" y="352.15" font-size="7.1" text-anchor="middle" font-weight="normal" font-style="normal" fill="#000" >4</text>
<text x="201.70" y="352.15" font-size="7.1" text-anchor="middle" font-weight="normal" font-style="normal" fill="#000" >5</text>
<text transform="translate(185.85,361.80) scale(0.73,1)" font-size="8.6" text-anchor="middle" font-weight="normal" font-style="normal" fill="#000" style="stroke-width:0.3px">Cluster</text>
<text x="185.85" y="292.81" font-size="9.3" text-anchor="middle" font-weight="normal" font-style="italic" fill="#000" style="stroke:none">Il6</text>
<text transform="translate(147.12,317.80) rotate(-90)" font-size="7.4" text-anchor="middle" textLength="45.2" lengthAdjust="spacingAndGlyphs" style="stroke-width:0.2px">Log. norm. expr.</text>
<path d="M80.1 426.7 84.5 425.9 84.6 425.0 84.6 424.2 84.6 423.4 84.6 422.5 84.6 421.7 84.6 420.9 84.6 420.0 84.6 419.2 84.6 418.4 84.6 417.5 84.6 416.7 84.6 415.9 84.6 415.0 84.6 414.2 84.6 413.3 84.6 412.5 84.6 411.7 84.6 410.8 84.6 410.0 84.6 409.2 84.6 408.3 84.6 407.5 84.6 406.7 84.6 405.8 84.7 405.0 84.7 404.2 84.7 403.3 84.7 402.5 84.7 401.7 84.8 400.8 84.8 400.0 84.8 399.2 84.8 398.3 84.8 397.5 84.8 396.7 84.8 395.8 84.8 395.0 84.8 394.2 84.8 393.3 84.8 392.5 84.8 391.7 84.8 390.8 84.8 390.0 84.8 389.1 84.8 388.3 84.8 387.5 84.8 386.6 84.8 385.8 84.8 385.8 84.8 386.6 84.8 387.5 84.8 388.3 84.8 389.1 84.8 390.0 84.8 390.8 84.8 391.7 84.8 392.5 84.8 393.3 84.8 394.2 84.8 395.0 84.8 395.8 84.8 396.7 84.8 397.5 84.8 398.3 84.8 399.2 84.8 400.0 84.8 400.8 84.9 401.7 84.9 402.5 84.9 403.3 84.9 404.2 84.9 405.0 85.0 405.8 85.0 406.7 85.0 407.5 85.0 408.3 85.0 409.2 85.0 410.0 85.0 410.8 85.0 411.7 85.0 412.5 85.0 413.3 85.0 414.2 85.0 415.0 85.0 415.9 85.0 416.7 85.0 417.5 85.0 418.4 85.0 419.2 85.0 420.0 85.0 420.9 85.0 421.7 85.0 422.5 85.0 423.4 85.0 424.2 85.0 425.0 85.1 425.9 89.5 426.7Z" fill="#86cf92" stroke="#5cbf6a" stroke-width="0.45"/>
<path d="M80.10 426.70H89.50" stroke="#5cbf6a" stroke-width="0.8"/>
<path d="M84.0 412.0h0M82.0 407.8h0M88.0 409.0h0M88.9 426.3h0M82.1 416.7h0M83.1 401.3h0M86.3 396.6h0M86.9 408.4h0M84.8 404.6h0M86.4 406.6h0M84.0 425.4h0M87.2 422.8h0M84.5 415.5h0M83.2 418.5h0M88.5 411.2h0M83.7 419.0h0M83.4 426.3h0M83.0 423.4h0M86.9 425.4h0M84.7 392.7h0M82.9 405.5h0M83.0 415.6h0M84.5 420.3h0M84.8 405.1h0M84.3 417.4h0M87.7 426.3h0M82.3 424.8h0M87.9 416.0h0M82.2 417.8h0M84.4 419.4h0M85.0 426.3h0M81.7 419.3h0M82.7 408.4h0M87.5 413.0h0M84.1 407.4h0M88.5 424.1h0M80.8 417.0h0M85.0 419.7h0M89.0 412.6h0M83.3 403.7h0M85.7 419.0h0M84.7 414.0h0M84.7 426.3h0M83.6 410.0h0M83.1 415.3h0M87.9 410.3h0M88.2 412.8h0M85.9 407.7h0M85.1 409.2h0M87.0 424.2h0M85.8 413.9h0M84.2 412.2h0M83.4 403.8h0M81.3 423.5h0M87.9 414.3h0M81.5 413.3h0M84.0 416.1h0M87.4 422.9h0M83.6 424.8h0M84.0 406.0h0" stroke="#34a846" stroke-width="1.2" stroke-linecap="round" fill="none" opacity="0.65"/>
<path d="M90.7 426.7 92.3 426.4 94.5 426.1 95.3 425.7 95.4 425.4 95.4 425.1 95.4 424.8 95.4 424.5 95.4 424.1 95.4 423.8 95.4 423.5 95.4 423.2 95.4 422.9 95.4 422.5 95.4 422.2 95.4 421.9 95.4 421.6 95.4 421.3 95.4 420.9 95.4 420.6 95.4 420.3 95.4 420.0 95.4 419.7 95.4 419.3 95.4 419.0 95.4 418.7 95.3 418.4 95.3 418.1 95.3 417.8 95.3 417.4 95.3 417.1 95.3 416.8 95.3 416.5 95.3 416.2 95.3 415.8 95.2 415.5 95.2 415.2 95.2 414.9 95.2 414.6 95.2 414.2 95.2 413.9 95.2 413.6 95.2 413.3 95.2 413.0 95.2 412.6 95.2 412.3 95.2 412.0 95.2 411.7 95.2 411.4 95.2 411.0 95.6 411.0 95.6 411.4 95.6 411.7 95.6 412.0 95.6 412.3 95.6 412.6 95.6 413.0 95.6 413.3 95.6 413.6 95.6 413.9 95.6 414.2 95.6 414.6 95.6 414.9 95.6 415.2 95.6 415.5 95.5 415.8 95.5 416.2 95.5 416.5 95.5 416.8 95.5 417.1 95.5 417.4 95.5 417.8 95.5 418.1 95.5 418.4 95.4 418.7 95.4 419.0 95.4 419.3 95.4 419.7 95.4 420.0 95.4 420.3 95.4 420.6 95.4 420.9 95.4 421.3 95.4 421.6 95.4 421.9 95.4 422.2 95.4 422.5 95.4 422.9 95.4 423.2 95.4 423.5 95.4 423.8 95.4 424.1 95.4 424.5 95.4 424.8 95.4 425.1 95.4 425.4 95.5 425.7 96.3 426.1 98.5 426.4 100.1 426.7Z" fill="#ababab" stroke="#959595" stroke-width="0.45"/>
<path d="M90.70 426.70H100.10" stroke="#959595" stroke-width="0.8"/>
<path d="M96.6 411.0h0M91.5 412.8h0M97.1 416.3h0M91.6 416.3h0M99.5 413.6h0" stroke="#4a4a4a" stroke-width="1.2" stroke-linecap="round" fill="none" opacity="0.65"/>
<path d="M101.3 426.7 103.8 426.3 105.8 425.8 106.0 425.4 106.0 425.0 106.0 424.6 106.0 424.1 106.0 423.7 106.0 423.3 106.0 422.9 106.0 422.4 106.0 422.0 106.0 421.6 106.0 421.2 106.0 420.7 106.0 420.3 106.0 419.9 106.0 419.5 106.0 419.0 106.0 418.6 106.0 418.2 106.0 417.8 106.0 417.3 106.0 416.9 106.0 416.5 106.0 416.0 106.0 415.6 106.0 415.2 106.0 414.8 106.0 414.3 106.0 413.9 106.0 413.5 106.0 413.1 106.0 412.6 106.0 412.2 105.9 411.8 105.9 411.4 105.9 410.9 105.9 410.5 105.9 410.1 105.9 409.7 105.9 409.2 105.9 408.8 105.9 408.4 105.9 408.0 105.9 407.5 105.8 407.1 105.8 406.7 105.8 406.2 105.8 405.8 106.2 405.8 106.2 406.2 106.2 406.7 106.2 407.1 106.1 407.5 106.1 408.0 106.1 408.4 106.1 408.8 106.1 409.2 106.1 409.7 106.1 410.1 106.1 410.5 106.1 410.9 106.1 411.4 106.1 411.8 106.0 412.2 106.0 412.6 106.0 413.1 106.0 413.5 106.0 413.9 106.0 414.3 106.0 414.8 106.0 415.2 106.0 415.6 106.0 416.0 106.0 416.5 106.0 416.9 106.0 417.3 106.0 417.8 106.0 418.2 106.0 418.6 106.0 419.0 106.0 419.5 106.0 419.9 106.0 420.3 106.0 420.7 106.0 421.2 106.0 421.6 106.0 422.0 106.0 422.4 106.0 422.9 106.0 423.3 106.0 423.7 106.0 424.1 106.0 424.6 106.0 425.0 106.0 425.4 106.2 425.8 108.2 426.3 110.7 426.7Z" fill="#8aaed5" stroke="#4a86c0" stroke-width="0.45"/>
<path d="M101.30 426.70H110.70" stroke="#4a86c0" stroke-width="0.8"/>
<path d="M104.7 405.8h0M101.8 410.2h0" stroke="#1c5d99" stroke-width="1.2" stroke-linecap="round" fill="none" opacity="0.65"/>
<path d="M112.3 426.7 116.2 426.0 117.0 425.4 117.0 424.7 116.9 424.1 116.9 423.4 116.9 422.8 116.9 422.1 116.9 421.4 116.8 420.8 116.8 420.1 116.8 419.5 116.8 418.8 116.8 418.2 116.9 417.5 116.9 416.8 116.9 416.2 116.9 415.5 117.0 414.9 117.0 414.2 117.0 413.6 117.0 412.9 117.0 412.2 117.0 411.6 117.0 410.9 116.9 410.3 116.9 409.6 116.9 409.0 116.9 408.3 116.9 407.6 116.9 407.0 116.9 406.3 116.9 405.7 116.9 405.0 116.9 404.4 116.9 403.7 116.9 403.1 116.9 402.4 116.9 401.7 116.9 401.1 116.9 400.4 116.9 399.8 116.9 399.1 116.9 398.5 116.9 397.8 116.9 397.1 116.9 396.5 116.8 395.8 116.8 395.2 116.8 394.5 117.2 394.5 117.2 395.2 117.2 395.8 117.1 396.5 117.1 397.1 117.1 397.8 117.1 398.5 117.1 399.1 117.1 399.8 117.1 400.4 117.1 401.1 117.1 401.7 117.1 402.4 117.1 403.1 117.1 403.7 117.1 404.4 117.1 405.0 117.1 405.7 117.1 406.3 117.1 407.0 117.1 407.6 117.1 408.3 117.1 409.0 117.1 409.6 117.1 410.3 117.0 410.9 117.0 411.6 117.0 412.2 117.0 412.9 117.0 413.6 117.0 414.2 117.0 414.9 117.1 415.5 117.1 416.2 117.1 416.8 117.1 417.5 117.2 418.2 117.2 418.8 117.2 419.5 117.2 420.1 117.2 420.8 117.1 421.4 117.1 422.1 117.1 422.8 117.1 423.4 117.1 424.1 117.0 424.7 117.0 425.4 117.8 426.0 121.7 426.7Z" fill="#ee9cb0" stroke="#e06a85" stroke-width="0.45"/>
<path d="M112.30 426.70H121.70" stroke="#e06a85" stroke-width="0.8"/>
<path d="M115.4 395.4h0M116.4 404.1h0M120.9 408.4h0M118.2 417.1h0M115.5 422.3h0M116.7 419.7h0M116.9 400.6h0" stroke="#cf2750" stroke-width="1.2" stroke-linecap="round" fill="none" opacity="0.65"/>
<path d="M78.5 384.6V428.3H122.7" stroke="#000" stroke-width="1.4" fill="none"/>
<path d="M75.40 426.70H78.5M75.40 418.00H78.5M75.40 409.30H78.5M75.40 400.60H78.5M75.40 391.90H78.5M84.80 428.3V431.50M95.40 428.3V431.50M106.00 428.3V431.50M117.00 428.3V431.50" stroke="#000" stroke-width="1" fill="none"/>
<text x="73.20" y="429.10" font-size="6.7" text-anchor="end" font-weight="normal" font-style="normal" fill="#000" >0</text>
<text x="73.20" y="420.40" font-size="6.7" text-anchor="end" font-weight="normal" font-style="normal" fill="#000" >1</text>
<text x="73.20" y="411.70" font-size="6.7" text-anchor="end" font-weight="normal" font-style="normal" fill="#000" >2</text>
<text x="73.20" y="403.00" font-size="6.7" text-anchor="end" font-weight="normal" font-style="normal" fill="#000" >3</text>
<text x="73.20" y="394.30" font-size="6.7" text-anchor="end" font-weight="normal" font-style="normal" fill="#000" >4</text>
<text x="84.80" y="439.05" font-size="7.1" text-anchor="middle" font-weight="normal" font-style="normal" fill="#000" >2</text>
<text x="95.40" y="439.05" font-size="7.1" text-anchor="middle" font-weight="normal" font-style="normal" fill="#000" >3</text>
<text x="106.00" y="439.05" font-size="7.1" text-anchor="middle" font-weight="normal" font-style="normal" fill="#000" >4</text>
<text x="117.00" y="439.05" font-size="7.1" text-anchor="middle" font-weight="normal" font-style="normal" fill="#000" >5</text>
<text transform="translate(100.90,449.50) scale(0.73,1)" font-size="8.6" text-anchor="middle" font-weight="normal" font-style="normal" fill="#000" style="stroke-width:0.3px">Cluster</text>
<text x="100.90" y="377.01" font-size="9.3" text-anchor="middle" font-weight="normal" font-style="italic" fill="#000" style="stroke:none">Il22</text>
<text transform="translate(62.12,407.35) rotate(-90)" font-size="7.4" text-anchor="middle" textLength="45.2" lengthAdjust="spacingAndGlyphs" style="stroke-width:0.2px">Log. norm. expr.</text>
<path d="M165.30 426.70H174.70" stroke="#5cbf6a" stroke-width="0.8"/>
<path d="M175.9 426.7 180.2 425.8 180.5 425.0 180.5 424.1 180.5 423.3 180.5 422.4 180.4 421.6 180.4 420.7 180.4 419.9 180.4 419.0 180.4 418.2 180.4 417.3 180.5 416.5 180.5 415.6 180.5 414.8 180.5 413.9 180.5 413.1 180.6 412.2 180.6 411.4 180.6 410.5 180.6 409.7 180.6 408.8 180.6 408.0 180.6 407.1 180.6 406.3 180.6 405.4 180.6 404.6 180.6 403.7 180.6 402.9 180.6 402.0 180.6 401.2 180.6 400.3 180.6 399.5 180.6 398.6 180.6 397.8 180.6 396.9 180.6 396.1 180.6 395.2 180.6 394.4 180.6 393.5 180.6 392.7 180.6 391.8 180.5 391.0 180.5 390.1 180.5 389.3 180.5 388.4 180.5 387.6 180.4 386.7 180.4 385.9 180.4 385.0 180.8 385.0 180.8 385.9 180.8 386.7 180.7 387.6 180.7 388.4 180.7 389.3 180.7 390.1 180.7 391.0 180.6 391.8 180.6 392.7 180.6 393.5 180.6 394.4 180.6 395.2 180.6 396.1 180.6 396.9 180.6 397.8 180.6 398.6 180.6 399.5 180.6 400.3 180.6 401.2 180.6 402.0 180.6 402.9 180.6 403.7 180.6 404.6 180.6 405.4 180.6 406.3 180.6 407.1 180.6 408.0 180.6 408.8 180.6 409.7 180.6 410.5 180.6 411.4 180.6 412.2 180.7 413.1 180.7 413.9 180.7 414.8 180.7 415.6 180.7 416.5 180.8 417.3 180.8 418.2 180.8 419.0 180.8 419.9 180.8 420.7 180.8 421.6 180.7 422.4 180.7 423.3 180.7 424.1 180.7 425.0 181.0 425.8 185.3 426.7Z" fill="#ababab" stroke="#959595" stroke-width="0.45"/>
<path d="M175.90 426.70H185.30" stroke="#959595" stroke-width="0.8"/>
<path d="M182.1 419.1h0" stroke="#4a4a4a" stroke-width="1.2" stroke-linecap="round" fill="none" opacity="0.65"/>
<path d="M186.5 426.7 189.1 426.2 191.0 425.7 191.2 425.2 191.2 424.8 191.2 424.3 191.2 423.8 191.2 423.3 191.2 422.8 191.2 422.3 191.2 421.9 191.2 421.4 191.2 420.9 191.2 420.4 191.2 419.9 191.2 419.4 191.2 419.0 191.2 418.5 191.2 418.0 191.2 417.5 191.2 417.0 191.2 416.5 191.2 416.1 191.2 415.6 191.2 415.1 191.1 414.6 191.1 414.1 191.1 413.6 191.1 413.2 191.1 412.7 191.1 412.2 191.1 411.7 191.1 411.2 191.1 410.7 191.1 410.3 191.1 409.8 191.1 409.3 191.1 408.8 191.1 408.3 191.0 407.8 191.0 407.4 191.0 406.9 191.0 406.4 191.0 405.9 191.0 405.4 191.0 404.9 191.0 404.5 191.0 404.0 191.0 403.5 191.0 403.0 191.4 403.0 191.4 403.5 191.4 404.0 191.4 404.5 191.4 404.9 191.4 405.4 191.4 405.9 191.4 406.4 191.4 406.9 191.4 407.4 191.4 407.8 191.3 408.3 191.3 408.8 191.3 409.3 191.3 409.8 191.3 410.3 191.3 410.7 191.3 411.2 191.3 411.7 191.3 412.2 191.3 412.7 191.3 413.2 191.3 413.6 191.3 414.1 191.3 414.6 191.2 415.1 191.2 415.6 191.2 416.1 191.2 416.5 191.2 417.0 191.2 417.5 191.2 418.0 191.2 418.5 191.2 419.0 191.2 419.4 191.2 419.9 191.2 420.4 191.2 420.9 191.2 421.4 191.2 421.9 191.2 422.3 191.2 422.8 191.2 423.3 191.2 423.8 191.2 424.3 191.2 424.8 191.2 425.2 191.4 425.7 193.3 426.2 195.9 426.7Z" fill="#8aaed5" stroke="#4a86c0" stroke-width="0.45"/>
<path d="M186.50 426.70H195.90" stroke="#4a86c0" stroke-width="0.8"/>
<path d="M187.6 404.0h0M188.0 410.6h0" stroke="#1c5d99" stroke-width="1.2" stroke-linecap="round" fill="none" opacity="0.65"/>
<path d="M197.00 426.70H206.40" stroke="#e06a85" stroke-width="0.8"/>
<path d="M163.8 384.6V428.3H208.0" stroke="#000" stroke-width="1.4" fill="none"/>
<path d="M160.70 426.70H163.8M160.70 417.22H163.8M160.70 407.75H163.8M160.70 398.27H163.8M160.70 388.80H163.8M170.00 428.3V431.50M180.60 428.3V431.50M191.20 428.3V431.50M201.70 428.3V431.50" stroke="#000" stroke-width="1" fill="none"/>
<text x="158.50" y="429.10" font-size="6.7" text-anchor="end" font-weight="normal" font-style="normal" fill="#000" >0</text>
<text x="158.50" y="419.62" font-size="6.7" text-anchor="end" font-weight="normal" font-style="normal" fill="#000" >0.5</text>
<text x="158.50" y="410.15" font-size="6.7" text-anchor="end" font-weight="normal" font-style="normal" fill="#000" >1</text>
<text x="158.50" y="400.67" font-size="6.7" text-anchor="end" font-weight="normal" font-style="normal" fill="#000" >1.5</text>
<text x="158.50" y="391.20" font-size="6.7" text-anchor="end" font-weight="normal" font-style="normal" fill="#000" >2</text>
<text x="170.00" y="439.05" font-size="7.1" text-anchor="middle" font-weight="normal" font-style="normal" fill="#000" >2</text>
<text x="180.60" y="439.05" font-size="7.1" text-anchor="middle" font-weight="normal" font-style="normal" fill="#000" >3</text>
<text x="191.20" y="439.05" font-size="7.1" text-anchor="middle" font-weight="normal" font-style="normal" fill="#000" >4</text>
<text x="201.70" y="439.05" font-size="7.1" text-anchor="middle" font-weight="normal" font-style="normal" fill="#000" >5</text>
<text transform="translate(185.85,449.50) scale(0.73,1)" font-size="8.6" text-anchor="middle" font-weight="normal" font-style="normal" fill="#000" style="stroke-width:0.3px">Cluster</text>
<text x="185.85" y="377.01" font-size="9.3" text-anchor="middle" font-weight="normal" font-style="italic" fill="#000" style="stroke:none">Il3</text>
<text transform="translate(141.12,407.35) rotate(-90)" font-size="7.4" text-anchor="middle" textLength="45.2" lengthAdjust="spacingAndGlyphs" style="stroke-width:0.2px">Log. norm. expr.</text>
<path d="M282.8 303.0 283.2 302.3 284.3 301.5 285.6 300.8 286.5 300.0 287.1 299.3 287.1 298.5 287.1 297.8 287.1 297.1 287.0 296.3 287.0 295.6 287.0 294.8 286.9 294.1 286.9 293.3 286.9 292.6 286.8 291.9 286.8 291.1 286.8 290.4 286.8 289.6 286.8 288.9 286.8 288.1 286.8 287.4 286.8 286.7 286.9 285.9 286.9 285.2 286.9 284.4 287.0 283.7 287.0 282.9 287.0 282.2 287.1 281.5 287.1 280.7 287.1 280.0 287.2 279.2 287.2 278.5 287.2 277.7 287.3 277.0 287.3 276.3 287.3 275.5 287.4 274.8 287.4 274.0 287.4 273.3 287.4 272.5 287.4 271.8 287.4 271.1 287.5 270.3 287.5 269.6 287.5 268.8 287.5 268.1 287.5 267.3 287.5 266.6 287.5 266.6 287.5 267.3 287.5 268.1 287.5 268.8 287.5 269.6 287.5 270.3 287.6 271.1 287.6 271.8 287.6 272.5 287.6 273.3 287.6 274.0 287.6 274.8 287.7 275.5 287.7 276.3 287.7 277.0 287.8 277.7 287.8 278.5 287.8 279.2 287.9 280.0 287.9 280.7 287.9 281.5 288.0 282.2 288.0 282.9 288.0 283.7 288.1 284.4 288.1 285.2 288.1 285.9 288.2 286.7 288.2 287.4 288.2 288.1 288.2 288.9 288.2 289.6 288.2 290.4 288.2 291.1 288.2 291.9 288.1 292.6 288.1 293.3 288.1 294.1 288.0 294.8 288.0 295.6 288.0 296.3 287.9 297.1 287.9 297.8 287.9 298.5 287.9 299.3 288.5 300.0 289.4 300.8 290.7 301.5 291.8 302.3 292.2 303.0Z" fill="#86cf92" stroke="#5cbf6a" stroke-width="0.45"/>
<path d="M282.80 303.00H292.20" stroke="#5cbf6a" stroke-width="0.8"/>
<path d="M285.4 272.9h0M289.8 283.6h0M283.2 288.9h0M289.4 287.5h0M285.7 280.4h0M286.8 296.4h0M290.5 302.3h0M287.8 292.0h0M289.1 288.4h0M289.1 287.4h0M289.3 289.7h0M286.9 297.4h0M283.3 288.8h0M283.6 274.1h0M290.3 291.2h0M291.2 285.1h0M288.3 296.7h0M287.8 292.1h0M290.6 290.2h0M283.6 283.7h0M284.8 287.6h0M285.2 290.4h0M287.8 286.2h0M290.2 293.2h0M291.1 276.9h0M284.7 287.7h0M290.3 288.6h0M284.8 293.1h0M285.5 285.4h0M289.8 287.6h0M289.2 293.9h0M288.3 291.3h0M291.3 302.3h0M283.4 290.5h0M287.4 289.9h0M284.1 301.6h0M289.1 293.6h0M283.7 280.1h0M286.0 293.4h0M288.7 280.3h0M284.0 302.3h0M286.9 287.2h0M291.6 295.9h0M288.6 296.5h0M286.1 286.2h0M285.4 285.4h0M288.3 301.1h0M285.4 299.7h0M289.4 284.9h0M290.5 292.0h0M283.4 283.1h0M283.5 287.8h0M287.8 280.8h0M290.6 281.1h0M286.1 296.4h0M288.6 284.4h0M288.1 288.4h0M288.2 288.5h0M285.7 286.1h0M285.6 284.4h0M287.8 302.3h0M290.9 285.8h0M289.7 291.5h0M290.3 280.7h0M291.3 274.9h0M286.5 289.2h0M285.5 290.2h0M291.1 286.4h0M287.5 292.9h0M284.4 280.3h0M286.7 284.8h0M287.6 290.6h0M289.0 297.4h0M289.9 281.0h0M289.1 286.7h0M285.8 280.1h0M284.1 301.4h0M289.0 284.0h0M288.7 290.7h0M289.3 292.7h0M288.7 285.6h0M283.9 276.9h0M290.8 291.7h0M285.7 289.4h0M285.0 298.2h0M290.4 286.5h0M288.8 294.3h0M289.0 287.0h0M285.0 282.1h0M287.5 283.4h0M291.6 283.8h0M290.6 271.2h0M284.7 293.2h0M286.4 295.7h0M286.0 282.6h0M289.7 287.7h0M284.6 299.6h0M283.8 284.7h0M290.1 275.7h0M284.4 300.3h0M289.7 287.6h0M288.5 296.0h0M285.6 279.4h0M284.1 282.9h0M283.7 286.9h0M290.1 282.2h0M287.6 296.2h0M285.8 287.7h0M291.3 291.9h0M285.7 297.1h0M286.6 276.1h0M286.4 293.2h0M285.4 293.1h0M285.3 294.7h0M284.6 284.1h0M289.0 292.2h0M283.9 284.5h0M291.6 290.4h0M289.8 294.6h0M283.6 298.8h0M285.8 297.9h0M285.3 302.3h0M288.2 293.9h0M287.1 284.8h0M287.7 283.9h0M288.9 282.7h0M286.8 295.6h0M283.6 300.2h0M283.5 287.9h0M289.5 291.6h0M290.3 285.2h0M290.7 289.6h0M284.1 286.9h0M289.8 295.4h0M286.0 286.0h0M287.8 296.6h0M284.7 276.1h0M290.3 290.8h0M284.8 290.9h0M289.2 295.9h0M283.8 295.5h0M289.9 287.2h0M289.3 279.0h0M290.4 288.1h0M283.8 290.4h0M285.6 294.5h0M286.1 291.0h0M287.2 276.3h0M283.7 294.8h0M283.6 288.3h0M290.8 290.0h0M288.8 285.6h0M284.9 293.2h0M288.6 300.6h0M283.8 293.4h0M288.9 294.4h0M290.9 292.6h0M284.9 301.4h0M288.4 287.4h0M286.0 300.1h0M285.1 278.3h0M289.3 282.0h0M287.4 283.9h0M289.5 286.4h0M291.1 290.4h0M287.9 278.5h0M286.3 287.3h0M283.3 287.1h0M289.3 291.0h0M286.5 294.7h0M283.7 289.2h0M290.1 300.8h0M287.4 302.3h0M288.3 291.3h0M287.7 297.9h0M291.6 291.2h0M291.5 295.6h0M286.4 278.1h0M284.9 297.0h0M288.5 287.6h0M286.6 282.9h0M291.8 302.3h0M285.3 281.6h0M291.6 290.0h0M291.1 284.4h0M286.1 282.1h0M288.9 295.8h0M284.5 294.0h0M288.1 280.2h0M285.3 288.3h0M289.9 294.2h0M290.4 279.9h0M285.2 292.8h0M290.0 279.8h0M285.2 279.0h0M285.1 285.8h0M285.1 278.3h0M291.3 287.4h0M291.7 292.2h0M291.3 291.6h0" stroke="#34a846" stroke-width="1.2" stroke-linecap="round" fill="none" opacity="0.65"/>
<path d="M293.3 303.0 293.4 302.2 293.7 301.4 294.1 300.6 294.6 299.8 295.2 299.0 295.8 298.2 296.3 297.4 296.8 296.6 297.1 295.8 297.4 295.0 297.5 294.2 297.4 293.4 297.4 292.6 297.3 291.8 297.2 291.0 297.2 290.2 297.1 289.4 297.0 288.6 297.0 287.8 296.9 287.0 296.9 286.2 296.8 285.4 296.8 284.6 296.8 283.8 296.8 283.0 296.9 282.2 296.9 281.4 297.0 280.6 297.0 279.8 297.1 279.0 297.2 278.2 297.3 277.4 297.4 276.6 297.4 275.8 297.5 275.0 297.6 274.2 297.6 273.4 297.7 272.6 297.7 271.8 297.8 271.0 297.8 270.2 297.9 269.4 297.9 268.6 297.9 267.8 297.9 267.0 297.9 266.2 297.9 265.4 298.0 264.6 298.0 263.8 298.0 263.8 298.0 264.6 298.1 265.4 298.1 266.2 298.1 267.0 298.1 267.8 298.1 268.6 298.1 269.4 298.2 270.2 298.2 271.0 298.3 271.8 298.3 272.6 298.4 273.4 298.4 274.2 298.5 275.0 298.6 275.8 298.6 276.6 298.7 277.4 298.8 278.2 298.9 279.0 299.0 279.8 299.0 280.6 299.1 281.4 299.1 282.2 299.2 283.0 299.2 283.8 299.2 284.6 299.2 285.4 299.1 286.2 299.1 287.0 299.0 287.8 299.0 288.6 298.9 289.4 298.8 290.2 298.8 291.0 298.7 291.8 298.6 292.6 298.6 293.4 298.5 294.2 298.6 295.0 298.9 295.8 299.2 296.6 299.7 297.4 300.2 298.2 300.8 299.0 301.4 299.8 301.9 300.6 302.3 301.4 302.6 302.2 302.7 303.0Z" fill="#ababab" stroke="#959595" stroke-width="0.45"/>
<path d="M293.30 303.00H302.70" stroke="#959595" stroke-width="0.8"/>
<path d="M300.3 272.6h0M298.3 285.1h0M298.6 275.7h0M296.6 282.9h0M294.7 288.3h0M296.0 286.3h0M297.5 279.5h0M298.0 288.7h0M295.4 286.6h0M293.9 272.1h0M299.9 286.0h0M294.0 279.4h0M301.5 277.6h0M302.1 285.4h0M296.7 284.8h0M302.0 288.7h0M294.3 291.5h0M296.5 278.9h0M294.1 277.2h0M302.2 287.8h0M301.8 274.4h0M299.8 283.0h0M301.0 293.5h0M293.9 289.9h0M293.9 279.4h0M298.3 298.1h0M298.8 280.3h0M295.9 280.6h0M297.1 275.9h0M297.0 294.3h0M294.3 276.9h0M299.3 276.6h0M300.0 290.5h0M297.5 280.6h0M302.1 283.4h0M298.3 293.6h0M298.6 280.8h0M301.6 285.0h0M295.4 294.2h0M299.2 282.0h0M295.4 285.0h0M300.1 280.2h0M298.1 281.5h0M294.8 287.7h0M302.0 291.8h0M301.6 276.6h0M300.0 275.4h0M297.4 290.0h0M300.1 279.3h0M296.2 282.2h0M299.9 284.3h0M298.6 279.4h0M294.2 285.0h0M296.3 266.9h0M298.5 288.4h0M300.9 282.2h0M298.8 296.6h0M297.0 281.9h0M300.3 290.3h0M301.7 302.3h0M297.7 286.2h0M302.0 280.7h0M302.1 289.1h0M294.1 283.9h0M299.8 287.3h0M299.0 283.9h0M298.6 299.6h0M295.2 281.7h0M300.4 292.6h0M301.5 284.8h0M297.0 285.0h0M301.1 286.5h0M295.1 279.7h0M296.0 291.3h0M295.9 287.6h0M296.8 269.0h0M299.2 275.1h0M299.9 280.7h0M299.1 281.9h0M295.9 277.2h0M298.9 287.7h0M297.5 292.7h0M295.4 285.9h0M297.6 290.3h0M293.9 281.6h0M296.2 293.2h0M300.8 285.0h0M299.1 285.0h0M295.3 277.2h0M298.1 281.7h0M301.6 285.6h0M298.0 290.3h0M297.9 271.8h0M298.7 284.2h0M300.8 282.3h0M300.1 284.7h0M298.7 283.4h0M298.3 288.1h0M294.1 275.6h0M301.3 274.2h0M301.8 285.0h0M298.2 277.0h0M299.3 284.6h0M298.0 289.5h0M297.6 282.5h0M299.9 272.9h0M294.3 279.7h0M299.3 292.4h0M299.4 276.7h0M300.1 279.3h0M299.8 282.3h0M299.7 278.0h0M294.5 289.1h0M298.1 282.3h0M296.9 279.9h0M297.3 287.5h0M300.4 290.0h0M294.0 280.2h0M295.4 269.4h0M298.4 296.7h0M301.3 286.5h0M299.0 296.1h0M300.5 286.3h0M301.5 293.9h0M295.4 285.2h0M295.8 292.2h0M296.3 288.4h0M299.6 292.2h0M299.5 275.3h0M298.9 285.4h0M299.0 283.8h0M295.4 287.3h0M297.3 284.4h0M294.2 288.9h0M301.4 284.4h0M294.0 293.8h0M295.1 277.4h0M299.8 286.0h0M302.1 287.5h0M294.3 281.0h0M301.8 282.5h0M302.0 277.3h0M301.2 290.8h0M300.5 289.1h0M300.2 292.3h0M294.6 299.7h0M296.3 288.3h0M300.6 294.7h0M295.2 283.4h0M295.5 300.4h0M297.6 282.4h0M295.1 280.4h0M299.6 294.3h0M301.4 280.0h0M296.8 286.9h0M295.1 282.7h0M302.2 287.9h0M299.2 302.3h0M302.1 293.1h0M302.0 274.8h0M295.5 282.3h0M299.9 288.5h0M298.0 285.9h0M302.1 284.9h0M294.5 281.9h0" stroke="#4a4a4a" stroke-width="1.2" stroke-linecap="round" fill="none" opacity="0.65"/>
<path d="M304.0 303.0 304.1 302.2 304.4 301.3 304.8 300.5 305.3 299.7 305.8 298.9 306.4 298.0 306.9 297.2 307.3 296.4 307.7 295.5 308.0 294.7 308.1 293.9 308.0 293.1 308.0 292.2 307.9 291.4 307.8 290.6 307.8 289.7 307.7 288.9 307.6 288.1 307.5 287.3 307.5 286.4 307.4 285.6 307.3 284.8 307.3 283.9 307.3 283.1 307.3 282.3 307.3 281.5 307.4 280.6 307.4 279.8 307.5 279.0 307.6 278.1 307.7 277.3 307.7 276.5 307.8 275.7 307.9 274.8 307.9 274.0 308.0 273.2 308.1 272.3 308.1 271.5 308.2 270.7 308.2 269.9 308.3 269.0 308.4 268.2 308.4 267.4 308.5 266.5 308.5 265.7 308.5 264.9 308.6 264.1 308.6 263.2 308.6 262.4 308.8 262.4 308.8 263.2 308.8 264.1 308.9 264.9 308.9 265.7 308.9 266.5 309.0 267.4 309.0 268.2 309.1 269.0 309.2 269.9 309.2 270.7 309.3 271.5 309.3 272.3 309.4 273.2 309.5 274.0 309.5 274.8 309.6 275.7 309.7 276.5 309.7 277.3 309.8 278.1 309.9 279.0 310.0 279.8 310.0 280.6 310.1 281.5 310.1 282.3 310.1 283.1 310.1 283.9 310.1 284.8 310.0 285.6 309.9 286.4 309.9 287.3 309.8 288.1 309.7 288.9 309.6 289.7 309.6 290.6 309.5 291.4 309.4 292.2 309.4 293.1 309.3 293.9 309.4 294.7 309.7 295.5 310.1 296.4 310.5 297.2 311.0 298.0 311.6 298.9 312.1 299.7 312.6 300.5 313.0 301.3 313.3 302.2 313.4 303.0Z" fill="#8aaed5" stroke="#4a86c0" stroke-width="0.45"/>
<path d="M304.00 303.00H313.40" stroke="#4a86c0" stroke-width="0.8"/>
<path d="M311.7 282.5h0M304.9 283.9h0M310.3 282.4h0M307.8 282.2h0M308.7 283.9h0M312.7 283.8h0M306.9 282.0h0M307.1 284.0h0M309.3 291.4h0M308.0 292.5h0M308.7 284.5h0M305.6 268.7h0M304.6 274.3h0M311.8 282.9h0M304.8 282.6h0M311.1 276.2h0M312.9 296.5h0M306.2 271.1h0M308.8 297.9h0M304.7 280.5h0M307.7 291.2h0M309.2 270.0h0M312.6 279.4h0M304.8 274.3h0M310.4 296.3h0M305.3 285.1h0M308.1 274.5h0M308.2 293.5h0M310.3 272.2h0M307.2 280.9h0M307.4 283.5h0M309.1 268.0h0M306.7 288.6h0M308.4 281.3h0M304.9 284.9h0M310.0 289.6h0M311.9 269.3h0M312.1 297.2h0M308.9 282.5h0M305.9 277.2h0M305.1 294.7h0M311.0 283.0h0M311.9 284.8h0M307.4 285.9h0M308.2 289.6h0M304.6 266.6h0M305.3 282.0h0M309.3 280.2h0M312.1 302.3h0M305.6 291.0h0M307.2 291.8h0M310.2 288.1h0M310.2 285.7h0M304.7 272.6h0M312.0 286.0h0M310.4 281.9h0M309.2 279.2h0M306.3 262.4h0M307.5 286.9h0M307.2 285.3h0M308.2 267.7h0M312.6 278.1h0M306.5 287.3h0M306.0 280.8h0M310.8 287.0h0M311.8 277.2h0M310.9 292.6h0M311.2 287.6h0M307.4 296.8h0M312.4 274.7h0M308.7 272.7h0M311.6 271.5h0M305.5 287.5h0M304.9 289.4h0M308.3 282.1h0M308.9 284.8h0M309.1 273.6h0M305.2 273.8h0M305.2 300.2h0M307.7 282.0h0M306.8 285.0h0M311.8 290.4h0M312.1 286.1h0M309.3 282.4h0M310.0 282.4h0M305.3 288.7h0M311.3 302.3h0M313.0 288.4h0M308.1 292.8h0M305.9 274.2h0M305.3 271.1h0M310.2 285.5h0M310.1 288.2h0M313.0 282.1h0M310.9 273.2h0M311.8 284.1h0M306.5 291.8h0M312.2 277.7h0M311.2 297.7h0M306.9 295.4h0M310.7 284.2h0M311.8 285.7h0M305.9 285.6h0M311.1 278.2h0M310.3 269.1h0M310.1 275.7h0M312.2 278.6h0M309.3 275.3h0M312.4 279.4h0M307.9 270.4h0M311.4 282.9h0M311.9 276.4h0M304.9 273.5h0M308.6 280.6h0M312.5 277.3h0M309.4 284.1h0M305.7 281.2h0M311.3 294.8h0M311.7 283.7h0M312.8 283.7h0M309.3 285.3h0M312.0 295.0h0M309.6 293.3h0M305.0 289.0h0M307.6 282.9h0M309.8 291.2h0M309.6 289.0h0M307.3 277.7h0M312.9 276.4h0M312.4 282.4h0M312.5 294.9h0M311.1 291.2h0M307.9 287.0h0M308.3 289.9h0M308.6 281.8h0M307.6 277.5h0M310.5 282.4h0M309.3 276.3h0M309.7 282.0h0M305.5 285.7h0M309.2 288.3h0M308.6 276.5h0M304.6 282.9h0M310.3 279.0h0M311.3 281.5h0M306.3 289.1h0M308.9 262.4h0M307.2 276.3h0M307.6 279.0h0M310.2 287.2h0M308.6 295.7h0M307.2 279.1h0M308.7 273.2h0M307.8 280.8h0M312.7 279.2h0M310.0 282.1h0M304.5 292.5h0M311.0 275.6h0M308.0 283.0h0M308.9 277.5h0M310.0 270.7h0M308.0 272.1h0M310.6 284.7h0M307.8 277.9h0M305.5 288.6h0M305.9 289.9h0M309.1 293.5h0M307.4 283.0h0M306.7 274.1h0M310.0 277.6h0" stroke="#1c5d99" stroke-width="1.2" stroke-linecap="round" fill="none" opacity="0.65"/>
<path d="M314.5 303.0 319.0 302.3 319.1 301.6 319.1 300.9 319.1 300.3 319.0 299.6 319.0 298.9 319.0 298.2 319.0 297.5 319.0 296.8 318.9 296.1 318.9 295.5 318.9 294.8 318.8 294.1 318.8 293.4 318.8 292.7 318.8 292.0 318.7 291.3 318.7 290.7 318.7 290.0 318.7 289.3 318.6 288.6 318.6 287.9 318.6 287.2 318.6 286.5 318.7 285.9 318.7 285.2 318.7 284.5 318.7 283.8 318.8 283.1 318.8 282.4 318.8 281.7 318.9 281.1 318.9 280.4 318.9 279.7 319.0 279.0 319.0 278.3 319.0 277.6 319.0 276.9 319.0 276.3 319.0 275.6 319.1 274.9 319.1 274.2 319.1 273.5 319.1 272.8 319.1 272.1 319.1 271.5 319.1 270.8 319.1 270.1 319.1 269.4 319.3 269.4 319.3 270.1 319.3 270.8 319.3 271.5 319.3 272.1 319.3 272.8 319.3 273.5 319.3 274.2 319.3 274.9 319.4 275.6 319.4 276.3 319.4 276.9 319.4 277.6 319.4 278.3 319.4 279.0 319.5 279.7 319.5 280.4 319.5 281.1 319.6 281.7 319.6 282.4 319.6 283.1 319.7 283.8 319.7 284.5 319.7 285.2 319.7 285.9 319.8 286.5 319.8 287.2 319.8 287.9 319.8 288.6 319.7 289.3 319.7 290.0 319.7 290.7 319.7 291.3 319.6 292.0 319.6 292.7 319.6 293.4 319.6 294.1 319.5 294.8 319.5 295.5 319.5 296.1 319.4 296.8 319.4 297.5 319.4 298.2 319.4 298.9 319.4 299.6 319.3 300.3 319.3 300.9 319.3 301.6 319.4 302.3 323.9 303.0Z" fill="#ee9cb0" stroke="#e06a85" stroke-width="0.45"/>
<path d="M314.50 303.00H323.90" stroke="#e06a85" stroke-width="0.8"/>
<path d="M319.1 283.7h0M323.4 292.7h0M319.4 294.3h0M317.5 296.2h0M320.0 290.6h0M320.0 287.7h0M318.5 299.0h0M321.8 292.2h0M315.0 286.3h0M318.8 290.0h0M322.8 291.5h0M319.7 274.7h0M317.6 280.8h0M318.3 287.7h0M321.3 284.1h0M322.5 281.2h0M322.2 289.8h0M319.0 297.5h0M320.3 277.0h0M320.2 286.1h0M318.5 287.6h0M316.1 272.6h0M314.9 281.2h0M321.7 287.9h0M316.1 282.2h0M317.3 286.0h0M316.3 293.4h0M318.3 269.4h0M321.7 292.0h0M318.2 288.2h0M317.2 285.0h0M323.5 272.1h0M321.6 274.1h0M315.4 283.5h0M317.8 282.4h0M322.9 269.4h0M318.0 272.2h0M318.4 287.8h0M318.4 284.1h0M322.4 287.7h0M315.0 288.0h0M319.1 283.1h0M319.5 274.4h0M318.3 289.7h0M316.1 300.1h0M322.8 296.1h0M321.1 297.1h0M323.1 288.2h0M319.4 284.7h0M315.7 298.0h0M317.1 301.0h0M320.3 283.2h0M314.9 284.0h0M322.4 291.0h0M316.7 286.6h0M323.3 287.1h0M318.6 280.6h0M315.2 278.7h0M319.9 301.2h0M321.2 292.0h0M322.2 279.6h0M319.4 281.9h0M323.1 289.3h0M315.6 286.7h0M322.1 287.4h0M318.7 290.3h0M319.4 290.4h0M316.6 292.9h0M321.0 294.3h0M318.4 287.3h0M323.1 289.0h0M320.8 281.0h0M323.3 289.8h0M318.8 299.1h0M316.0 283.4h0M316.4 291.7h0M315.4 284.7h0M315.2 286.3h0M322.1 293.0h0M322.2 294.2h0" stroke="#cf2750" stroke-width="1.2" stroke-linecap="round" fill="none" opacity="0.65"/>
<path d="M281.3 257.7V305.4H327.0" stroke="#000" stroke-width="1.4" fill="none"/>
<path d="M278.20 303.00H281.3M278.20 289.00H281.3M278.20 275.00H281.3M287.50 305.4V308.60M298.00 305.4V308.60M308.70 305.4V308.60M319.20 305.4V308.60" stroke="#000" stroke-width="1" fill="none"/>
<text x="276.00" y="305.40" font-size="6.7" text-anchor="end" font-weight="normal" font-style="normal" fill="#000" >0</text>
<text x="276.00" y="291.40" font-size="6.7" text-anchor="end" font-weight="normal" font-style="normal" fill="#000" >1</text>
<text x="276.00" y="277.40" font-size="6.7" text-anchor="end" font-weight="normal" font-style="normal" fill="#000" >2</text>
<text x="287.50" y="316.55" font-size="7.1" text-anchor="middle" font-weight="normal" font-style="normal" fill="#000" >2</text>
<text x="298.00" y="316.55" font-size="7.1" text-anchor="middle" font-weight="normal" font-style="normal" fill="#000" >3</text>
<text x="308.70" y="316.55" font-size="7.1" text-anchor="middle" font-weight="normal" font-style="normal" fill="#000" >4</text>
<text x="319.20" y="316.55" font-size="7.1" text-anchor="middle" font-weight="normal" font-style="normal" fill="#000" >5</text>
<text transform="translate(303.35,326.70) scale(0.73,1)" font-size="8.6" text-anchor="middle" font-weight="normal" font-style="normal" fill="#000" style="stroke-width:0.3px">Cluster</text>
<text x="303.35" y="257.90" font-size="8.4" text-anchor="middle" font-weight="normal" font-style="italic" fill="#000" style="stroke:none">Tbx21</text>
<text transform="translate(266.12,282.45) rotate(-90)" font-size="7.4" text-anchor="middle" textLength="45.2" lengthAdjust="spacingAndGlyphs" style="stroke-width:0.2px">Log. norm. expr.</text>
<path d="M356.1 303.0 360.7 302.4 360.6 301.7 360.6 301.1 360.6 300.5 360.5 299.8 360.5 299.2 360.5 298.6 360.5 297.9 360.4 297.3 360.4 296.7 360.4 296.0 360.4 295.4 360.3 294.8 360.3 294.1 360.3 293.5 360.3 292.9 360.2 292.2 360.2 291.6 360.2 291.0 360.3 290.3 360.3 289.7 360.3 289.1 360.4 288.4 360.4 287.8 360.5 287.2 360.5 286.5 360.6 285.9 360.6 285.3 360.6 284.6 360.7 284.0 360.7 283.4 360.7 282.7 360.7 282.1 360.7 281.5 360.8 280.8 360.8 280.2 360.8 279.6 360.8 278.9 360.8 278.3 360.8 277.7 360.8 277.0 360.8 276.4 360.8 275.8 360.8 275.1 360.8 274.5 360.8 273.9 360.8 273.2 360.8 272.6 360.8 271.9 360.8 271.9 360.8 272.6 360.8 273.2 360.8 273.9 360.8 274.5 360.8 275.1 360.8 275.8 360.8 276.4 360.8 277.0 360.8 277.7 360.8 278.3 360.8 278.9 360.8 279.6 360.8 280.2 360.8 280.8 360.9 281.5 360.9 282.1 360.9 282.7 360.9 283.4 360.9 284.0 361.0 284.6 361.0 285.3 361.0 285.9 361.1 286.5 361.1 287.2 361.2 287.8 361.2 288.4 361.3 289.1 361.3 289.7 361.3 290.3 361.4 291.0 361.4 291.6 361.4 292.2 361.3 292.9 361.3 293.5 361.3 294.1 361.3 294.8 361.2 295.4 361.2 296.0 361.2 296.7 361.2 297.3 361.1 297.9 361.1 298.6 361.1 299.2 361.1 299.8 361.0 300.5 361.0 301.1 361.0 301.7 360.9 302.4 365.5 303.0Z" fill="#86cf92" stroke="#5cbf6a" stroke-width="0.45"/>
<path d="M356.10 303.00H365.50" stroke="#5cbf6a" stroke-width="0.8"/>
<path d="M358.7 295.2h0M359.1 292.1h0M358.0 297.6h0M363.3 295.5h0M357.3 297.2h0M359.3 301.1h0M362.0 298.6h0M364.4 297.8h0M360.8 296.9h0M357.4 289.7h0M360.2 294.0h0M360.9 296.6h0M359.5 289.9h0M361.9 292.8h0M356.7 300.3h0M364.1 289.2h0M365.1 293.9h0M358.8 293.1h0M365.1 293.8h0M357.9 295.4h0M360.5 291.7h0M361.9 293.2h0M359.6 299.9h0M357.5 289.4h0M360.1 290.9h0M364.6 300.0h0M359.9 292.7h0M361.1 297.9h0M359.3 289.6h0M359.6 299.5h0M359.5 287.6h0M359.9 297.8h0M360.7 290.2h0M359.1 288.4h0M358.5 283.8h0M363.3 291.5h0M362.4 291.9h0M362.8 290.4h0M362.1 286.9h0M363.9 291.4h0M356.6 289.8h0M360.1 280.7h0M363.7 287.2h0M364.9 292.2h0M358.2 286.5h0M361.1 290.3h0M364.5 290.9h0M363.2 291.0h0M363.0 299.2h0M364.1 291.7h0M359.2 292.0h0M357.8 286.8h0M362.1 286.3h0M364.7 299.5h0M362.6 294.8h0M358.6 295.0h0M360.2 291.4h0M363.8 294.0h0M364.8 288.9h0M363.6 302.0h0M360.7 290.2h0M364.2 290.7h0M362.6 290.9h0M362.9 287.2h0M360.4 298.5h0M361.3 297.8h0M359.4 294.1h0M359.5 289.8h0M358.6 289.3h0M358.0 296.2h0M357.8 292.8h0M357.8 293.4h0M364.0 299.5h0M364.5 286.6h0M357.0 288.6h0M358.6 288.5h0M359.1 298.4h0M356.9 293.4h0M363.2 294.7h0M362.0 289.8h0M361.0 300.5h0M358.5 290.0h0M361.0 292.7h0M359.1 287.5h0M360.6 295.2h0M359.7 291.4h0M358.4 295.0h0M357.4 301.2h0M357.4 295.3h0M357.6 289.7h0M357.6 288.4h0M357.8 294.7h0M357.9 294.6h0M363.0 293.8h0M360.7 292.3h0M359.0 293.3h0M359.9 294.9h0M362.3 291.3h0M358.0 281.7h0M357.1 291.5h0M359.4 287.6h0M360.8 301.4h0M360.3 291.1h0M361.0 296.2h0M357.0 285.0h0M356.6 289.1h0M360.4 287.2h0M357.0 293.0h0M360.5 290.7h0M364.7 301.0h0M359.8 292.8h0M361.2 298.4h0M363.4 289.4h0M359.2 293.9h0M362.9 302.4h0M362.3 302.4h0M357.0 298.2h0M360.4 290.7h0M357.3 290.9h0M364.7 300.4h0M359.8 296.5h0M362.6 287.1h0M363.5 292.1h0M362.0 290.6h0M358.1 290.4h0M357.2 287.9h0M358.8 288.4h0M360.0 280.5h0M356.6 296.5h0M358.5 294.0h0" stroke="#34a846" stroke-width="1.2" stroke-linecap="round" fill="none" opacity="0.65"/>
<path d="M366.6 303.0 366.7 302.3 366.9 301.6 367.3 301.0 367.7 300.3 368.2 299.6 368.8 298.9 369.3 298.2 369.7 297.6 370.1 296.9 370.5 296.2 370.7 295.5 370.6 294.8 370.5 294.2 370.5 293.5 370.5 292.8 370.4 292.1 370.4 291.4 370.4 290.7 370.4 290.1 370.4 289.4 370.4 288.7 370.4 288.0 370.4 287.3 370.4 286.7 370.5 286.0 370.5 285.3 370.5 284.6 370.6 283.9 370.6 283.3 370.7 282.6 370.7 281.9 370.7 281.2 370.8 280.5 370.8 279.9 370.9 279.2 370.9 278.5 370.9 277.8 371.0 277.1 371.0 276.5 371.0 275.8 371.0 275.1 371.1 274.4 371.1 273.7 371.1 273.1 371.1 272.4 371.1 271.7 371.2 271.0 371.2 270.3 371.2 269.6 371.4 269.6 371.4 270.3 371.4 271.0 371.5 271.7 371.5 272.4 371.5 273.1 371.5 273.7 371.5 274.4 371.6 275.1 371.6 275.8 371.6 276.5 371.6 277.1 371.7 277.8 371.7 278.5 371.7 279.2 371.8 279.9 371.8 280.5 371.9 281.2 371.9 281.9 371.9 282.6 372.0 283.3 372.0 283.9 372.1 284.6 372.1 285.3 372.1 286.0 372.2 286.7 372.2 287.3 372.2 288.0 372.2 288.7 372.2 289.4 372.2 290.1 372.2 290.7 372.2 291.4 372.2 292.1 372.1 292.8 372.1 293.5 372.1 294.2 372.0 294.8 371.9 295.5 372.1 296.2 372.5 296.9 372.9 297.6 373.3 298.2 373.8 298.9 374.4 299.6 374.9 300.3 375.3 301.0 375.7 301.6 375.9 302.3 376.0 303.0Z" fill="#ababab" stroke="#959595" stroke-width="0.45"/>
<path d="M366.60 303.00H376.00" stroke="#959595" stroke-width="0.8"/>
<path d="M372.6 285.0h0M367.6 281.8h0M367.9 292.4h0M372.4 284.2h0M375.0 294.9h0M368.1 277.1h0M370.4 285.1h0M372.9 269.6h0M370.0 280.6h0M368.1 292.6h0M367.7 293.6h0M372.9 294.3h0M375.4 279.3h0M368.0 296.3h0M374.4 287.6h0M372.2 290.0h0M368.3 293.4h0M368.0 287.5h0M368.6 289.4h0M371.2 278.3h0M367.1 284.7h0M368.6 275.4h0M368.7 281.2h0M369.3 291.3h0M367.9 288.9h0M371.8 297.8h0M371.1 289.9h0M373.4 300.6h0M368.9 293.4h0M373.9 287.1h0M367.5 286.4h0M367.3 284.8h0M367.0 290.0h0M369.1 290.2h0M375.6 284.9h0M371.0 281.2h0M372.7 286.2h0M367.7 275.6h0M367.0 291.6h0M370.3 279.5h0M368.6 284.9h0M369.0 281.9h0M373.2 275.3h0M369.5 286.7h0M372.2 289.9h0M371.1 287.5h0M371.9 291.1h0M367.7 301.0h0M372.2 297.9h0M367.8 287.1h0M367.6 295.1h0M372.5 283.4h0M373.7 288.2h0M372.6 287.4h0M374.6 273.9h0M369.6 290.3h0M372.9 280.3h0M372.7 282.9h0M375.1 282.6h0M368.2 295.2h0M370.4 292.9h0M367.0 291.2h0M367.7 295.5h0M370.6 295.8h0M372.3 287.7h0M372.0 283.8h0M367.8 283.7h0M372.4 275.1h0M374.4 292.1h0M375.1 288.6h0M367.8 296.1h0M371.9 284.1h0M373.1 286.0h0M372.4 285.6h0M374.7 280.7h0M368.1 293.7h0M373.5 300.1h0M372.1 271.8h0M369.6 295.2h0M374.2 291.9h0M370.2 297.0h0M373.9 292.3h0M369.3 299.6h0M373.8 287.8h0M371.9 289.9h0M367.8 295.2h0M369.0 294.0h0M373.2 282.5h0M367.3 288.7h0M367.4 278.9h0M373.9 278.1h0M368.1 282.7h0M372.0 278.1h0M371.4 294.2h0M375.1 294.9h0M369.5 288.0h0M375.5 287.0h0M367.3 301.3h0M374.2 294.3h0M367.2 290.8h0M367.9 291.0h0M369.8 274.0h0M368.5 278.5h0M371.3 293.0h0M370.4 291.8h0M372.6 288.9h0M371.4 288.2h0M374.9 302.3h0M370.3 293.8h0M375.2 293.2h0M369.9 302.4h0M375.0 278.0h0M368.7 285.9h0M374.9 286.7h0M368.9 274.7h0M367.0 272.3h0M372.3 294.7h0M369.8 281.2h0M374.9 289.1h0M367.2 289.4h0M370.5 298.5h0M373.2 298.3h0M374.7 275.3h0M369.4 292.0h0M373.7 291.0h0M372.7 283.6h0M375.0 285.1h0M368.6 284.5h0M373.7 287.4h0M374.2 280.4h0M371.6 287.8h0M369.8 281.7h0M370.9 292.3h0M369.1 278.4h0M372.7 285.2h0M369.4 292.0h0M373.0 291.4h0M372.8 287.1h0M371.8 277.4h0M369.0 296.2h0M369.3 284.4h0M368.4 293.4h0M373.2 287.4h0M368.5 281.4h0M369.8 302.4h0M374.4 298.3h0M367.5 284.2h0M369.4 294.2h0M368.9 289.2h0M369.8 286.5h0M370.6 269.6h0M367.6 291.0h0M371.0 291.1h0M369.0 292.9h0M371.6 281.1h0M367.8 292.1h0M370.6 290.6h0M368.6 288.9h0M374.5 289.8h0M374.8 286.9h0M373.8 282.1h0M374.6 280.4h0M369.6 295.3h0M367.6 288.0h0M371.6 288.6h0M374.9 292.2h0M372.8 299.6h0M372.9 296.9h0M373.8 273.1h0M367.5 284.2h0" stroke="#4a4a4a" stroke-width="1.2" stroke-linecap="round" fill="none" opacity="0.65"/>
<path d="M377.3 303.0 377.4 302.2 377.6 301.4 378.0 300.5 378.5 299.7 379.0 298.9 379.5 298.1 380.0 297.2 380.5 296.4 380.9 295.6 381.2 294.8 381.4 294.0 381.4 293.1 381.3 292.3 381.1 291.5 381.0 290.7 380.9 289.9 380.8 289.0 380.8 288.2 380.7 287.4 380.7 286.6 380.6 285.8 380.6 284.9 380.6 284.1 380.6 283.3 380.6 282.5 380.6 281.6 380.7 280.8 380.7 280.0 380.8 279.2 380.9 278.4 380.9 277.5 381.0 276.7 381.1 275.9 381.2 275.1 381.3 274.2 381.4 273.4 381.5 272.6 381.6 271.8 381.7 271.0 381.8 270.1 381.8 269.3 381.8 268.5 381.9 267.7 381.9 266.9 381.9 266.0 381.9 265.2 381.9 264.4 381.9 263.6 381.9 262.8 382.1 262.8 382.1 263.6 382.1 264.4 382.1 265.2 382.1 266.0 382.1 266.9 382.1 267.7 382.2 268.5 382.2 269.3 382.2 270.1 382.3 271.0 382.4 271.8 382.5 272.6 382.6 273.4 382.7 274.2 382.8 275.1 382.9 275.9 383.0 276.7 383.1 277.5 383.1 278.4 383.2 279.2 383.3 280.0 383.3 280.8 383.4 281.6 383.4 282.5 383.4 283.3 383.4 284.1 383.4 284.9 383.4 285.8 383.3 286.6 383.3 287.4 383.2 288.2 383.2 289.0 383.1 289.9 383.0 290.7 382.9 291.5 382.7 292.3 382.6 293.1 382.6 294.0 382.8 294.8 383.1 295.6 383.5 296.4 384.0 297.2 384.5 298.1 385.0 298.9 385.5 299.7 386.0 300.5 386.4 301.4 386.6 302.2 386.7 303.0Z" fill="#8aaed5" stroke="#4a86c0" stroke-width="0.45"/>
<path d="M377.30 303.00H386.70" stroke="#4a86c0" stroke-width="0.8"/>
<path d="M381.4 284.1h0M386.1 286.2h0M379.2 282.8h0M380.2 279.6h0M378.1 287.9h0M383.5 283.1h0M380.2 281.6h0M379.7 291.0h0M379.3 280.0h0M379.2 290.2h0M384.6 278.9h0M378.8 291.2h0M377.8 290.5h0M384.2 274.2h0M383.8 288.5h0M384.7 289.6h0M381.3 277.7h0M380.0 290.4h0M379.1 281.5h0M382.8 276.1h0M380.8 286.3h0M382.4 284.3h0M378.2 281.9h0M380.0 274.8h0M382.8 286.2h0M384.0 288.9h0M381.5 283.2h0M381.1 281.4h0M385.2 275.5h0M383.4 287.4h0M377.8 282.8h0M382.4 290.3h0M379.9 278.6h0M380.7 287.1h0M381.7 277.2h0M381.5 277.6h0M379.9 283.4h0M385.4 293.6h0M379.9 280.3h0M386.2 276.5h0M380.5 292.1h0M386.2 284.8h0M381.5 288.2h0M385.0 294.6h0M379.0 291.9h0M378.5 278.8h0M384.7 298.4h0M382.9 280.6h0M385.2 291.1h0M379.3 283.5h0M385.8 280.3h0M378.4 285.9h0M386.0 292.2h0M380.3 298.0h0M378.4 274.7h0M382.8 290.1h0M378.1 288.6h0M381.0 289.8h0M384.3 271.0h0M383.4 277.3h0M385.5 288.9h0M383.1 290.1h0M379.5 282.9h0M385.4 284.6h0M385.3 277.9h0M381.1 287.3h0M383.5 279.3h0M385.6 283.3h0M385.7 292.4h0M385.4 281.9h0M384.1 274.8h0M384.5 281.7h0M378.6 286.3h0M384.4 267.0h0M385.1 287.4h0M386.3 291.4h0M385.3 281.9h0M381.0 286.3h0M382.7 280.7h0M386.0 287.3h0M377.7 272.1h0M380.4 283.1h0M384.2 278.9h0M381.5 288.8h0M386.2 283.4h0M382.4 287.0h0M382.1 285.7h0M384.7 276.1h0M384.8 275.5h0M382.6 292.4h0M384.5 287.9h0M377.8 275.0h0M380.6 288.3h0M378.9 281.2h0M379.5 283.7h0M380.0 280.5h0M386.3 288.8h0M384.8 279.4h0M381.4 280.3h0M378.0 284.7h0M378.7 282.9h0M379.8 275.9h0M383.5 278.5h0M385.6 273.8h0M385.9 264.8h0M385.2 285.8h0M382.9 286.3h0M379.2 288.0h0M380.9 280.9h0M380.4 281.0h0M386.1 294.5h0M384.3 275.1h0M378.7 282.1h0M379.6 288.0h0M380.2 281.8h0M379.4 296.3h0M380.2 286.6h0M384.8 282.3h0M383.8 278.2h0M378.6 281.5h0M383.7 288.1h0M382.4 287.8h0M383.7 280.6h0M380.4 272.5h0M378.6 284.0h0M383.0 289.5h0M383.9 290.2h0M382.6 282.5h0M381.7 297.6h0M378.0 289.8h0M379.8 287.1h0M382.0 277.2h0M379.2 282.7h0M380.6 277.4h0M380.4 275.5h0M380.4 290.0h0M381.2 279.6h0M380.4 289.2h0M378.0 266.4h0M379.7 276.1h0M385.3 283.4h0M383.0 281.2h0M380.9 275.6h0M385.6 287.3h0M382.9 287.4h0M384.6 288.8h0M383.4 280.7h0M378.6 278.5h0M385.3 283.6h0M382.0 275.9h0M381.2 291.2h0M384.7 274.8h0M385.8 275.1h0M384.5 273.0h0M383.7 294.0h0M384.9 285.6h0M382.9 273.5h0M379.9 282.9h0M383.9 294.6h0M386.2 281.9h0M383.1 283.8h0M378.2 289.4h0M385.9 282.5h0M385.9 289.3h0M377.9 273.1h0M381.4 293.3h0M381.9 277.6h0M383.4 273.8h0M386.2 290.9h0M384.9 279.5h0M377.7 296.7h0M380.3 273.5h0M378.2 279.5h0M385.7 272.6h0M383.9 285.0h0M379.1 275.7h0M379.1 273.7h0M384.4 279.4h0M384.0 278.2h0M385.6 275.2h0M381.7 293.8h0M380.4 270.8h0M383.1 284.1h0M384.1 286.2h0M385.1 277.1h0M385.1 275.6h0M378.3 285.2h0M382.6 287.3h0M380.7 292.7h0M378.9 276.6h0M385.8 275.9h0M378.8 287.3h0M379.4 282.0h0M379.0 285.0h0M382.7 280.0h0M383.0 281.8h0M381.6 286.1h0M384.1 283.8h0M381.5 289.8h0M378.2 281.9h0M384.0 285.2h0M381.8 280.2h0M379.3 288.4h0M382.7 287.6h0M384.4 287.6h0M378.8 286.7h0M378.1 265.2h0M385.0 282.4h0M383.7 285.6h0M378.7 296.2h0M383.4 277.0h0M385.9 290.1h0M378.2 277.9h0M386.0 277.0h0M380.5 287.9h0M381.4 279.4h0M385.0 270.6h0M382.8 290.2h0M381.3 293.7h0M380.2 283.8h0M382.8 286.9h0M384.5 281.4h0M384.3 285.5h0M383.4 284.9h0M380.6 277.7h0M383.4 293.9h0M380.6 281.5h0M381.2 286.5h0M385.2 285.6h0M385.1 287.3h0M385.5 293.5h0M381.4 279.0h0M378.4 283.7h0M384.8 274.9h0M386.0 284.7h0M381.9 291.5h0M378.8 288.3h0M385.1 283.9h0M382.3 289.5h0M382.6 292.1h0M381.5 264.2h0M379.1 279.1h0M382.1 281.9h0M378.9 291.2h0M378.2 296.9h0M380.9 282.8h0M386.1 290.7h0M380.4 288.5h0M380.8 272.9h0M385.8 295.1h0M384.0 271.7h0M385.5 270.0h0M386.2 283.5h0M381.0 282.9h0M384.7 278.2h0M384.0 278.0h0M379.9 285.3h0M382.4 290.0h0M380.8 280.7h0M384.1 282.9h0M384.3 294.6h0M378.8 285.8h0M379.6 278.1h0M378.4 278.4h0M378.2 283.4h0M378.0 281.5h0M385.8 283.2h0M379.2 280.4h0M385.6 278.0h0M378.3 294.7h0M382.4 275.4h0M381.6 287.9h0M378.1 284.5h0M381.9 275.1h0M382.3 285.7h0M383.9 302.1h0M382.2 276.3h0M381.1 291.9h0M382.4 281.9h0M383.9 284.8h0" stroke="#1c5d99" stroke-width="1.2" stroke-linecap="round" fill="none" opacity="0.65"/>
<path d="M387.8 303.0 392.3 302.4 392.5 301.8 392.5 301.2 392.5 300.7 392.5 300.1 392.5 299.5 392.5 298.9 392.5 298.3 392.4 297.7 392.4 297.1 392.4 296.5 392.4 296.0 392.4 295.4 392.3 294.8 392.3 294.2 392.3 293.6 392.3 293.0 392.2 292.4 392.2 291.9 392.2 291.3 392.1 290.7 392.1 290.1 392.1 289.5 392.1 288.9 392.1 288.3 392.0 287.7 392.0 287.2 392.0 286.6 392.0 286.0 392.0 285.4 392.1 284.8 392.1 284.2 392.1 283.6 392.1 283.1 392.2 282.5 392.2 281.9 392.2 281.3 392.3 280.7 392.3 280.1 392.3 279.5 392.4 278.9 392.4 278.4 392.4 277.8 392.4 277.2 392.4 276.6 392.5 276.0 392.5 275.4 392.5 274.8 392.5 274.2 392.5 274.2 392.5 274.8 392.5 275.4 392.5 276.0 392.6 276.6 392.6 277.2 392.6 277.8 392.6 278.4 392.6 278.9 392.7 279.5 392.7 280.1 392.7 280.7 392.8 281.3 392.8 281.9 392.8 282.5 392.9 283.1 392.9 283.6 392.9 284.2 392.9 284.8 393.0 285.4 393.0 286.0 393.0 286.6 393.0 287.2 393.0 287.7 392.9 288.3 392.9 288.9 392.9 289.5 392.9 290.1 392.9 290.7 392.8 291.3 392.8 291.9 392.8 292.4 392.7 293.0 392.7 293.6 392.7 294.2 392.7 294.8 392.6 295.4 392.6 296.0 392.6 296.5 392.6 297.1 392.6 297.7 392.5 298.3 392.5 298.9 392.5 299.5 392.5 300.1 392.5 300.7 392.5 301.2 392.5 301.8 392.7 302.4 397.2 303.0Z" fill="#ee9cb0" stroke="#e06a85" stroke-width="0.45"/>
<path d="M387.80 303.00H397.20" stroke="#e06a85" stroke-width="0.8"/>
<path d="M391.5 285.4h0M390.0 290.4h0M395.9 289.2h0M388.4 284.8h0M393.1 293.4h0M396.2 283.4h0M391.6 288.5h0M389.5 290.0h0M393.1 282.4h0M395.4 290.5h0M393.4 290.8h0M395.2 280.1h0M391.9 281.4h0M395.0 296.2h0M396.1 285.9h0M393.4 282.0h0M396.3 294.4h0M396.4 287.8h0M392.3 287.4h0M396.1 285.9h0M389.6 294.8h0M393.6 289.1h0M395.2 291.1h0M392.4 281.9h0M394.1 289.6h0M394.0 286.5h0M392.8 286.9h0M391.1 286.7h0M389.8 290.9h0M389.5 283.2h0M392.6 293.3h0M395.8 285.9h0M390.1 286.5h0M391.8 284.2h0M390.8 294.4h0M392.8 287.8h0M396.2 289.0h0M390.5 283.1h0M392.0 281.9h0M390.3 287.0h0M389.9 283.7h0M395.9 280.4h0M392.7 294.7h0M390.5 291.5h0M396.0 285.1h0M388.5 285.0h0M392.4 285.9h0M395.6 286.0h0M395.1 283.6h0M391.5 288.7h0M389.7 291.5h0M392.1 281.9h0M392.1 286.8h0M393.7 289.4h0M396.5 284.5h0M396.5 278.3h0M389.3 287.3h0M388.3 290.4h0M396.3 286.1h0M393.4 291.8h0M394.9 291.6h0M390.1 286.5h0M393.6 287.7h0M395.4 286.1h0M388.7 287.1h0M396.2 282.7h0M395.9 285.9h0M389.0 290.9h0M395.1 281.0h0M389.8 292.2h0M396.2 283.4h0M395.1 280.0h0M393.9 285.7h0M392.8 289.4h0M390.8 300.1h0M392.6 288.6h0M393.6 285.7h0M389.3 287.1h0M393.7 290.2h0M392.9 281.5h0M388.9 283.7h0M389.9 287.0h0M392.9 281.1h0M392.6 291.5h0M396.4 282.0h0" stroke="#cf2750" stroke-width="1.2" stroke-linecap="round" fill="none" opacity="0.65"/>
<path d="M355.0 257.7V305.4H399.2" stroke="#000" stroke-width="1.4" fill="none"/>
<path d="M351.90 303.00H355.0M351.90 291.50H355.0M351.90 280.00H355.0M351.90 268.50H355.0M360.80 305.4V308.60M371.30 305.4V308.60M382.00 305.4V308.60M392.50 305.4V308.60" stroke="#000" stroke-width="1" fill="none"/>
<text x="349.70" y="305.40" font-size="6.7" text-anchor="end" font-weight="normal" font-style="normal" fill="#000" >0</text>
<text x="349.70" y="293.90" font-size="6.7" text-anchor="end" font-weight="normal" font-style="normal" fill="#000" >1</text>
<text x="349.70" y="282.40" font-size="6.7" text-anchor="end" font-weight="normal" font-style="normal" fill="#000" >2</text>
<text x="349.70" y="270.90" font-size="6.7" text-anchor="end" font-weight="normal" font-style="normal" fill="#000" >3</text>
<text x="360.80" y="316.55" font-size="7.1" text-anchor="middle" font-weight="normal" font-style="normal" fill="#000" >2</text>
<text x="371.30" y="316.55" font-size="7.1" text-anchor="middle" font-weight="normal" font-style="normal" fill="#000" >3</text>
<text x="382.00" y="316.55" font-size="7.1" text-anchor="middle" font-weight="normal" font-style="normal" fill="#000" >4</text>
<text x="392.50" y="316.55" font-size="7.1" text-anchor="middle" font-weight="normal" font-style="normal" fill="#000" >5</text>
<text transform="translate(376.65,326.70) scale(0.73,1)" font-size="8.6" text-anchor="middle" font-weight="normal" font-style="normal" fill="#000" style="stroke-width:0.3px">Cluster</text>
<text x="376.65" y="257.90" font-size="8.4" text-anchor="middle" font-weight="normal" font-style="italic" fill="#000" style="stroke:none">Gata3</text>
<text transform="translate(340.82,282.45) rotate(-90)" font-size="7.4" text-anchor="middle" textLength="45.2" lengthAdjust="spacingAndGlyphs" style="stroke-width:0.2px">Log. norm. expr.</text>
<path d="M430.3 303.0 434.5 302.2 434.9 301.4 434.9 300.5 434.9 299.7 434.9 298.9 434.9 298.1 434.9 297.2 434.8 296.4 434.8 295.6 434.8 294.8 434.8 293.9 434.8 293.1 434.7 292.3 434.7 291.5 434.7 290.7 434.6 289.8 434.6 289.0 434.6 288.2 434.6 287.4 434.6 286.5 434.5 285.7 434.5 284.9 434.5 284.1 434.5 283.3 434.5 282.4 434.6 281.6 434.6 280.8 434.6 280.0 434.6 279.1 434.6 278.3 434.7 277.5 434.7 276.7 434.7 275.8 434.7 275.0 434.7 274.2 434.8 273.4 434.8 272.6 434.8 271.7 434.8 270.9 434.9 270.1 434.9 269.3 434.9 268.4 434.9 267.6 434.9 266.8 435.0 266.0 435.0 265.1 435.0 264.3 435.0 263.5 435.0 262.7 435.0 262.7 435.0 263.5 435.0 264.3 435.0 265.1 435.0 266.0 435.1 266.8 435.1 267.6 435.1 268.4 435.1 269.3 435.1 270.1 435.2 270.9 435.2 271.7 435.2 272.6 435.2 273.4 435.3 274.2 435.3 275.0 435.3 275.8 435.3 276.7 435.3 277.5 435.4 278.3 435.4 279.1 435.4 280.0 435.4 280.8 435.4 281.6 435.5 282.4 435.5 283.3 435.5 284.1 435.5 284.9 435.5 285.7 435.4 286.5 435.4 287.4 435.4 288.2 435.4 289.0 435.4 289.8 435.3 290.7 435.3 291.5 435.3 292.3 435.2 293.1 435.2 293.9 435.2 294.8 435.2 295.6 435.2 296.4 435.1 297.2 435.1 298.1 435.1 298.9 435.1 299.7 435.1 300.5 435.1 301.4 435.5 302.2 439.7 303.0Z" fill="#86cf92" stroke="#5cbf6a" stroke-width="0.45"/>
<path d="M430.30 303.00H439.70" stroke="#5cbf6a" stroke-width="0.8"/>
<path d="M432.3 285.1h0M438.5 279.9h0M437.6 281.6h0M438.8 282.9h0M436.2 274.7h0M431.7 280.6h0M439.1 281.1h0M435.0 279.9h0M433.2 285.6h0M435.0 279.8h0M435.9 288.2h0M437.1 292.2h0M436.2 282.1h0M432.2 291.6h0M435.7 278.7h0M435.7 285.7h0M435.8 268.7h0M435.3 283.2h0M434.3 285.6h0M434.3 283.5h0M438.0 296.0h0M435.5 273.4h0M431.3 302.0h0M437.4 287.0h0M435.4 291.9h0M433.5 282.3h0M434.2 289.0h0M434.6 293.3h0M434.9 288.0h0M439.3 284.1h0M437.0 277.7h0M439.2 290.3h0M437.7 276.4h0M436.8 284.2h0M432.3 275.6h0M433.4 282.5h0M433.2 283.8h0M432.6 274.1h0M437.1 288.0h0M435.9 285.7h0M430.9 278.0h0M436.0 286.3h0M432.0 283.4h0M435.3 293.2h0M434.2 275.2h0M435.9 277.6h0M431.0 286.0h0M430.8 269.6h0M432.6 275.0h0M436.3 296.4h0M433.5 281.0h0M437.1 276.3h0M437.2 282.9h0M437.2 273.3h0M430.9 273.3h0M431.8 297.3h0M434.6 289.4h0M433.4 277.7h0M439.0 274.2h0M436.7 285.0h0M435.2 293.0h0M431.7 289.9h0M438.6 271.8h0M435.2 283.4h0M432.0 285.0h0M438.9 293.5h0M430.8 293.9h0M433.4 277.1h0M434.1 289.2h0M434.5 274.1h0M432.2 281.7h0M436.2 283.1h0M432.2 277.9h0M434.7 286.0h0M433.7 281.0h0M436.0 270.2h0M433.5 277.9h0M439.0 293.2h0M434.3 284.2h0M433.9 302.0h0M432.9 287.6h0M433.1 275.1h0M433.9 273.0h0M433.4 283.4h0M431.6 287.8h0M431.5 273.7h0M436.7 285.1h0M435.7 285.6h0M438.2 283.6h0M436.2 280.6h0M435.2 289.7h0M432.5 284.0h0M433.8 284.6h0M434.9 273.9h0M434.8 280.5h0M436.6 287.5h0M431.2 287.4h0M439.1 281.8h0M436.2 285.0h0M437.2 277.5h0M431.6 298.3h0M435.9 288.7h0M432.4 274.1h0M436.3 292.3h0M434.5 281.8h0M435.0 299.2h0M430.7 286.6h0M436.7 278.9h0M438.6 273.5h0M437.5 277.0h0M436.8 297.2h0M439.0 288.2h0M437.1 288.9h0M436.3 291.7h0M437.6 287.4h0M432.1 282.1h0M432.4 291.9h0M436.0 289.0h0M432.5 293.8h0M431.3 295.2h0M434.5 278.5h0M434.8 285.8h0M431.1 276.8h0M436.6 284.0h0M435.6 286.4h0M432.0 269.2h0M435.2 280.9h0M438.4 297.4h0M431.9 291.1h0M437.2 288.2h0" stroke="#34a846" stroke-width="1.2" stroke-linecap="round" fill="none" opacity="0.65"/>
<path d="M440.9 303.0 445.0 302.2 445.6 301.4 445.6 300.6 445.6 299.9 445.6 299.1 445.6 298.3 445.6 297.5 445.6 296.7 445.6 295.9 445.6 295.2 445.6 294.4 445.6 293.6 445.6 292.8 445.6 292.0 445.6 291.2 445.6 290.5 445.6 289.7 445.5 288.9 445.5 288.1 445.5 287.3 445.5 286.5 445.5 285.8 445.5 285.0 445.5 284.2 445.5 283.4 445.4 282.6 445.4 281.8 445.4 281.1 445.4 280.3 445.4 279.5 445.4 278.7 445.4 277.9 445.4 277.1 445.4 276.4 445.4 275.6 445.4 274.8 445.4 274.0 445.4 273.2 445.4 272.4 445.4 271.7 445.4 270.9 445.4 270.1 445.4 269.3 445.4 268.5 445.4 267.7 445.4 267.0 445.4 266.2 445.4 265.4 445.5 264.6 445.7 264.6 445.8 265.4 445.8 266.2 445.8 267.0 445.8 267.7 445.8 268.5 445.8 269.3 445.8 270.1 445.8 270.9 445.8 271.7 445.8 272.4 445.8 273.2 445.8 274.0 445.8 274.8 445.8 275.6 445.8 276.4 445.8 277.1 445.8 277.9 445.8 278.7 445.8 279.5 445.8 280.3 445.8 281.1 445.8 281.8 445.8 282.6 445.7 283.4 445.7 284.2 445.7 285.0 445.7 285.8 445.7 286.5 445.7 287.3 445.7 288.1 445.7 288.9 445.6 289.7 445.6 290.5 445.6 291.2 445.6 292.0 445.6 292.8 445.6 293.6 445.6 294.4 445.6 295.2 445.6 295.9 445.6 296.7 445.6 297.5 445.6 298.3 445.6 299.1 445.6 299.9 445.6 300.6 445.6 301.4 446.2 302.2 450.3 303.0Z" fill="#ababab" stroke="#959595" stroke-width="0.45"/>
<path d="M440.90 303.00H450.30" stroke="#959595" stroke-width="0.8"/>
<path d="M447.1 266.5h0M444.6 268.4h0M449.3 274.2h0M447.4 278.0h0M443.7 280.0h0M446.4 281.9h0M447.9 283.8h0M448.3 272.3h0M442.6 285.7h0M442.5 276.1h0M447.9 264.6h0M444.4 269.4h0" stroke="#4a4a4a" stroke-width="1.2" stroke-linecap="round" fill="none" opacity="0.65"/>
<path d="M451.1 303.0 452.4 302.7 454.6 302.4 455.6 302.1 455.8 301.7 455.8 301.4 455.8 301.1 455.8 300.8 455.8 300.5 455.8 300.2 455.8 299.9 455.8 299.6 455.8 299.2 455.8 298.9 455.8 298.6 455.8 298.3 455.8 298.0 455.8 297.7 455.8 297.4 455.8 297.0 455.8 296.7 455.8 296.4 455.8 296.1 455.8 295.8 455.8 295.5 455.7 295.2 455.7 294.8 455.7 294.5 455.7 294.2 455.7 293.9 455.7 293.6 455.7 293.3 455.7 293.0 455.7 292.7 455.7 292.3 455.7 292.0 455.7 291.7 455.6 291.4 455.6 291.1 455.6 290.8 455.6 290.5 455.6 290.1 455.6 289.8 455.6 289.5 455.6 289.2 455.6 288.9 455.6 288.6 455.6 288.3 455.6 288.0 455.6 287.6 456.0 287.6 456.0 288.0 456.0 288.3 456.0 288.6 456.0 288.9 456.0 289.2 456.0 289.5 456.0 289.8 456.0 290.1 456.0 290.5 456.0 290.8 456.0 291.1 456.0 291.4 455.9 291.7 455.9 292.0 455.9 292.3 455.9 292.7 455.9 293.0 455.9 293.3 455.9 293.6 455.9 293.9 455.9 294.2 455.9 294.5 455.9 294.8 455.9 295.2 455.8 295.5 455.8 295.8 455.8 296.1 455.8 296.4 455.8 296.7 455.8 297.0 455.8 297.4 455.8 297.7 455.8 298.0 455.8 298.3 455.8 298.6 455.8 298.9 455.8 299.2 455.8 299.6 455.8 299.9 455.8 300.2 455.8 300.5 455.8 300.8 455.8 301.1 455.8 301.4 455.8 301.7 456.0 302.1 457.0 302.4 459.2 302.7 460.5 303.0Z" fill="#8aaed5" stroke="#4a86c0" stroke-width="0.45"/>
<path d="M451.10 303.00H460.50" stroke="#4a86c0" stroke-width="0.8"/>
<path d="M457.1 287.6h0M454.4 289.6h0M459.0 290.5h0" stroke="#1c5d99" stroke-width="1.2" stroke-linecap="round" fill="none" opacity="0.65"/>
<path d="M461.6 303.0 465.7 302.2 466.3 301.4 466.3 300.6 466.3 299.9 466.3 299.1 466.3 298.3 466.3 297.5 466.3 296.7 466.3 295.9 466.3 295.2 466.3 294.4 466.2 293.6 466.2 292.8 466.2 292.0 466.2 291.2 466.2 290.5 466.2 289.7 466.2 288.9 466.2 288.1 466.2 287.3 466.1 286.5 466.1 285.8 466.1 285.0 466.1 284.2 466.1 283.4 466.1 282.6 466.1 281.8 466.1 281.1 466.1 280.3 466.1 279.5 466.1 278.7 466.1 277.9 466.2 277.1 466.2 276.4 466.2 275.6 466.2 274.8 466.2 274.0 466.2 273.2 466.2 272.4 466.2 271.7 466.2 270.9 466.2 270.1 466.2 269.3 466.2 268.5 466.2 267.7 466.2 267.0 466.2 266.2 466.2 265.4 466.2 264.6 466.4 264.6 466.4 265.4 466.4 266.2 466.4 267.0 466.4 267.7 466.4 268.5 466.4 269.3 466.4 270.1 466.4 270.9 466.4 271.7 466.4 272.4 466.4 273.2 466.4 274.0 466.4 274.8 466.4 275.6 466.4 276.4 466.4 277.1 466.5 277.9 466.5 278.7 466.5 279.5 466.5 280.3 466.5 281.1 466.5 281.8 466.5 282.6 466.5 283.4 466.5 284.2 466.5 285.0 466.5 285.8 466.5 286.5 466.4 287.3 466.4 288.1 466.4 288.9 466.4 289.7 466.4 290.5 466.4 291.2 466.4 292.0 466.4 292.8 466.4 293.6 466.3 294.4 466.3 295.2 466.3 295.9 466.3 296.7 466.3 297.5 466.3 298.3 466.3 299.1 466.3 299.9 466.3 300.6 466.3 301.4 466.9 302.2 471.0 303.0Z" fill="#ee9cb0" stroke="#e06a85" stroke-width="0.45"/>
<path d="M461.60 303.00H471.00" stroke="#e06a85" stroke-width="0.8"/>
<path d="M467.0 274.2h0M463.9 280.0h0M463.3 283.8h0M466.5 285.7h0M466.9 287.6h0M463.7 279.0h0M464.8 280.9h0M468.7 291.5h0M470.0 264.6h0" stroke="#cf2750" stroke-width="1.2" stroke-linecap="round" fill="none" opacity="0.65"/>
<path d="M428.8 257.7V305.4H473.6" stroke="#000" stroke-width="1.4" fill="none"/>
<path d="M425.70 303.00H428.8M425.70 283.80H428.8M425.70 264.60H428.8M435.00 305.4V308.60M445.60 305.4V308.60M455.80 305.4V308.60M466.30 305.4V308.60" stroke="#000" stroke-width="1" fill="none"/>
<text x="423.50" y="305.40" font-size="6.7" text-anchor="end" font-weight="normal" font-style="normal" fill="#000" >0</text>
<text x="423.50" y="286.20" font-size="6.7" text-anchor="end" font-weight="normal" font-style="normal" fill="#000" >1</text>
<text x="423.50" y="267.00" font-size="6.7" text-anchor="end" font-weight="normal" font-style="normal" fill="#000" >2</text>
<text x="435.00" y="316.55" font-size="7.1" text-anchor="middle" font-weight="normal" font-style="normal" fill="#000" >2</text>
<text x="445.60" y="316.55" font-size="7.1" text-anchor="middle" font-weight="normal" font-style="normal" fill="#000" >3</text>
<text x="455.80" y="316.55" font-size="7.1" text-anchor="middle" font-weight="normal" font-style="normal" fill="#000" >4</text>
<text x="466.30" y="316.55" font-size="7.1" text-anchor="middle" font-weight="normal" font-style="normal" fill="#000" >5</text>
<text transform="translate(450.65,326.70) scale(0.73,1)" font-size="8.6" text-anchor="middle" font-weight="normal" font-style="normal" fill="#000" style="stroke-width:0.3px">Cluster</text>
<text x="450.65" y="257.90" font-size="8.4" text-anchor="middle" font-weight="normal" font-style="italic" fill="#000" style="stroke:none">Rorc</text>
<text transform="translate(414.62,282.45) rotate(-90)" font-size="7.4" text-anchor="middle" textLength="45.2" lengthAdjust="spacingAndGlyphs" style="stroke-width:0.2px">Log. norm. expr.</text>
<path d="M321.1 391.2 324.7 390.6 325.8 390.0 325.8 389.4 325.8 388.8 325.8 388.2 325.8 387.5 325.8 386.9 325.8 386.3 325.8 385.7 325.8 385.1 325.8 384.5 325.8 383.9 325.8 383.3 325.8 382.7 325.7 382.1 325.7 381.4 325.7 380.8 325.7 380.2 325.7 379.6 325.7 379.0 325.6 378.4 325.6 377.8 325.6 377.2 325.6 376.6 325.6 376.0 325.6 375.4 325.6 374.7 325.6 374.1 325.6 373.5 325.6 372.9 325.6 372.3 325.6 371.7 325.6 371.1 325.6 370.5 325.6 369.9 325.7 369.3 325.7 368.6 325.7 368.0 325.7 367.4 325.7 366.8 325.7 366.2 325.7 365.6 325.7 365.0 325.7 364.4 325.7 363.8 325.7 363.2 325.7 362.6 325.7 361.9 325.7 361.3 325.9 361.3 325.9 361.9 325.9 362.6 325.9 363.2 325.9 363.8 325.9 364.4 325.9 365.0 325.9 365.6 325.9 366.2 325.9 366.8 325.9 367.4 325.9 368.0 325.9 368.6 325.9 369.3 326.0 369.9 326.0 370.5 326.0 371.1 326.0 371.7 326.0 372.3 326.0 372.9 326.0 373.5 326.0 374.1 326.0 374.7 326.0 375.4 326.0 376.0 326.0 376.6 326.0 377.2 326.0 377.8 326.0 378.4 325.9 379.0 325.9 379.6 325.9 380.2 325.9 380.8 325.9 381.4 325.9 382.1 325.8 382.7 325.8 383.3 325.8 383.9 325.8 384.5 325.8 385.1 325.8 385.7 325.8 386.3 325.8 386.9 325.8 387.5 325.8 388.2 325.8 388.8 325.8 389.4 325.8 390.0 326.9 390.6 330.5 391.2Z" fill="#86cf92" stroke="#5cbf6a" stroke-width="0.45"/>
<path d="M321.10 391.20H330.50" stroke="#5cbf6a" stroke-width="0.8"/>
<path d="M329.6 374.8h0M328.9 374.3h0M322.5 370.6h0M329.1 366.2h0M328.5 362.9h0M328.8 366.8h0M325.7 380.1h0M325.5 364.7h0M326.1 361.3h0M326.0 375.2h0M329.3 373.8h0M325.4 374.5h0M326.8 374.3h0M324.5 369.2h0M324.0 374.2h0M325.1 379.2h0M329.0 375.1h0M324.3 374.2h0M322.4 372.6h0M323.2 361.4h0M324.8 364.2h0M327.1 371.8h0M327.2 368.7h0M325.3 375.3h0M328.0 378.4h0M329.4 378.8h0M322.5 374.9h0M324.2 387.3h0M322.0 379.4h0M328.9 361.7h0M329.9 380.3h0M324.8 373.3h0M329.8 374.8h0M326.5 378.8h0M326.0 371.9h0M329.3 371.3h0M327.6 370.1h0M324.7 373.0h0M327.6 376.1h0M324.9 376.6h0M323.1 375.6h0M329.8 363.3h0M321.8 386.7h0M321.5 370.1h0M324.5 378.1h0M324.3 362.7h0M322.0 368.8h0M327.0 372.5h0M324.3 361.7h0M322.4 368.7h0" stroke="#34a846" stroke-width="1.2" stroke-linecap="round" fill="none" opacity="0.65"/>
<path d="M331.5 391.2 335.9 390.4 336.2 389.5 336.2 388.7 336.2 387.9 336.2 387.0 336.2 386.2 336.2 385.4 336.2 384.6 336.2 383.7 336.1 382.9 336.1 382.1 336.1 381.2 336.1 380.4 336.0 379.6 336.0 378.7 336.0 377.9 336.0 377.1 336.0 376.2 336.0 375.4 336.0 374.6 336.0 373.7 336.0 372.9 336.0 372.1 336.0 371.3 336.0 370.4 336.0 369.6 336.0 368.8 336.0 367.9 336.0 367.1 336.0 366.3 336.1 365.4 336.1 364.6 336.1 363.8 336.1 362.9 336.1 362.1 336.1 361.3 336.1 360.4 336.2 359.6 336.2 358.8 336.2 358.0 336.2 357.1 336.2 356.3 336.2 355.5 336.2 354.6 336.2 353.8 336.2 353.0 336.2 352.1 336.2 351.3 336.2 350.5 336.2 350.5 336.2 351.3 336.2 352.1 336.2 353.0 336.2 353.8 336.2 354.6 336.2 355.5 336.2 356.3 336.2 357.1 336.2 358.0 336.2 358.8 336.2 359.6 336.3 360.4 336.3 361.3 336.3 362.1 336.3 362.9 336.3 363.8 336.3 364.6 336.3 365.4 336.4 366.3 336.4 367.1 336.4 367.9 336.4 368.8 336.4 369.6 336.4 370.4 336.4 371.3 336.4 372.1 336.4 372.9 336.4 373.7 336.4 374.6 336.4 375.4 336.4 376.2 336.4 377.1 336.4 377.9 336.4 378.7 336.4 379.6 336.3 380.4 336.3 381.2 336.3 382.1 336.3 382.9 336.2 383.7 336.2 384.6 336.2 385.4 336.2 386.2 336.2 387.0 336.2 387.9 336.2 388.7 336.2 389.5 336.5 390.4 340.9 391.2Z" fill="#ababab" stroke="#959595" stroke-width="0.45"/>
<path d="M331.50 391.20H340.90" stroke="#959595" stroke-width="0.8"/>
<path d="M339.0 372.1h0M339.0 361.3h0M337.5 363.8h0M333.7 372.4h0M333.7 371.2h0M338.3 371.2h0M332.3 377.3h0M334.1 373.8h0M332.6 373.9h0M333.6 372.3h0M337.9 379.2h0M338.7 375.1h0M333.0 375.7h0M337.0 364.7h0M339.7 371.9h0M331.9 381.1h0M336.7 369.1h0M337.2 378.4h0M340.0 375.0h0M337.4 368.9h0M335.6 368.1h0M335.3 376.4h0M338.1 362.2h0M332.9 371.6h0M337.5 377.5h0M337.6 366.0h0M335.7 364.9h0M335.1 378.0h0M337.8 376.9h0M337.4 377.4h0M337.5 365.1h0M340.2 370.6h0M333.6 365.2h0M338.9 389.2h0M332.2 377.1h0M335.0 373.4h0M332.3 378.7h0M335.3 371.9h0M332.7 379.9h0M334.4 370.0h0M338.5 371.6h0M338.0 367.7h0M338.4 364.3h0M337.2 374.8h0M334.4 369.4h0M333.6 378.8h0M335.1 363.3h0M337.9 383.4h0M336.3 368.1h0M336.5 377.6h0" stroke="#4a4a4a" stroke-width="1.2" stroke-linecap="round" fill="none" opacity="0.65"/>
<path d="M342.3 391.2 345.8 390.6 347.0 390.0 347.0 389.4 347.0 388.8 347.0 388.2 347.0 387.7 347.0 387.1 347.0 386.5 347.0 385.9 347.0 385.3 347.0 384.7 347.0 384.1 347.0 383.5 347.0 382.9 347.0 382.3 347.0 381.7 347.0 381.2 347.0 380.6 347.0 380.0 346.9 379.4 346.9 378.8 346.9 378.2 346.9 377.6 346.9 377.0 346.9 376.4 346.9 375.8 346.9 375.2 346.9 374.7 346.8 374.1 346.8 373.5 346.8 372.9 346.8 372.3 346.8 371.7 346.8 371.1 346.8 370.5 346.8 369.9 346.8 369.3 346.8 368.7 346.8 368.2 346.8 367.6 346.8 367.0 346.8 366.4 346.8 365.8 346.8 365.2 346.8 364.6 346.8 364.0 346.8 363.4 346.8 362.8 346.8 362.2 347.2 362.2 347.2 362.8 347.2 363.4 347.2 364.0 347.2 364.6 347.2 365.2 347.2 365.8 347.2 366.4 347.2 367.0 347.2 367.6 347.2 368.2 347.2 368.7 347.2 369.3 347.2 369.9 347.2 370.5 347.2 371.1 347.2 371.7 347.2 372.3 347.2 372.9 347.2 373.5 347.2 374.1 347.1 374.7 347.1 375.2 347.1 375.8 347.1 376.4 347.1 377.0 347.1 377.6 347.1 378.2 347.1 378.8 347.1 379.4 347.0 380.0 347.0 380.6 347.0 381.2 347.0 381.7 347.0 382.3 347.0 382.9 347.0 383.5 347.0 384.1 347.0 384.7 347.0 385.3 347.0 385.9 347.0 386.5 347.0 387.1 347.0 387.7 347.0 388.2 347.0 388.8 347.0 389.4 347.0 390.0 348.2 390.6 351.7 391.2Z" fill="#8aaed5" stroke="#4a86c0" stroke-width="0.45"/>
<path d="M342.30 391.20H351.70" stroke="#4a86c0" stroke-width="0.8"/>
<path d="M349.8 374.4h0M348.7 362.7h0M346.1 367.6h0M345.8 373.2h0M346.9 365.6h0M349.8 365.1h0M349.4 362.8h0M345.0 362.2h0M343.4 366.5h0M351.0 366.5h0M346.7 368.9h0M349.0 368.3h0M350.6 366.7h0M345.8 374.6h0M344.4 370.3h0M345.3 362.2h0M344.8 373.3h0M342.8 367.2h0M350.2 377.8h0M347.8 368.9h0M347.9 373.9h0M346.3 371.8h0M345.5 374.1h0M348.4 375.5h0M348.2 363.9h0M345.7 371.7h0M348.0 367.1h0M347.1 364.3h0M345.2 364.6h0M344.9 364.4h0M343.7 369.8h0M347.2 366.2h0M343.2 375.5h0M345.8 367.9h0M347.7 362.2h0M345.5 370.7h0M348.7 367.0h0M349.0 380.8h0M343.6 372.8h0M348.3 380.5h0" stroke="#1c5d99" stroke-width="1.2" stroke-linecap="round" fill="none" opacity="0.65"/>
<path d="M352.6 391.2 356.9 390.4 357.3 389.6 357.3 388.8 357.3 388.0 357.3 387.2 357.3 386.4 357.2 385.6 357.2 384.8 357.2 384.1 357.2 383.3 357.2 382.5 357.2 381.7 357.2 380.9 357.2 380.1 357.1 379.3 357.1 378.5 357.1 377.7 357.1 376.9 357.1 376.1 357.1 375.3 357.1 374.5 357.1 373.7 357.1 372.9 357.1 372.1 357.1 371.3 357.1 370.6 357.1 369.8 357.1 369.0 357.1 368.2 357.1 367.4 357.1 366.6 357.1 365.8 357.1 365.0 357.1 364.2 357.1 363.4 357.1 362.6 357.1 361.8 357.2 361.0 357.2 360.2 357.2 359.4 357.2 358.6 357.2 357.8 357.2 357.1 357.3 356.3 357.3 355.5 357.3 354.7 357.3 353.9 357.3 353.1 357.3 352.3 357.3 352.3 357.3 353.1 357.3 353.9 357.3 354.7 357.3 355.5 357.3 356.3 357.4 357.1 357.4 357.8 357.4 358.6 357.4 359.4 357.4 360.2 357.4 361.0 357.5 361.8 357.5 362.6 357.5 363.4 357.5 364.2 357.5 365.0 357.5 365.8 357.5 366.6 357.5 367.4 357.5 368.2 357.5 369.0 357.5 369.8 357.5 370.6 357.5 371.3 357.5 372.1 357.5 372.9 357.5 373.7 357.5 374.5 357.5 375.3 357.5 376.1 357.5 376.9 357.5 377.7 357.5 378.5 357.5 379.3 357.4 380.1 357.4 380.9 357.4 381.7 357.4 382.5 357.4 383.3 357.4 384.1 357.4 384.8 357.4 385.6 357.3 386.4 357.3 387.2 357.3 388.0 357.3 388.8 357.3 389.6 357.7 390.4 362.0 391.2Z" fill="#ee9cb0" stroke="#e06a85" stroke-width="0.45"/>
<path d="M352.60 391.20H362.00" stroke="#e06a85" stroke-width="0.8"/>
<path d="M353.5 380.6h0M358.3 375.5h0M354.6 373.9h0M359.1 374.0h0M356.5 368.3h0M358.2 380.5h0M353.6 379.1h0M360.6 375.0h0M355.6 372.4h0M360.8 361.8h0M357.9 367.8h0M356.7 384.6h0M360.2 377.0h0M357.8 367.8h0M354.4 355.0h0M358.5 373.9h0M358.3 361.2h0M356.4 363.7h0M353.9 364.4h0M359.2 388.0h0M359.4 372.1h0M356.0 373.8h0M358.1 364.8h0M361.2 380.3h0M356.2 365.5h0M359.8 368.4h0M360.3 361.1h0M360.9 370.1h0M354.8 376.7h0M353.6 361.8h0" stroke="#cf2750" stroke-width="1.2" stroke-linecap="round" fill="none" opacity="0.65"/>
<path d="M319.4 345.4V393.0H364.6" stroke="#000" stroke-width="1.4" fill="none"/>
<path d="M316.30 391.20H319.4M316.30 382.15H319.4M316.30 373.10H319.4M316.30 364.05H319.4M316.30 355.00H319.4M325.80 393.0V396.20M336.20 393.0V396.20M347.00 393.0V396.20M357.30 393.0V396.20" stroke="#000" stroke-width="1" fill="none"/>
<text x="314.10" y="393.60" font-size="6.7" text-anchor="end" font-weight="normal" font-style="normal" fill="#000" >0</text>
<text x="314.10" y="384.55" font-size="6.7" text-anchor="end" font-weight="normal" font-style="normal" fill="#000" >1</text>
<text x="314.10" y="375.50" font-size="6.7" text-anchor="end" font-weight="normal" font-style="normal" fill="#000" >2</text>
<text x="314.10" y="366.45" font-size="6.7" text-anchor="end" font-weight="normal" font-style="normal" fill="#000" >3</text>
<text x="314.10" y="357.40" font-size="6.7" text-anchor="end" font-weight="normal" font-style="normal" fill="#000" >4</text>
<text x="325.80" y="405.25" font-size="7.1" text-anchor="middle" font-weight="normal" font-style="normal" fill="#000" >2</text>
<text x="336.20" y="405.25" font-size="7.1" text-anchor="middle" font-weight="normal" font-style="normal" fill="#000" >3</text>
<text x="347.00" y="405.25" font-size="7.1" text-anchor="middle" font-weight="normal" font-style="normal" fill="#000" >4</text>
<text x="357.30" y="405.25" font-size="7.1" text-anchor="middle" font-weight="normal" font-style="normal" fill="#000" >5</text>
<text transform="translate(341.55,415.70) scale(0.73,1)" font-size="8.6" text-anchor="middle" font-weight="normal" font-style="normal" fill="#000" style="stroke-width:0.3px">Cluster</text>
<text x="341.55" y="345.90" font-size="8.4" text-anchor="middle" font-weight="normal" font-style="italic" fill="#000" style="stroke:none">Bcl6</text>
<text transform="translate(302.92,370.10) rotate(-90)" font-size="7.4" text-anchor="middle" textLength="45.2" lengthAdjust="spacingAndGlyphs" style="stroke-width:0.2px">Log. norm. expr.</text>
<path d="M393.8 391.2 398.4 390.5 398.5 389.8 398.5 389.0 398.5 388.3 398.5 387.6 398.5 386.9 398.5 386.1 398.5 385.4 398.5 384.7 398.5 384.0 398.5 383.3 398.5 382.5 398.5 381.8 398.5 381.1 398.5 380.4 398.5 379.7 398.5 378.9 398.5 378.2 398.5 377.5 398.5 376.8 398.4 376.0 398.4 375.3 398.4 374.6 398.4 373.9 398.4 373.2 398.5 372.4 398.5 371.7 398.5 371.0 398.5 370.3 398.5 369.5 398.5 368.8 398.5 368.1 398.5 367.4 398.5 366.7 398.5 365.9 398.5 365.2 398.5 364.5 398.5 363.8 398.5 363.0 398.5 362.3 398.5 361.6 398.5 360.9 398.4 360.2 398.4 359.4 398.4 358.7 398.4 358.0 398.3 357.3 398.3 356.6 398.3 355.8 398.7 355.8 398.7 356.6 398.7 357.3 398.6 358.0 398.6 358.7 398.6 359.4 398.6 360.2 398.5 360.9 398.5 361.6 398.5 362.3 398.5 363.0 398.5 363.8 398.5 364.5 398.5 365.2 398.5 365.9 398.5 366.7 398.5 367.4 398.5 368.1 398.5 368.8 398.5 369.5 398.5 370.3 398.5 371.0 398.5 371.7 398.5 372.4 398.6 373.2 398.6 373.9 398.6 374.6 398.6 375.3 398.6 376.0 398.5 376.8 398.5 377.5 398.5 378.2 398.5 378.9 398.5 379.7 398.5 380.4 398.5 381.1 398.5 381.8 398.5 382.5 398.5 383.3 398.5 384.0 398.5 384.7 398.5 385.4 398.5 386.1 398.5 386.9 398.5 387.6 398.5 388.3 398.5 389.0 398.5 389.8 398.6 390.5 403.2 391.2Z" fill="#86cf92" stroke="#5cbf6a" stroke-width="0.45"/>
<path d="M393.80 391.20H403.20" stroke="#5cbf6a" stroke-width="0.8"/>
<path d="M401.1 355.8h0M400.9 374.8h0M397.4 356.5h0" stroke="#34a846" stroke-width="1.2" stroke-linecap="round" fill="none" opacity="0.65"/>
<path d="M404.3 391.2 408.8 390.6 409.0 389.9 409.0 389.3 409.0 388.6 409.0 388.0 409.0 387.4 409.0 386.7 409.0 386.1 409.0 385.4 409.0 384.8 409.0 384.1 409.0 383.5 409.0 382.9 409.0 382.2 409.0 381.6 409.0 380.9 408.9 380.3 408.9 379.7 408.9 379.0 408.9 378.4 408.9 377.7 408.9 377.1 408.9 376.4 408.9 375.8 408.9 375.2 408.9 374.5 408.9 373.9 408.8 373.2 408.8 372.6 408.8 372.0 408.8 371.3 408.8 370.7 408.8 370.0 408.8 369.4 408.8 368.7 408.8 368.1 408.8 367.5 408.8 366.8 408.8 366.2 408.8 365.5 408.8 364.9 408.8 364.3 408.8 363.6 408.8 363.0 408.8 362.3 408.8 361.7 408.8 361.0 408.8 360.4 408.8 359.8 409.2 359.8 409.2 360.4 409.2 361.0 409.2 361.7 409.2 362.3 409.2 363.0 409.2 363.6 409.2 364.3 409.2 364.9 409.2 365.5 409.2 366.2 409.2 366.8 409.2 367.5 409.2 368.1 409.2 368.7 409.2 369.4 409.2 370.0 409.2 370.7 409.2 371.3 409.2 372.0 409.2 372.6 409.2 373.2 409.1 373.9 409.1 374.5 409.1 375.2 409.1 375.8 409.1 376.4 409.1 377.1 409.1 377.7 409.1 378.4 409.1 379.0 409.1 379.7 409.1 380.3 409.0 380.9 409.0 381.6 409.0 382.2 409.0 382.9 409.0 383.5 409.0 384.1 409.0 384.8 409.0 385.4 409.0 386.1 409.0 386.7 409.0 387.4 409.0 388.0 409.0 388.6 409.0 389.3 409.0 389.9 409.2 390.6 413.7 391.2Z" fill="#ababab" stroke="#959595" stroke-width="0.45"/>
<path d="M404.30 391.20H413.70" stroke="#959595" stroke-width="0.8"/>
<path d="M405.6 370.3h0M407.0 362.3h0M407.5 378.3h0M410.5 359.8h0M408.9 366.2h0M407.0 372.7h0M410.7 362.2h0M406.9 365.8h0M408.3 375.0h0M411.6 371.0h0" stroke="#4a4a4a" stroke-width="1.2" stroke-linecap="round" fill="none" opacity="0.65"/>
<path d="M414.9 391.2 419.4 390.5 419.6 389.9 419.6 389.2 419.6 388.5 419.6 387.9 419.6 387.2 419.6 386.5 419.6 385.9 419.6 385.2 419.6 384.5 419.6 383.8 419.6 383.2 419.6 382.5 419.6 381.8 419.6 381.2 419.6 380.5 419.6 379.8 419.6 379.2 419.6 378.5 419.6 377.8 419.5 377.2 419.5 376.5 419.5 375.8 419.5 375.2 419.5 374.5 419.5 373.8 419.5 373.2 419.5 372.5 419.5 371.8 419.4 371.1 419.4 370.5 419.4 369.8 419.4 369.1 419.4 368.5 419.4 367.8 419.4 367.1 419.4 366.5 419.4 365.8 419.4 365.1 419.4 364.5 419.4 363.8 419.5 363.1 419.5 362.5 419.5 361.8 419.5 361.1 419.5 360.5 419.5 359.8 419.5 359.1 419.5 358.4 419.7 358.4 419.7 359.1 419.7 359.8 419.7 360.5 419.7 361.1 419.7 361.8 419.7 362.5 419.7 363.1 419.8 363.8 419.8 364.5 419.8 365.1 419.8 365.8 419.8 366.5 419.8 367.1 419.8 367.8 419.8 368.5 419.8 369.1 419.8 369.8 419.8 370.5 419.8 371.1 419.7 371.8 419.7 372.5 419.7 373.2 419.7 373.8 419.7 374.5 419.7 375.2 419.7 375.8 419.7 376.5 419.7 377.2 419.6 377.8 419.6 378.5 419.6 379.2 419.6 379.8 419.6 380.5 419.6 381.2 419.6 381.8 419.6 382.5 419.6 383.2 419.6 383.8 419.6 384.5 419.6 385.2 419.6 385.9 419.6 386.5 419.6 387.2 419.6 387.9 419.6 388.5 419.6 389.2 419.6 389.9 419.8 390.5 424.3 391.2Z" fill="#8aaed5" stroke="#4a86c0" stroke-width="0.45"/>
<path d="M414.90 391.20H424.30" stroke="#4a86c0" stroke-width="0.8"/>
<path d="M423.3 361.3h0M417.9 368.1h0M422.3 372.0h0M422.5 364.2h0M417.5 367.3h0M419.7 365.3h0M421.3 378.1h0M416.8 367.3h0M417.9 371.5h0M417.4 369.4h0" stroke="#1c5d99" stroke-width="1.2" stroke-linecap="round" fill="none" opacity="0.65"/>
<path d="M425.5 391.2 430.2 390.4 430.2 389.5 430.2 388.7 430.2 387.9 430.2 387.1 430.2 386.2 430.2 385.4 430.2 384.6 430.2 383.7 430.2 382.9 430.2 382.1 430.2 381.3 430.1 380.4 430.1 379.6 430.1 378.8 430.1 377.9 430.1 377.1 430.1 376.3 430.1 375.5 430.0 374.6 430.0 373.8 430.0 373.0 430.0 372.1 430.0 371.3 430.0 370.5 430.0 369.7 430.0 368.8 430.0 368.0 430.0 367.2 430.0 366.3 430.0 365.5 430.0 364.7 430.0 363.9 430.0 363.0 430.0 362.2 430.0 361.4 430.0 360.5 430.0 359.7 430.1 358.9 430.1 358.0 430.1 357.2 430.1 356.4 430.1 355.6 430.1 354.7 430.1 353.9 430.1 353.1 430.2 352.2 430.2 351.4 430.2 350.6 430.2 350.6 430.2 351.4 430.2 352.2 430.3 353.1 430.3 353.9 430.3 354.7 430.3 355.6 430.3 356.4 430.3 357.2 430.3 358.0 430.3 358.9 430.4 359.7 430.4 360.5 430.4 361.4 430.4 362.2 430.4 363.0 430.4 363.9 430.4 364.7 430.4 365.5 430.4 366.3 430.4 367.2 430.4 368.0 430.4 368.8 430.4 369.7 430.4 370.5 430.4 371.3 430.4 372.1 430.4 373.0 430.4 373.8 430.4 374.6 430.3 375.5 430.3 376.3 430.3 377.1 430.3 377.9 430.3 378.8 430.3 379.6 430.3 380.4 430.2 381.3 430.2 382.1 430.2 382.9 430.2 383.7 430.2 384.6 430.2 385.4 430.2 386.2 430.2 387.1 430.2 387.9 430.2 388.7 430.2 389.5 430.2 390.4 434.9 391.2Z" fill="#ee9cb0" stroke="#e06a85" stroke-width="0.45"/>
<path d="M425.50 391.20H434.90" stroke="#e06a85" stroke-width="0.8"/>
<path d="M431.9 366.4h0M428.3 361.3h0M428.3 372.0h0M434.0 370.3h0M433.4 367.2h0M428.1 372.9h0M426.8 374.2h0M432.2 352.2h0M429.6 371.4h0M434.1 365.6h0M430.6 372.2h0M432.0 368.0h0M430.5 383.5h0M428.1 361.6h0M429.1 371.2h0M427.1 357.5h0M430.7 360.4h0M432.8 369.1h0M430.4 376.1h0M433.3 362.0h0M431.0 368.4h0M429.0 371.5h0M434.4 367.0h0M430.4 361.5h0M433.3 373.9h0M426.0 360.2h0M430.9 363.4h0M425.9 363.2h0M426.8 362.9h0M434.2 378.1h0" stroke="#cf2750" stroke-width="1.2" stroke-linecap="round" fill="none" opacity="0.65"/>
<path d="M391.7 345.4V393.0H437.0" stroke="#000" stroke-width="1.4" fill="none"/>
<path d="M388.60 391.20H391.7M388.60 378.10H391.7M388.60 365.00H391.7M388.60 351.90H391.7M398.50 393.0V396.20M409.00 393.0V396.20M419.60 393.0V396.20M430.20 393.0V396.20" stroke="#000" stroke-width="1" fill="none"/>
<text x="386.40" y="393.60" font-size="6.7" text-anchor="end" font-weight="normal" font-style="normal" fill="#000" >0</text>
<text x="386.40" y="380.50" font-size="6.7" text-anchor="end" font-weight="normal" font-style="normal" fill="#000" >1</text>
<text x="386.40" y="367.40" font-size="6.7" text-anchor="end" font-weight="normal" font-style="normal" fill="#000" >2</text>
<text x="386.40" y="354.30" font-size="6.7" text-anchor="end" font-weight="normal" font-style="normal" fill="#000" >3</text>
<text x="398.50" y="405.25" font-size="7.1" text-anchor="middle" font-weight="normal" font-style="normal" fill="#000" >2</text>
<text x="409.00" y="405.25" font-size="7.1" text-anchor="middle" font-weight="normal" font-style="normal" fill="#000" >3</text>
<text x="419.60" y="405.25" font-size="7.1" text-anchor="middle" font-weight="normal" font-style="normal" fill="#000" >4</text>
<text x="430.20" y="405.25" font-size="7.1" text-anchor="middle" font-weight="normal" font-style="normal" fill="#000" >5</text>
<text transform="translate(414.35,415.70) scale(0.73,1)" font-size="8.6" text-anchor="middle" font-weight="normal" font-style="normal" fill="#000" style="stroke-width:0.3px">Cluster</text>
<text x="414.35" y="345.90" font-size="8.4" text-anchor="middle" font-weight="normal" font-style="italic" fill="#000" style="stroke:none">Foxp3</text>
<text transform="translate(375.92,370.10) rotate(-90)" font-size="7.4" text-anchor="middle" textLength="45.2" lengthAdjust="spacingAndGlyphs" style="stroke-width:0.2px">Log. norm. expr.</text>
<path d="M392.3 536.5 396.5 536.0 396.9 535.5 396.9 535.1 396.9 534.6 396.9 534.1 396.9 533.6 396.9 533.2 396.9 532.7 396.9 532.2 396.9 531.7 396.9 531.3 396.9 530.8 396.9 530.3 396.9 529.8 396.9 529.4 396.9 528.9 396.9 528.4 396.9 527.9 396.9 527.5 396.9 527.0 396.8 526.5 396.8 526.0 396.8 525.6 396.8 525.1 396.8 524.6 396.8 524.1 396.8 523.7 396.8 523.2 396.8 522.7 396.8 522.2 396.8 521.8 396.8 521.3 396.8 520.8 396.8 520.3 396.8 519.9 396.8 519.4 396.9 518.9 396.9 518.4 396.9 517.9 396.9 517.5 396.9 517.0 396.9 516.5 396.9 516.0 396.9 515.6 396.9 515.1 396.9 514.6 396.9 514.1 396.9 513.7 396.9 513.2 397.1 513.2 397.1 513.7 397.1 514.1 397.1 514.6 397.1 515.1 397.1 515.6 397.1 516.0 397.1 516.5 397.1 517.0 397.1 517.5 397.1 517.9 397.1 518.4 397.1 518.9 397.2 519.4 397.2 519.9 397.2 520.3 397.2 520.8 397.2 521.3 397.2 521.8 397.2 522.2 397.2 522.7 397.2 523.2 397.2 523.7 397.2 524.1 397.2 524.6 397.2 525.1 397.2 525.6 397.2 526.0 397.2 526.5 397.1 527.0 397.1 527.5 397.1 527.9 397.1 528.4 397.1 528.9 397.1 529.4 397.1 529.8 397.1 530.3 397.1 530.8 397.1 531.3 397.1 531.7 397.1 532.2 397.1 532.7 397.1 533.2 397.1 533.6 397.1 534.1 397.1 534.6 397.1 535.1 397.1 535.5 397.5 536.0 401.7 536.5Z" fill="#86cf92" stroke="#5cbf6a" stroke-width="0.45"/>
<path d="M392.30 536.50H401.70" stroke="#5cbf6a" stroke-width="0.8"/>
<path d="M399.4 535.9h0M397.9 531.8h0M394.6 529.7h0M397.0 524.6h0M395.0 520.2h0M400.8 522.3h0M394.2 524.8h0M398.4 519.7h0" stroke="#34a846" stroke-width="1.2" stroke-linecap="round" fill="none" opacity="0.65"/>
<path d="M403.3 536.5 407.9 535.8 407.9 535.1 407.9 534.3 407.9 533.6 407.9 532.9 407.9 532.2 407.9 531.4 407.8 530.7 407.8 530.0 407.8 529.3 407.8 528.5 407.8 527.8 407.8 527.1 407.8 526.4 407.8 525.6 407.8 524.9 407.8 524.2 407.8 523.5 407.9 522.7 407.9 522.0 407.9 521.3 407.9 520.6 407.9 519.8 407.9 519.1 407.9 518.4 408.0 517.7 408.0 516.9 408.0 516.2 408.0 515.5 408.0 514.8 408.0 514.0 408.0 513.3 408.0 512.6 408.0 511.9 408.0 511.1 408.0 510.4 408.0 509.7 408.0 509.0 408.0 508.2 408.0 507.5 408.0 506.8 408.0 506.1 408.0 505.3 408.0 504.6 408.0 503.9 408.0 503.2 408.0 502.4 408.0 501.7 408.0 501.0 408.0 501.0 408.0 501.7 408.0 502.4 408.0 503.2 408.0 503.9 408.0 504.6 408.0 505.3 408.0 506.1 408.0 506.8 408.0 507.5 408.0 508.2 408.0 509.0 408.0 509.7 408.0 510.4 408.0 511.1 408.0 511.9 408.0 512.6 408.0 513.3 408.0 514.0 408.0 514.8 408.0 515.5 408.0 516.2 408.0 516.9 408.0 517.7 408.1 518.4 408.1 519.1 408.1 519.8 408.1 520.6 408.1 521.3 408.1 522.0 408.1 522.7 408.2 523.5 408.2 524.2 408.2 524.9 408.2 525.6 408.2 526.4 408.2 527.1 408.2 527.8 408.2 528.5 408.2 529.3 408.2 530.0 408.2 530.7 408.1 531.4 408.1 532.2 408.1 532.9 408.1 533.6 408.1 534.3 408.1 535.1 408.1 535.8 412.7 536.5Z" fill="#ababab" stroke="#959595" stroke-width="0.45"/>
<path d="M403.30 536.50H412.70" stroke="#959595" stroke-width="0.8"/>
<path d="M408.1 531.0h0M406.6 527.3h0M410.8 519.5h0M404.3 520.8h0M407.6 531.8h0M409.1 534.9h0M411.9 528.1h0M406.1 525.7h0M409.5 525.2h0M405.7 532.8h0M408.8 535.9h0M404.4 526.1h0M405.3 523.3h0M404.8 506.0h0M408.3 525.8h0" stroke="#4a4a4a" stroke-width="1.2" stroke-linecap="round" fill="none" opacity="0.65"/>
<path d="M414.0 536.5 418.6 535.7 418.6 535.0 418.5 534.2 418.5 533.4 418.5 532.6 418.4 531.9 418.4 531.1 418.4 530.3 418.3 529.6 418.3 528.8 418.2 528.0 418.2 527.3 418.1 526.5 418.1 525.7 418.0 524.9 418.0 524.2 418.0 523.4 418.0 522.6 417.9 521.9 417.9 521.1 418.0 520.3 418.0 519.6 418.0 518.8 418.0 518.0 418.1 517.2 418.1 516.5 418.2 515.7 418.2 514.9 418.3 514.2 418.3 513.4 418.4 512.6 418.4 511.9 418.4 511.1 418.5 510.3 418.5 509.5 418.6 508.8 418.6 508.0 418.6 507.2 418.6 506.5 418.6 505.7 418.7 504.9 418.7 504.2 418.7 503.4 418.7 502.6 418.7 501.8 418.7 501.1 418.7 500.3 418.7 499.5 418.7 498.8 418.7 498.8 418.7 499.5 418.7 500.3 418.7 501.1 418.7 501.8 418.7 502.6 418.7 503.4 418.7 504.2 418.7 504.9 418.8 505.7 418.8 506.5 418.8 507.2 418.8 508.0 418.8 508.8 418.9 509.5 418.9 510.3 419.0 511.1 419.0 511.9 419.0 512.6 419.1 513.4 419.1 514.2 419.2 514.9 419.2 515.7 419.3 516.5 419.3 517.2 419.4 518.0 419.4 518.8 419.4 519.6 419.4 520.3 419.5 521.1 419.5 521.9 419.4 522.6 419.4 523.4 419.4 524.2 419.4 524.9 419.3 525.7 419.3 526.5 419.2 527.3 419.2 528.0 419.1 528.8 419.1 529.6 419.0 530.3 419.0 531.1 419.0 531.9 418.9 532.6 418.9 533.4 418.9 534.2 418.8 535.0 418.8 535.7 423.4 536.5Z" fill="#8aaed5" stroke="#4a86c0" stroke-width="0.45"/>
<path d="M414.00 536.50H423.40" stroke="#4a86c0" stroke-width="0.8"/>
<path d="M418.2 526.1h0M422.1 513.2h0M417.6 519.2h0M419.4 509.6h0M417.1 520.0h0M415.2 518.7h0M415.9 521.7h0M416.5 520.6h0M420.5 514.2h0M417.0 513.8h0M418.0 521.2h0M419.6 517.4h0M416.9 516.0h0M420.9 517.1h0M418.9 522.0h0M418.9 526.3h0M414.8 523.9h0M415.7 522.6h0M417.4 506.2h0M416.5 533.7h0M418.0 520.6h0M421.5 514.4h0M419.4 531.7h0M419.1 517.6h0M415.3 526.5h0M419.9 529.2h0M419.7 520.7h0M419.7 519.9h0M415.3 521.2h0M419.3 521.1h0M420.2 530.7h0M415.1 514.4h0M419.7 519.8h0M418.3 523.2h0M417.7 518.7h0M422.8 526.9h0M418.4 527.8h0M418.1 525.9h0M421.7 522.7h0M416.7 528.3h0M415.1 523.7h0M421.5 526.2h0M421.4 524.1h0M418.8 512.7h0M422.5 523.4h0M419.5 523.3h0M419.1 516.0h0M416.2 520.8h0M414.9 513.3h0M415.9 524.2h0M416.5 519.8h0M419.6 527.5h0M417.1 520.4h0M415.8 516.7h0M420.7 522.8h0M422.7 519.1h0M418.8 517.5h0M415.1 531.9h0M417.0 524.1h0M415.0 515.9h0M422.9 520.9h0M417.4 522.1h0M420.2 521.1h0M420.7 521.4h0M421.2 524.6h0M417.0 522.9h0M417.3 520.5h0M418.8 513.2h0M415.3 522.0h0M418.9 526.6h0M415.9 522.1h0M420.4 516.5h0M419.8 518.5h0M421.0 525.6h0M416.2 519.3h0M416.2 521.6h0M417.7 518.9h0M421.5 515.8h0M415.9 519.6h0M417.9 526.4h0M419.9 529.7h0M416.7 524.6h0M423.0 516.9h0M415.4 519.8h0M419.8 528.9h0M422.2 530.7h0M417.7 521.6h0M416.4 531.0h0M419.6 520.0h0M419.0 521.7h0M414.8 530.1h0M420.1 522.1h0M422.9 526.0h0M419.1 524.2h0M421.6 519.4h0M417.0 528.4h0M417.7 515.1h0M418.9 513.6h0M414.5 524.2h0M419.3 515.0h0M422.7 535.9h0M418.4 524.1h0M422.7 531.9h0M418.7 524.6h0M417.8 509.0h0M420.2 532.5h0M418.6 514.8h0M417.6 518.7h0M420.6 532.7h0M422.3 517.5h0M417.8 527.4h0M420.4 524.9h0M421.0 514.6h0M418.4 516.5h0M422.8 529.2h0M415.8 519.9h0M421.7 522.1h0M415.5 521.5h0M414.8 513.1h0M419.5 520.9h0M420.3 512.7h0M414.4 523.0h0M422.6 517.1h0M418.0 526.4h0M414.5 523.7h0" stroke="#1c5d99" stroke-width="1.2" stroke-linecap="round" fill="none" opacity="0.65"/>
<path d="M424.5 536.5 429.2 535.7 429.2 534.8 429.2 534.0 429.2 533.1 429.2 532.3 429.2 531.5 429.2 530.6 429.1 529.8 429.1 529.0 429.1 528.1 429.1 527.3 429.1 526.4 429.1 525.6 429.1 524.8 429.1 523.9 429.1 523.1 429.0 522.3 429.0 521.4 429.0 520.6 429.0 519.7 429.0 518.9 429.0 518.1 429.0 517.2 429.1 516.4 429.1 515.5 429.1 514.7 429.1 513.9 429.1 513.0 429.1 512.2 429.1 511.4 429.2 510.5 429.2 509.7 429.2 508.8 429.2 508.0 429.2 507.2 429.2 506.3 429.2 505.5 429.2 504.6 429.2 503.8 429.2 503.0 429.2 502.1 429.2 501.3 429.2 500.5 429.2 499.6 429.2 498.8 429.2 497.9 429.2 497.1 429.2 496.3 429.2 495.4 429.2 495.4 429.2 496.3 429.2 497.1 429.2 497.9 429.2 498.8 429.2 499.6 429.2 500.5 429.2 501.3 429.2 502.1 429.2 503.0 429.2 503.8 429.2 504.6 429.2 505.5 429.2 506.3 429.2 507.2 429.2 508.0 429.2 508.8 429.2 509.7 429.2 510.5 429.3 511.4 429.3 512.2 429.3 513.0 429.3 513.9 429.3 514.7 429.3 515.5 429.3 516.4 429.4 517.2 429.4 518.1 429.4 518.9 429.4 519.7 429.4 520.6 429.4 521.4 429.4 522.3 429.3 523.1 429.3 523.9 429.3 524.8 429.3 525.6 429.3 526.4 429.3 527.3 429.3 528.1 429.3 529.0 429.3 529.8 429.2 530.6 429.2 531.5 429.2 532.3 429.2 533.1 429.2 534.0 429.2 534.8 429.2 535.7 433.9 536.5Z" fill="#ee9cb0" stroke="#e06a85" stroke-width="0.45"/>
<path d="M424.50 536.50H433.90" stroke="#e06a85" stroke-width="0.8"/>
<path d="M426.8 511.1h0M431.1 524.5h0M426.7 531.1h0M426.9 517.7h0M429.5 519.8h0M429.2 518.1h0M425.5 522.6h0M424.9 518.6h0" stroke="#cf2750" stroke-width="1.2" stroke-linecap="round" fill="none" opacity="0.65"/>
<path d="M391.1 490.5V538.2H435.6" stroke="#000" stroke-width="1.4" fill="none"/>
<path d="M388.00 536.50H391.1M388.00 525.40H391.1M388.00 514.30H391.1M388.00 503.20H391.1M397.00 538.2V541.40M408.00 538.2V541.40M418.70 538.2V541.40M429.20 538.2V541.40" stroke="#000" stroke-width="1" fill="none"/>
<text x="385.80" y="538.90" font-size="6.7" text-anchor="end" font-weight="normal" font-style="normal" fill="#000" >0</text>
<text x="385.80" y="527.80" font-size="6.7" text-anchor="end" font-weight="normal" font-style="normal" fill="#000" >1</text>
<text x="385.80" y="516.70" font-size="6.7" text-anchor="end" font-weight="normal" font-style="normal" fill="#000" >2</text>
<text x="385.80" y="505.60" font-size="6.7" text-anchor="end" font-weight="normal" font-style="normal" fill="#000" >3</text>
<text x="397.00" y="550.55" font-size="7.1" text-anchor="middle" font-weight="normal" font-style="normal" fill="#000" >2</text>
<text x="408.00" y="550.55" font-size="7.1" text-anchor="middle" font-weight="normal" font-style="normal" fill="#000" >3</text>
<text x="418.70" y="550.55" font-size="7.1" text-anchor="middle" font-weight="normal" font-style="normal" fill="#000" >4</text>
<text x="429.20" y="550.55" font-size="7.1" text-anchor="middle" font-weight="normal" font-style="normal" fill="#000" >5</text>
<text transform="translate(413.10,561.20) scale(0.73,1)" font-size="8.6" text-anchor="middle" font-weight="normal" font-style="normal" fill="#000" style="stroke-width:0.3px">Cluster</text>
<text x="413.10" y="491.11" font-size="9.0" text-anchor="middle" font-weight="normal" font-style="italic" fill="#000" style="stroke:none">Il4</text>
<text transform="translate(375.02,516.25) rotate(-90)" font-size="7.4" text-anchor="middle" textLength="45.2" lengthAdjust="spacingAndGlyphs" style="stroke-width:0.2px">Log. norm. expr.</text>
<path d="M466.9 536.2 469.2 535.8 471.3 535.5 471.6 535.1 471.6 534.7 471.6 534.3 471.6 534.0 471.6 533.6 471.6 533.2 471.6 532.9 471.6 532.5 471.6 532.1 471.6 531.8 471.6 531.4 471.6 531.0 471.6 530.6 471.6 530.3 471.6 529.9 471.6 529.5 471.6 529.2 471.6 528.8 471.6 528.4 471.6 528.0 471.6 527.7 471.6 527.3 471.6 526.9 471.6 526.6 471.6 526.2 471.6 525.8 471.6 525.4 471.6 525.1 471.6 524.7 471.6 524.3 471.6 524.0 471.6 523.6 471.6 523.2 471.5 522.9 471.5 522.5 471.5 522.1 471.5 521.7 471.5 521.4 471.5 521.0 471.5 520.6 471.5 520.3 471.4 519.9 471.4 519.5 471.4 519.1 471.4 518.8 471.4 518.4 471.4 518.0 471.8 518.0 471.8 518.4 471.8 518.8 471.8 519.1 471.8 519.5 471.8 519.9 471.7 520.3 471.7 520.6 471.7 521.0 471.7 521.4 471.7 521.7 471.7 522.1 471.7 522.5 471.7 522.9 471.6 523.2 471.6 523.6 471.6 524.0 471.6 524.3 471.6 524.7 471.6 525.1 471.6 525.4 471.6 525.8 471.6 526.2 471.6 526.6 471.6 526.9 471.6 527.3 471.6 527.7 471.6 528.0 471.6 528.4 471.6 528.8 471.6 529.2 471.6 529.5 471.6 529.9 471.6 530.3 471.6 530.6 471.6 531.0 471.6 531.4 471.6 531.8 471.6 532.1 471.6 532.5 471.6 532.9 471.6 533.2 471.6 533.6 471.6 534.0 471.6 534.3 471.6 534.7 471.6 535.1 471.9 535.5 474.0 535.8 476.3 536.2Z" fill="#86cf92" stroke="#5cbf6a" stroke-width="0.45"/>
<path d="M466.90 536.20H476.30" stroke="#5cbf6a" stroke-width="0.8"/>
<path d="M473.3 518.0h0" stroke="#34a846" stroke-width="1.2" stroke-linecap="round" fill="none" opacity="0.65"/>
<path d="M477.6 536.2 479.9 535.8 482.0 535.5 482.3 535.1 482.3 534.7 482.3 534.3 482.3 534.0 482.3 533.6 482.3 533.2 482.3 532.9 482.3 532.5 482.3 532.1 482.3 531.8 482.3 531.4 482.3 531.0 482.3 530.6 482.3 530.3 482.3 529.9 482.3 529.5 482.3 529.2 482.3 528.8 482.3 528.4 482.3 528.0 482.3 527.7 482.3 527.3 482.3 526.9 482.3 526.6 482.3 526.2 482.3 525.8 482.3 525.4 482.3 525.1 482.3 524.7 482.3 524.3 482.3 524.0 482.3 523.6 482.3 523.2 482.2 522.9 482.2 522.5 482.2 522.1 482.2 521.7 482.2 521.4 482.2 521.0 482.2 520.6 482.2 520.3 482.1 519.9 482.1 519.5 482.1 519.1 482.1 518.8 482.1 518.4 482.1 518.0 482.5 518.0 482.5 518.4 482.5 518.8 482.5 519.1 482.5 519.5 482.5 519.9 482.4 520.3 482.4 520.6 482.4 521.0 482.4 521.4 482.4 521.7 482.4 522.1 482.4 522.5 482.4 522.9 482.3 523.2 482.3 523.6 482.3 524.0 482.3 524.3 482.3 524.7 482.3 525.1 482.3 525.4 482.3 525.8 482.3 526.2 482.3 526.6 482.3 526.9 482.3 527.3 482.3 527.7 482.3 528.0 482.3 528.4 482.3 528.8 482.3 529.2 482.3 529.5 482.3 529.9 482.3 530.3 482.3 530.6 482.3 531.0 482.3 531.4 482.3 531.8 482.3 532.1 482.3 532.5 482.3 532.9 482.3 533.2 482.3 533.6 482.3 534.0 482.3 534.3 482.3 534.7 482.3 535.1 482.6 535.5 484.7 535.8 487.0 536.2Z" fill="#ababab" stroke="#959595" stroke-width="0.45"/>
<path d="M477.60 536.20H487.00" stroke="#959595" stroke-width="0.8"/>
<path d="M485.5 518.0h0" stroke="#4a4a4a" stroke-width="1.2" stroke-linecap="round" fill="none" opacity="0.65"/>
<path d="M488.1 536.2 492.5 535.4 492.4 534.5 492.4 533.7 492.3 532.8 492.3 532.0 492.3 531.2 492.2 530.3 492.2 529.5 492.1 528.7 492.1 527.8 492.1 527.0 492.1 526.1 492.0 525.3 492.0 524.5 492.0 523.6 492.0 522.8 491.9 521.9 491.9 521.1 491.9 520.3 491.9 519.4 491.9 518.6 491.9 517.8 491.9 516.9 491.9 516.1 491.9 515.2 491.9 514.4 491.9 513.6 491.9 512.7 491.9 511.9 491.9 511.0 491.9 510.2 491.9 509.4 491.9 508.5 492.0 507.7 492.0 506.9 492.0 506.0 492.1 505.2 492.1 504.3 492.1 503.5 492.2 502.7 492.2 501.8 492.2 501.0 492.3 500.2 492.3 499.3 492.3 498.5 492.4 497.6 492.4 496.8 492.4 496.0 492.5 495.1 493.1 495.1 493.2 496.0 493.2 496.8 493.2 497.6 493.3 498.5 493.3 499.3 493.3 500.2 493.4 501.0 493.4 501.8 493.4 502.7 493.5 503.5 493.5 504.3 493.5 505.2 493.6 506.0 493.6 506.9 493.6 507.7 493.7 508.5 493.7 509.4 493.7 510.2 493.7 511.0 493.7 511.9 493.7 512.7 493.7 513.6 493.7 514.4 493.7 515.2 493.7 516.1 493.7 516.9 493.7 517.8 493.7 518.6 493.7 519.4 493.7 520.3 493.7 521.1 493.7 521.9 493.6 522.8 493.6 523.6 493.6 524.5 493.6 525.3 493.5 526.1 493.5 527.0 493.5 527.8 493.5 528.7 493.4 529.5 493.4 530.3 493.3 531.2 493.3 532.0 493.3 532.8 493.2 533.7 493.2 534.5 493.1 535.4 497.5 536.2Z" fill="#8aaed5" stroke="#4a86c0" stroke-width="0.45"/>
<path d="M488.10 536.20H497.50" stroke="#4a86c0" stroke-width="0.8"/>
<path d="M495.3 531.3h0M489.2 528.5h0M492.2 520.7h0M492.3 497.0h0M494.0 508.0h0M489.8 506.9h0M492.5 528.0h0M494.5 512.8h0M495.4 520.2h0M488.7 527.4h0M495.1 524.1h0M496.8 512.2h0M491.3 526.8h0M491.5 503.1h0M488.9 513.1h0M491.0 512.4h0M489.2 520.5h0M496.2 509.6h0M496.0 513.9h0M492.1 506.4h0" stroke="#1c5d99" stroke-width="1.2" stroke-linecap="round" fill="none" opacity="0.65"/>
<path d="M498.20 536.20H507.60" stroke="#e06a85" stroke-width="0.8"/>
<path d="M465.4 490.5V538.2H509.3" stroke="#000" stroke-width="1.4" fill="none"/>
<path d="M462.30 536.20H465.4M462.30 520.40H465.4M462.30 504.60H465.4M471.60 538.2V541.40M482.30 538.2V541.40M492.80 538.2V541.40M502.90 538.2V541.40" stroke="#000" stroke-width="1" fill="none"/>
<text x="460.10" y="538.60" font-size="6.7" text-anchor="end" font-weight="normal" font-style="normal" fill="#000" >0</text>
<text x="460.10" y="522.80" font-size="6.7" text-anchor="end" font-weight="normal" font-style="normal" fill="#000" >1</text>
<text x="460.10" y="507.00" font-size="6.7" text-anchor="end" font-weight="normal" font-style="normal" fill="#000" >2</text>
<text x="471.60" y="550.55" font-size="7.1" text-anchor="middle" font-weight="normal" font-style="normal" fill="#000" >2</text>
<text x="482.30" y="550.55" font-size="7.1" text-anchor="middle" font-weight="normal" font-style="normal" fill="#000" >3</text>
<text x="492.80" y="550.55" font-size="7.1" text-anchor="middle" font-weight="normal" font-style="normal" fill="#000" >4</text>
<text x="502.90" y="550.55" font-size="7.1" text-anchor="middle" font-weight="normal" font-style="normal" fill="#000" >5</text>
<text transform="translate(487.25,561.20) scale(0.73,1)" font-size="8.6" text-anchor="middle" font-weight="normal" font-style="normal" fill="#000" style="stroke-width:0.3px">Cluster</text>
<text x="487.25" y="491.11" font-size="9.0" text-anchor="middle" font-weight="normal" font-style="italic" fill="#000" style="stroke:none">Il5</text>
<text transform="translate(449.32,515.25) rotate(-90)" font-size="7.4" text-anchor="middle" textLength="45.2" lengthAdjust="spacingAndGlyphs" style="stroke-width:0.2px">Log. norm. expr.</text>
<path d="M425.1 618.2 428.8 617.8 429.8 617.3 429.8 616.9 429.8 616.5 429.8 616.1 429.8 615.6 429.8 615.2 429.8 614.8 429.8 614.3 429.8 613.9 429.8 613.5 429.7 613.1 429.7 612.6 429.7 612.2 429.7 611.8 429.7 611.3 429.7 610.9 429.7 610.5 429.7 610.1 429.7 609.6 429.7 609.2 429.7 608.8 429.6 608.3 429.6 607.9 429.6 607.5 429.6 607.1 429.6 606.6 429.6 606.2 429.6 605.8 429.6 605.3 429.6 604.9 429.6 604.5 429.6 604.1 429.6 603.6 429.6 603.2 429.6 602.8 429.6 602.3 429.6 601.9 429.6 601.5 429.6 601.1 429.7 600.6 429.7 600.2 429.7 599.8 429.7 599.3 429.7 598.9 429.7 598.5 429.7 598.1 429.7 597.6 429.7 597.2 429.9 597.2 429.9 597.6 429.9 598.1 429.9 598.5 429.9 598.9 429.9 599.3 429.9 599.8 429.9 600.2 429.9 600.6 430.0 601.1 430.0 601.5 430.0 601.9 430.0 602.3 430.0 602.8 430.0 603.2 430.0 603.6 430.0 604.1 430.0 604.5 430.0 604.9 430.0 605.3 430.0 605.8 430.0 606.2 430.0 606.6 430.0 607.1 430.0 607.5 430.0 607.9 430.0 608.3 429.9 608.8 429.9 609.2 429.9 609.6 429.9 610.1 429.9 610.5 429.9 610.9 429.9 611.3 429.9 611.8 429.9 612.2 429.9 612.6 429.9 613.1 429.8 613.5 429.8 613.9 429.8 614.3 429.8 614.8 429.8 615.2 429.8 615.6 429.8 616.1 429.8 616.5 429.8 616.9 429.8 617.3 430.8 617.8 434.5 618.2Z" fill="#86cf92" stroke="#5cbf6a" stroke-width="0.45"/>
<path d="M425.10 618.20H434.50" stroke="#5cbf6a" stroke-width="0.8"/>
<path d="M429.4 603.0h0M429.3 606.5h0M433.6 607.9h0M427.7 610.4h0M428.5 601.4h0M432.2 601.4h0M429.3 607.1h0M432.3 604.0h0" stroke="#34a846" stroke-width="1.2" stroke-linecap="round" fill="none" opacity="0.65"/>
<path d="M436.0 618.2 440.6 617.3 440.6 616.5 440.6 615.6 440.6 614.8 440.6 613.9 440.6 613.1 440.6 612.2 440.6 611.3 440.6 610.5 440.6 609.6 440.6 608.8 440.6 607.9 440.6 607.1 440.6 606.2 440.6 605.3 440.6 604.5 440.6 603.6 440.6 602.8 440.6 601.9 440.5 601.1 440.5 600.2 440.5 599.3 440.5 598.5 440.5 597.6 440.5 596.8 440.5 595.9 440.5 595.1 440.6 594.2 440.6 593.3 440.6 592.5 440.6 591.6 440.6 590.8 440.6 589.9 440.7 589.1 440.7 588.2 440.7 587.3 440.7 586.5 440.7 585.6 440.7 584.8 440.7 583.9 440.7 583.1 440.7 582.2 440.7 581.3 440.7 580.5 440.7 579.6 440.7 578.8 440.7 577.9 440.7 577.1 440.7 576.2 440.7 576.2 440.7 577.1 440.7 577.9 440.7 578.8 440.7 579.6 440.7 580.5 440.7 581.3 440.7 582.2 440.7 583.1 440.7 583.9 440.7 584.8 440.7 585.6 440.7 586.5 440.7 587.3 440.7 588.2 440.7 589.1 440.8 589.9 440.8 590.8 440.8 591.6 440.8 592.5 440.8 593.3 440.8 594.2 440.9 595.1 440.9 595.9 440.9 596.8 440.9 597.6 440.9 598.5 440.9 599.3 440.9 600.2 440.9 601.1 440.8 601.9 440.8 602.8 440.8 603.6 440.8 604.5 440.8 605.3 440.8 606.2 440.8 607.1 440.8 607.9 440.8 608.8 440.8 609.6 440.8 610.5 440.8 611.3 440.8 612.2 440.8 613.1 440.8 613.9 440.8 614.8 440.8 615.6 440.8 616.5 440.8 617.3 445.4 618.2Z" fill="#ababab" stroke="#959595" stroke-width="0.45"/>
<path d="M436.00 618.20H445.40" stroke="#959595" stroke-width="0.8"/>
<path d="M437.8 617.6h0M439.2 600.5h0M440.5 613.7h0M439.8 597.2h0M438.8 608.2h0M440.9 615.5h0M440.0 595.5h0M437.0 590.4h0M438.7 596.5h0M437.4 598.5h0M439.4 609.1h0M441.6 595.8h0M444.7 597.5h0M438.1 594.8h0M438.8 598.8h0M440.9 600.0h0M438.8 605.9h0M437.3 605.8h0M444.2 605.8h0M442.4 608.7h0" stroke="#4a4a4a" stroke-width="1.2" stroke-linecap="round" fill="none" opacity="0.65"/>
<path d="M446.7 618.2 451.3 617.4 451.3 616.6 451.3 615.8 451.3 615.0 451.3 614.2 451.2 613.4 451.2 612.5 451.2 611.7 451.2 610.9 451.1 610.1 451.1 609.3 451.1 608.5 451.1 607.7 451.1 606.9 451.0 606.1 451.0 605.3 451.0 604.5 451.0 603.7 451.0 602.8 450.9 602.0 450.9 601.2 450.9 600.4 450.9 599.6 450.9 598.8 450.9 598.0 450.9 597.2 451.0 596.4 451.0 595.6 451.0 594.8 451.0 594.0 451.1 593.1 451.1 592.3 451.1 591.5 451.1 590.7 451.2 589.9 451.2 589.1 451.2 588.3 451.2 587.5 451.3 586.7 451.3 585.9 451.3 585.1 451.3 584.3 451.3 583.4 451.3 582.6 451.3 581.8 451.3 581.0 451.3 580.2 451.4 579.4 451.4 578.6 451.4 578.6 451.4 579.4 451.5 580.2 451.5 581.0 451.5 581.8 451.5 582.6 451.5 583.4 451.5 584.3 451.5 585.1 451.5 585.9 451.5 586.7 451.6 587.5 451.6 588.3 451.6 589.1 451.6 589.9 451.7 590.7 451.7 591.5 451.7 592.3 451.7 593.1 451.8 594.0 451.8 594.8 451.8 595.6 451.8 596.4 451.9 597.2 451.9 598.0 451.9 598.8 451.9 599.6 451.9 600.4 451.9 601.2 451.9 602.0 451.8 602.8 451.8 603.7 451.8 604.5 451.8 605.3 451.8 606.1 451.7 606.9 451.7 607.7 451.7 608.5 451.7 609.3 451.7 610.1 451.6 610.9 451.6 611.7 451.6 612.5 451.6 613.4 451.5 614.2 451.5 615.0 451.5 615.8 451.5 616.6 451.5 617.4 456.1 618.2Z" fill="#8aaed5" stroke="#4a86c0" stroke-width="0.45"/>
<path d="M446.70 618.20H456.10" stroke="#4a86c0" stroke-width="0.8"/>
<path d="M453.3 603.6h0M454.9 597.1h0M448.4 599.0h0M448.3 599.5h0M454.3 590.3h0M447.8 585.8h0M453.7 595.3h0M448.2 605.4h0M447.3 580.9h0M454.3 593.0h0M454.2 599.0h0M454.4 607.9h0M454.6 594.2h0M450.7 603.8h0M449.4 608.4h0M449.9 598.7h0M450.3 603.8h0M447.4 599.3h0M452.5 603.2h0M452.7 599.9h0M452.7 597.7h0M454.2 614.3h0M454.1 600.4h0M451.6 613.1h0M450.3 593.2h0M450.8 599.1h0M447.6 604.3h0M449.8 596.9h0M454.8 599.7h0M450.0 610.5h0M449.4 604.7h0M453.7 603.6h0M453.2 595.2h0M452.0 596.9h0M450.8 597.5h0M447.7 605.4h0M452.8 608.1h0M453.5 597.2h0M453.5 592.1h0M452.2 611.3h0M452.7 607.8h0M455.6 594.8h0M449.1 593.2h0M448.9 594.8h0M453.9 602.8h0M448.7 605.9h0M455.3 590.7h0M455.0 603.2h0M452.3 611.8h0M450.6 596.8h0" stroke="#1c5d99" stroke-width="1.2" stroke-linecap="round" fill="none" opacity="0.65"/>
<path d="M457.5 618.2 462.1 617.5 462.2 616.8 462.2 616.1 462.2 615.4 462.2 614.6 462.2 613.9 462.2 613.2 462.2 612.5 462.2 611.8 462.2 611.1 462.2 610.4 462.2 609.7 462.2 609.0 462.2 608.3 462.2 607.5 462.2 606.8 462.2 606.1 462.2 605.4 462.1 604.7 462.1 604.0 462.1 603.3 462.1 602.6 462.1 601.9 462.1 601.2 462.1 600.4 462.2 599.7 462.2 599.0 462.2 598.3 462.2 597.6 462.2 596.9 462.2 596.2 462.2 595.5 462.2 594.8 462.2 594.1 462.2 593.3 462.2 592.6 462.2 591.9 462.2 591.2 462.2 590.5 462.2 589.8 462.2 589.1 462.2 588.4 462.2 587.7 462.1 587.0 462.1 586.2 462.1 585.5 462.0 584.8 462.0 584.1 462.0 583.4 462.4 583.4 462.4 584.1 462.4 584.8 462.3 585.5 462.3 586.2 462.3 587.0 462.2 587.7 462.2 588.4 462.2 589.1 462.2 589.8 462.2 590.5 462.2 591.2 462.2 591.9 462.2 592.6 462.2 593.3 462.2 594.1 462.2 594.8 462.2 595.5 462.2 596.2 462.2 596.9 462.2 597.6 462.2 598.3 462.2 599.0 462.2 599.7 462.3 600.4 462.3 601.2 462.3 601.9 462.3 602.6 462.3 603.3 462.3 604.0 462.3 604.7 462.2 605.4 462.2 606.1 462.2 606.8 462.2 607.5 462.2 608.3 462.2 609.0 462.2 609.7 462.2 610.4 462.2 611.1 462.2 611.8 462.2 612.5 462.2 613.2 462.2 613.9 462.2 614.6 462.2 615.4 462.2 616.1 462.2 616.8 462.3 617.5 466.9 618.2Z" fill="#ee9cb0" stroke="#e06a85" stroke-width="0.45"/>
<path d="M457.50 618.20H466.90" stroke="#e06a85" stroke-width="0.8"/>
<path d="M464.3 583.4h0M458.3 602.6h0" stroke="#cf2750" stroke-width="1.2" stroke-linecap="round" fill="none" opacity="0.65"/>
<path d="M423.4 572.3V619.9H468.7" stroke="#000" stroke-width="1.4" fill="none"/>
<path d="M420.30 618.20H423.4M420.30 606.20H423.4M420.30 594.20H423.4M420.30 582.20H423.4M429.80 619.9V623.10M440.70 619.9V623.10M451.40 619.9V623.10M462.20 619.9V623.10" stroke="#000" stroke-width="1" fill="none"/>
<text x="418.10" y="620.60" font-size="6.7" text-anchor="end" font-weight="normal" font-style="normal" fill="#000" >0</text>
<text x="418.10" y="608.60" font-size="6.7" text-anchor="end" font-weight="normal" font-style="normal" fill="#000" >1</text>
<text x="418.10" y="596.60" font-size="6.7" text-anchor="end" font-weight="normal" font-style="normal" fill="#000" >2</text>
<text x="418.10" y="584.60" font-size="6.7" text-anchor="end" font-weight="normal" font-style="normal" fill="#000" >3</text>
<text x="429.80" y="631.95" font-size="7.1" text-anchor="middle" font-weight="normal" font-style="normal" fill="#000" >2</text>
<text x="440.70" y="631.95" font-size="7.1" text-anchor="middle" font-weight="normal" font-style="normal" fill="#000" >3</text>
<text x="451.40" y="631.95" font-size="7.1" text-anchor="middle" font-weight="normal" font-style="normal" fill="#000" >4</text>
<text x="462.20" y="631.95" font-size="7.1" text-anchor="middle" font-weight="normal" font-style="normal" fill="#000" >5</text>
<text transform="translate(446.00,642.80) scale(0.73,1)" font-size="8.6" text-anchor="middle" font-weight="normal" font-style="normal" fill="#000" style="stroke-width:0.3px">Cluster</text>
<text x="446.00" y="571.61" font-size="9.0" text-anchor="middle" font-weight="normal" font-style="italic" fill="#000" style="stroke:none">Il13</text>
<text transform="translate(407.42,597.00) rotate(-90)" font-size="7.4" text-anchor="middle" textLength="45.2" lengthAdjust="spacingAndGlyphs" style="stroke-width:0.2px">Log. norm. expr.</text>
<text x="70.7" y="477.8" font-size="7.6" text-anchor="middle">Gated on H2-K<tspan dy="-2.8" font-size="5.3">b+</tspan><tspan dy="2.8"> TCR-β</tspan><tspan dy="-2.8" font-size="5.3">+</tspan><tspan dy="2.8"> CD4</tspan><tspan dy="-2.8" font-size="5.3">+</tspan></text>
<text x="71.3" y="487.4" font-size="7.6" text-anchor="middle">GM-CSF<tspan dy="-2.8" font-size="5.3">+</tspan><tspan dy="2.8"> IFN-γ</tspan><tspan dy="-2.8" font-size="5.3">+</tspan></text>
<path d="M74.7 538.3h0M64.6 537.9h0M63.7 539.9h0M69.7 540.3h0M65.1 538.0h0M69.3 540.5h0M67.7 534.7h0M63.0 538.4h0M63.5 542.5h0M79.0 538.5h0M58.6 541.0h0M68.7 541.1h0M71.2 540.3h0M49.6 541.3h0M63.3 539.5h0M59.8 544.1h0M58.5 542.2h0M76.5 538.2h0M58.8 538.8h0M73.7 538.5h0M65.2 536.8h0M64.6 537.6h0M63.4 537.7h0M50.0 539.6h0M56.7 534.5h0M57.0 538.1h0M60.5 541.2h0M61.9 539.8h0M69.0 538.7h0M90.5 539.5h0M61.5 537.3h0M67.8 538.2h0M68.7 539.3h0M65.6 541.5h0M46.2 537.2h0M73.5 537.4h0M66.0 537.6h0M70.0 539.8h0M64.2 539.1h0M63.7 536.6h0M67.5 538.0h0M46.9 544.5h0M60.5 536.7h0M45.0 540.0h0M60.2 535.2h0M69.8 538.5h0M68.3 541.5h0M57.3 540.4h0M60.5 538.1h0M55.5 537.9h0M68.6 536.5h0M54.5 540.3h0M65.9 541.9h0M66.9 538.0h0M71.8 536.9h0M84.2 538.5h0M61.0 540.1h0M47.7 534.5h0M66.6 541.0h0M68.0 536.6h0M66.9 538.1h0M72.5 541.0h0M63.7 541.3h0M72.1 540.5h0M62.4 536.2h0M72.9 539.8h0M74.0 540.1h0M59.9 539.9h0M59.6 540.5h0M70.1 540.7h0M70.3 534.4h0M61.6 540.2h0M72.8 536.1h0M74.8 540.6h0M65.5 538.1h0M74.1 539.6h0M71.8 539.4h0M74.1 540.2h0M64.7 538.7h0M71.0 536.2h0M65.5 538.2h0M65.3 535.3h0M74.9 537.9h0M81.6 540.2h0M59.4 541.8h0M74.6 539.8h0M64.9 537.9h0M78.0 540.1h0M71.7 538.4h0M64.8 537.7h0M60.7 538.2h0M64.7 538.9h0M52.5 537.4h0M45.4 539.4h0M66.0 536.7h0M70.0 539.6h0M63.8 537.2h0M73.8 536.9h0M71.2 538.3h0M66.8 537.0h0M66.8 535.1h0M62.5 537.1h0M61.1 540.1h0M67.7 539.1h0M55.8 535.7h0M53.5 537.1h0M61.3 537.3h0M64.4 540.4h0M68.0 538.5h0M82.4 535.5h0M61.0 540.7h0M56.3 538.5h0M80.4 542.2h0M62.3 536.9h0M72.6 540.0h0M81.6 536.6h0M55.7 537.5h0M68.6 535.4h0M66.4 540.7h0M63.2 536.2h0M60.5 539.5h0M69.9 535.8h0M59.7 541.2h0M73.0 538.9h0M67.3 537.5h0M67.4 536.0h0M63.1 537.5h0M63.4 544.8h0M69.0 540.8h0M62.8 539.1h0M65.8 543.1h0M74.3 536.7h0M75.6 537.8h0M71.4 539.6h0M76.0 537.3h0M66.1 535.2h0M52.2 537.5h0M70.5 537.5h0M48.9 540.3h0" stroke="#7f9fe0" stroke-width="0.8" stroke-linecap="round" opacity="0.55" fill="none"/>
<ellipse cx="69.6" cy="538.6" rx="6.51" ry="4.60" fill="#86a8ef" opacity="0.55"/>
<ellipse cx="69.6" cy="538.6" rx="4.83" ry="3.60" fill="#3a7ee0" opacity="0.75"/>
<ellipse cx="69.6" cy="538.6" rx="3.78" ry="2.90" fill="#2db8a0" opacity="0.9"/>
<ellipse cx="69.6" cy="538.6" rx="2.94" ry="2.30" fill="#63c043" opacity="1"/>
<ellipse cx="69.6" cy="538.6" rx="1.89" ry="1.70" fill="#d8d820" opacity="1"/>
<ellipse cx="69.6" cy="538.6" rx="1.26" ry="1.20" fill="#f5a020" opacity="1"/>
<ellipse cx="69.6" cy="538.6" rx="0.76" ry="0.80" fill="#ee3322" opacity="1"/>
<rect x="41.5" y="490.4" width="59.5" height="58.39999999999998" fill="none" stroke="#000" stroke-width="1.1"/>
<path d="M39.9 492.4h1.6M39.9 494.4h1.6M39.9 496.4h1.6M39.9 498.4h1.6M39.9 500.4h1.6M39.9 502.4h1.6M39.9 504.4h1.6M39.9 506.4h1.6M39.9 508.4h1.6M39.9 510.4h1.6M39.9 512.4h1.6M39.9 514.4h1.6M39.9 516.4h1.6M39.9 518.4h1.6M39.9 520.4h1.6M39.9 522.4h1.6M39.9 524.4h1.6M39.9 526.4h1.6M39.9 528.4h1.6M39.9 530.4h1.6M39.9 532.4h1.6M39.9 534.4h1.6M39.9 536.4h1.6M39.9 538.4h1.6M39.9 540.4h1.6M39.9 542.4h1.6M39.9 544.4h1.6M39.9 546.4h1.6M43.5 548.8v1.4M45.9 548.8v1.4M48.3 548.8v1.4M50.7 548.8v1.4M53.1 548.8v1.4M55.5 548.8v1.4M57.9 548.8v1.4M60.3 548.8v1.4M62.7 548.8v1.4M65.1 548.8v1.4M67.5 548.8v1.4M69.9 548.8v1.4M72.3 548.8v1.4M74.7 548.8v1.4M77.1 548.8v1.4M79.5 548.8v1.4M81.9 548.8v1.4M84.3 548.8v1.4M86.7 548.8v1.4M89.1 548.8v1.4M91.5 548.8v1.4M93.9 548.8v1.4M96.3 548.8v1.4M98.7 548.8v1.4" stroke="#000" stroke-width="0.6" fill="none"/>
<rect x="42.0" y="550.5" width="7.0" height="1.9" fill="#222" opacity="0.8"/><rect x="55.1" y="550.5" width="7.5" height="1.9" fill="#222" opacity="0.8"/><rect x="68.2" y="550.5" width="7.5" height="1.9" fill="#222" opacity="0.8"/><rect x="81.4" y="550.5" width="7.5" height="1.9" fill="#222" opacity="0.8"/><rect x="94.5" y="550.5" width="7.5" height="1.9" fill="#222" opacity="0.8"/>
<rect x="64.2" y="531.2" width="27.2" height="12.4" fill="none" stroke="#000" stroke-width="0.9"/>
<text x="77.70" y="528.30" font-size="7.2" text-anchor="middle" font-weight="normal" font-style="normal" fill="#000" >94.3</text>
<text x="71.3" y="567.0" font-size="7.6" text-anchor="middle">GM-CSF<tspan dy="-2.8" font-size="5.3">+</tspan><tspan dy="2.8"> IFN-γ</tspan><tspan dy="-2.8" font-size="5.3">−</tspan></text>
<path d="M55.8 618.5h0M61.8 619.3h0M67.1 618.1h0M59.7 619.3h0M60.7 617.3h0M49.2 618.6h0M76.0 619.6h0M60.2 618.2h0M61.5 620.4h0M64.0 618.8h0M50.5 615.7h0M61.0 616.1h0M64.7 621.3h0M62.0 618.9h0M65.0 618.6h0M50.4 617.9h0M63.7 616.9h0M65.4 614.9h0M73.1 619.5h0M47.3 615.2h0M59.2 615.3h0M71.8 616.9h0M59.6 619.0h0M57.1 615.4h0M68.5 617.0h0M66.5 618.4h0M81.9 614.7h0M65.3 617.1h0M75.7 613.2h0M84.7 623.7h0M55.9 617.1h0M53.2 617.8h0M48.0 617.2h0M79.6 618.3h0M51.1 619.4h0M55.9 618.6h0M66.7 614.9h0M60.4 620.0h0M66.0 619.4h0M65.2 616.0h0M61.4 616.5h0M53.1 622.0h0M73.6 620.6h0M66.7 618.5h0M63.4 620.6h0M69.1 618.9h0M60.6 618.2h0M62.7 619.1h0M65.0 622.0h0M66.9 619.1h0M70.6 617.0h0M47.9 618.1h0M70.5 617.5h0M85.5 621.1h0M54.7 617.2h0M63.6 615.0h0M55.5 617.9h0M48.4 619.4h0M65.2 619.5h0M55.8 623.0h0M66.6 617.4h0M63.8 618.0h0M75.6 620.9h0M72.3 614.6h0M70.9 617.7h0M71.7 620.6h0M61.8 619.5h0M65.5 618.5h0M60.8 616.3h0M70.5 617.5h0M60.9 620.6h0M64.9 617.4h0M60.0 615.5h0M69.1 619.5h0M62.5 615.6h0M76.7 615.2h0M60.9 617.9h0M57.6 617.4h0M69.2 621.1h0M72.3 617.3h0M57.7 613.2h0M71.8 620.1h0M58.8 619.3h0M64.2 616.1h0M50.8 615.0h0M42.5 623.2h0M59.1 619.6h0M67.6 617.5h0M56.7 620.7h0M54.5 616.5h0M63.7 618.2h0M57.9 617.5h0M56.2 617.4h0M75.9 618.8h0M55.8 620.6h0M72.3 616.9h0M52.1 617.7h0M70.7 619.4h0M71.9 614.7h0M44.7 617.1h0M69.7 616.2h0M70.9 620.4h0M56.0 617.7h0M55.8 620.4h0M64.5 613.6h0M60.9 621.3h0M66.4 618.5h0M62.7 615.2h0M71.6 619.1h0M57.3 621.8h0M58.8 620.0h0M61.0 617.7h0M85.5 617.8h0M81.6 619.6h0M55.4 616.7h0M63.2 621.1h0M58.1 619.7h0M70.0 619.7h0M58.9 616.0h0M62.7 614.1h0M60.9 620.3h0M80.3 618.4h0M74.6 615.7h0M52.2 619.4h0M54.3 620.3h0M66.3 619.7h0M54.1 617.1h0M49.5 615.0h0M67.8 619.4h0M52.6 622.9h0M64.1 619.8h0M67.2 620.2h0M64.5 617.1h0M63.4 617.7h0M83.3 615.2h0M72.6 622.1h0M71.4 621.1h0M70.9 619.0h0M65.7 615.8h0" stroke="#7f9fe0" stroke-width="0.8" stroke-linecap="round" opacity="0.55" fill="none"/>
<ellipse cx="68.0" cy="618.2" rx="6.51" ry="4.60" fill="#86a8ef" opacity="0.55"/>
<ellipse cx="68.0" cy="618.2" rx="4.83" ry="3.60" fill="#3a7ee0" opacity="0.75"/>
<ellipse cx="68.0" cy="618.2" rx="3.78" ry="2.90" fill="#2db8a0" opacity="0.9"/>
<ellipse cx="68.0" cy="618.2" rx="2.94" ry="2.30" fill="#63c043" opacity="1"/>
<ellipse cx="68.0" cy="618.2" rx="1.89" ry="1.70" fill="#d8d820" opacity="1"/>
<ellipse cx="68.0" cy="618.2" rx="1.26" ry="1.20" fill="#f5a020" opacity="1"/>
<ellipse cx="68.0" cy="618.2" rx="0.76" ry="0.80" fill="#ee3322" opacity="1"/>
<rect x="41.4" y="569.9" width="59.800000000000004" height="59.700000000000045" fill="none" stroke="#000" stroke-width="1.1"/>
<path d="M39.8 571.9h1.6M39.8 573.9h1.6M39.8 575.9h1.6M39.8 577.9h1.6M39.8 579.9h1.6M39.8 581.9h1.6M39.8 583.9h1.6M39.8 585.9h1.6M39.8 587.9h1.6M39.8 589.9h1.6M39.8 591.9h1.6M39.8 593.9h1.6M39.8 595.9h1.6M39.8 597.9h1.6M39.8 599.9h1.6M39.8 601.9h1.6M39.8 603.9h1.6M39.8 605.9h1.6M39.8 607.9h1.6M39.8 609.9h1.6M39.8 611.9h1.6M39.8 613.9h1.6M39.8 615.9h1.6M39.8 617.9h1.6M39.8 619.9h1.6M39.8 621.9h1.6M39.8 623.9h1.6M39.8 625.9h1.6M39.8 627.9h1.6M43.4 629.6v1.4M45.8 629.6v1.4M48.2 629.6v1.4M50.6 629.6v1.4M53.0 629.6v1.4M55.4 629.6v1.4M57.8 629.6v1.4M60.2 629.6v1.4M62.6 629.6v1.4M65.0 629.6v1.4M67.4 629.6v1.4M69.8 629.6v1.4M72.2 629.6v1.4M74.6 629.6v1.4M77.0 629.6v1.4M79.4 629.6v1.4M81.8 629.6v1.4M84.2 629.6v1.4M86.6 629.6v1.4M89.0 629.6v1.4M91.4 629.6v1.4M93.8 629.6v1.4M96.2 629.6v1.4M98.6 629.6v1.4" stroke="#000" stroke-width="0.6" fill="none"/>
<rect x="41.9" y="631.3" width="7.0" height="1.9" fill="#222" opacity="0.8"/><rect x="55.1" y="631.3" width="7.5" height="1.9" fill="#222" opacity="0.8"/><rect x="68.3" y="631.3" width="7.5" height="1.9" fill="#222" opacity="0.8"/><rect x="81.5" y="631.3" width="7.5" height="1.9" fill="#222" opacity="0.8"/><rect x="94.7" y="631.3" width="7.5" height="1.9" fill="#222" opacity="0.8"/>
<rect x="64.4" y="611.5" width="27.3" height="12.0" fill="none" stroke="#000" stroke-width="0.9"/>
<text x="75.00" y="608.50" font-size="7.2" text-anchor="middle" font-weight="normal" font-style="normal" fill="#000" >88.6</text>
<text transform="translate(35.4,629.2) rotate(-90)" font-size="7">SSC-A</text>
<path d="M33.2 603V590" stroke="#000" stroke-width="1"/><path d="M30.5 591.5L33.2 586.7L35.9 591.5Z" fill="#000"/>
<text x="41.70" y="642.50" font-size="7" text-anchor="start" font-weight="normal" font-style="normal" fill="#000" >T-bet</text>
<path d="M62 640H76" stroke="#000" stroke-width="1"/><path d="M75 637.6L80 640L75 642.4Z" fill="#000"/>
<text x="254.3" y="477.8" font-size="7.6" text-anchor="middle">Gated on H2-K<tspan dy="-2.8" font-size="5.3">b+</tspan><tspan dy="2.8"> TCR-β</tspan><tspan dy="-2.8" font-size="5.3">+</tspan><tspan dy="2.8"> CD4</tspan><tspan dy="-2.8" font-size="5.3">+</tspan></text>
<text x="254.2" y="487.0" font-size="7.6" text-anchor="middle">GM-CSF<tspan dy="-2.8" font-size="5.3">+</tspan><tspan dy="2.8"> IFN-γ</tspan><tspan dy="-2.8" font-size="5.3">+</tspan></text>
<path d="M237.5 535.2h0M241.0 539.2h0M234.0 539.5h0M230.5 541.2h0M260.5 534.1h0M230.3 537.4h0M267.4 539.3h0M230.6 540.1h0M249.2 538.7h0M260.5 539.6h0M228.3 540.3h0M230.1 538.0h0M236.7 539.2h0M230.7 541.0h0M237.3 541.4h0M246.6 539.3h0M227.0 535.6h0M240.1 542.0h0M232.6 536.7h0M243.5 540.3h0M236.1 541.0h0M237.0 538.1h0M240.4 538.6h0M236.6 537.8h0M233.6 536.3h0M236.3 540.3h0M238.6 535.9h0M274.1 541.0h0M240.3 541.9h0M241.7 537.9h0M228.1 535.5h0M242.7 537.6h0M225.9 539.7h0M235.4 539.6h0M239.4 540.8h0M248.9 541.5h0M249.0 533.7h0M238.3 539.7h0M226.6 536.3h0M246.8 538.3h0M229.4 538.0h0M243.1 543.8h0M251.1 538.6h0M253.9 542.0h0M227.6 538.4h0M230.6 541.4h0M258.7 541.8h0M250.7 537.5h0M260.5 538.7h0M273.9 535.7h0M234.4 533.2h0M259.3 539.1h0M270.4 535.7h0M235.0 539.5h0M242.3 538.6h0M271.8 538.4h0M263.4 540.4h0M236.3 540.4h0M263.7 538.3h0M237.5 536.1h0M237.1 535.8h0M226.6 541.5h0M241.3 539.8h0M236.1 541.0h0M249.1 539.3h0M227.2 538.9h0M249.7 542.4h0M249.7 538.9h0M228.3 535.0h0M253.0 539.1h0M238.0 539.9h0M233.7 537.0h0M234.7 537.0h0M239.2 538.3h0M249.4 537.8h0M274.8 539.8h0M237.6 540.4h0M235.5 535.9h0M235.7 537.9h0M254.6 534.6h0M264.3 540.0h0M241.1 539.8h0M229.4 538.9h0M227.1 543.8h0M225.9 541.7h0M233.0 539.2h0M247.4 537.6h0M235.3 539.6h0M256.8 538.9h0M251.4 535.0h0M237.6 540.4h0M239.7 537.6h0M238.1 538.8h0" stroke="#7f9fe0" stroke-width="0.8" stroke-linecap="round" opacity="0.55" fill="none"/>
<ellipse cx="244.0" cy="539.0" rx="16.28" ry="4.60" fill="#86a8ef" opacity="0.55"/>
<ellipse cx="244.0" cy="539.0" rx="12.07" ry="3.60" fill="#3a7ee0" opacity="0.75"/>
<ellipse cx="244.0" cy="539.0" rx="9.45" ry="2.90" fill="#2db8a0" opacity="0.9"/>
<ellipse cx="244.0" cy="539.0" rx="7.35" ry="2.30" fill="#63c043" opacity="1"/>
<ellipse cx="244.0" cy="539.0" rx="4.73" ry="1.70" fill="#d8d820" opacity="1"/>
<ellipse cx="244.0" cy="539.0" rx="3.15" ry="1.20" fill="#f5a020" opacity="1"/>
<ellipse cx="244.0" cy="539.0" rx="1.89" ry="0.80" fill="#ee3322" opacity="1"/>
<rect x="224.6" y="490.6" width="59.20000000000002" height="58.89999999999998" fill="none" stroke="#000" stroke-width="1.1"/>
<path d="M223.0 492.6h1.6M223.0 494.6h1.6M223.0 496.6h1.6M223.0 498.6h1.6M223.0 500.6h1.6M223.0 502.6h1.6M223.0 504.6h1.6M223.0 506.6h1.6M223.0 508.6h1.6M223.0 510.6h1.6M223.0 512.6h1.6M223.0 514.6h1.6M223.0 516.6h1.6M223.0 518.6h1.6M223.0 520.6h1.6M223.0 522.6h1.6M223.0 524.6h1.6M223.0 526.6h1.6M223.0 528.6h1.6M223.0 530.6h1.6M223.0 532.6h1.6M223.0 534.6h1.6M223.0 536.6h1.6M223.0 538.6h1.6M223.0 540.6h1.6M223.0 542.6h1.6M223.0 544.6h1.6M223.0 546.6h1.6M226.6 549.5v1.4M229.0 549.5v1.4M231.4 549.5v1.4M233.8 549.5v1.4M236.2 549.5v1.4M238.6 549.5v1.4M241.0 549.5v1.4M243.4 549.5v1.4M245.8 549.5v1.4M248.2 549.5v1.4M250.6 549.5v1.4M253.0 549.5v1.4M255.4 549.5v1.4M257.8 549.5v1.4M260.2 549.5v1.4M262.6 549.5v1.4M265.0 549.5v1.4M267.4 549.5v1.4M269.8 549.5v1.4M272.2 549.5v1.4M274.6 549.5v1.4M277.0 549.5v1.4M279.4 549.5v1.4M281.8 549.5v1.4" stroke="#000" stroke-width="0.6" fill="none"/>
<rect x="225.1" y="551.2" width="7.0" height="1.9" fill="#222" opacity="0.8"/><rect x="238.2" y="551.2" width="7.5" height="1.9" fill="#222" opacity="0.8"/><rect x="251.2" y="551.2" width="7.5" height="1.9" fill="#222" opacity="0.8"/><rect x="264.2" y="551.2" width="7.5" height="1.9" fill="#222" opacity="0.8"/><rect x="277.3" y="551.2" width="7.5" height="1.9" fill="#222" opacity="0.8"/>
<rect x="248.3" y="529.0" width="24.5" height="14.6" fill="none" stroke="#000" stroke-width="0.9"/>
<text x="260.20" y="525.80" font-size="7.2" text-anchor="middle" font-weight="normal" font-style="normal" fill="#000" >20.7</text>
<text x="254.0" y="567.6" font-size="7.6" text-anchor="middle">GM-CSF<tspan dy="-2.8" font-size="5.3">+</tspan><tspan dy="2.8"> IFN-γ</tspan><tspan dy="-2.8" font-size="5.3">−</tspan></text>
<path d="M240.9 620.3h0M259.0 620.3h0M232.9 619.2h0M253.5 617.9h0M228.4 617.0h0M258.5 619.4h0M238.0 622.4h0M249.0 624.1h0M240.5 623.5h0M228.2 618.5h0M260.3 620.9h0M245.6 622.3h0M243.4 615.9h0M255.0 617.0h0M231.5 621.6h0M233.8 618.7h0M231.1 616.8h0M225.7 622.3h0M251.2 623.4h0M226.7 621.7h0M247.7 617.8h0M253.7 619.3h0M248.2 616.7h0M239.3 620.8h0M224.8 620.6h0M245.7 614.0h0M264.4 621.0h0M237.0 621.0h0M236.8 619.9h0M240.7 617.7h0M238.8 620.6h0M278.4 620.2h0M259.1 620.1h0M242.4 619.4h0M255.8 621.0h0M232.6 620.5h0M229.9 619.9h0M232.9 618.0h0M238.7 618.7h0M225.6 620.9h0M253.8 621.4h0M232.6 616.0h0M245.8 620.5h0M240.2 618.7h0M239.8 618.7h0M246.6 617.2h0M257.8 615.9h0M273.3 617.8h0M272.2 616.7h0M254.8 621.5h0M232.0 617.2h0M270.6 617.2h0M268.1 620.2h0M231.2 619.3h0M235.1 617.9h0M241.7 618.9h0M241.9 622.7h0M240.1 618.6h0M257.8 621.7h0M231.2 618.2h0M253.5 620.8h0M242.4 618.4h0M227.3 617.6h0M264.4 619.5h0M226.0 618.4h0M269.1 616.6h0M261.5 619.3h0M229.2 617.3h0M232.4 620.1h0M271.8 622.5h0M244.7 615.7h0M251.0 619.4h0M253.4 616.9h0M241.2 619.0h0M241.4 618.2h0M232.5 617.7h0M257.9 618.5h0M239.6 623.0h0M241.2 620.9h0M225.7 619.8h0M247.8 620.9h0M227.6 620.9h0M235.5 622.8h0M241.7 619.0h0M250.4 617.7h0M270.3 619.8h0M237.9 616.1h0M244.2 615.9h0M263.9 614.6h0M273.6 620.6h0M237.7 618.8h0M234.1 618.9h0M235.3 620.4h0M239.4 618.5h0M236.3 617.8h0M247.5 620.2h0M257.8 620.2h0M226.6 616.5h0M225.3 620.4h0M249.1 618.0h0M272.0 619.7h0M242.1 618.3h0M243.1 616.7h0" stroke="#7f9fe0" stroke-width="0.8" stroke-linecap="round" opacity="0.55" fill="none"/>
<ellipse cx="247.5" cy="618.8" rx="14.72" ry="4.60" fill="#86a8ef" opacity="0.55"/>
<ellipse cx="247.5" cy="618.8" rx="10.92" ry="3.60" fill="#3a7ee0" opacity="0.75"/>
<ellipse cx="247.5" cy="618.8" rx="8.55" ry="2.90" fill="#2db8a0" opacity="0.9"/>
<ellipse cx="247.5" cy="618.8" rx="6.65" ry="2.30" fill="#63c043" opacity="1"/>
<ellipse cx="247.5" cy="618.8" rx="4.28" ry="1.70" fill="#d8d820" opacity="1"/>
<ellipse cx="247.5" cy="618.8" rx="2.85" ry="1.20" fill="#f5a020" opacity="1"/>
<ellipse cx="247.5" cy="618.8" rx="1.71" ry="0.80" fill="#ee3322" opacity="1"/>
<rect x="223.8" y="570.3" width="60.39999999999998" height="60.5" fill="none" stroke="#000" stroke-width="1.1"/>
<path d="M222.2 572.3h1.6M222.2 574.3h1.6M222.2 576.3h1.6M222.2 578.3h1.6M222.2 580.3h1.6M222.2 582.3h1.6M222.2 584.3h1.6M222.2 586.3h1.6M222.2 588.3h1.6M222.2 590.3h1.6M222.2 592.3h1.6M222.2 594.3h1.6M222.2 596.3h1.6M222.2 598.3h1.6M222.2 600.3h1.6M222.2 602.3h1.6M222.2 604.3h1.6M222.2 606.3h1.6M222.2 608.3h1.6M222.2 610.3h1.6M222.2 612.3h1.6M222.2 614.3h1.6M222.2 616.3h1.6M222.2 618.3h1.6M222.2 620.3h1.6M222.2 622.3h1.6M222.2 624.3h1.6M222.2 626.3h1.6M222.2 628.3h1.6M225.8 630.8v1.4M228.2 630.8v1.4M230.6 630.8v1.4M233.0 630.8v1.4M235.4 630.8v1.4M237.8 630.8v1.4M240.2 630.8v1.4M242.6 630.8v1.4M245.0 630.8v1.4M247.4 630.8v1.4M249.8 630.8v1.4M252.2 630.8v1.4M254.6 630.8v1.4M257.0 630.8v1.4M259.4 630.8v1.4M261.8 630.8v1.4M264.2 630.8v1.4M266.6 630.8v1.4M269.0 630.8v1.4M271.4 630.8v1.4M273.8 630.8v1.4M276.2 630.8v1.4M278.6 630.8v1.4M281.0 630.8v1.4" stroke="#000" stroke-width="0.6" fill="none"/>
<rect x="224.3" y="632.5" width="7.0" height="1.9" fill="#222" opacity="0.8"/><rect x="237.7" y="632.5" width="7.5" height="1.9" fill="#222" opacity="0.8"/><rect x="251.0" y="632.5" width="7.5" height="1.9" fill="#222" opacity="0.8"/><rect x="264.4" y="632.5" width="7.5" height="1.9" fill="#222" opacity="0.8"/><rect x="277.7" y="632.5" width="7.5" height="1.9" fill="#222" opacity="0.8"/>
<rect x="247.5" y="609.4" width="25.0" height="14.8" fill="none" stroke="#000" stroke-width="0.9"/>
<text x="260.00" y="606.30" font-size="7.2" text-anchor="middle" font-weight="normal" font-style="normal" fill="#000" >49.2</text>
<text transform="translate(215.4,629.8) rotate(-90)" font-size="6.8" textLength="20" lengthAdjust="spacingAndGlyphs">SSC-A</text>
<path d="M213 606V592" stroke="#000" stroke-width="1"/><path d="M210.6 593L213 588L215.4 593Z" fill="#000"/>
<text x="224.4" y="642.2" font-size="6.8" textLength="21.6" lengthAdjust="spacingAndGlyphs">GATA3</text>
<path d="M247 639.7H261" stroke="#000" stroke-width="1"/><path d="M260 637.3L265 639.7L260 642.1Z" fill="#000"/>
<path d="M141.2 497.0V573.8H177.3" stroke="#000" stroke-width="1.2" fill="none"/>
<path d="M138.0 501.00H141.2M138.0 515.60H141.2M138.0 530.20H141.2M138.0 544.80H141.2M138.0 559.40H141.2M138.0 574.00H141.2M151.2 573.8V577.0M167.3 573.8V577.0" stroke="#000" stroke-width="1" fill="none"/>
<text x="135.40" y="503.75" font-size="7.8" text-anchor="end" font-weight="normal" font-style="normal" fill="#000" >100</text>
<text x="135.40" y="518.35" font-size="7.8" text-anchor="end" font-weight="normal" font-style="normal" fill="#000" >95</text>
<text x="135.40" y="532.95" font-size="7.8" text-anchor="end" font-weight="normal" font-style="normal" fill="#000" >90</text>
<text x="135.40" y="547.55" font-size="7.8" text-anchor="end" font-weight="normal" font-style="normal" fill="#000" >85</text>
<text x="135.40" y="562.15" font-size="7.8" text-anchor="end" font-weight="normal" font-style="normal" fill="#000" >80</text>
<text x="135.40" y="576.75" font-size="7.8" text-anchor="end" font-weight="normal" font-style="normal" fill="#000" >75</text>
<rect x="148.20" y="505.92" width="3" height="3" fill="#c8c8c8"/>
<rect x="151.20" y="508.26" width="3" height="3" fill="#c8c8c8"/>
<rect x="148.70" y="509.72" width="3" height="3" fill="#c8c8c8"/>
<rect x="151.70" y="511.76" width="3" height="3" fill="#c8c8c8"/>
<rect x="149.70" y="512.64" width="3" height="3" fill="#c8c8c8"/>
<rect x="147.20" y="514.10" width="3" height="3" fill="#c8c8c8"/>
<rect x="150.90" y="515.56" width="3" height="3" fill="#c8c8c8"/>
<rect x="148.90" y="517.02" width="3" height="3" fill="#c8c8c8"/>
<rect x="152.10" y="518.19" width="3" height="3" fill="#c8c8c8"/>
<rect x="147.70" y="519.36" width="3" height="3" fill="#c8c8c8"/>
<rect x="150.20" y="521.11" width="3" height="3" fill="#c8c8c8"/>
<rect x="148.20" y="522.86" width="3" height="3" fill="#c8c8c8"/>
<rect x="150.70" y="523.74" width="3" height="3" fill="#c8c8c8"/>
<rect x="146.70" y="511.18" width="3" height="3" fill="#c8c8c8"/>
<rect x="152.70" y="514.68" width="3" height="3" fill="#c8c8c8"/>
<path d="M167.30 520.88L169.90 523.48L167.30 526.08L164.70 523.48Z" fill="#145893"/>
<path d="M166.80 524.68L169.40 527.28L166.80 529.88L164.20 527.28Z" fill="#145893"/>
<path d="M164.80 531.10L167.40 533.70L164.80 536.30L162.20 533.70Z" fill="#145893"/>
<path d="M167.80 531.69L170.40 534.29L167.80 536.89L165.20 534.29Z" fill="#145893"/>
<path d="M170.10 531.98L172.70 534.58L170.10 537.18L167.50 534.58Z" fill="#145893"/>
<path d="M166.30 532.56L168.90 535.16L166.30 537.76L163.70 535.16Z" fill="#145893"/>
<path d="M168.80 533.44L171.40 536.04L168.80 538.64L166.20 536.04Z" fill="#145893"/>
<path d="M167.30 539.28L169.90 541.88L167.30 544.48L164.70 541.88Z" fill="#145893"/>
<path d="M170.10 535.78L172.70 538.38L170.10 540.98L167.50 538.38Z" fill="#145893"/>
<path d="M168.30 558.26L170.90 560.86L168.30 563.46L165.70 560.86Z" fill="#145893"/>
<path d="M167.10 560.01L169.70 562.61L167.10 565.21L164.50 562.61Z" fill="#145893"/>
<path d="M146.2 516.18H156.2M151.2 520.86V511.51M148.7 520.86H153.7M148.7 511.51H153.7" stroke="#9a9a9a" stroke-width="0.8" fill="none"/>
<path d="M162.3 538.67H172.3M167.3 550.93V526.40M164.8 550.93H169.8M164.8 526.40H169.8" stroke="#333" stroke-width="0.8" fill="none"/>
<path d="M151.7 503.0H166.8" stroke="#000" stroke-width="0.9"/>
<text x="159.25" y="503.30" font-size="8.5" text-anchor="middle" font-weight="bold" font-style="normal" fill="#000" >****</text>
<text transform="translate(114.8,536.4) rotate(-90)" font-size="7.8" text-anchor="middle" textLength="25.5" lengthAdjust="spacingAndGlyphs" style="stroke-width:0.25px">% T-bet<tspan dy="-2.6" font-size="5.2">+</tspan></text>
<text transform="translate(153.0,577.8) rotate(-90)" font-size="7" text-anchor="end" textLength="59" lengthAdjust="spacingAndGlyphs">GM-CSF<tspan dy="-2.4" font-size="4.8">+</tspan><tspan dy="2.4"> IFN-γ</tspan><tspan dy="-2.4" font-size="4.8">+</tspan></text>
<text transform="translate(169.1,577.8) rotate(-90)" font-size="7" text-anchor="end" textLength="59" lengthAdjust="spacingAndGlyphs">GM-CSF<tspan dy="-2.4" font-size="4.8">+</tspan><tspan dy="2.4"> IFN-γ</tspan><tspan dy="-2.4" font-size="4.8">−</tspan></text>
<path d="M318.5 497.0V573.8H355.8" stroke="#000" stroke-width="1.2" fill="none"/>
<path d="M315.3 501.02H318.5M315.3 525.28H318.5M315.3 549.54H318.5M315.3 573.80H318.5M329.3 573.8V577.0M344.7 573.8V577.0" stroke="#000" stroke-width="1" fill="none"/>
<text x="312.70" y="503.77" font-size="7.8" text-anchor="end" font-weight="normal" font-style="normal" fill="#000" >60</text>
<text x="312.70" y="528.03" font-size="7.8" text-anchor="end" font-weight="normal" font-style="normal" fill="#000" >40</text>
<text x="312.70" y="552.29" font-size="7.8" text-anchor="end" font-weight="normal" font-style="normal" fill="#000" >20</text>
<text x="312.70" y="576.55" font-size="7.8" text-anchor="end" font-weight="normal" font-style="normal" fill="#000" >0</text>
<rect x="326.80" y="533.48" width="3" height="3" fill="#c8c8c8"/>
<rect x="326.00" y="538.94" width="3" height="3" fill="#c8c8c8"/>
<rect x="329.30" y="540.16" width="3" height="3" fill="#c8c8c8"/>
<rect x="325.80" y="544.40" width="3" height="3" fill="#c8c8c8"/>
<rect x="328.30" y="546.22" width="3" height="3" fill="#c8c8c8"/>
<rect x="330.30" y="548.04" width="3" height="3" fill="#c8c8c8"/>
<rect x="325.30" y="549.86" width="3" height="3" fill="#c8c8c8"/>
<rect x="328.80" y="551.07" width="3" height="3" fill="#c8c8c8"/>
<rect x="326.80" y="552.29" width="3" height="3" fill="#c8c8c8"/>
<rect x="329.80" y="553.50" width="3" height="3" fill="#c8c8c8"/>
<rect x="325.30" y="554.10" width="3" height="3" fill="#c8c8c8"/>
<rect x="329.30" y="555.08" width="3" height="3" fill="#c8c8c8"/>
<rect x="327.50" y="549.25" width="3" height="3" fill="#c8c8c8"/>
<path d="M343.70 505.70L346.30 508.30L343.70 510.90L341.10 508.30Z" fill="#145893"/>
<path d="M345.20 511.76L347.80 514.36L345.20 516.96L342.60 514.36Z" fill="#145893"/>
<path d="M343.20 514.19L345.80 516.79L343.20 519.39L340.60 516.79Z" fill="#145893"/>
<path d="M346.20 516.01L348.80 518.61L346.20 521.21L343.60 518.61Z" fill="#145893"/>
<path d="M344.70 517.83L347.30 520.43L344.70 523.03L342.10 520.43Z" fill="#145893"/>
<path d="M342.70 522.07L345.30 524.67L342.70 527.27L340.10 524.67Z" fill="#145893"/>
<path d="M346.20 526.93L348.80 529.53L346.20 532.13L343.60 529.53Z" fill="#145893"/>
<path d="M342.20 528.74L344.80 531.34L342.20 533.94L339.60 531.34Z" fill="#145893"/>
<path d="M347.20 529.96L349.80 532.56L347.20 535.16L344.60 532.56Z" fill="#145893"/>
<path d="M344.20 530.56L346.80 533.16L344.20 535.76L341.60 533.16Z" fill="#145893"/>
<path d="M345.70 532.38L348.30 534.98L345.70 537.58L343.10 534.98Z" fill="#145893"/>
<path d="M343.70 540.27L346.30 542.87L343.70 545.47L341.10 542.87Z" fill="#145893"/>
<path d="M324.3 549.30H334.3M329.3 553.79V544.08M326.8 553.79H331.8M326.8 544.08H331.8" stroke="#9a9a9a" stroke-width="0.8" fill="none"/>
<path d="M339.7 526.13H349.7M344.7 536.20V516.79M342.2 536.20H347.2M342.2 516.79H347.2" stroke="#333" stroke-width="0.8" fill="none"/>
<path d="M329.8 503.0H344.2" stroke="#000" stroke-width="0.9"/>
<text x="337.00" y="503.30" font-size="8.5" text-anchor="middle" font-weight="bold" font-style="normal" fill="#000" >****</text>
<text transform="translate(297.4,536.4) rotate(-90)" font-size="7.8" text-anchor="middle" textLength="28" lengthAdjust="spacingAndGlyphs" style="stroke-width:0.25px">% GATA3<tspan dy="-2.6" font-size="5.2">+</tspan></text>
<text transform="translate(331.1,577.8) rotate(-90)" font-size="7" text-anchor="end" textLength="59" lengthAdjust="spacingAndGlyphs">GM-CSF<tspan dy="-2.4" font-size="4.8">+</tspan><tspan dy="2.4"> IFN-γ</tspan><tspan dy="-2.4" font-size="4.8">+</tspan></text>
<text transform="translate(346.5,577.8) rotate(-90)" font-size="7" text-anchor="end" textLength="59" lengthAdjust="spacingAndGlyphs">GM-CSF<tspan dy="-2.4" font-size="4.8">+</tspan><tspan dy="2.4"> IFN-γ</tspan><tspan dy="-2.4" font-size="4.8">−</tspan></text>
<rect x="0.5" y="0.5" width="519" height="650" fill="none" stroke="#000" stroke-width="1"/>
</svg>
</body></html>
